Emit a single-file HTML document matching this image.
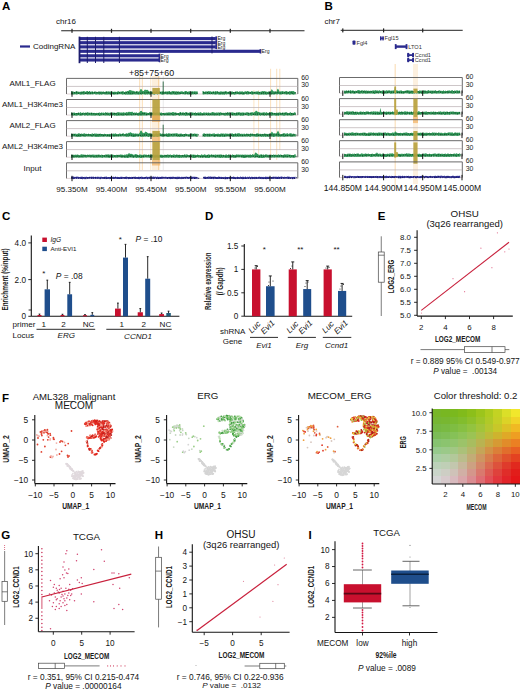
<!DOCTYPE html>
<html><head><meta charset="utf-8"><style>
html,body{margin:0;padding:0;background:#fff;overflow:hidden;width:520px;height:691px;}
svg{display:block;font-family:"Liberation Sans", sans-serif;}
</style></head><body>
<svg width="520" height="691" viewBox="0 0 520 691">
<rect width="520" height="691" fill="#fff"/>
<text x="2.00" y="10.00" font-size="11.5" font-weight="bold" fill="#000">A</text>
<text x="56.00" y="24.00" font-size="8" fill="#141414">chr16</text>
<line x1="61.20" y1="30.80" x2="304.50" y2="30.80" stroke="#222" stroke-width="1.1"/>
<rect x="71.40" y="28.80" width="1.20" height="4.00" fill="#222"/>
<rect x="110.90" y="28.80" width="1.20" height="4.00" fill="#222"/>
<rect x="150.40" y="28.80" width="1.20" height="4.00" fill="#222"/>
<rect x="190.10" y="28.80" width="1.20" height="4.00" fill="#222"/>
<rect x="229.70" y="28.80" width="1.20" height="4.00" fill="#222"/>
<rect x="269.40" y="28.80" width="1.20" height="4.00" fill="#222"/>
<line x1="20.00" y1="46.50" x2="30.00" y2="46.50" stroke="#2a2a8e" stroke-width="2.2"/>
<text x="33.00" y="49.40" font-size="8" fill="#141414">CodingRNA</text>
<rect x="79.00" y="37.05" width="136.80" height="3.10" fill="#2a2a8e"/>
<path d="M215.3,36.6 L217.1,36.2 L217.1,41.0 L215.3,40.6 Z" fill="#2a2a8e"/>
<text x="217.40" y="40.40" font-size="5.1" fill="#222">Erg</text>
<rect x="79.00" y="41.15" width="136.80" height="3.10" fill="#2a2a8e"/>
<path d="M215.3,40.7 L217.1,40.3 L217.1,45.1 L215.3,44.7 Z" fill="#2a2a8e"/>
<text x="217.40" y="44.50" font-size="5.1" fill="#222">Erg</text>
<rect x="79.00" y="45.35" width="136.80" height="3.10" fill="#2a2a8e"/>
<path d="M215.3,44.9 L217.1,44.5 L217.1,49.3 L215.3,48.9 Z" fill="#2a2a8e"/>
<text x="217.40" y="48.70" font-size="5.1" fill="#222">Erg</text>
<rect x="79.00" y="49.75" width="181.00" height="3.10" fill="#2a2a8e"/>
<path d="M259.5,49.3 L261.3,48.9 L261.3,53.7 L259.5,53.3 Z" fill="#2a2a8e"/>
<text x="261.60" y="53.10" font-size="5.1" fill="#222">Erg</text>
<rect x="79.00" y="54.25" width="80.00" height="3.10" fill="#2a2a8e"/>
<path d="M158.5,53.8 L160.3,53.4 L160.3,58.2 L158.5,57.8 Z" fill="#2a2a8e"/>
<text x="160.60" y="57.60" font-size="5.1" fill="#222">Erg</text>
<rect x="79.00" y="58.45" width="80.00" height="3.10" fill="#2a2a8e"/>
<path d="M158.5,58.0 L160.3,57.6 L160.3,62.4 L158.5,62.0 Z" fill="#2a2a8e"/>
<text x="160.60" y="61.80" font-size="5.1" fill="#222">Erg</text>
<rect x="78.60" y="36.60" width="1.80" height="26.60" fill="#1c1c6e"/>
<rect x="86.80" y="36.80" width="1.00" height="26.20" fill="#1c1c6e"/>
<rect x="95.00" y="36.80" width="1.00" height="26.20" fill="#1c1c6e"/>
<rect x="103.30" y="36.80" width="1.00" height="26.20" fill="#1c1c6e"/>
<rect x="118.90" y="36.80" width="1.00" height="26.20" fill="#1c1c6e"/>
<rect x="211.50" y="36.50" width="1.00" height="4.20" fill="#1c1c6e"/>
<rect x="211.50" y="40.60" width="1.00" height="4.20" fill="#1c1c6e"/>
<rect x="211.50" y="44.80" width="1.00" height="4.20" fill="#1c1c6e"/>
<rect x="211.50" y="49.20" width="1.00" height="4.20" fill="#1c1c6e"/>
<text x="129.00" y="76.00" font-size="8.9" fill="#141414">+85+75+60</text>
<text x="32.50" y="86.20" font-size="8" text-anchor="middle" fill="#141414">AML1_FLAG</text>
<text x="32.50" y="107.30" font-size="8" text-anchor="middle" fill="#141414">AML1_H3K4me3</text>
<text x="32.50" y="128.40" font-size="8" text-anchor="middle" fill="#141414">AML2_FLAG</text>
<text x="32.50" y="149.40" font-size="8" text-anchor="middle" fill="#141414">AML2_H3K4me3</text>
<text x="32.50" y="170.60" font-size="8" text-anchor="middle" fill="#141414">Input</text>
<rect x="139.20" y="76.00" width="1.00" height="94.00" fill="#f6b45a" opacity="0.45"/>
<rect x="141.80" y="76.00" width="1.00" height="94.00" fill="#f6b45a" opacity="0.45"/>
<rect x="150.30" y="76.00" width="0.90" height="94.00" fill="#f6b45a" opacity="0.35"/>
<rect x="152.00" y="76.00" width="8.20" height="94.00" fill="#f4b460" opacity="0.22"/>
<rect x="158.00" y="76.00" width="1.00" height="94.00" fill="#f6b45a" opacity="0.4"/>
<rect x="162.80" y="76.00" width="0.80" height="94.00" fill="#bbbbbb" opacity="0.4"/>
<rect x="253.40" y="90.00" width="1.00" height="68.00" fill="#f6b45a" opacity="0.35"/>
<rect x="258.10" y="90.00" width="1.00" height="68.00" fill="#f6b45a" opacity="0.35"/>
<rect x="270.10" y="68.80" width="1.00" height="91.20" fill="#f6b45a" opacity="0.4"/>
<rect x="276.20" y="68.80" width="1.00" height="91.20" fill="#f6b45a" opacity="0.4"/>
<rect x="279.30" y="68.80" width="1.00" height="81.20" fill="#f6b45a" opacity="0.4"/>
<line x1="66.50" y1="94.00" x2="297.80" y2="94.00" stroke="#d8c8cc" stroke-width="0.8"/>
<path d="M66.5,94.0 V78.4 H297.8 V94.0" fill="none" stroke="#5a5a5a" stroke-width="0.9"/>
<line x1="66.50" y1="86.40" x2="297.80" y2="86.40" stroke="#b8aeb0" stroke-width="0.7"/>
<polygon points="71.0,91.6 71.7,91.0 72.4,91.5 73.1,91.8 73.8,91.4 74.5,91.9 75.2,91.9 75.9,91.3 76.6,91.0 77.3,91.3 78.0,91.9 78.7,91.5 79.4,91.8 80.1,92.0 80.8,91.6 81.5,91.5 82.2,91.5 82.9,91.5 83.6,91.0 84.3,91.1 85.0,91.7 85.7,91.7 86.4,91.2 87.1,91.1 87.8,91.0 88.5,92.0 89.2,91.1 89.9,91.0 90.6,92.0 91.3,91.2 92.0,91.9 92.7,91.0 93.4,91.9 94.1,91.9 94.8,91.2 95.5,91.4 96.2,91.8 96.9,91.9 97.6,91.9 98.3,91.8 99.0,91.0 99.7,91.7 100.4,91.8 101.1,91.1 101.8,91.9 102.5,91.8 103.2,91.2 103.9,91.7 104.6,91.9 105.3,91.8 106.0,91.6 106.7,91.0 107.4,91.4 108.1,91.8 108.8,91.1 109.5,91.8 110.2,91.2 110.9,91.8 111.6,91.1 112.3,91.6 113.0,92.0 113.7,91.8 114.4,91.8 115.1,91.4 115.8,91.9 116.5,92.0 117.2,91.4 117.9,91.4 118.6,91.0 119.3,92.0 120.0,91.6 120.7,91.8 121.4,91.4 122.1,91.6 122.8,91.0 123.5,91.3 124.2,91.9 124.9,92.0 125.6,91.2 126.3,91.8 127.0,91.1 127.7,91.1 128.4,91.1 129.1,90.2 129.8,90.0 130.5,90.0 131.2,90.7 131.9,90.3 132.6,91.1 133.3,90.8 134.0,91.2 134.7,91.3 135.4,91.9 136.1,91.0 136.8,91.2 137.5,91.2 138.2,91.5 138.9,91.7 139.6,91.1 140.3,89.6 141.0,88.8 141.7,89.4 142.4,90.7 143.1,91.1 143.8,91.1 144.5,89.8 145.2,89.8 145.9,89.7 146.6,90.0 147.3,89.8 148.0,90.3 148.7,91.0 149.4,91.7 150.1,91.1 150.8,91.3 151.5,91.7 152.2,91.6 152.9,91.8 153.6,91.4 154.3,91.7 155.0,91.0 155.7,92.0 156.4,91.1 157.1,91.3 157.8,91.7 158.5,92.0 159.2,91.5 159.9,91.1 160.6,91.9 161.3,91.4 162.0,91.4 162.7,91.2 163.4,91.3 164.1,91.5 164.8,92.0 165.5,91.3 166.2,91.7 166.9,91.3 167.6,91.4 168.3,91.6 169.0,91.1 169.7,91.0 170.4,91.9 171.1,91.4 171.8,91.6 172.5,91.1 173.2,91.0 173.9,91.3 174.6,91.3 175.3,91.3 176.0,91.8 176.7,91.0 177.4,91.5 178.1,91.7 178.8,91.1 179.5,92.0 180.2,91.4 180.9,91.5 181.6,91.2 182.3,91.2 183.0,91.7 183.7,91.9 184.4,91.5 185.1,91.1 185.8,91.0 186.5,91.0 187.2,91.8 187.9,91.7 188.6,91.4 189.3,91.1 190.0,91.7 190.7,91.1 191.4,91.8 192.1,91.0 192.8,91.4 193.5,91.5 194.2,91.4 194.9,91.0 195.6,91.6 196.3,91.4 197.0,91.3 197.7,91.5 197.7,94.3 197.0,94.1 196.3,94.4 195.6,94.6 194.9,94.4 194.2,94.0 193.5,94.4 192.8,94.2 192.1,94.4 191.4,94.7 190.7,94.7 190.0,94.3 189.3,94.4 188.6,94.4 187.9,94.6 187.2,94.4 186.5,94.1 185.8,94.4 185.1,94.6 184.4,94.6 183.7,94.1 183.0,94.6 182.3,94.1 181.6,94.1 180.9,94.0 180.2,94.6 179.5,94.4 178.8,94.3 178.1,94.7 177.4,94.6 176.7,94.8 176.0,94.7 175.3,94.6 174.6,94.7 173.9,94.2 173.2,94.4 172.5,94.6 171.8,94.5 171.1,94.7 170.4,94.4 169.7,94.6 169.0,94.1 168.3,94.6 167.6,94.6 166.9,94.4 166.2,94.3 165.5,94.1 164.8,94.4 164.1,94.1 163.4,94.2 162.7,94.8 162.0,94.5 161.3,94.4 160.6,94.0 159.9,94.2 159.2,94.0 158.5,94.1 157.8,94.6 157.1,94.5 156.4,94.0 155.7,94.0 155.0,94.4 154.3,94.7 153.6,94.4 152.9,94.3 152.2,94.2 151.5,94.1 150.8,94.8 150.1,94.7 149.4,94.4 148.7,94.3 148.0,94.3 147.3,94.7 146.6,94.3 145.9,94.5 145.2,94.7 144.5,94.5 143.8,94.1 143.1,94.5 142.4,94.0 141.7,94.7 141.0,94.4 140.3,94.2 139.6,94.5 138.9,94.6 138.2,94.7 137.5,94.5 136.8,94.3 136.1,94.7 135.4,94.5 134.7,94.5 134.0,94.3 133.3,94.5 132.6,94.6 131.9,94.7 131.2,94.5 130.5,94.7 129.8,94.6 129.1,94.7 128.4,94.4 127.7,94.8 127.0,94.6 126.3,94.5 125.6,94.8 124.9,94.7 124.2,94.0 123.5,94.5 122.8,94.5 122.1,94.7 121.4,94.1 120.7,94.3 120.0,94.0 119.3,94.2 118.6,94.2 117.9,94.2 117.2,94.7 116.5,94.2 115.8,94.6 115.1,94.2 114.4,94.7 113.7,94.6 113.0,94.8 112.3,94.1 111.6,94.5 110.9,94.8 110.2,94.8 109.5,94.2 108.8,94.7 108.1,94.1 107.4,94.7 106.7,94.4 106.0,94.4 105.3,94.5 104.6,94.5 103.9,94.1 103.2,94.3 102.5,94.2 101.8,94.8 101.1,94.5 100.4,94.3 99.7,94.7 99.0,94.6 98.3,94.2 97.6,94.3 96.9,94.5 96.2,94.6 95.5,94.4 94.8,94.1 94.1,94.0 93.4,94.2 92.7,94.6 92.0,94.3 91.3,94.2 90.6,94.5 89.9,94.3 89.2,94.4 88.5,94.2 87.8,94.7 87.1,94.3 86.4,94.3 85.7,94.1 85.0,94.2 84.3,94.6 83.6,94.8 82.9,94.2 82.2,94.5 81.5,94.5 80.8,94.7 80.1,94.4 79.4,94.2 78.7,94.0 78.0,94.0 77.3,94.5 76.6,94.8 75.9,94.0 75.2,94.6 74.5,94.2 73.8,94.6 73.1,94.4 72.4,94.5 71.7,94.4 71.0,94.4" fill="#349a5c"/>
<rect x="71.5" y="92.8" width="1.1" height="1.3" fill="#0a4f24" opacity="0.85"/>
<rect x="74.0" y="92.1" width="1.1" height="1.3" fill="#0a4f24" opacity="0.85"/>
<rect x="76.1" y="91.9" width="1.1" height="1.3" fill="#0a4f24" opacity="0.85"/>
<rect x="78.1" y="92.6" width="1.1" height="1.3" fill="#0a4f24" opacity="0.85"/>
<rect x="80.6" y="92.3" width="1.1" height="1.3" fill="#0a4f24" opacity="0.85"/>
<rect x="82.5" y="92.0" width="1.1" height="1.3" fill="#0a4f24" opacity="0.85"/>
<rect x="84.8" y="92.7" width="1.1" height="1.3" fill="#0a4f24" opacity="0.85"/>
<rect x="86.5" y="92.6" width="1.1" height="1.3" fill="#0a4f24" opacity="0.85"/>
<rect x="88.1" y="92.0" width="1.1" height="1.3" fill="#0a4f24" opacity="0.85"/>
<rect x="89.9" y="92.5" width="1.1" height="1.3" fill="#0a4f24" opacity="0.85"/>
<rect x="91.9" y="92.2" width="1.1" height="1.3" fill="#0a4f24" opacity="0.85"/>
<rect x="94.1" y="91.9" width="1.1" height="1.3" fill="#0a4f24" opacity="0.85"/>
<rect x="96.4" y="91.9" width="1.1" height="1.3" fill="#0a4f24" opacity="0.85"/>
<rect x="98.5" y="92.1" width="1.1" height="1.3" fill="#0a4f24" opacity="0.85"/>
<rect x="100.3" y="92.3" width="1.1" height="1.3" fill="#0a4f24" opacity="0.85"/>
<rect x="102.4" y="92.2" width="1.1" height="1.3" fill="#0a4f24" opacity="0.85"/>
<rect x="104.4" y="92.3" width="1.1" height="1.3" fill="#0a4f24" opacity="0.85"/>
<rect x="106.1" y="92.0" width="1.1" height="1.3" fill="#0a4f24" opacity="0.85"/>
<rect x="108.4" y="92.4" width="1.1" height="1.3" fill="#0a4f24" opacity="0.85"/>
<rect x="110.5" y="92.7" width="1.1" height="1.3" fill="#0a4f24" opacity="0.85"/>
<rect x="112.7" y="92.7" width="1.1" height="1.3" fill="#0a4f24" opacity="0.85"/>
<rect x="114.5" y="92.6" width="1.1" height="1.3" fill="#0a4f24" opacity="0.85"/>
<rect x="117.0" y="92.7" width="1.1" height="1.3" fill="#0a4f24" opacity="0.85"/>
<rect x="118.9" y="92.1" width="1.1" height="1.3" fill="#0a4f24" opacity="0.85"/>
<rect x="121.4" y="92.0" width="1.1" height="1.3" fill="#0a4f24" opacity="0.85"/>
<rect x="124.0" y="92.7" width="1.1" height="1.3" fill="#0a4f24" opacity="0.85"/>
<rect x="125.7" y="92.0" width="1.1" height="1.3" fill="#0a4f24" opacity="0.85"/>
<rect x="128.0" y="92.1" width="1.1" height="1.3" fill="#0a4f24" opacity="0.85"/>
<rect x="129.7" y="92.6" width="1.1" height="1.3" fill="#0a4f24" opacity="0.85"/>
<rect x="131.8" y="92.6" width="1.1" height="1.3" fill="#0a4f24" opacity="0.85"/>
<rect x="133.5" y="92.2" width="1.1" height="1.3" fill="#0a4f24" opacity="0.85"/>
<rect x="135.8" y="91.8" width="1.1" height="1.3" fill="#0a4f24" opacity="0.85"/>
<rect x="137.6" y="92.5" width="1.1" height="1.3" fill="#0a4f24" opacity="0.85"/>
<rect x="140.1" y="92.8" width="1.1" height="1.3" fill="#0a4f24" opacity="0.85"/>
<rect x="141.8" y="92.3" width="1.1" height="1.3" fill="#0a4f24" opacity="0.85"/>
<rect x="144.2" y="92.3" width="1.1" height="1.3" fill="#0a4f24" opacity="0.85"/>
<rect x="146.5" y="92.0" width="1.1" height="1.3" fill="#0a4f24" opacity="0.85"/>
<rect x="148.1" y="91.9" width="1.1" height="1.3" fill="#0a4f24" opacity="0.85"/>
<rect x="149.8" y="92.4" width="1.1" height="1.3" fill="#0a4f24" opacity="0.85"/>
<rect x="151.9" y="92.4" width="1.1" height="1.3" fill="#0a4f24" opacity="0.85"/>
<rect x="153.6" y="92.0" width="1.1" height="1.3" fill="#0a4f24" opacity="0.85"/>
<rect x="155.4" y="92.7" width="1.1" height="1.3" fill="#0a4f24" opacity="0.85"/>
<rect x="158.0" y="92.7" width="1.1" height="1.3" fill="#0a4f24" opacity="0.85"/>
<rect x="159.7" y="91.9" width="1.1" height="1.3" fill="#0a4f24" opacity="0.85"/>
<rect x="162.3" y="92.3" width="1.1" height="1.3" fill="#0a4f24" opacity="0.85"/>
<rect x="164.6" y="92.1" width="1.1" height="1.3" fill="#0a4f24" opacity="0.85"/>
<rect x="166.7" y="92.3" width="1.1" height="1.3" fill="#0a4f24" opacity="0.85"/>
<rect x="168.7" y="92.4" width="1.1" height="1.3" fill="#0a4f24" opacity="0.85"/>
<rect x="170.3" y="92.5" width="1.1" height="1.3" fill="#0a4f24" opacity="0.85"/>
<rect x="172.8" y="92.0" width="1.1" height="1.3" fill="#0a4f24" opacity="0.85"/>
<rect x="174.8" y="92.5" width="1.1" height="1.3" fill="#0a4f24" opacity="0.85"/>
<rect x="176.8" y="92.0" width="1.1" height="1.3" fill="#0a4f24" opacity="0.85"/>
<rect x="178.6" y="92.3" width="1.1" height="1.3" fill="#0a4f24" opacity="0.85"/>
<rect x="180.2" y="92.7" width="1.1" height="1.3" fill="#0a4f24" opacity="0.85"/>
<rect x="182.6" y="92.5" width="1.1" height="1.3" fill="#0a4f24" opacity="0.85"/>
<rect x="185.1" y="92.4" width="1.1" height="1.3" fill="#0a4f24" opacity="0.85"/>
<rect x="187.1" y="92.4" width="1.1" height="1.3" fill="#0a4f24" opacity="0.85"/>
<rect x="189.2" y="92.8" width="1.1" height="1.3" fill="#0a4f24" opacity="0.85"/>
<rect x="191.6" y="92.1" width="1.1" height="1.3" fill="#0a4f24" opacity="0.85"/>
<rect x="194.1" y="92.6" width="1.1" height="1.3" fill="#0a4f24" opacity="0.85"/>
<rect x="196.5" y="92.6" width="1.1" height="1.3" fill="#0a4f24" opacity="0.85"/>
<line x1="163.20" y1="94.50" x2="163.20" y2="81.50" stroke="#0a4f24" stroke-width="0.8"/>
<polygon points="202.5,91.1 203.2,91.0 203.9,91.6 204.6,91.9 205.3,91.6 206.0,91.3 206.7,91.6 207.4,91.8 208.1,91.1 208.8,91.2 209.5,91.2 210.2,91.4 210.9,91.1 211.6,91.9 212.3,91.5 213.0,91.8 213.7,91.0 214.4,92.0 215.1,91.0 215.8,91.3 216.5,91.5 217.2,91.1 217.9,91.3 218.6,91.9 219.3,91.9 220.0,91.2 220.7,91.4 221.4,91.6 222.1,91.3 222.8,91.9 223.5,91.6 224.2,91.5 224.9,91.4 225.6,91.0 226.3,91.0 227.0,91.9 227.7,91.7 228.4,92.0 229.1,91.1 229.8,91.4 230.5,91.6 231.2,91.4 231.9,91.5 232.6,91.6 233.3,91.9 234.0,91.9 234.7,91.9 235.4,91.2 236.1,92.0 236.8,91.0 237.5,91.2 238.2,92.0 238.9,91.7 239.6,91.3 240.3,91.4 241.0,91.6 241.7,91.4 242.4,91.3 243.1,91.7 243.8,91.9 244.5,91.5 245.2,91.4 245.9,91.1 246.6,91.8 247.3,91.0 248.0,91.1 248.7,91.4 249.4,91.8 250.1,91.7 250.8,92.0 251.5,91.1 252.2,91.2 252.9,91.5 253.6,91.7 254.3,91.7 255.0,92.0 255.7,91.4 256.4,91.5 257.1,91.2 257.8,91.6 258.5,91.3 259.2,92.0 259.9,91.8 260.6,91.8 261.3,91.5 262.0,91.2 262.7,91.1 263.4,91.3 264.1,91.2 264.8,91.1 265.5,91.6 266.2,91.6 266.9,91.8 267.6,91.9 268.3,91.2 269.0,91.7 269.7,91.4 270.4,91.4 271.1,90.6 271.8,89.1 272.5,90.2 273.2,91.0 273.9,91.6 274.6,91.5 275.3,91.0 276.0,91.7 276.7,91.4 277.4,88.9 278.1,88.8 278.8,89.9 279.5,91.6 280.2,91.8 280.9,91.1 281.6,91.6 282.3,91.0 283.0,91.3 283.7,91.4 284.4,92.0 285.1,91.3 285.8,91.3 286.5,91.1 287.2,91.2 287.9,92.0 288.6,91.8 289.3,91.3 290.0,91.1 290.7,91.4 291.4,91.0 292.1,91.2 292.8,91.0 293.5,91.0 294.2,91.4 294.9,91.9 295.6,92.0 295.6,94.5 294.9,94.2 294.2,94.4 293.5,94.7 292.8,94.5 292.1,94.2 291.4,94.3 290.7,94.4 290.0,94.7 289.3,94.7 288.6,94.0 287.9,94.4 287.2,94.2 286.5,94.7 285.8,94.2 285.1,94.2 284.4,94.2 283.7,94.0 283.0,94.2 282.3,94.1 281.6,94.4 280.9,94.4 280.2,94.4 279.5,94.5 278.8,94.1 278.1,94.0 277.4,94.5 276.7,94.6 276.0,94.0 275.3,94.3 274.6,94.4 273.9,94.5 273.2,94.5 272.5,94.3 271.8,94.5 271.1,94.7 270.4,94.4 269.7,94.6 269.0,94.2 268.3,94.6 267.6,94.2 266.9,94.8 266.2,94.7 265.5,94.4 264.8,94.6 264.1,94.4 263.4,94.7 262.7,94.3 262.0,94.7 261.3,94.6 260.6,94.6 259.9,94.7 259.2,94.4 258.5,94.7 257.8,94.6 257.1,94.2 256.4,94.2 255.7,94.2 255.0,94.2 254.3,94.1 253.6,94.2 252.9,94.7 252.2,94.5 251.5,94.5 250.8,94.1 250.1,94.1 249.4,94.1 248.7,94.5 248.0,94.3 247.3,94.6 246.6,94.4 245.9,94.0 245.2,94.1 244.5,94.5 243.8,94.7 243.1,94.5 242.4,94.8 241.7,94.3 241.0,94.2 240.3,94.3 239.6,94.5 238.9,94.2 238.2,94.3 237.5,94.1 236.8,94.3 236.1,94.2 235.4,94.4 234.7,94.7 234.0,94.8 233.3,94.2 232.6,94.2 231.9,94.8 231.2,94.6 230.5,94.6 229.8,94.7 229.1,94.1 228.4,94.3 227.7,94.0 227.0,94.5 226.3,94.6 225.6,94.1 224.9,94.8 224.2,94.8 223.5,94.5 222.8,94.6 222.1,94.7 221.4,94.2 220.7,94.8 220.0,94.4 219.3,94.8 218.6,94.6 217.9,94.6 217.2,94.1 216.5,94.4 215.8,94.6 215.1,94.7 214.4,94.5 213.7,94.0 213.0,94.8 212.3,94.2 211.6,94.1 210.9,94.6 210.2,94.3 209.5,94.2 208.8,94.3 208.1,94.3 207.4,94.6 206.7,94.2 206.0,94.3 205.3,94.2 204.6,94.2 203.9,94.5 203.2,94.4 202.5,94.2" fill="#349a5c"/>
<rect x="203.0" y="92.0" width="1.1" height="1.3" fill="#0a4f24" opacity="0.85"/>
<rect x="204.6" y="92.4" width="1.1" height="1.3" fill="#0a4f24" opacity="0.85"/>
<rect x="206.9" y="91.9" width="1.1" height="1.3" fill="#0a4f24" opacity="0.85"/>
<rect x="208.7" y="92.7" width="1.1" height="1.3" fill="#0a4f24" opacity="0.85"/>
<rect x="211.0" y="92.6" width="1.1" height="1.3" fill="#0a4f24" opacity="0.85"/>
<rect x="212.9" y="91.9" width="1.1" height="1.3" fill="#0a4f24" opacity="0.85"/>
<rect x="215.1" y="92.4" width="1.1" height="1.3" fill="#0a4f24" opacity="0.85"/>
<rect x="217.3" y="91.9" width="1.1" height="1.3" fill="#0a4f24" opacity="0.85"/>
<rect x="219.5" y="92.7" width="1.1" height="1.3" fill="#0a4f24" opacity="0.85"/>
<rect x="221.6" y="92.3" width="1.1" height="1.3" fill="#0a4f24" opacity="0.85"/>
<rect x="223.4" y="92.2" width="1.1" height="1.3" fill="#0a4f24" opacity="0.85"/>
<rect x="225.2" y="91.9" width="1.1" height="1.3" fill="#0a4f24" opacity="0.85"/>
<rect x="227.8" y="92.1" width="1.1" height="1.3" fill="#0a4f24" opacity="0.85"/>
<rect x="229.5" y="92.4" width="1.1" height="1.3" fill="#0a4f24" opacity="0.85"/>
<rect x="231.3" y="92.6" width="1.1" height="1.3" fill="#0a4f24" opacity="0.85"/>
<rect x="233.1" y="92.1" width="1.1" height="1.3" fill="#0a4f24" opacity="0.85"/>
<rect x="235.0" y="91.9" width="1.1" height="1.3" fill="#0a4f24" opacity="0.85"/>
<rect x="237.4" y="92.4" width="1.1" height="1.3" fill="#0a4f24" opacity="0.85"/>
<rect x="239.6" y="92.8" width="1.1" height="1.3" fill="#0a4f24" opacity="0.85"/>
<rect x="241.3" y="92.6" width="1.1" height="1.3" fill="#0a4f24" opacity="0.85"/>
<rect x="243.2" y="92.7" width="1.1" height="1.3" fill="#0a4f24" opacity="0.85"/>
<rect x="245.8" y="92.2" width="1.1" height="1.3" fill="#0a4f24" opacity="0.85"/>
<rect x="248.2" y="92.2" width="1.1" height="1.3" fill="#0a4f24" opacity="0.85"/>
<rect x="250.0" y="92.2" width="1.1" height="1.3" fill="#0a4f24" opacity="0.85"/>
<rect x="252.2" y="92.3" width="1.1" height="1.3" fill="#0a4f24" opacity="0.85"/>
<rect x="254.2" y="91.9" width="1.1" height="1.3" fill="#0a4f24" opacity="0.85"/>
<rect x="256.5" y="92.5" width="1.1" height="1.3" fill="#0a4f24" opacity="0.85"/>
<rect x="258.7" y="92.0" width="1.1" height="1.3" fill="#0a4f24" opacity="0.85"/>
<rect x="261.0" y="92.6" width="1.1" height="1.3" fill="#0a4f24" opacity="0.85"/>
<rect x="262.9" y="92.1" width="1.1" height="1.3" fill="#0a4f24" opacity="0.85"/>
<rect x="265.0" y="92.4" width="1.1" height="1.3" fill="#0a4f24" opacity="0.85"/>
<rect x="267.5" y="92.6" width="1.1" height="1.3" fill="#0a4f24" opacity="0.85"/>
<rect x="269.1" y="92.1" width="1.1" height="1.3" fill="#0a4f24" opacity="0.85"/>
<rect x="271.3" y="92.7" width="1.1" height="1.3" fill="#0a4f24" opacity="0.85"/>
<rect x="273.6" y="92.6" width="1.1" height="1.3" fill="#0a4f24" opacity="0.85"/>
<rect x="275.3" y="92.1" width="1.1" height="1.3" fill="#0a4f24" opacity="0.85"/>
<rect x="277.3" y="91.9" width="1.1" height="1.3" fill="#0a4f24" opacity="0.85"/>
<rect x="279.6" y="92.4" width="1.1" height="1.3" fill="#0a4f24" opacity="0.85"/>
<rect x="281.9" y="92.5" width="1.1" height="1.3" fill="#0a4f24" opacity="0.85"/>
<rect x="284.2" y="91.8" width="1.1" height="1.3" fill="#0a4f24" opacity="0.85"/>
<rect x="286.3" y="92.4" width="1.1" height="1.3" fill="#0a4f24" opacity="0.85"/>
<rect x="288.1" y="92.1" width="1.1" height="1.3" fill="#0a4f24" opacity="0.85"/>
<rect x="290.6" y="91.9" width="1.1" height="1.3" fill="#0a4f24" opacity="0.85"/>
<rect x="292.2" y="92.7" width="1.1" height="1.3" fill="#0a4f24" opacity="0.85"/>
<rect x="294.7" y="92.2" width="1.1" height="1.3" fill="#0a4f24" opacity="0.85"/>
<rect x="152.40" y="88.00" width="7.40" height="6.00" fill="#b9a23e" opacity="0.92"/>
<line x1="72.00" y1="91.40" x2="72.00" y2="96.80" stroke="#111" stroke-width="1.0"/>
<line x1="111.50" y1="91.40" x2="111.50" y2="96.80" stroke="#111" stroke-width="1.0"/>
<line x1="151.00" y1="91.40" x2="151.00" y2="96.80" stroke="#111" stroke-width="1.0"/>
<line x1="190.70" y1="91.40" x2="190.70" y2="96.80" stroke="#111" stroke-width="1.0"/>
<line x1="230.30" y1="91.40" x2="230.30" y2="96.80" stroke="#111" stroke-width="1.0"/>
<line x1="270.00" y1="91.40" x2="270.00" y2="96.80" stroke="#111" stroke-width="1.0"/>
<text x="301.20" y="79.80" font-size="6.9" fill="#222">60</text>
<text x="301.20" y="87.40" font-size="6.9" fill="#222">30</text>
<line x1="66.50" y1="115.10" x2="297.80" y2="115.10" stroke="#d8c8cc" stroke-width="0.8"/>
<path d="M66.5,115.1 V99.5 H297.8 V115.1" fill="none" stroke="#5a5a5a" stroke-width="0.9"/>
<line x1="66.50" y1="107.50" x2="297.80" y2="107.50" stroke="#b8aeb0" stroke-width="0.7"/>
<polygon points="71.0,112.6 71.7,112.4 72.4,113.1 73.1,112.8 73.8,112.4 74.5,112.5 75.2,113.0 75.9,113.0 76.6,113.1 77.3,113.1 78.0,112.8 78.7,112.2 79.4,113.1 80.1,112.6 80.8,112.1 81.5,113.0 82.2,113.0 82.9,112.5 83.6,112.4 84.3,113.0 85.0,112.7 85.7,112.5 86.4,112.7 87.1,112.4 87.8,112.1 88.5,112.8 89.2,112.4 89.9,113.0 90.6,112.7 91.3,112.3 92.0,113.1 92.7,112.7 93.4,112.9 94.1,112.7 94.8,113.0 95.5,112.9 96.2,113.1 96.9,112.8 97.6,113.1 98.3,112.9 99.0,112.6 99.7,112.6 100.4,113.0 101.1,112.7 101.8,112.3 102.5,113.1 103.2,112.3 103.9,112.9 104.6,113.1 105.3,112.1 106.0,112.6 106.7,112.8 107.4,112.2 108.1,112.9 108.8,112.6 109.5,112.9 110.2,112.2 110.9,112.8 111.6,112.8 112.3,112.6 113.0,112.4 113.7,112.8 114.4,112.4 115.1,113.0 115.8,112.7 116.5,112.7 117.2,112.5 117.9,112.1 118.6,112.3 119.3,112.5 120.0,112.3 120.7,112.8 121.4,112.3 122.1,113.1 122.8,112.2 123.5,112.2 124.2,112.5 124.9,112.7 125.6,112.7 126.3,112.0 127.0,112.2 127.7,112.5 128.4,111.7 129.1,112.0 129.8,111.8 130.5,112.0 131.2,112.0 131.9,111.7 132.6,111.7 133.3,112.9 134.0,112.5 134.7,112.4 135.4,112.9 136.1,112.1 136.8,112.7 137.5,112.9 138.2,112.9 138.9,112.4 139.6,112.2 140.3,110.9 141.0,110.9 141.7,110.7 142.4,112.1 143.1,112.1 143.8,112.4 144.5,112.1 145.2,112.4 145.9,112.3 146.6,112.6 147.3,112.8 148.0,112.9 148.7,112.9 149.4,112.3 150.1,112.1 150.8,112.7 151.5,112.2 152.2,113.0 152.9,112.2 153.6,112.3 154.3,112.5 155.0,112.7 155.7,112.7 156.4,112.3 157.1,112.9 157.8,112.1 158.5,113.1 159.2,112.2 159.9,112.8 160.6,112.8 161.3,112.2 162.0,112.9 162.7,113.1 163.4,113.1 164.1,113.0 164.8,112.8 165.5,112.9 166.2,112.2 166.9,113.0 167.6,112.6 168.3,112.6 169.0,112.3 169.7,112.5 170.4,112.5 171.1,112.7 171.8,112.4 172.5,112.1 173.2,112.2 173.9,112.1 174.6,112.7 175.3,112.5 176.0,112.2 176.7,113.1 177.4,113.0 178.1,113.1 178.8,113.0 179.5,112.5 180.2,112.1 180.9,112.1 181.6,112.9 182.3,112.6 183.0,112.3 183.7,112.6 184.4,112.9 185.1,112.5 185.8,112.1 186.5,112.1 187.2,112.8 187.9,112.5 188.6,113.1 189.3,112.6 190.0,112.2 190.7,112.8 191.4,112.2 192.1,112.6 192.8,112.5 193.5,112.7 194.2,112.7 194.9,113.0 195.6,112.1 196.3,112.9 197.0,113.0 197.7,112.5 198.4,112.5 199.1,112.5 199.8,112.8 200.5,112.1 201.2,112.6 201.9,113.0 202.6,112.9 203.3,112.7 204.0,112.1 204.7,112.8 205.4,112.7 206.1,112.4 206.8,112.4 207.5,112.9 208.2,112.1 208.9,113.0 209.6,112.8 210.3,112.9 211.0,112.5 211.7,112.5 212.4,112.1 213.1,112.1 213.8,112.6 214.5,112.4 215.2,112.9 215.9,112.4 216.6,112.4 217.3,112.4 218.0,112.8 218.7,112.2 219.4,112.7 220.1,112.2 220.8,112.2 221.5,112.8 222.2,112.7 222.9,113.1 223.6,112.8 224.3,113.0 225.0,112.7 225.7,112.5 226.4,113.0 227.1,112.2 227.8,112.1 228.5,112.7 229.2,112.2 229.9,112.5 230.6,112.9 231.3,112.2 232.0,112.5 232.7,112.2 233.4,112.4 234.1,113.1 234.8,112.8 235.5,113.1 236.2,112.6 236.9,112.2 237.6,112.5 238.3,112.2 239.0,112.2 239.7,112.3 240.4,112.5 241.1,112.9 241.8,112.3 242.5,112.6 243.2,112.4 243.9,112.4 244.6,112.8 245.3,113.0 246.0,112.1 246.7,112.5 247.4,112.1 248.1,112.9 248.8,112.2 249.5,112.9 250.2,112.4 250.9,112.5 251.6,112.3 252.3,112.3 253.0,112.3 253.7,112.8 254.4,111.9 255.1,111.7 255.8,110.7 256.5,110.8 257.2,111.6 257.9,111.8 258.6,112.1 259.3,112.1 260.0,112.8 260.7,112.4 261.4,112.9 262.1,112.1 262.8,113.0 263.5,112.3 264.2,112.1 264.9,112.7 265.6,112.8 266.3,112.1 267.0,112.4 267.7,112.9 268.4,113.1 269.1,112.6 269.8,112.1 270.5,112.4 271.2,112.3 271.9,112.1 272.6,112.4 273.3,113.0 274.0,112.7 274.7,112.9 275.4,113.0 276.1,112.8 276.8,112.4 277.5,112.7 278.2,112.9 278.9,112.2 279.6,112.4 280.3,112.6 281.0,112.8 281.7,113.0 282.4,112.4 283.1,112.2 283.8,113.0 284.5,112.5 285.2,112.5 285.9,112.1 286.6,112.2 287.3,112.8 288.0,112.9 288.7,112.9 289.4,113.0 290.1,112.1 290.8,112.4 291.5,113.1 292.2,113.0 292.9,112.7 293.6,112.9 294.3,112.2 295.0,112.3 295.7,112.8 295.7,115.3 295.0,115.2 294.3,115.1 293.6,115.1 292.9,115.8 292.2,115.3 291.5,115.8 290.8,115.4 290.1,115.8 289.4,115.3 288.7,115.2 288.0,115.8 287.3,115.5 286.6,115.2 285.9,115.5 285.2,115.2 284.5,115.7 283.8,115.9 283.1,115.2 282.4,115.5 281.7,115.3 281.0,115.6 280.3,115.2 279.6,115.2 278.9,115.6 278.2,115.9 277.5,115.4 276.8,115.5 276.1,115.9 275.4,115.6 274.7,115.4 274.0,115.2 273.3,115.5 272.6,115.6 271.9,115.8 271.2,115.7 270.5,115.5 269.8,115.5 269.1,115.8 268.4,115.2 267.7,115.3 267.0,115.5 266.3,115.8 265.6,115.1 264.9,115.8 264.2,115.7 263.5,115.6 262.8,115.4 262.1,115.2 261.4,115.2 260.7,115.7 260.0,115.8 259.3,115.1 258.6,115.4 257.9,115.3 257.2,115.9 256.5,115.5 255.8,115.4 255.1,115.5 254.4,115.4 253.7,115.1 253.0,115.4 252.3,115.3 251.6,115.8 250.9,115.7 250.2,115.3 249.5,115.4 248.8,115.9 248.1,115.8 247.4,115.5 246.7,115.2 246.0,115.2 245.3,115.1 244.6,115.2 243.9,115.4 243.2,115.8 242.5,115.7 241.8,115.7 241.1,115.4 240.4,115.9 239.7,115.5 239.0,115.1 238.3,115.4 237.6,115.5 236.9,115.8 236.2,115.5 235.5,115.8 234.8,115.4 234.1,115.5 233.4,115.4 232.7,115.8 232.0,115.2 231.3,115.2 230.6,115.5 229.9,115.7 229.2,115.7 228.5,115.3 227.8,115.5 227.1,115.8 226.4,115.3 225.7,115.8 225.0,115.5 224.3,115.8 223.6,115.2 222.9,115.2 222.2,115.1 221.5,115.3 220.8,115.4 220.1,115.2 219.4,115.9 218.7,115.7 218.0,115.1 217.3,115.4 216.6,115.6 215.9,115.5 215.2,115.5 214.5,115.7 213.8,115.4 213.1,115.4 212.4,115.5 211.7,115.5 211.0,115.6 210.3,115.3 209.6,115.8 208.9,115.5 208.2,115.6 207.5,115.7 206.8,115.2 206.1,115.2 205.4,115.5 204.7,115.6 204.0,115.3 203.3,115.4 202.6,115.4 201.9,115.4 201.2,115.5 200.5,115.4 199.8,115.4 199.1,115.4 198.4,115.6 197.7,115.2 197.0,115.7 196.3,115.4 195.6,115.7 194.9,115.5 194.2,115.6 193.5,115.3 192.8,115.5 192.1,115.3 191.4,115.9 190.7,115.4 190.0,115.7 189.3,115.7 188.6,115.3 187.9,115.6 187.2,115.8 186.5,115.4 185.8,115.7 185.1,115.9 184.4,115.2 183.7,115.4 183.0,115.4 182.3,115.3 181.6,115.8 180.9,115.1 180.2,115.7 179.5,115.9 178.8,115.6 178.1,115.3 177.4,115.1 176.7,115.2 176.0,115.2 175.3,115.7 174.6,115.4 173.9,115.6 173.2,115.7 172.5,115.5 171.8,115.3 171.1,115.5 170.4,115.4 169.7,115.5 169.0,115.5 168.3,115.6 167.6,115.5 166.9,115.6 166.2,115.6 165.5,115.3 164.8,115.3 164.1,115.7 163.4,115.2 162.7,115.3 162.0,115.8 161.3,115.8 160.6,115.2 159.9,115.7 159.2,115.8 158.5,115.8 157.8,115.5 157.1,115.3 156.4,115.2 155.7,115.4 155.0,115.4 154.3,115.3 153.6,115.4 152.9,115.6 152.2,115.6 151.5,115.4 150.8,115.8 150.1,115.6 149.4,115.3 148.7,115.1 148.0,115.5 147.3,115.2 146.6,115.4 145.9,115.4 145.2,115.4 144.5,115.5 143.8,115.6 143.1,115.4 142.4,115.5 141.7,115.8 141.0,115.5 140.3,115.8 139.6,115.5 138.9,115.7 138.2,115.8 137.5,115.4 136.8,115.3 136.1,115.1 135.4,115.4 134.7,115.4 134.0,115.2 133.3,115.5 132.6,115.4 131.9,115.6 131.2,115.7 130.5,115.2 129.8,115.6 129.1,115.4 128.4,115.4 127.7,115.5 127.0,115.6 126.3,115.7 125.6,115.3 124.9,115.2 124.2,115.7 123.5,115.8 122.8,115.7 122.1,115.7 121.4,115.6 120.7,115.4 120.0,115.6 119.3,115.8 118.6,115.4 117.9,115.9 117.2,115.6 116.5,115.9 115.8,115.3 115.1,115.8 114.4,115.7 113.7,115.3 113.0,115.3 112.3,115.7 111.6,115.9 110.9,115.8 110.2,115.2 109.5,115.9 108.8,115.6 108.1,115.5 107.4,115.6 106.7,115.7 106.0,115.1 105.3,115.9 104.6,115.6 103.9,115.1 103.2,115.4 102.5,115.3 101.8,115.8 101.1,115.3 100.4,115.8 99.7,115.9 99.0,115.9 98.3,115.3 97.6,115.5 96.9,115.6 96.2,115.3 95.5,115.7 94.8,115.5 94.1,115.7 93.4,115.4 92.7,115.5 92.0,115.8 91.3,115.5 90.6,115.5 89.9,115.3 89.2,115.6 88.5,115.4 87.8,115.6 87.1,115.9 86.4,115.1 85.7,115.5 85.0,115.4 84.3,115.8 83.6,115.1 82.9,115.2 82.2,115.4 81.5,115.4 80.8,115.9 80.1,115.2 79.4,115.8 78.7,115.1 78.0,115.4 77.3,115.6 76.6,115.8 75.9,115.8 75.2,115.5 74.5,115.6 73.8,115.6 73.1,115.7 72.4,115.4 71.7,115.2 71.0,115.6" fill="#349a5c"/>
<rect x="71.5" y="113.3" width="1.1" height="1.3" fill="#0a4f24" opacity="0.85"/>
<rect x="74.0" y="113.7" width="1.1" height="1.3" fill="#0a4f24" opacity="0.85"/>
<rect x="76.2" y="113.0" width="1.1" height="1.3" fill="#0a4f24" opacity="0.85"/>
<rect x="77.9" y="113.2" width="1.1" height="1.3" fill="#0a4f24" opacity="0.85"/>
<rect x="80.3" y="113.8" width="1.1" height="1.3" fill="#0a4f24" opacity="0.85"/>
<rect x="82.0" y="113.2" width="1.1" height="1.3" fill="#0a4f24" opacity="0.85"/>
<rect x="84.5" y="113.1" width="1.1" height="1.3" fill="#0a4f24" opacity="0.85"/>
<rect x="86.2" y="113.2" width="1.1" height="1.3" fill="#0a4f24" opacity="0.85"/>
<rect x="88.7" y="113.2" width="1.1" height="1.3" fill="#0a4f24" opacity="0.85"/>
<rect x="91.0" y="113.0" width="1.1" height="1.3" fill="#0a4f24" opacity="0.85"/>
<rect x="93.3" y="113.1" width="1.1" height="1.3" fill="#0a4f24" opacity="0.85"/>
<rect x="95.5" y="113.7" width="1.1" height="1.3" fill="#0a4f24" opacity="0.85"/>
<rect x="97.9" y="113.3" width="1.1" height="1.3" fill="#0a4f24" opacity="0.85"/>
<rect x="100.5" y="113.3" width="1.1" height="1.3" fill="#0a4f24" opacity="0.85"/>
<rect x="103.1" y="113.8" width="1.1" height="1.3" fill="#0a4f24" opacity="0.85"/>
<rect x="105.7" y="113.0" width="1.1" height="1.3" fill="#0a4f24" opacity="0.85"/>
<rect x="107.5" y="113.6" width="1.1" height="1.3" fill="#0a4f24" opacity="0.85"/>
<rect x="110.0" y="113.2" width="1.1" height="1.3" fill="#0a4f24" opacity="0.85"/>
<rect x="112.4" y="113.4" width="1.1" height="1.3" fill="#0a4f24" opacity="0.85"/>
<rect x="114.0" y="113.0" width="1.1" height="1.3" fill="#0a4f24" opacity="0.85"/>
<rect x="115.6" y="113.1" width="1.1" height="1.3" fill="#0a4f24" opacity="0.85"/>
<rect x="118.1" y="113.6" width="1.1" height="1.3" fill="#0a4f24" opacity="0.85"/>
<rect x="120.6" y="113.8" width="1.1" height="1.3" fill="#0a4f24" opacity="0.85"/>
<rect x="122.6" y="113.6" width="1.1" height="1.3" fill="#0a4f24" opacity="0.85"/>
<rect x="124.8" y="113.6" width="1.1" height="1.3" fill="#0a4f24" opacity="0.85"/>
<rect x="126.5" y="113.8" width="1.1" height="1.3" fill="#0a4f24" opacity="0.85"/>
<rect x="128.3" y="113.4" width="1.1" height="1.3" fill="#0a4f24" opacity="0.85"/>
<rect x="130.6" y="113.7" width="1.1" height="1.3" fill="#0a4f24" opacity="0.85"/>
<rect x="133.0" y="113.2" width="1.1" height="1.3" fill="#0a4f24" opacity="0.85"/>
<rect x="134.9" y="113.6" width="1.1" height="1.3" fill="#0a4f24" opacity="0.85"/>
<rect x="136.6" y="113.8" width="1.1" height="1.3" fill="#0a4f24" opacity="0.85"/>
<rect x="138.5" y="113.3" width="1.1" height="1.3" fill="#0a4f24" opacity="0.85"/>
<rect x="140.4" y="113.6" width="1.1" height="1.3" fill="#0a4f24" opacity="0.85"/>
<rect x="142.2" y="113.0" width="1.1" height="1.3" fill="#0a4f24" opacity="0.85"/>
<rect x="143.8" y="113.0" width="1.1" height="1.3" fill="#0a4f24" opacity="0.85"/>
<rect x="146.0" y="113.9" width="1.1" height="1.3" fill="#0a4f24" opacity="0.85"/>
<rect x="147.7" y="113.4" width="1.1" height="1.3" fill="#0a4f24" opacity="0.85"/>
<rect x="149.6" y="113.2" width="1.1" height="1.3" fill="#0a4f24" opacity="0.85"/>
<rect x="151.6" y="113.0" width="1.1" height="1.3" fill="#0a4f24" opacity="0.85"/>
<rect x="153.6" y="113.2" width="1.1" height="1.3" fill="#0a4f24" opacity="0.85"/>
<rect x="155.2" y="113.0" width="1.1" height="1.3" fill="#0a4f24" opacity="0.85"/>
<rect x="157.8" y="113.6" width="1.1" height="1.3" fill="#0a4f24" opacity="0.85"/>
<rect x="160.3" y="113.7" width="1.1" height="1.3" fill="#0a4f24" opacity="0.85"/>
<rect x="162.7" y="113.1" width="1.1" height="1.3" fill="#0a4f24" opacity="0.85"/>
<rect x="164.4" y="113.9" width="1.1" height="1.3" fill="#0a4f24" opacity="0.85"/>
<rect x="166.7" y="113.6" width="1.1" height="1.3" fill="#0a4f24" opacity="0.85"/>
<rect x="168.4" y="113.7" width="1.1" height="1.3" fill="#0a4f24" opacity="0.85"/>
<rect x="170.6" y="113.0" width="1.1" height="1.3" fill="#0a4f24" opacity="0.85"/>
<rect x="172.4" y="113.9" width="1.1" height="1.3" fill="#0a4f24" opacity="0.85"/>
<rect x="174.6" y="113.0" width="1.1" height="1.3" fill="#0a4f24" opacity="0.85"/>
<rect x="176.3" y="113.7" width="1.1" height="1.3" fill="#0a4f24" opacity="0.85"/>
<rect x="178.2" y="113.4" width="1.1" height="1.3" fill="#0a4f24" opacity="0.85"/>
<rect x="180.0" y="113.1" width="1.1" height="1.3" fill="#0a4f24" opacity="0.85"/>
<rect x="182.1" y="113.3" width="1.1" height="1.3" fill="#0a4f24" opacity="0.85"/>
<rect x="183.8" y="113.1" width="1.1" height="1.3" fill="#0a4f24" opacity="0.85"/>
<rect x="185.9" y="113.0" width="1.1" height="1.3" fill="#0a4f24" opacity="0.85"/>
<rect x="187.6" y="113.4" width="1.1" height="1.3" fill="#0a4f24" opacity="0.85"/>
<rect x="189.2" y="113.6" width="1.1" height="1.3" fill="#0a4f24" opacity="0.85"/>
<rect x="191.6" y="113.6" width="1.1" height="1.3" fill="#0a4f24" opacity="0.85"/>
<rect x="194.1" y="113.1" width="1.1" height="1.3" fill="#0a4f24" opacity="0.85"/>
<rect x="196.1" y="113.3" width="1.1" height="1.3" fill="#0a4f24" opacity="0.85"/>
<rect x="197.8" y="113.8" width="1.1" height="1.3" fill="#0a4f24" opacity="0.85"/>
<rect x="199.5" y="113.9" width="1.1" height="1.3" fill="#0a4f24" opacity="0.85"/>
<rect x="201.7" y="113.9" width="1.1" height="1.3" fill="#0a4f24" opacity="0.85"/>
<rect x="203.4" y="113.8" width="1.1" height="1.3" fill="#0a4f24" opacity="0.85"/>
<rect x="206.0" y="113.7" width="1.1" height="1.3" fill="#0a4f24" opacity="0.85"/>
<rect x="208.1" y="113.6" width="1.1" height="1.3" fill="#0a4f24" opacity="0.85"/>
<rect x="210.2" y="113.8" width="1.1" height="1.3" fill="#0a4f24" opacity="0.85"/>
<rect x="212.4" y="113.5" width="1.1" height="1.3" fill="#0a4f24" opacity="0.85"/>
<rect x="214.4" y="113.5" width="1.1" height="1.3" fill="#0a4f24" opacity="0.85"/>
<rect x="216.6" y="113.9" width="1.1" height="1.3" fill="#0a4f24" opacity="0.85"/>
<rect x="219.0" y="113.2" width="1.1" height="1.3" fill="#0a4f24" opacity="0.85"/>
<rect x="221.3" y="113.1" width="1.1" height="1.3" fill="#0a4f24" opacity="0.85"/>
<rect x="223.4" y="113.4" width="1.1" height="1.3" fill="#0a4f24" opacity="0.85"/>
<rect x="225.7" y="113.0" width="1.1" height="1.3" fill="#0a4f24" opacity="0.85"/>
<rect x="227.4" y="113.1" width="1.1" height="1.3" fill="#0a4f24" opacity="0.85"/>
<rect x="229.7" y="113.1" width="1.1" height="1.3" fill="#0a4f24" opacity="0.85"/>
<rect x="231.8" y="113.8" width="1.1" height="1.3" fill="#0a4f24" opacity="0.85"/>
<rect x="233.8" y="113.1" width="1.1" height="1.3" fill="#0a4f24" opacity="0.85"/>
<rect x="236.0" y="113.3" width="1.1" height="1.3" fill="#0a4f24" opacity="0.85"/>
<rect x="238.1" y="113.1" width="1.1" height="1.3" fill="#0a4f24" opacity="0.85"/>
<rect x="240.4" y="113.3" width="1.1" height="1.3" fill="#0a4f24" opacity="0.85"/>
<rect x="242.9" y="113.4" width="1.1" height="1.3" fill="#0a4f24" opacity="0.85"/>
<rect x="245.2" y="113.8" width="1.1" height="1.3" fill="#0a4f24" opacity="0.85"/>
<rect x="247.8" y="112.9" width="1.1" height="1.3" fill="#0a4f24" opacity="0.85"/>
<rect x="250.3" y="113.0" width="1.1" height="1.3" fill="#0a4f24" opacity="0.85"/>
<rect x="252.9" y="113.7" width="1.1" height="1.3" fill="#0a4f24" opacity="0.85"/>
<rect x="254.7" y="113.6" width="1.1" height="1.3" fill="#0a4f24" opacity="0.85"/>
<rect x="256.9" y="113.4" width="1.1" height="1.3" fill="#0a4f24" opacity="0.85"/>
<rect x="259.1" y="113.4" width="1.1" height="1.3" fill="#0a4f24" opacity="0.85"/>
<rect x="261.4" y="113.6" width="1.1" height="1.3" fill="#0a4f24" opacity="0.85"/>
<rect x="263.0" y="113.5" width="1.1" height="1.3" fill="#0a4f24" opacity="0.85"/>
<rect x="265.3" y="113.8" width="1.1" height="1.3" fill="#0a4f24" opacity="0.85"/>
<rect x="267.4" y="113.5" width="1.1" height="1.3" fill="#0a4f24" opacity="0.85"/>
<rect x="269.2" y="113.1" width="1.1" height="1.3" fill="#0a4f24" opacity="0.85"/>
<rect x="271.7" y="113.0" width="1.1" height="1.3" fill="#0a4f24" opacity="0.85"/>
<rect x="274.2" y="113.0" width="1.1" height="1.3" fill="#0a4f24" opacity="0.85"/>
<rect x="276.2" y="113.5" width="1.1" height="1.3" fill="#0a4f24" opacity="0.85"/>
<rect x="277.8" y="113.4" width="1.1" height="1.3" fill="#0a4f24" opacity="0.85"/>
<rect x="280.2" y="113.3" width="1.1" height="1.3" fill="#0a4f24" opacity="0.85"/>
<rect x="282.0" y="113.0" width="1.1" height="1.3" fill="#0a4f24" opacity="0.85"/>
<rect x="284.5" y="113.0" width="1.1" height="1.3" fill="#0a4f24" opacity="0.85"/>
<rect x="286.8" y="113.5" width="1.1" height="1.3" fill="#0a4f24" opacity="0.85"/>
<rect x="288.7" y="113.5" width="1.1" height="1.3" fill="#0a4f24" opacity="0.85"/>
<rect x="291.0" y="113.1" width="1.1" height="1.3" fill="#0a4f24" opacity="0.85"/>
<rect x="292.8" y="113.8" width="1.1" height="1.3" fill="#0a4f24" opacity="0.85"/>
<rect x="294.6" y="113.4" width="1.1" height="1.3" fill="#0a4f24" opacity="0.85"/>
<rect x="152.40" y="99.50" width="7.40" height="21.00" fill="#b9a23e" opacity="0.92"/>
<rect x="152.00" y="115.50" width="8.20" height="6.50" fill="#f2b060" opacity="0.7"/>
<line x1="72.00" y1="112.50" x2="72.00" y2="117.90" stroke="#111" stroke-width="1.0"/>
<line x1="111.50" y1="112.50" x2="111.50" y2="117.90" stroke="#111" stroke-width="1.0"/>
<line x1="151.00" y1="112.50" x2="151.00" y2="117.90" stroke="#111" stroke-width="1.0"/>
<line x1="190.70" y1="112.50" x2="190.70" y2="117.90" stroke="#111" stroke-width="1.0"/>
<line x1="230.30" y1="112.50" x2="230.30" y2="117.90" stroke="#111" stroke-width="1.0"/>
<line x1="270.00" y1="112.50" x2="270.00" y2="117.90" stroke="#111" stroke-width="1.0"/>
<text x="301.20" y="100.90" font-size="6.9" fill="#222">60</text>
<text x="301.20" y="108.50" font-size="6.9" fill="#222">30</text>
<line x1="66.50" y1="136.20" x2="297.80" y2="136.20" stroke="#d8c8cc" stroke-width="0.8"/>
<path d="M66.5,136.2 V120.6 H297.8 V136.2" fill="none" stroke="#5a5a5a" stroke-width="0.9"/>
<line x1="66.50" y1="128.60" x2="297.80" y2="128.60" stroke="#b8aeb0" stroke-width="0.7"/>
<polygon points="71.0,134.0 71.7,133.5 72.4,134.0 73.1,134.1 73.8,133.4 74.5,133.7 75.2,133.9 75.9,133.3 76.6,134.2 77.3,134.1 78.0,133.4 78.7,133.3 79.4,133.2 80.1,134.0 80.8,133.7 81.5,133.6 82.2,133.8 82.9,133.9 83.6,133.4 84.3,133.2 85.0,133.6 85.7,134.1 86.4,133.8 87.1,134.0 87.8,134.0 88.5,133.6 89.2,134.1 89.9,134.0 90.6,134.0 91.3,134.2 92.0,133.2 92.7,133.5 93.4,134.2 94.1,133.4 94.8,133.5 95.5,133.8 96.2,133.3 96.9,134.0 97.6,133.8 98.3,134.1 99.0,133.6 99.7,134.0 100.4,133.6 101.1,133.9 101.8,133.9 102.5,134.1 103.2,134.1 103.9,134.2 104.6,133.6 105.3,134.2 106.0,133.9 106.7,134.2 107.4,134.1 108.1,133.9 108.8,134.2 109.5,133.8 110.2,134.2 110.9,133.7 111.6,133.7 112.3,133.5 113.0,134.2 113.7,133.3 114.4,134.0 115.1,133.3 115.8,133.6 116.5,134.0 117.2,134.0 117.9,134.2 118.6,134.1 119.3,133.6 120.0,133.4 120.7,133.7 121.4,133.9 122.1,133.8 122.8,133.3 123.5,133.3 124.2,133.9 124.9,134.2 125.6,133.7 126.3,133.1 127.0,133.8 127.7,133.5 128.4,133.0 129.1,132.6 129.8,133.0 130.5,132.1 131.2,132.7 131.9,133.1 132.6,133.5 133.3,133.2 134.0,133.5 134.7,133.7 135.4,133.5 136.1,133.3 136.8,134.1 137.5,133.4 138.2,133.9 138.9,133.6 139.6,133.1 140.3,131.1 141.0,130.5 141.7,130.8 142.4,132.5 143.1,132.7 143.8,133.2 144.5,132.9 145.2,131.4 145.9,132.0 146.6,131.9 147.3,132.8 148.0,133.1 148.7,133.6 149.4,133.2 150.1,133.1 150.8,133.7 151.5,133.7 152.2,133.7 152.9,133.8 153.6,134.0 154.3,134.2 155.0,134.0 155.7,133.6 156.4,133.3 157.1,133.7 157.8,134.0 158.5,133.5 159.2,133.2 159.9,133.3 160.6,133.3 161.3,134.2 162.0,133.2 162.7,133.7 163.4,134.0 164.1,134.2 164.8,133.4 165.5,134.0 166.2,133.5 166.9,133.3 167.6,134.1 168.3,133.2 169.0,133.3 169.7,133.5 170.4,133.6 171.1,134.1 171.8,133.6 172.5,133.5 173.2,133.7 173.9,133.3 174.6,133.4 175.3,133.6 176.0,133.2 176.7,133.2 177.4,133.5 178.1,133.5 178.8,134.2 179.5,133.8 180.2,133.4 180.9,133.8 181.6,133.6 182.3,134.2 183.0,134.1 183.7,133.9 184.4,134.0 185.1,133.9 185.8,133.2 186.5,134.1 187.2,134.2 187.9,134.0 188.6,134.2 189.3,134.2 190.0,133.6 190.7,133.5 191.4,133.5 192.1,133.3 192.8,134.2 193.5,133.7 194.2,133.4 194.9,133.5 195.6,133.8 196.3,133.9 197.0,133.6 197.7,133.9 197.7,136.8 197.0,136.9 196.3,136.7 195.6,136.4 194.9,136.5 194.2,136.3 193.5,136.6 192.8,136.7 192.1,136.3 191.4,136.8 190.7,136.8 190.0,136.9 189.3,136.4 188.6,136.8 187.9,136.3 187.2,136.5 186.5,136.3 185.8,136.3 185.1,136.4 184.4,136.9 183.7,137.0 183.0,136.5 182.3,136.4 181.6,136.8 180.9,136.5 180.2,137.0 179.5,136.9 178.8,136.6 178.1,136.5 177.4,136.9 176.7,136.5 176.0,136.6 175.3,136.5 174.6,136.6 173.9,136.5 173.2,136.8 172.5,136.7 171.8,136.2 171.1,136.8 170.4,136.4 169.7,136.7 169.0,136.7 168.3,136.9 167.6,136.9 166.9,136.8 166.2,136.5 165.5,136.2 164.8,136.5 164.1,136.6 163.4,136.6 162.7,136.7 162.0,136.4 161.3,136.6 160.6,136.3 159.9,136.3 159.2,136.2 158.5,136.5 157.8,136.8 157.1,136.9 156.4,136.6 155.7,136.4 155.0,136.3 154.3,136.9 153.6,136.7 152.9,136.6 152.2,136.4 151.5,136.9 150.8,136.4 150.1,136.8 149.4,136.5 148.7,136.9 148.0,136.9 147.3,136.4 146.6,136.2 145.9,136.8 145.2,136.6 144.5,136.4 143.8,136.8 143.1,136.8 142.4,136.7 141.7,136.8 141.0,136.9 140.3,136.3 139.6,136.2 138.9,136.3 138.2,137.0 137.5,136.6 136.8,136.6 136.1,136.3 135.4,136.9 134.7,136.7 134.0,136.9 133.3,136.9 132.6,136.8 131.9,136.8 131.2,136.5 130.5,136.3 129.8,136.4 129.1,136.3 128.4,136.9 127.7,136.8 127.0,136.6 126.3,137.0 125.6,136.6 124.9,136.3 124.2,136.5 123.5,136.4 122.8,136.3 122.1,136.3 121.4,136.4 120.7,136.6 120.0,136.4 119.3,136.2 118.6,136.8 117.9,136.5 117.2,136.5 116.5,136.4 115.8,136.5 115.1,136.4 114.4,136.7 113.7,136.8 113.0,136.6 112.3,136.4 111.6,136.6 110.9,137.0 110.2,136.5 109.5,136.9 108.8,136.6 108.1,136.7 107.4,136.4 106.7,137.0 106.0,136.3 105.3,136.6 104.6,136.6 103.9,136.7 103.2,136.4 102.5,136.7 101.8,136.4 101.1,136.8 100.4,136.7 99.7,136.7 99.0,136.8 98.3,137.0 97.6,136.8 96.9,136.9 96.2,136.8 95.5,136.9 94.8,136.3 94.1,136.9 93.4,136.3 92.7,136.9 92.0,136.5 91.3,136.7 90.6,136.5 89.9,136.4 89.2,136.6 88.5,136.5 87.8,136.6 87.1,136.6 86.4,136.3 85.7,136.7 85.0,136.8 84.3,136.8 83.6,136.8 82.9,136.3 82.2,136.5 81.5,136.5 80.8,136.8 80.1,136.9 79.4,136.8 78.7,136.8 78.0,136.8 77.3,136.9 76.6,136.4 75.9,136.7 75.2,136.5 74.5,136.4 73.8,136.3 73.1,136.4 72.4,136.4 71.7,136.9 71.0,136.7" fill="#349a5c"/>
<rect x="71.5" y="134.1" width="1.1" height="1.3" fill="#0a4f24" opacity="0.85"/>
<rect x="73.8" y="134.2" width="1.1" height="1.3" fill="#0a4f24" opacity="0.85"/>
<rect x="76.2" y="135.0" width="1.1" height="1.3" fill="#0a4f24" opacity="0.85"/>
<rect x="78.1" y="134.8" width="1.1" height="1.3" fill="#0a4f24" opacity="0.85"/>
<rect x="79.9" y="134.3" width="1.1" height="1.3" fill="#0a4f24" opacity="0.85"/>
<rect x="81.6" y="134.5" width="1.1" height="1.3" fill="#0a4f24" opacity="0.85"/>
<rect x="83.3" y="134.7" width="1.1" height="1.3" fill="#0a4f24" opacity="0.85"/>
<rect x="85.5" y="134.4" width="1.1" height="1.3" fill="#0a4f24" opacity="0.85"/>
<rect x="87.8" y="134.2" width="1.1" height="1.3" fill="#0a4f24" opacity="0.85"/>
<rect x="89.7" y="134.4" width="1.1" height="1.3" fill="#0a4f24" opacity="0.85"/>
<rect x="91.3" y="134.9" width="1.1" height="1.3" fill="#0a4f24" opacity="0.85"/>
<rect x="93.0" y="134.1" width="1.1" height="1.3" fill="#0a4f24" opacity="0.85"/>
<rect x="95.4" y="134.8" width="1.1" height="1.3" fill="#0a4f24" opacity="0.85"/>
<rect x="97.4" y="134.4" width="1.1" height="1.3" fill="#0a4f24" opacity="0.85"/>
<rect x="99.2" y="134.0" width="1.1" height="1.3" fill="#0a4f24" opacity="0.85"/>
<rect x="101.3" y="134.3" width="1.1" height="1.3" fill="#0a4f24" opacity="0.85"/>
<rect x="103.1" y="134.9" width="1.1" height="1.3" fill="#0a4f24" opacity="0.85"/>
<rect x="104.7" y="134.4" width="1.1" height="1.3" fill="#0a4f24" opacity="0.85"/>
<rect x="107.0" y="134.8" width="1.1" height="1.3" fill="#0a4f24" opacity="0.85"/>
<rect x="108.7" y="134.8" width="1.1" height="1.3" fill="#0a4f24" opacity="0.85"/>
<rect x="110.9" y="134.6" width="1.1" height="1.3" fill="#0a4f24" opacity="0.85"/>
<rect x="113.4" y="134.8" width="1.1" height="1.3" fill="#0a4f24" opacity="0.85"/>
<rect x="115.6" y="134.8" width="1.1" height="1.3" fill="#0a4f24" opacity="0.85"/>
<rect x="117.7" y="134.6" width="1.1" height="1.3" fill="#0a4f24" opacity="0.85"/>
<rect x="120.1" y="134.6" width="1.1" height="1.3" fill="#0a4f24" opacity="0.85"/>
<rect x="122.1" y="134.0" width="1.1" height="1.3" fill="#0a4f24" opacity="0.85"/>
<rect x="124.5" y="134.4" width="1.1" height="1.3" fill="#0a4f24" opacity="0.85"/>
<rect x="126.5" y="134.3" width="1.1" height="1.3" fill="#0a4f24" opacity="0.85"/>
<rect x="128.7" y="134.4" width="1.1" height="1.3" fill="#0a4f24" opacity="0.85"/>
<rect x="131.1" y="134.6" width="1.1" height="1.3" fill="#0a4f24" opacity="0.85"/>
<rect x="133.3" y="134.8" width="1.1" height="1.3" fill="#0a4f24" opacity="0.85"/>
<rect x="135.3" y="134.5" width="1.1" height="1.3" fill="#0a4f24" opacity="0.85"/>
<rect x="137.7" y="134.7" width="1.1" height="1.3" fill="#0a4f24" opacity="0.85"/>
<rect x="140.0" y="134.9" width="1.1" height="1.3" fill="#0a4f24" opacity="0.85"/>
<rect x="142.2" y="134.6" width="1.1" height="1.3" fill="#0a4f24" opacity="0.85"/>
<rect x="144.0" y="134.3" width="1.1" height="1.3" fill="#0a4f24" opacity="0.85"/>
<rect x="146.0" y="134.5" width="1.1" height="1.3" fill="#0a4f24" opacity="0.85"/>
<rect x="148.5" y="134.1" width="1.1" height="1.3" fill="#0a4f24" opacity="0.85"/>
<rect x="150.5" y="134.8" width="1.1" height="1.3" fill="#0a4f24" opacity="0.85"/>
<rect x="152.5" y="134.9" width="1.1" height="1.3" fill="#0a4f24" opacity="0.85"/>
<rect x="154.3" y="134.8" width="1.1" height="1.3" fill="#0a4f24" opacity="0.85"/>
<rect x="156.3" y="134.6" width="1.1" height="1.3" fill="#0a4f24" opacity="0.85"/>
<rect x="158.0" y="134.4" width="1.1" height="1.3" fill="#0a4f24" opacity="0.85"/>
<rect x="160.4" y="134.7" width="1.1" height="1.3" fill="#0a4f24" opacity="0.85"/>
<rect x="162.5" y="134.4" width="1.1" height="1.3" fill="#0a4f24" opacity="0.85"/>
<rect x="164.2" y="134.7" width="1.1" height="1.3" fill="#0a4f24" opacity="0.85"/>
<rect x="166.2" y="134.7" width="1.1" height="1.3" fill="#0a4f24" opacity="0.85"/>
<rect x="168.4" y="134.4" width="1.1" height="1.3" fill="#0a4f24" opacity="0.85"/>
<rect x="170.9" y="134.1" width="1.1" height="1.3" fill="#0a4f24" opacity="0.85"/>
<rect x="173.5" y="134.1" width="1.1" height="1.3" fill="#0a4f24" opacity="0.85"/>
<rect x="176.0" y="134.6" width="1.1" height="1.3" fill="#0a4f24" opacity="0.85"/>
<rect x="178.1" y="134.9" width="1.1" height="1.3" fill="#0a4f24" opacity="0.85"/>
<rect x="180.2" y="134.5" width="1.1" height="1.3" fill="#0a4f24" opacity="0.85"/>
<rect x="181.8" y="134.8" width="1.1" height="1.3" fill="#0a4f24" opacity="0.85"/>
<rect x="184.1" y="134.2" width="1.1" height="1.3" fill="#0a4f24" opacity="0.85"/>
<rect x="185.8" y="134.4" width="1.1" height="1.3" fill="#0a4f24" opacity="0.85"/>
<rect x="188.3" y="134.9" width="1.1" height="1.3" fill="#0a4f24" opacity="0.85"/>
<rect x="190.4" y="134.0" width="1.1" height="1.3" fill="#0a4f24" opacity="0.85"/>
<rect x="192.8" y="134.2" width="1.1" height="1.3" fill="#0a4f24" opacity="0.85"/>
<rect x="195.2" y="134.5" width="1.1" height="1.3" fill="#0a4f24" opacity="0.85"/>
<rect x="197.7" y="134.2" width="1.1" height="1.3" fill="#0a4f24" opacity="0.85"/>
<line x1="163.20" y1="136.70" x2="163.20" y2="124.70" stroke="#0a4f24" stroke-width="0.8"/>
<polygon points="202.5,134.2 203.2,133.5 203.9,133.6 204.6,133.3 205.3,133.9 206.0,133.7 206.7,133.8 207.4,133.7 208.1,133.5 208.8,133.9 209.5,133.4 210.2,133.5 210.9,134.1 211.6,133.9 212.3,133.5 213.0,134.0 213.7,133.3 214.4,133.3 215.1,134.1 215.8,134.1 216.5,134.1 217.2,133.5 217.9,134.1 218.6,133.6 219.3,134.1 220.0,134.1 220.7,133.5 221.4,133.2 222.1,134.0 222.8,133.3 223.5,133.4 224.2,133.9 224.9,133.6 225.6,133.4 226.3,133.5 227.0,133.9 227.7,133.5 228.4,134.0 229.1,133.6 229.8,133.8 230.5,133.8 231.2,133.2 231.9,133.7 232.6,133.3 233.3,134.0 234.0,134.0 234.7,133.7 235.4,133.2 236.1,133.6 236.8,133.9 237.5,133.3 238.2,133.3 238.9,133.2 239.6,133.3 240.3,134.0 241.0,133.7 241.7,133.7 242.4,134.0 243.1,133.5 243.8,134.2 244.5,133.5 245.2,133.9 245.9,134.2 246.6,133.2 247.3,134.1 248.0,133.6 248.7,134.0 249.4,134.1 250.1,133.8 250.8,133.2 251.5,133.9 252.2,133.3 252.9,134.1 253.6,133.9 254.3,134.1 255.0,134.2 255.7,134.1 256.4,133.5 257.1,133.3 257.8,133.6 258.5,133.6 259.2,134.0 259.9,133.7 260.6,133.7 261.3,134.2 262.0,133.7 262.7,134.1 263.4,134.2 264.1,133.5 264.8,133.5 265.5,133.7 266.2,134.1 266.9,133.8 267.6,134.1 268.3,134.1 269.0,133.8 269.7,133.8 270.4,133.6 271.1,132.8 271.8,131.5 272.5,132.3 273.2,133.3 273.9,133.4 274.6,133.3 275.3,133.6 276.0,133.5 276.7,133.1 277.4,131.5 278.1,130.6 278.8,131.9 279.5,133.4 280.2,134.2 280.9,134.0 281.6,134.2 282.3,133.9 283.0,133.3 283.7,133.3 284.4,133.3 285.1,133.3 285.8,134.1 286.5,133.6 287.2,133.2 287.9,133.2 288.6,134.2 289.3,133.4 290.0,133.2 290.7,133.2 291.4,133.5 292.1,133.5 292.8,134.2 293.5,133.4 294.2,133.8 294.9,134.2 295.6,133.8 295.6,136.8 294.9,136.8 294.2,136.3 293.5,136.5 292.8,136.7 292.1,136.4 291.4,136.7 290.7,137.0 290.0,136.3 289.3,136.4 288.6,136.6 287.9,136.3 287.2,136.6 286.5,136.4 285.8,136.5 285.1,136.4 284.4,137.0 283.7,136.7 283.0,136.8 282.3,136.6 281.6,136.6 280.9,136.7 280.2,136.7 279.5,136.6 278.8,136.7 278.1,136.7 277.4,136.6 276.7,136.8 276.0,136.3 275.3,136.5 274.6,136.8 273.9,136.9 273.2,137.0 272.5,136.5 271.8,136.7 271.1,136.4 270.4,136.4 269.7,136.5 269.0,136.4 268.3,136.9 267.6,136.7 266.9,136.4 266.2,136.7 265.5,137.0 264.8,136.6 264.1,136.6 263.4,136.9 262.7,136.4 262.0,136.7 261.3,137.0 260.6,136.5 259.9,136.4 259.2,136.6 258.5,136.5 257.8,136.5 257.1,137.0 256.4,136.7 255.7,136.5 255.0,136.9 254.3,136.2 253.6,136.4 252.9,136.5 252.2,136.3 251.5,136.3 250.8,136.8 250.1,136.9 249.4,136.8 248.7,136.2 248.0,136.5 247.3,136.7 246.6,136.5 245.9,136.6 245.2,136.7 244.5,136.6 243.8,136.4 243.1,136.7 242.4,136.6 241.7,136.5 241.0,136.7 240.3,136.5 239.6,136.6 238.9,136.7 238.2,136.7 237.5,136.5 236.8,136.6 236.1,137.0 235.4,136.6 234.7,136.4 234.0,136.9 233.3,136.7 232.6,136.9 231.9,136.3 231.2,136.5 230.5,136.6 229.8,137.0 229.1,136.5 228.4,136.5 227.7,136.2 227.0,136.8 226.3,136.4 225.6,136.6 224.9,136.9 224.2,136.8 223.5,136.7 222.8,136.9 222.1,136.7 221.4,136.4 220.7,136.7 220.0,136.9 219.3,136.8 218.6,136.7 217.9,136.5 217.2,136.9 216.5,136.3 215.8,136.6 215.1,136.9 214.4,136.9 213.7,136.4 213.0,136.8 212.3,136.2 211.6,136.4 210.9,136.5 210.2,136.7 209.5,136.7 208.8,137.0 208.1,136.2 207.4,137.0 206.7,136.5 206.0,136.4 205.3,136.7 204.6,136.9 203.9,136.4 203.2,136.2 202.5,136.9" fill="#349a5c"/>
<rect x="203.0" y="134.9" width="1.1" height="1.3" fill="#0a4f24" opacity="0.85"/>
<rect x="204.6" y="134.0" width="1.1" height="1.3" fill="#0a4f24" opacity="0.85"/>
<rect x="207.2" y="134.2" width="1.1" height="1.3" fill="#0a4f24" opacity="0.85"/>
<rect x="209.0" y="134.5" width="1.1" height="1.3" fill="#0a4f24" opacity="0.85"/>
<rect x="211.3" y="134.6" width="1.1" height="1.3" fill="#0a4f24" opacity="0.85"/>
<rect x="213.7" y="135.0" width="1.1" height="1.3" fill="#0a4f24" opacity="0.85"/>
<rect x="215.4" y="134.7" width="1.1" height="1.3" fill="#0a4f24" opacity="0.85"/>
<rect x="217.3" y="134.8" width="1.1" height="1.3" fill="#0a4f24" opacity="0.85"/>
<rect x="219.6" y="134.9" width="1.1" height="1.3" fill="#0a4f24" opacity="0.85"/>
<rect x="221.7" y="134.3" width="1.1" height="1.3" fill="#0a4f24" opacity="0.85"/>
<rect x="224.1" y="135.0" width="1.1" height="1.3" fill="#0a4f24" opacity="0.85"/>
<rect x="226.5" y="134.6" width="1.1" height="1.3" fill="#0a4f24" opacity="0.85"/>
<rect x="228.6" y="134.7" width="1.1" height="1.3" fill="#0a4f24" opacity="0.85"/>
<rect x="230.9" y="134.7" width="1.1" height="1.3" fill="#0a4f24" opacity="0.85"/>
<rect x="232.8" y="134.5" width="1.1" height="1.3" fill="#0a4f24" opacity="0.85"/>
<rect x="234.9" y="134.3" width="1.1" height="1.3" fill="#0a4f24" opacity="0.85"/>
<rect x="237.1" y="134.6" width="1.1" height="1.3" fill="#0a4f24" opacity="0.85"/>
<rect x="239.6" y="134.5" width="1.1" height="1.3" fill="#0a4f24" opacity="0.85"/>
<rect x="241.9" y="134.9" width="1.1" height="1.3" fill="#0a4f24" opacity="0.85"/>
<rect x="244.3" y="134.7" width="1.1" height="1.3" fill="#0a4f24" opacity="0.85"/>
<rect x="246.4" y="134.1" width="1.1" height="1.3" fill="#0a4f24" opacity="0.85"/>
<rect x="248.1" y="134.5" width="1.1" height="1.3" fill="#0a4f24" opacity="0.85"/>
<rect x="250.2" y="134.0" width="1.1" height="1.3" fill="#0a4f24" opacity="0.85"/>
<rect x="252.3" y="134.1" width="1.1" height="1.3" fill="#0a4f24" opacity="0.85"/>
<rect x="254.2" y="134.3" width="1.1" height="1.3" fill="#0a4f24" opacity="0.85"/>
<rect x="256.2" y="134.1" width="1.1" height="1.3" fill="#0a4f24" opacity="0.85"/>
<rect x="257.9" y="134.8" width="1.1" height="1.3" fill="#0a4f24" opacity="0.85"/>
<rect x="259.8" y="134.6" width="1.1" height="1.3" fill="#0a4f24" opacity="0.85"/>
<rect x="261.7" y="134.2" width="1.1" height="1.3" fill="#0a4f24" opacity="0.85"/>
<rect x="263.5" y="134.1" width="1.1" height="1.3" fill="#0a4f24" opacity="0.85"/>
<rect x="265.3" y="134.2" width="1.1" height="1.3" fill="#0a4f24" opacity="0.85"/>
<rect x="267.0" y="134.7" width="1.1" height="1.3" fill="#0a4f24" opacity="0.85"/>
<rect x="269.4" y="134.3" width="1.1" height="1.3" fill="#0a4f24" opacity="0.85"/>
<rect x="271.2" y="134.2" width="1.1" height="1.3" fill="#0a4f24" opacity="0.85"/>
<rect x="273.3" y="134.3" width="1.1" height="1.3" fill="#0a4f24" opacity="0.85"/>
<rect x="275.8" y="134.2" width="1.1" height="1.3" fill="#0a4f24" opacity="0.85"/>
<rect x="277.8" y="134.1" width="1.1" height="1.3" fill="#0a4f24" opacity="0.85"/>
<rect x="279.4" y="134.7" width="1.1" height="1.3" fill="#0a4f24" opacity="0.85"/>
<rect x="281.1" y="134.4" width="1.1" height="1.3" fill="#0a4f24" opacity="0.85"/>
<rect x="282.7" y="134.2" width="1.1" height="1.3" fill="#0a4f24" opacity="0.85"/>
<rect x="285.2" y="134.9" width="1.1" height="1.3" fill="#0a4f24" opacity="0.85"/>
<rect x="287.0" y="134.9" width="1.1" height="1.3" fill="#0a4f24" opacity="0.85"/>
<rect x="289.6" y="134.5" width="1.1" height="1.3" fill="#0a4f24" opacity="0.85"/>
<rect x="291.6" y="134.9" width="1.1" height="1.3" fill="#0a4f24" opacity="0.85"/>
<rect x="293.4" y="134.2" width="1.1" height="1.3" fill="#0a4f24" opacity="0.85"/>
<rect x="295.5" y="134.5" width="1.1" height="1.3" fill="#0a4f24" opacity="0.85"/>
<rect x="152.40" y="130.90" width="7.40" height="5.90" fill="#b9a23e" opacity="0.92"/>
<rect x="152.00" y="136.80" width="8.20" height="4.80" fill="#f2b060" opacity="0.7"/>
<line x1="72.00" y1="133.60" x2="72.00" y2="139.00" stroke="#111" stroke-width="1.0"/>
<line x1="111.50" y1="133.60" x2="111.50" y2="139.00" stroke="#111" stroke-width="1.0"/>
<line x1="151.00" y1="133.60" x2="151.00" y2="139.00" stroke="#111" stroke-width="1.0"/>
<line x1="190.70" y1="133.60" x2="190.70" y2="139.00" stroke="#111" stroke-width="1.0"/>
<line x1="230.30" y1="133.60" x2="230.30" y2="139.00" stroke="#111" stroke-width="1.0"/>
<line x1="270.00" y1="133.60" x2="270.00" y2="139.00" stroke="#111" stroke-width="1.0"/>
<text x="301.20" y="122.00" font-size="6.9" fill="#222">60</text>
<text x="301.20" y="129.60" font-size="6.9" fill="#222">30</text>
<line x1="66.50" y1="157.20" x2="297.80" y2="157.20" stroke="#d8c8cc" stroke-width="0.8"/>
<path d="M66.5,157.2 V141.6 H297.8 V157.2" fill="none" stroke="#5a5a5a" stroke-width="0.9"/>
<line x1="66.50" y1="149.60" x2="297.80" y2="149.60" stroke="#b8aeb0" stroke-width="0.7"/>
<polygon points="71.0,155.1 71.7,154.5 72.4,154.9 73.1,154.4 73.8,154.9 74.5,154.8 75.2,155.1 75.9,154.3 76.6,155.0 77.3,154.6 78.0,154.6 78.7,155.1 79.4,155.1 80.1,155.2 80.8,154.2 81.5,154.2 82.2,154.6 82.9,154.5 83.6,154.6 84.3,155.0 85.0,154.3 85.7,155.0 86.4,155.0 87.1,154.7 87.8,154.4 88.5,154.9 89.2,154.4 89.9,154.7 90.6,154.7 91.3,154.7 92.0,154.7 92.7,154.6 93.4,154.7 94.1,154.3 94.8,155.2 95.5,154.5 96.2,155.2 96.9,154.2 97.6,154.9 98.3,154.2 99.0,154.9 99.7,154.6 100.4,155.0 101.1,155.2 101.8,154.2 102.5,154.9 103.2,154.9 103.9,155.2 104.6,155.0 105.3,154.3 106.0,155.0 106.7,154.2 107.4,154.4 108.1,154.6 108.8,154.2 109.5,154.7 110.2,154.8 110.9,154.2 111.6,154.4 112.3,154.3 113.0,155.0 113.7,154.7 114.4,155.0 115.1,155.0 115.8,155.1 116.5,154.8 117.2,154.8 117.9,155.0 118.6,154.8 119.3,155.0 120.0,154.5 120.7,154.5 121.4,154.5 122.1,154.9 122.8,154.5 123.5,155.2 124.2,154.9 124.9,154.2 125.6,155.1 126.3,154.1 127.0,154.8 127.7,154.3 128.4,153.6 129.1,153.3 129.8,153.4 130.5,154.1 131.2,153.8 131.9,154.1 132.6,154.3 133.3,154.7 134.0,154.8 134.7,154.5 135.4,154.1 136.1,154.2 136.8,154.3 137.5,154.8 138.2,154.9 138.9,155.2 139.6,154.2 140.3,154.5 141.0,154.7 141.7,154.8 142.4,155.2 143.1,154.6 143.8,154.8 144.5,154.2 145.2,155.0 145.9,154.3 146.6,154.8 147.3,155.1 148.0,155.0 148.7,154.3 149.4,155.1 150.1,154.6 150.8,154.5 151.5,154.5 152.2,154.8 152.9,154.4 153.6,154.5 154.3,154.8 155.0,154.8 155.7,154.7 156.4,154.9 157.1,154.3 157.8,155.1 158.5,155.1 159.2,154.9 159.9,154.7 160.6,154.7 161.3,154.7 162.0,154.8 162.7,155.1 163.4,155.2 164.1,155.2 164.8,154.6 165.5,154.9 166.2,154.7 166.9,154.9 167.6,154.3 168.3,154.9 169.0,154.2 169.7,155.2 170.4,154.3 171.1,155.0 171.8,155.1 172.5,155.0 173.2,154.6 173.9,154.4 174.6,154.4 175.3,155.2 176.0,154.4 176.7,154.6 177.4,154.7 178.1,154.8 178.8,155.1 179.5,154.6 180.2,155.2 180.9,155.1 181.6,155.0 182.3,155.1 183.0,154.7 183.7,155.2 184.4,154.2 185.1,154.3 185.8,154.9 186.5,154.2 187.2,154.6 187.9,154.8 188.6,155.2 189.3,155.0 190.0,154.7 190.7,154.2 191.4,154.8 192.1,154.2 192.8,154.9 193.5,154.6 194.2,154.5 194.9,155.1 195.6,154.7 196.3,154.9 197.0,154.9 197.7,154.2 198.4,155.0 199.1,155.0 199.8,155.0 200.5,155.2 201.2,154.5 201.9,154.3 202.6,155.0 203.3,155.0 204.0,154.4 204.7,154.3 205.4,154.7 206.1,154.8 206.8,155.2 207.5,154.7 208.2,154.5 208.9,154.2 209.6,154.7 210.3,154.9 211.0,154.5 211.7,154.2 212.4,154.8 213.1,154.9 213.8,154.4 214.5,154.9 215.2,154.2 215.9,154.8 216.6,154.8 217.3,154.8 218.0,154.5 218.7,154.7 219.4,154.4 220.1,154.7 220.8,154.2 221.5,154.5 222.2,154.9 222.9,154.7 223.6,154.8 224.3,155.2 225.0,154.9 225.7,154.5 226.4,154.2 227.1,155.0 227.8,155.2 228.5,154.2 229.2,154.6 229.9,155.0 230.6,154.9 231.3,155.2 232.0,154.7 232.7,154.3 233.4,155.1 234.1,155.2 234.8,154.8 235.5,154.9 236.2,154.4 236.9,154.3 237.6,154.7 238.3,154.3 239.0,155.1 239.7,154.6 240.4,154.5 241.1,154.9 241.8,154.5 242.5,154.4 243.2,155.0 243.9,154.4 244.6,154.8 245.3,154.5 246.0,154.7 246.7,154.7 247.4,154.7 248.1,154.5 248.8,155.0 249.5,154.7 250.2,154.2 250.9,154.8 251.6,155.2 252.3,154.2 253.0,154.1 253.7,155.1 254.4,154.6 255.1,152.8 255.8,152.6 256.5,153.1 257.2,153.8 257.9,154.0 258.6,154.8 259.3,154.9 260.0,154.5 260.7,154.6 261.4,154.3 262.1,154.6 262.8,155.0 263.5,154.3 264.2,155.1 264.9,154.8 265.6,154.2 266.3,154.5 267.0,154.3 267.7,155.1 268.4,154.7 269.1,154.9 269.8,154.9 270.5,155.1 271.2,154.4 271.9,155.0 272.6,155.1 273.3,154.4 274.0,154.5 274.7,154.9 275.4,154.5 276.1,154.9 276.8,154.7 277.5,155.0 278.2,154.3 278.9,154.5 279.6,154.9 280.3,154.4 281.0,154.6 281.7,155.1 282.4,155.1 283.1,155.2 283.8,154.4 284.5,154.2 285.2,154.4 285.9,154.5 286.6,154.4 287.3,154.2 288.0,154.4 288.7,154.5 289.4,154.8 290.1,154.5 290.8,154.9 291.5,155.2 292.2,155.1 292.9,155.0 293.6,155.2 294.3,154.6 295.0,154.3 295.7,154.2 295.7,157.3 295.0,157.3 294.3,157.9 293.6,157.8 292.9,158.0 292.2,157.3 291.5,157.6 290.8,157.9 290.1,157.7 289.4,157.5 288.7,157.4 288.0,157.3 287.3,157.6 286.6,157.5 285.9,157.6 285.2,157.5 284.5,157.4 283.8,157.9 283.1,157.7 282.4,157.5 281.7,157.5 281.0,157.6 280.3,157.3 279.6,157.5 278.9,157.6 278.2,157.4 277.5,157.6 276.8,157.3 276.1,157.7 275.4,157.3 274.7,157.5 274.0,157.9 273.3,157.2 272.6,157.6 271.9,157.6 271.2,157.8 270.5,157.6 269.8,157.6 269.1,157.4 268.4,157.8 267.7,157.6 267.0,157.4 266.3,157.4 265.6,157.3 264.9,157.5 264.2,157.9 263.5,157.7 262.8,157.9 262.1,158.0 261.4,158.0 260.7,157.7 260.0,157.7 259.3,157.9 258.6,157.9 257.9,157.6 257.2,157.3 256.5,157.3 255.8,157.5 255.1,157.8 254.4,157.8 253.7,157.2 253.0,157.2 252.3,157.6 251.6,157.5 250.9,157.6 250.2,158.0 249.5,157.5 248.8,157.8 248.1,157.5 247.4,157.2 246.7,157.4 246.0,157.8 245.3,157.8 244.6,157.9 243.9,158.0 243.2,158.0 242.5,157.5 241.8,157.9 241.1,157.2 240.4,157.3 239.7,157.2 239.0,157.5 238.3,157.2 237.6,157.2 236.9,157.2 236.2,157.7 235.5,157.7 234.8,157.9 234.1,157.4 233.4,158.0 232.7,157.3 232.0,157.4 231.3,157.5 230.6,157.9 229.9,157.2 229.2,157.9 228.5,157.9 227.8,157.5 227.1,157.9 226.4,157.7 225.7,157.9 225.0,157.6 224.3,157.8 223.6,157.5 222.9,157.8 222.2,157.9 221.5,157.6 220.8,158.0 220.1,158.0 219.4,157.8 218.7,157.7 218.0,157.4 217.3,157.4 216.6,157.5 215.9,157.9 215.2,157.6 214.5,157.4 213.8,157.2 213.1,157.6 212.4,157.4 211.7,157.5 211.0,157.2 210.3,157.3 209.6,157.9 208.9,157.9 208.2,158.0 207.5,157.8 206.8,157.9 206.1,157.4 205.4,158.0 204.7,157.5 204.0,157.2 203.3,157.8 202.6,158.0 201.9,157.6 201.2,157.4 200.5,157.8 199.8,157.4 199.1,157.4 198.4,157.7 197.7,157.3 197.0,157.3 196.3,157.4 195.6,157.8 194.9,158.0 194.2,158.0 193.5,158.0 192.8,157.9 192.1,157.5 191.4,157.3 190.7,157.9 190.0,157.8 189.3,157.3 188.6,157.5 187.9,157.2 187.2,157.2 186.5,157.8 185.8,157.6 185.1,157.5 184.4,157.5 183.7,157.7 183.0,157.5 182.3,157.6 181.6,157.9 180.9,157.6 180.2,157.8 179.5,157.9 178.8,157.9 178.1,157.6 177.4,157.8 176.7,157.4 176.0,157.4 175.3,157.9 174.6,157.8 173.9,157.6 173.2,157.3 172.5,157.5 171.8,157.9 171.1,157.8 170.4,157.3 169.7,157.4 169.0,157.5 168.3,157.9 167.6,157.6 166.9,157.5 166.2,157.7 165.5,157.5 164.8,157.9 164.1,157.3 163.4,157.6 162.7,157.8 162.0,158.0 161.3,157.7 160.6,157.7 159.9,157.3 159.2,157.9 158.5,157.9 157.8,157.7 157.1,157.4 156.4,157.6 155.7,157.8 155.0,157.7 154.3,157.8 153.6,157.3 152.9,157.7 152.2,157.4 151.5,157.8 150.8,157.7 150.1,157.2 149.4,157.9 148.7,157.4 148.0,157.4 147.3,157.4 146.6,157.6 145.9,157.6 145.2,157.2 144.5,157.5 143.8,157.7 143.1,157.8 142.4,157.6 141.7,157.9 141.0,157.9 140.3,158.0 139.6,157.8 138.9,157.3 138.2,157.9 137.5,157.6 136.8,157.9 136.1,157.9 135.4,157.4 134.7,157.2 134.0,157.7 133.3,158.0 132.6,157.6 131.9,157.8 131.2,157.2 130.5,157.5 129.8,157.4 129.1,157.3 128.4,157.9 127.7,158.0 127.0,157.9 126.3,157.6 125.6,157.7 124.9,157.9 124.2,157.6 123.5,157.5 122.8,157.6 122.1,157.9 121.4,157.7 120.7,157.4 120.0,157.3 119.3,157.3 118.6,157.3 117.9,157.5 117.2,157.8 116.5,157.6 115.8,157.4 115.1,157.8 114.4,157.3 113.7,157.5 113.0,157.9 112.3,157.7 111.6,157.5 110.9,157.6 110.2,157.5 109.5,157.9 108.8,157.8 108.1,157.7 107.4,157.5 106.7,157.4 106.0,157.7 105.3,157.4 104.6,157.4 103.9,157.3 103.2,157.4 102.5,157.9 101.8,157.7 101.1,157.4 100.4,157.5 99.7,157.6 99.0,157.4 98.3,157.4 97.6,157.7 96.9,157.5 96.2,157.8 95.5,157.7 94.8,157.3 94.1,158.0 93.4,157.4 92.7,157.3 92.0,157.5 91.3,157.6 90.6,157.7 89.9,157.3 89.2,157.3 88.5,157.2 87.8,157.3 87.1,157.3 86.4,157.8 85.7,157.6 85.0,157.6 84.3,157.3 83.6,157.7 82.9,157.3 82.2,157.9 81.5,157.6 80.8,157.5 80.1,157.4 79.4,157.5 78.7,157.7 78.0,157.7 77.3,157.3 76.6,157.8 75.9,157.5 75.2,157.4 74.5,157.8 73.8,157.7 73.1,157.7 72.4,157.4 71.7,158.0 71.0,157.8" fill="#349a5c"/>
<rect x="71.5" y="155.1" width="1.1" height="1.3" fill="#0a4f24" opacity="0.85"/>
<rect x="73.3" y="155.7" width="1.1" height="1.3" fill="#0a4f24" opacity="0.85"/>
<rect x="75.5" y="155.7" width="1.1" height="1.3" fill="#0a4f24" opacity="0.85"/>
<rect x="77.3" y="155.5" width="1.1" height="1.3" fill="#0a4f24" opacity="0.85"/>
<rect x="79.3" y="156.0" width="1.1" height="1.3" fill="#0a4f24" opacity="0.85"/>
<rect x="81.4" y="155.7" width="1.1" height="1.3" fill="#0a4f24" opacity="0.85"/>
<rect x="83.5" y="155.1" width="1.1" height="1.3" fill="#0a4f24" opacity="0.85"/>
<rect x="85.2" y="155.2" width="1.1" height="1.3" fill="#0a4f24" opacity="0.85"/>
<rect x="87.5" y="155.2" width="1.1" height="1.3" fill="#0a4f24" opacity="0.85"/>
<rect x="89.6" y="155.4" width="1.1" height="1.3" fill="#0a4f24" opacity="0.85"/>
<rect x="91.3" y="155.4" width="1.1" height="1.3" fill="#0a4f24" opacity="0.85"/>
<rect x="93.4" y="155.9" width="1.1" height="1.3" fill="#0a4f24" opacity="0.85"/>
<rect x="95.8" y="155.4" width="1.1" height="1.3" fill="#0a4f24" opacity="0.85"/>
<rect x="97.7" y="155.2" width="1.1" height="1.3" fill="#0a4f24" opacity="0.85"/>
<rect x="99.6" y="155.5" width="1.1" height="1.3" fill="#0a4f24" opacity="0.85"/>
<rect x="102.2" y="155.1" width="1.1" height="1.3" fill="#0a4f24" opacity="0.85"/>
<rect x="104.0" y="155.4" width="1.1" height="1.3" fill="#0a4f24" opacity="0.85"/>
<rect x="106.2" y="155.1" width="1.1" height="1.3" fill="#0a4f24" opacity="0.85"/>
<rect x="107.8" y="155.6" width="1.1" height="1.3" fill="#0a4f24" opacity="0.85"/>
<rect x="109.4" y="155.8" width="1.1" height="1.3" fill="#0a4f24" opacity="0.85"/>
<rect x="111.7" y="155.5" width="1.1" height="1.3" fill="#0a4f24" opacity="0.85"/>
<rect x="114.3" y="155.5" width="1.1" height="1.3" fill="#0a4f24" opacity="0.85"/>
<rect x="116.8" y="155.2" width="1.1" height="1.3" fill="#0a4f24" opacity="0.85"/>
<rect x="118.5" y="155.4" width="1.1" height="1.3" fill="#0a4f24" opacity="0.85"/>
<rect x="120.6" y="155.7" width="1.1" height="1.3" fill="#0a4f24" opacity="0.85"/>
<rect x="122.3" y="155.7" width="1.1" height="1.3" fill="#0a4f24" opacity="0.85"/>
<rect x="124.2" y="156.0" width="1.1" height="1.3" fill="#0a4f24" opacity="0.85"/>
<rect x="126.6" y="155.8" width="1.1" height="1.3" fill="#0a4f24" opacity="0.85"/>
<rect x="128.3" y="155.1" width="1.1" height="1.3" fill="#0a4f24" opacity="0.85"/>
<rect x="129.9" y="155.5" width="1.1" height="1.3" fill="#0a4f24" opacity="0.85"/>
<rect x="131.5" y="155.2" width="1.1" height="1.3" fill="#0a4f24" opacity="0.85"/>
<rect x="133.2" y="156.0" width="1.1" height="1.3" fill="#0a4f24" opacity="0.85"/>
<rect x="135.3" y="155.3" width="1.1" height="1.3" fill="#0a4f24" opacity="0.85"/>
<rect x="137.0" y="155.3" width="1.1" height="1.3" fill="#0a4f24" opacity="0.85"/>
<rect x="138.7" y="155.8" width="1.1" height="1.3" fill="#0a4f24" opacity="0.85"/>
<rect x="141.3" y="155.8" width="1.1" height="1.3" fill="#0a4f24" opacity="0.85"/>
<rect x="142.9" y="155.6" width="1.1" height="1.3" fill="#0a4f24" opacity="0.85"/>
<rect x="145.4" y="155.4" width="1.1" height="1.3" fill="#0a4f24" opacity="0.85"/>
<rect x="147.8" y="155.0" width="1.1" height="1.3" fill="#0a4f24" opacity="0.85"/>
<rect x="149.9" y="155.8" width="1.1" height="1.3" fill="#0a4f24" opacity="0.85"/>
<rect x="151.9" y="155.1" width="1.1" height="1.3" fill="#0a4f24" opacity="0.85"/>
<rect x="154.5" y="155.8" width="1.1" height="1.3" fill="#0a4f24" opacity="0.85"/>
<rect x="156.4" y="155.7" width="1.1" height="1.3" fill="#0a4f24" opacity="0.85"/>
<rect x="158.1" y="155.6" width="1.1" height="1.3" fill="#0a4f24" opacity="0.85"/>
<rect x="160.4" y="155.6" width="1.1" height="1.3" fill="#0a4f24" opacity="0.85"/>
<rect x="162.5" y="155.8" width="1.1" height="1.3" fill="#0a4f24" opacity="0.85"/>
<rect x="164.5" y="155.1" width="1.1" height="1.3" fill="#0a4f24" opacity="0.85"/>
<rect x="166.2" y="155.2" width="1.1" height="1.3" fill="#0a4f24" opacity="0.85"/>
<rect x="168.6" y="155.1" width="1.1" height="1.3" fill="#0a4f24" opacity="0.85"/>
<rect x="171.2" y="155.6" width="1.1" height="1.3" fill="#0a4f24" opacity="0.85"/>
<rect x="172.9" y="156.0" width="1.1" height="1.3" fill="#0a4f24" opacity="0.85"/>
<rect x="175.5" y="155.2" width="1.1" height="1.3" fill="#0a4f24" opacity="0.85"/>
<rect x="177.6" y="155.2" width="1.1" height="1.3" fill="#0a4f24" opacity="0.85"/>
<rect x="179.3" y="155.1" width="1.1" height="1.3" fill="#0a4f24" opacity="0.85"/>
<rect x="181.8" y="155.2" width="1.1" height="1.3" fill="#0a4f24" opacity="0.85"/>
<rect x="183.6" y="155.2" width="1.1" height="1.3" fill="#0a4f24" opacity="0.85"/>
<rect x="185.5" y="156.0" width="1.1" height="1.3" fill="#0a4f24" opacity="0.85"/>
<rect x="187.3" y="155.2" width="1.1" height="1.3" fill="#0a4f24" opacity="0.85"/>
<rect x="189.0" y="155.7" width="1.1" height="1.3" fill="#0a4f24" opacity="0.85"/>
<rect x="190.7" y="155.8" width="1.1" height="1.3" fill="#0a4f24" opacity="0.85"/>
<rect x="193.2" y="155.3" width="1.1" height="1.3" fill="#0a4f24" opacity="0.85"/>
<rect x="195.3" y="155.8" width="1.1" height="1.3" fill="#0a4f24" opacity="0.85"/>
<rect x="197.4" y="155.3" width="1.1" height="1.3" fill="#0a4f24" opacity="0.85"/>
<rect x="199.9" y="156.0" width="1.1" height="1.3" fill="#0a4f24" opacity="0.85"/>
<rect x="201.7" y="155.9" width="1.1" height="1.3" fill="#0a4f24" opacity="0.85"/>
<rect x="203.4" y="155.8" width="1.1" height="1.3" fill="#0a4f24" opacity="0.85"/>
<rect x="205.3" y="156.0" width="1.1" height="1.3" fill="#0a4f24" opacity="0.85"/>
<rect x="206.9" y="155.2" width="1.1" height="1.3" fill="#0a4f24" opacity="0.85"/>
<rect x="209.0" y="155.5" width="1.1" height="1.3" fill="#0a4f24" opacity="0.85"/>
<rect x="211.3" y="155.1" width="1.1" height="1.3" fill="#0a4f24" opacity="0.85"/>
<rect x="213.0" y="155.3" width="1.1" height="1.3" fill="#0a4f24" opacity="0.85"/>
<rect x="214.7" y="156.0" width="1.1" height="1.3" fill="#0a4f24" opacity="0.85"/>
<rect x="216.8" y="155.2" width="1.1" height="1.3" fill="#0a4f24" opacity="0.85"/>
<rect x="218.7" y="155.3" width="1.1" height="1.3" fill="#0a4f24" opacity="0.85"/>
<rect x="220.8" y="155.3" width="1.1" height="1.3" fill="#0a4f24" opacity="0.85"/>
<rect x="223.0" y="155.2" width="1.1" height="1.3" fill="#0a4f24" opacity="0.85"/>
<rect x="225.3" y="155.9" width="1.1" height="1.3" fill="#0a4f24" opacity="0.85"/>
<rect x="227.6" y="155.1" width="1.1" height="1.3" fill="#0a4f24" opacity="0.85"/>
<rect x="229.7" y="155.8" width="1.1" height="1.3" fill="#0a4f24" opacity="0.85"/>
<rect x="231.4" y="155.9" width="1.1" height="1.3" fill="#0a4f24" opacity="0.85"/>
<rect x="233.1" y="155.1" width="1.1" height="1.3" fill="#0a4f24" opacity="0.85"/>
<rect x="234.7" y="155.9" width="1.1" height="1.3" fill="#0a4f24" opacity="0.85"/>
<rect x="236.3" y="155.5" width="1.1" height="1.3" fill="#0a4f24" opacity="0.85"/>
<rect x="238.5" y="155.5" width="1.1" height="1.3" fill="#0a4f24" opacity="0.85"/>
<rect x="241.1" y="155.6" width="1.1" height="1.3" fill="#0a4f24" opacity="0.85"/>
<rect x="242.7" y="155.4" width="1.1" height="1.3" fill="#0a4f24" opacity="0.85"/>
<rect x="244.5" y="155.9" width="1.1" height="1.3" fill="#0a4f24" opacity="0.85"/>
<rect x="246.3" y="155.7" width="1.1" height="1.3" fill="#0a4f24" opacity="0.85"/>
<rect x="248.4" y="155.4" width="1.1" height="1.3" fill="#0a4f24" opacity="0.85"/>
<rect x="250.5" y="155.3" width="1.1" height="1.3" fill="#0a4f24" opacity="0.85"/>
<rect x="252.7" y="155.6" width="1.1" height="1.3" fill="#0a4f24" opacity="0.85"/>
<rect x="255.2" y="155.8" width="1.1" height="1.3" fill="#0a4f24" opacity="0.85"/>
<rect x="256.8" y="155.8" width="1.1" height="1.3" fill="#0a4f24" opacity="0.85"/>
<rect x="258.8" y="156.0" width="1.1" height="1.3" fill="#0a4f24" opacity="0.85"/>
<rect x="260.9" y="155.2" width="1.1" height="1.3" fill="#0a4f24" opacity="0.85"/>
<rect x="263.1" y="155.6" width="1.1" height="1.3" fill="#0a4f24" opacity="0.85"/>
<rect x="265.2" y="155.4" width="1.1" height="1.3" fill="#0a4f24" opacity="0.85"/>
<rect x="267.4" y="155.6" width="1.1" height="1.3" fill="#0a4f24" opacity="0.85"/>
<rect x="269.8" y="155.4" width="1.1" height="1.3" fill="#0a4f24" opacity="0.85"/>
<rect x="271.8" y="155.0" width="1.1" height="1.3" fill="#0a4f24" opacity="0.85"/>
<rect x="274.2" y="155.1" width="1.1" height="1.3" fill="#0a4f24" opacity="0.85"/>
<rect x="276.6" y="155.5" width="1.1" height="1.3" fill="#0a4f24" opacity="0.85"/>
<rect x="278.8" y="155.4" width="1.1" height="1.3" fill="#0a4f24" opacity="0.85"/>
<rect x="281.0" y="155.1" width="1.1" height="1.3" fill="#0a4f24" opacity="0.85"/>
<rect x="282.7" y="155.5" width="1.1" height="1.3" fill="#0a4f24" opacity="0.85"/>
<rect x="284.6" y="155.5" width="1.1" height="1.3" fill="#0a4f24" opacity="0.85"/>
<rect x="286.7" y="156.0" width="1.1" height="1.3" fill="#0a4f24" opacity="0.85"/>
<rect x="289.0" y="155.0" width="1.1" height="1.3" fill="#0a4f24" opacity="0.85"/>
<rect x="291.2" y="155.3" width="1.1" height="1.3" fill="#0a4f24" opacity="0.85"/>
<rect x="293.0" y="155.4" width="1.1" height="1.3" fill="#0a4f24" opacity="0.85"/>
<rect x="295.5" y="155.8" width="1.1" height="1.3" fill="#0a4f24" opacity="0.85"/>
<rect x="152.40" y="141.70" width="7.40" height="18.50" fill="#b9a23e" opacity="0.92"/>
<rect x="152.00" y="160.20" width="8.20" height="5.30" fill="#f2b060" opacity="0.7"/>
<line x1="72.00" y1="154.60" x2="72.00" y2="160.00" stroke="#111" stroke-width="1.0"/>
<line x1="111.50" y1="154.60" x2="111.50" y2="160.00" stroke="#111" stroke-width="1.0"/>
<line x1="151.00" y1="154.60" x2="151.00" y2="160.00" stroke="#111" stroke-width="1.0"/>
<line x1="190.70" y1="154.60" x2="190.70" y2="160.00" stroke="#111" stroke-width="1.0"/>
<line x1="230.30" y1="154.60" x2="230.30" y2="160.00" stroke="#111" stroke-width="1.0"/>
<line x1="270.00" y1="154.60" x2="270.00" y2="160.00" stroke="#111" stroke-width="1.0"/>
<text x="301.20" y="143.00" font-size="6.9" fill="#222">60</text>
<text x="301.20" y="150.60" font-size="6.9" fill="#222">30</text>
<line x1="66.50" y1="178.40" x2="297.80" y2="178.40" stroke="#d8c8cc" stroke-width="0.8"/>
<path d="M66.5,178.4 V162.8 H297.8 V178.4" fill="none" stroke="#5a5a5a" stroke-width="0.9"/>
<line x1="66.50" y1="170.80" x2="297.80" y2="170.80" stroke="#b8aeb0" stroke-width="0.7"/>
<polygon points="71.0,176.6 71.7,176.7 72.4,176.5 73.1,176.6 73.8,176.6 74.5,177.1 75.2,176.8 75.9,177.1 76.6,176.6 77.3,176.7 78.0,176.6 78.7,177.1 79.4,177.0 80.1,176.9 80.8,176.8 81.5,176.8 82.2,176.6 82.9,176.9 83.6,177.2 84.3,177.1 85.0,176.8 85.7,177.1 86.4,176.6 87.1,177.2 87.8,176.9 88.5,176.9 89.2,176.9 89.9,176.6 90.6,177.1 91.3,176.7 92.0,176.6 92.7,176.9 93.4,176.6 94.1,176.9 94.8,176.9 95.5,176.7 96.2,176.7 96.9,177.2 97.6,176.6 98.3,176.9 99.0,176.6 99.7,177.2 100.4,176.8 101.1,176.7 101.8,176.8 102.5,177.2 103.2,177.0 103.9,177.0 104.6,176.8 105.3,176.8 106.0,176.7 106.7,176.6 107.4,177.2 108.1,177.0 108.8,176.9 109.5,177.1 110.2,177.0 110.9,176.8 111.6,177.0 112.3,176.8 113.0,177.2 113.7,176.6 114.4,177.2 115.1,176.8 115.8,176.6 116.5,177.2 117.2,176.7 117.9,176.9 118.6,177.0 119.3,177.3 120.0,177.1 120.7,176.7 121.4,176.8 122.1,176.7 122.8,177.1 123.5,176.9 124.2,176.9 124.9,177.1 125.6,176.7 126.3,176.6 127.0,176.8 127.7,177.1 128.4,177.1 129.1,177.2 129.8,176.8 130.5,177.2 131.2,177.1 131.9,176.7 132.6,176.9 133.3,177.1 134.0,176.6 134.7,177.0 135.4,176.6 136.1,176.9 136.8,176.9 137.5,176.9 138.2,176.9 138.9,176.6 139.6,177.1 140.3,177.2 141.0,176.6 141.7,176.8 142.4,176.8 143.1,177.2 143.8,176.9 144.5,177.0 145.2,177.0 145.9,176.7 146.6,176.6 147.3,176.9 148.0,176.8 148.7,177.1 149.4,176.7 150.1,176.8 150.8,176.8 151.5,176.6 152.2,177.1 152.9,176.6 153.6,176.6 154.3,177.1 155.0,176.6 155.7,176.8 156.4,177.2 157.1,176.5 157.8,176.7 158.5,177.0 159.2,176.7 159.9,176.9 160.6,177.0 161.3,176.6 162.0,177.0 162.7,176.6 163.4,176.8 164.1,177.2 164.8,176.8 165.5,176.8 166.2,176.8 166.9,177.1 167.6,177.1 168.3,177.1 169.0,176.7 169.7,177.1 170.4,176.8 171.1,176.9 171.8,176.7 172.5,176.7 173.2,176.7 173.9,176.7 174.6,177.0 175.3,176.9 176.0,176.8 176.7,177.0 177.4,176.6 178.1,177.3 178.8,176.6 179.5,176.8 180.2,177.2 180.9,176.9 181.6,176.8 182.3,177.0 183.0,176.7 183.7,177.1 184.4,176.7 185.1,177.2 185.8,176.6 186.5,176.6 187.2,176.9 187.9,176.8 188.6,176.9 189.3,176.8 190.0,177.0 190.7,176.7 191.4,176.6 192.1,176.6 192.8,176.9 193.5,176.7 194.2,176.6 194.9,177.1 195.6,176.7 196.3,177.2 197.0,177.1 197.7,177.1 197.7,178.8 197.0,179.2 196.3,178.6 195.6,179.0 194.9,179.1 194.2,179.1 193.5,178.5 192.8,178.5 192.1,178.9 191.4,179.1 190.7,179.2 190.0,178.6 189.3,178.8 188.6,179.0 187.9,179.0 187.2,178.5 186.5,178.4 185.8,179.1 185.1,178.7 184.4,178.5 183.7,178.7 183.0,178.7 182.3,178.9 181.6,178.4 180.9,178.5 180.2,179.1 179.5,178.7 178.8,179.1 178.1,179.1 177.4,178.7 176.7,178.9 176.0,178.7 175.3,178.9 174.6,178.7 173.9,178.6 173.2,178.4 172.5,178.9 171.8,179.0 171.1,178.8 170.4,179.2 169.7,178.8 169.0,179.1 168.3,178.6 167.6,178.8 166.9,178.6 166.2,179.0 165.5,178.5 164.8,178.6 164.1,178.6 163.4,178.5 162.7,178.7 162.0,178.7 161.3,179.0 160.6,179.0 159.9,178.9 159.2,179.0 158.5,178.9 157.8,178.7 157.1,178.9 156.4,179.2 155.7,178.6 155.0,178.5 154.3,178.9 153.6,179.0 152.9,178.5 152.2,179.1 151.5,178.8 150.8,178.7 150.1,179.0 149.4,178.8 148.7,178.6 148.0,178.8 147.3,179.2 146.6,178.8 145.9,178.5 145.2,178.9 144.5,179.0 143.8,179.0 143.1,178.8 142.4,178.8 141.7,179.2 141.0,178.5 140.3,178.7 139.6,179.2 138.9,179.2 138.2,178.7 137.5,178.9 136.8,178.8 136.1,178.8 135.4,178.7 134.7,178.7 134.0,178.4 133.3,178.5 132.6,179.1 131.9,179.0 131.2,178.9 130.5,178.9 129.8,179.0 129.1,179.1 128.4,179.2 127.7,178.5 127.0,178.7 126.3,179.2 125.6,178.7 124.9,179.0 124.2,178.8 123.5,178.5 122.8,178.8 122.1,178.7 121.4,178.8 120.7,178.9 120.0,178.9 119.3,179.0 118.6,179.0 117.9,179.1 117.2,178.8 116.5,178.7 115.8,178.5 115.1,178.7 114.4,179.1 113.7,179.0 113.0,178.5 112.3,178.7 111.6,178.9 110.9,178.7 110.2,179.1 109.5,179.2 108.8,178.5 108.1,178.7 107.4,178.9 106.7,179.1 106.0,179.0 105.3,178.6 104.6,179.0 103.9,178.7 103.2,178.9 102.5,178.4 101.8,178.6 101.1,178.9 100.4,178.8 99.7,179.1 99.0,178.4 98.3,178.8 97.6,178.5 96.9,179.1 96.2,178.6 95.5,179.1 94.8,178.7 94.1,178.5 93.4,179.0 92.7,178.5 92.0,178.7 91.3,178.7 90.6,178.6 89.9,178.7 89.2,178.5 88.5,178.7 87.8,179.1 87.1,178.4 86.4,178.5 85.7,178.8 85.0,179.0 84.3,179.2 83.6,178.5 82.9,179.2 82.2,179.2 81.5,178.7 80.8,179.1 80.1,178.7 79.4,178.5 78.7,178.8 78.0,178.8 77.3,178.6 76.6,179.1 75.9,178.6 75.2,178.6 74.5,178.7 73.8,179.2 73.1,178.9 72.4,178.4 71.7,178.5 71.0,178.4" fill="#34349a"/>
<rect x="71.5" y="177.7" width="1.1" height="1.3" fill="#10105a" opacity="0.85"/>
<rect x="73.5" y="177.6" width="1.1" height="1.3" fill="#10105a" opacity="0.85"/>
<rect x="75.7" y="177.3" width="1.1" height="1.3" fill="#10105a" opacity="0.85"/>
<rect x="78.2" y="177.6" width="1.1" height="1.3" fill="#10105a" opacity="0.85"/>
<rect x="80.6" y="177.7" width="1.1" height="1.3" fill="#10105a" opacity="0.85"/>
<rect x="82.8" y="177.1" width="1.1" height="1.3" fill="#10105a" opacity="0.85"/>
<rect x="85.3" y="177.9" width="1.1" height="1.3" fill="#10105a" opacity="0.85"/>
<rect x="87.0" y="177.3" width="1.1" height="1.3" fill="#10105a" opacity="0.85"/>
<rect x="88.8" y="177.1" width="1.1" height="1.3" fill="#10105a" opacity="0.85"/>
<rect x="91.0" y="177.4" width="1.1" height="1.3" fill="#10105a" opacity="0.85"/>
<rect x="92.7" y="177.4" width="1.1" height="1.3" fill="#10105a" opacity="0.85"/>
<rect x="95.0" y="177.1" width="1.1" height="1.3" fill="#10105a" opacity="0.85"/>
<rect x="97.3" y="177.6" width="1.1" height="1.3" fill="#10105a" opacity="0.85"/>
<rect x="99.7" y="177.9" width="1.1" height="1.3" fill="#10105a" opacity="0.85"/>
<rect x="102.2" y="177.3" width="1.1" height="1.3" fill="#10105a" opacity="0.85"/>
<rect x="103.9" y="177.3" width="1.1" height="1.3" fill="#10105a" opacity="0.85"/>
<rect x="105.6" y="177.8" width="1.1" height="1.3" fill="#10105a" opacity="0.85"/>
<rect x="107.6" y="177.5" width="1.1" height="1.3" fill="#10105a" opacity="0.85"/>
<rect x="109.9" y="177.4" width="1.1" height="1.3" fill="#10105a" opacity="0.85"/>
<rect x="112.5" y="177.6" width="1.1" height="1.3" fill="#10105a" opacity="0.85"/>
<rect x="114.7" y="177.1" width="1.1" height="1.3" fill="#10105a" opacity="0.85"/>
<rect x="116.6" y="177.6" width="1.1" height="1.3" fill="#10105a" opacity="0.85"/>
<rect x="118.6" y="177.5" width="1.1" height="1.3" fill="#10105a" opacity="0.85"/>
<rect x="121.1" y="177.6" width="1.1" height="1.3" fill="#10105a" opacity="0.85"/>
<rect x="123.5" y="177.3" width="1.1" height="1.3" fill="#10105a" opacity="0.85"/>
<rect x="125.2" y="177.2" width="1.1" height="1.3" fill="#10105a" opacity="0.85"/>
<rect x="127.7" y="177.2" width="1.1" height="1.3" fill="#10105a" opacity="0.85"/>
<rect x="129.4" y="177.0" width="1.1" height="1.3" fill="#10105a" opacity="0.85"/>
<rect x="132.0" y="177.1" width="1.1" height="1.3" fill="#10105a" opacity="0.85"/>
<rect x="133.7" y="177.3" width="1.1" height="1.3" fill="#10105a" opacity="0.85"/>
<rect x="135.3" y="177.7" width="1.1" height="1.3" fill="#10105a" opacity="0.85"/>
<rect x="137.6" y="177.4" width="1.1" height="1.3" fill="#10105a" opacity="0.85"/>
<rect x="139.9" y="177.0" width="1.1" height="1.3" fill="#10105a" opacity="0.85"/>
<rect x="142.3" y="177.6" width="1.1" height="1.3" fill="#10105a" opacity="0.85"/>
<rect x="144.7" y="177.1" width="1.1" height="1.3" fill="#10105a" opacity="0.85"/>
<rect x="147.2" y="177.9" width="1.1" height="1.3" fill="#10105a" opacity="0.85"/>
<rect x="149.3" y="177.3" width="1.1" height="1.3" fill="#10105a" opacity="0.85"/>
<rect x="151.4" y="177.6" width="1.1" height="1.3" fill="#10105a" opacity="0.85"/>
<rect x="153.5" y="177.5" width="1.1" height="1.3" fill="#10105a" opacity="0.85"/>
<rect x="156.1" y="177.6" width="1.1" height="1.3" fill="#10105a" opacity="0.85"/>
<rect x="158.0" y="177.8" width="1.1" height="1.3" fill="#10105a" opacity="0.85"/>
<rect x="160.4" y="177.0" width="1.1" height="1.3" fill="#10105a" opacity="0.85"/>
<rect x="162.5" y="177.2" width="1.1" height="1.3" fill="#10105a" opacity="0.85"/>
<rect x="164.4" y="177.3" width="1.1" height="1.3" fill="#10105a" opacity="0.85"/>
<rect x="166.9" y="177.6" width="1.1" height="1.3" fill="#10105a" opacity="0.85"/>
<rect x="168.7" y="177.0" width="1.1" height="1.3" fill="#10105a" opacity="0.85"/>
<rect x="170.5" y="177.3" width="1.1" height="1.3" fill="#10105a" opacity="0.85"/>
<rect x="172.6" y="177.4" width="1.1" height="1.3" fill="#10105a" opacity="0.85"/>
<rect x="174.6" y="177.5" width="1.1" height="1.3" fill="#10105a" opacity="0.85"/>
<rect x="176.5" y="177.9" width="1.1" height="1.3" fill="#10105a" opacity="0.85"/>
<rect x="178.4" y="177.3" width="1.1" height="1.3" fill="#10105a" opacity="0.85"/>
<rect x="180.6" y="177.8" width="1.1" height="1.3" fill="#10105a" opacity="0.85"/>
<rect x="182.6" y="177.6" width="1.1" height="1.3" fill="#10105a" opacity="0.85"/>
<rect x="184.5" y="177.0" width="1.1" height="1.3" fill="#10105a" opacity="0.85"/>
<rect x="187.0" y="177.0" width="1.1" height="1.3" fill="#10105a" opacity="0.85"/>
<rect x="189.4" y="177.0" width="1.1" height="1.3" fill="#10105a" opacity="0.85"/>
<rect x="191.3" y="177.5" width="1.1" height="1.3" fill="#10105a" opacity="0.85"/>
<rect x="193.8" y="177.7" width="1.1" height="1.3" fill="#10105a" opacity="0.85"/>
<rect x="195.7" y="176.9" width="1.1" height="1.3" fill="#10105a" opacity="0.85"/>
<rect x="198.1" y="177.7" width="1.1" height="1.3" fill="#10105a" opacity="0.85"/>
<polygon points="203.0,176.6 203.7,177.2 204.4,176.7 205.1,176.5 205.8,176.8 206.5,176.9 207.2,177.2 207.9,176.6 208.6,176.6 209.3,176.8 210.0,176.6 210.7,176.6 211.4,176.7 212.1,176.7 212.8,176.7 213.5,176.8 214.2,176.6 214.9,176.8 215.6,176.7 216.3,177.0 217.0,176.9 217.7,177.1 218.4,176.6 219.1,176.7 219.8,176.7 220.5,177.0 221.2,176.8 221.9,177.0 222.6,176.9 223.3,177.2 224.0,176.8 224.7,177.2 225.4,176.6 226.1,177.1 226.8,177.0 227.5,177.0 228.2,177.1 228.9,177.1 229.6,177.2 230.3,176.7 231.0,176.7 231.7,176.9 232.4,177.1 233.1,176.8 233.8,176.6 234.5,177.0 235.2,177.0 235.9,177.2 236.6,177.2 237.3,176.6 238.0,176.9 238.7,176.9 239.4,177.2 240.1,176.7 240.8,176.6 241.5,177.2 242.2,176.8 242.9,176.8 243.6,176.8 244.3,177.2 245.0,176.7 245.7,176.6 246.4,177.2 247.1,177.3 247.8,176.6 248.5,177.2 249.2,176.6 249.9,176.7 250.6,177.2 251.3,176.6 252.0,177.3 252.7,176.8 253.4,177.1 254.1,176.9 254.8,176.8 255.5,177.0 256.2,176.7 256.9,177.1 257.6,177.2 258.3,176.9 259.0,176.6 259.7,176.7 260.4,177.1 261.1,176.8 261.8,177.0 262.5,176.9 263.2,176.7 263.9,177.3 264.6,176.9 265.3,176.7 266.0,176.5 266.7,177.1 267.4,176.8 268.1,177.0 268.8,176.8 269.5,176.9 270.2,176.9 270.9,177.3 271.6,177.0 272.3,176.7 273.0,177.0 273.7,176.6 274.4,176.8 275.1,176.9 275.8,176.5 276.5,176.7 277.2,176.9 277.9,176.8 278.6,176.6 279.3,176.9 280.0,176.7 280.7,176.7 281.4,176.5 282.1,176.6 282.8,176.9 283.5,176.9 284.2,176.7 284.9,176.7 285.6,176.9 286.3,177.1 287.0,176.8 287.7,176.6 288.4,176.8 289.1,176.6 289.8,177.1 290.5,177.2 291.2,177.2 291.9,176.8 292.6,177.0 293.3,177.1 294.0,176.7 294.7,177.1 295.4,176.6 295.4,178.9 294.7,178.5 294.0,179.0 293.3,178.5 292.6,179.0 291.9,178.7 291.2,178.6 290.5,178.8 289.8,178.7 289.1,178.9 288.4,178.7 287.7,178.9 287.0,178.4 286.3,178.6 285.6,178.5 284.9,178.7 284.2,178.8 283.5,178.5 282.8,178.5 282.1,178.5 281.4,178.8 280.7,178.6 280.0,179.2 279.3,178.6 278.6,178.9 277.9,179.0 277.2,178.9 276.5,179.1 275.8,178.8 275.1,178.6 274.4,178.5 273.7,178.7 273.0,178.9 272.3,178.8 271.6,179.0 270.9,178.4 270.2,178.9 269.5,179.2 268.8,178.9 268.1,179.1 267.4,178.8 266.7,179.2 266.0,179.1 265.3,179.0 264.6,179.1 263.9,178.9 263.2,178.9 262.5,178.9 261.8,178.8 261.1,179.2 260.4,178.6 259.7,178.7 259.0,178.9 258.3,178.5 257.6,179.1 256.9,178.7 256.2,178.9 255.5,178.8 254.8,178.7 254.1,178.8 253.4,178.9 252.7,179.2 252.0,178.4 251.3,178.7 250.6,178.9 249.9,179.0 249.2,178.6 248.5,179.1 247.8,178.6 247.1,179.0 246.4,178.9 245.7,179.0 245.0,179.1 244.3,179.1 243.6,178.9 242.9,179.0 242.2,179.2 241.5,178.5 240.8,179.1 240.1,178.8 239.4,178.9 238.7,178.4 238.0,179.0 237.3,179.1 236.6,178.5 235.9,178.9 235.2,178.8 234.5,179.1 233.8,179.0 233.1,178.8 232.4,178.8 231.7,178.8 231.0,178.9 230.3,179.0 229.6,178.9 228.9,178.9 228.2,178.4 227.5,179.2 226.8,179.0 226.1,179.2 225.4,179.1 224.7,179.2 224.0,178.4 223.3,178.5 222.6,178.9 221.9,178.6 221.2,179.1 220.5,179.1 219.8,178.8 219.1,178.9 218.4,178.9 217.7,179.0 217.0,179.0 216.3,179.1 215.6,178.7 214.9,178.6 214.2,179.0 213.5,179.2 212.8,178.8 212.1,178.7 211.4,178.9 210.7,179.0 210.0,178.8 209.3,178.5 208.6,179.0 207.9,179.0 207.2,178.4 206.5,178.8 205.8,178.9 205.1,178.9 204.4,179.1 203.7,178.5 203.0,178.6" fill="#34349a"/>
<rect x="203.5" y="176.9" width="1.1" height="1.3" fill="#10105a" opacity="0.85"/>
<rect x="205.3" y="177.7" width="1.1" height="1.3" fill="#10105a" opacity="0.85"/>
<rect x="206.9" y="177.1" width="1.1" height="1.3" fill="#10105a" opacity="0.85"/>
<rect x="209.3" y="177.4" width="1.1" height="1.3" fill="#10105a" opacity="0.85"/>
<rect x="211.0" y="177.1" width="1.1" height="1.3" fill="#10105a" opacity="0.85"/>
<rect x="212.7" y="177.0" width="1.1" height="1.3" fill="#10105a" opacity="0.85"/>
<rect x="214.8" y="177.3" width="1.1" height="1.3" fill="#10105a" opacity="0.85"/>
<rect x="216.4" y="177.5" width="1.1" height="1.3" fill="#10105a" opacity="0.85"/>
<rect x="218.8" y="177.1" width="1.1" height="1.3" fill="#10105a" opacity="0.85"/>
<rect x="221.2" y="177.7" width="1.1" height="1.3" fill="#10105a" opacity="0.85"/>
<rect x="222.9" y="177.7" width="1.1" height="1.3" fill="#10105a" opacity="0.85"/>
<rect x="224.8" y="177.9" width="1.1" height="1.3" fill="#10105a" opacity="0.85"/>
<rect x="226.9" y="177.6" width="1.1" height="1.3" fill="#10105a" opacity="0.85"/>
<rect x="229.3" y="177.0" width="1.1" height="1.3" fill="#10105a" opacity="0.85"/>
<rect x="231.5" y="177.0" width="1.1" height="1.3" fill="#10105a" opacity="0.85"/>
<rect x="233.4" y="177.5" width="1.1" height="1.3" fill="#10105a" opacity="0.85"/>
<rect x="235.1" y="177.8" width="1.1" height="1.3" fill="#10105a" opacity="0.85"/>
<rect x="236.7" y="177.4" width="1.1" height="1.3" fill="#10105a" opacity="0.85"/>
<rect x="238.4" y="177.7" width="1.1" height="1.3" fill="#10105a" opacity="0.85"/>
<rect x="240.9" y="177.4" width="1.1" height="1.3" fill="#10105a" opacity="0.85"/>
<rect x="242.6" y="177.8" width="1.1" height="1.3" fill="#10105a" opacity="0.85"/>
<rect x="245.2" y="177.6" width="1.1" height="1.3" fill="#10105a" opacity="0.85"/>
<rect x="247.7" y="177.6" width="1.1" height="1.3" fill="#10105a" opacity="0.85"/>
<rect x="250.2" y="177.9" width="1.1" height="1.3" fill="#10105a" opacity="0.85"/>
<rect x="252.1" y="177.4" width="1.1" height="1.3" fill="#10105a" opacity="0.85"/>
<rect x="254.3" y="177.8" width="1.1" height="1.3" fill="#10105a" opacity="0.85"/>
<rect x="256.0" y="177.4" width="1.1" height="1.3" fill="#10105a" opacity="0.85"/>
<rect x="258.2" y="177.3" width="1.1" height="1.3" fill="#10105a" opacity="0.85"/>
<rect x="260.1" y="177.6" width="1.1" height="1.3" fill="#10105a" opacity="0.85"/>
<rect x="262.6" y="177.8" width="1.1" height="1.3" fill="#10105a" opacity="0.85"/>
<rect x="265.2" y="177.8" width="1.1" height="1.3" fill="#10105a" opacity="0.85"/>
<rect x="267.3" y="177.7" width="1.1" height="1.3" fill="#10105a" opacity="0.85"/>
<rect x="269.1" y="177.1" width="1.1" height="1.3" fill="#10105a" opacity="0.85"/>
<rect x="271.0" y="177.2" width="1.1" height="1.3" fill="#10105a" opacity="0.85"/>
<rect x="272.6" y="177.2" width="1.1" height="1.3" fill="#10105a" opacity="0.85"/>
<rect x="274.6" y="177.5" width="1.1" height="1.3" fill="#10105a" opacity="0.85"/>
<rect x="276.7" y="177.4" width="1.1" height="1.3" fill="#10105a" opacity="0.85"/>
<rect x="278.9" y="177.3" width="1.1" height="1.3" fill="#10105a" opacity="0.85"/>
<rect x="281.0" y="177.6" width="1.1" height="1.3" fill="#10105a" opacity="0.85"/>
<rect x="283.2" y="177.5" width="1.1" height="1.3" fill="#10105a" opacity="0.85"/>
<rect x="285.5" y="177.3" width="1.1" height="1.3" fill="#10105a" opacity="0.85"/>
<rect x="288.0" y="177.4" width="1.1" height="1.3" fill="#10105a" opacity="0.85"/>
<rect x="290.0" y="177.5" width="1.1" height="1.3" fill="#10105a" opacity="0.85"/>
<rect x="292.1" y="177.9" width="1.1" height="1.3" fill="#10105a" opacity="0.85"/>
<rect x="293.9" y="177.7" width="1.1" height="1.3" fill="#10105a" opacity="0.85"/>
<rect x="295.7" y="177.0" width="1.1" height="1.3" fill="#10105a" opacity="0.85"/>
<line x1="72.00" y1="175.80" x2="72.00" y2="181.20" stroke="#111" stroke-width="1.0"/>
<line x1="111.50" y1="175.80" x2="111.50" y2="181.20" stroke="#111" stroke-width="1.0"/>
<line x1="151.00" y1="175.80" x2="151.00" y2="181.20" stroke="#111" stroke-width="1.0"/>
<line x1="190.70" y1="175.80" x2="190.70" y2="181.20" stroke="#111" stroke-width="1.0"/>
<line x1="230.30" y1="175.80" x2="230.30" y2="181.20" stroke="#111" stroke-width="1.0"/>
<line x1="270.00" y1="175.80" x2="270.00" y2="181.20" stroke="#111" stroke-width="1.0"/>
<text x="301.20" y="164.20" font-size="6.9" fill="#222">60</text>
<text x="301.20" y="171.80" font-size="6.9" fill="#222">30</text>
<text x="72.00" y="191.60" font-size="8.1" text-anchor="middle" fill="#141414">95.350M</text>
<text x="111.50" y="191.60" font-size="8.1" text-anchor="middle" fill="#141414">95.400M</text>
<text x="151.00" y="191.60" font-size="8.1" text-anchor="middle" fill="#141414">95.450M</text>
<text x="190.70" y="191.60" font-size="8.1" text-anchor="middle" fill="#141414">95.500M</text>
<text x="230.30" y="191.60" font-size="8.1" text-anchor="middle" fill="#141414">95.550M</text>
<text x="270.00" y="191.60" font-size="8.1" text-anchor="middle" fill="#141414">95.600M</text>
<text x="324.50" y="10.20" font-size="11.5" font-weight="bold" fill="#000">B</text>
<text x="324.40" y="23.50" font-size="8" fill="#141414">chr7</text>
<line x1="340.70" y1="30.30" x2="462.70" y2="30.30" stroke="#222" stroke-width="1"/>
<rect x="342.20" y="28.40" width="1.20" height="4.00" fill="#222"/>
<rect x="383.00" y="28.40" width="1.20" height="4.00" fill="#222"/>
<rect x="422.10" y="28.40" width="1.20" height="4.00" fill="#222"/>
<rect x="352.5" y="40.4" width="3.0" height="4.4" rx="0.8" fill="#2a2a8e"/>
<text x="356.60" y="44.60" font-size="5.6" fill="#333">Fgl4</text>
<rect x="380.00" y="36.30" width="1.50" height="4.10" fill="#2a2a8e"/>
<rect x="382.30" y="36.30" width="1.50" height="4.10" fill="#2a2a8e"/>
<rect x="380.00" y="37.53" width="3.80" height="1.64" fill="#2a2a8e"/>
<text x="384.50" y="40.40" font-size="5.6" fill="#333">Fgl15</text>
<rect x="395.00" y="45.40" width="12.20" height="2.40" fill="#2a2a8e"/>
<rect x="394.80" y="44.10" width="1.80" height="5.00" fill="#2a2a8e"/>
<rect x="405.60" y="44.10" width="1.80" height="5.00" fill="#2a2a8e"/>
<text x="408.30" y="48.70" font-size="5.6" fill="#333">LTO1</text>
<rect x="407.40" y="52.90" width="1.50" height="4.40" fill="#2a2a8e"/>
<rect x="412.50" y="52.90" width="1.50" height="4.40" fill="#2a2a8e"/>
<rect x="407.40" y="54.22" width="6.60" height="1.76" fill="#2a2a8e"/>
<rect x="407.40" y="53.10" width="1.90" height="4.00" fill="#2a2a8e"/>
<rect x="412.10" y="53.10" width="1.90" height="4.00" fill="#2a2a8e"/>
<text x="414.80" y="56.90" font-size="5.6" fill="#333">Ccnd1</text>
<rect x="407.40" y="58.00" width="1.50" height="4.20" fill="#2a2a8e"/>
<rect x="412.50" y="58.00" width="1.50" height="4.20" fill="#2a2a8e"/>
<rect x="407.40" y="59.26" width="6.60" height="1.68" fill="#2a2a8e"/>
<rect x="407.40" y="58.20" width="1.90" height="3.80" fill="#2a2a8e"/>
<rect x="412.10" y="58.20" width="1.90" height="3.80" fill="#2a2a8e"/>
<text x="414.80" y="61.80" font-size="5.6" fill="#333">Ccnd1</text>
<rect x="394.60" y="64.00" width="1.20" height="122.00" fill="#f6b45a" opacity="0.4"/>
<rect x="413.00" y="64.00" width="5.00" height="120.00" fill="#f4b460" opacity="0.2"/>
<line x1="339.50" y1="93.10" x2="462.30" y2="93.10" stroke="#d8c8cc" stroke-width="0.8"/>
<path d="M339.5,93.1 V77.5 H462.3 V93.1" fill="none" stroke="#5a5a5a" stroke-width="0.9"/>
<line x1="339.50" y1="85.50" x2="462.30" y2="85.50" stroke="#b8aeb0" stroke-width="0.7"/>
<polygon points="344.0,91.0 344.7,90.5 345.4,90.9 346.1,90.3 346.8,90.6 347.5,91.1 348.2,90.5 348.9,90.3 349.6,90.9 350.3,90.1 351.0,90.2 351.7,91.1 352.4,90.6 353.1,90.1 353.8,91.0 354.5,91.0 355.2,90.7 355.9,90.8 356.6,90.9 357.3,90.2 358.0,90.3 358.7,90.1 359.4,90.3 360.1,90.5 360.8,91.0 361.5,90.2 362.2,90.1 362.9,90.7 363.6,90.7 364.3,90.1 365.0,91.1 365.7,90.4 366.4,90.6 367.1,90.5 367.8,90.9 368.5,90.5 369.2,90.9 369.9,90.8 370.6,90.8 371.3,90.8 372.0,91.1 372.7,90.3 373.4,90.4 374.1,90.2 374.8,90.7 375.5,90.1 376.2,90.2 376.9,90.7 377.6,90.2 378.3,91.1 379.0,90.3 379.7,90.2 380.4,90.9 381.1,90.7 381.8,91.1 382.5,90.2 383.2,90.3 383.9,90.9 384.6,90.6 385.3,91.1 386.0,90.2 386.7,90.2 387.4,90.7 388.1,90.2 388.8,90.6 389.5,90.3 390.2,90.4 390.9,91.1 391.6,90.4 392.3,90.5 393.0,90.7 393.7,90.2 394.4,90.4 395.1,86.3 395.8,89.4 396.5,90.4 397.2,90.6 397.9,90.6 398.6,91.0 399.3,90.7 400.0,90.5 400.7,90.4 401.4,90.3 402.1,91.1 402.8,91.1 403.5,91.0 404.2,90.9 404.9,90.8 405.6,90.7 406.3,90.2 407.0,90.6 407.7,90.1 408.4,90.5 409.1,90.3 409.8,90.8 410.5,90.6 411.2,91.1 411.9,90.1 412.6,90.8 413.3,91.0 414.0,91.1 414.7,90.3 415.4,90.5 416.1,90.4 416.8,90.6 417.5,90.7 418.2,91.1 418.9,90.9 419.6,90.3 420.3,90.6 421.0,90.7 421.7,90.5 422.4,91.0 423.1,90.6 423.8,90.2 424.5,90.5 425.2,90.4 425.9,90.4 426.6,90.9 427.3,90.7 428.0,90.2 428.7,90.1 429.4,90.8 430.1,90.7 430.8,90.5 431.5,90.8 432.2,90.3 432.9,91.0 433.6,90.4 434.3,90.8 435.0,90.4 435.7,90.1 436.4,90.9 437.1,91.0 437.8,90.9 438.5,90.8 439.2,90.1 439.9,90.7 440.6,90.8 441.3,90.7 442.0,90.9 442.7,91.1 443.4,90.1 444.1,91.1 444.8,91.1 445.5,90.4 446.2,91.1 446.9,91.0 447.6,90.6 448.3,90.7 449.0,90.3 449.7,90.6 450.4,90.9 451.1,90.5 451.8,90.3 452.5,90.1 453.2,91.1 453.9,91.1 454.6,90.3 455.3,90.9 456.0,90.3 456.7,90.5 457.4,90.3 458.1,90.8 458.8,90.8 459.5,90.2 460.2,91.1 460.2,93.5 459.5,93.2 458.8,93.6 458.1,93.4 457.4,93.4 456.7,93.5 456.0,93.6 455.3,93.1 454.6,93.7 453.9,93.8 453.2,93.6 452.5,93.8 451.8,93.8 451.1,93.3 450.4,93.4 449.7,93.1 449.0,93.8 448.3,93.2 447.6,93.8 446.9,93.3 446.2,93.5 445.5,93.3 444.8,93.6 444.1,93.5 443.4,93.7 442.7,93.7 442.0,93.9 441.3,93.3 440.6,93.2 439.9,93.6 439.2,93.5 438.5,93.4 437.8,93.6 437.1,93.6 436.4,93.8 435.7,93.4 435.0,93.3 434.3,93.6 433.6,93.3 432.9,93.9 432.2,93.5 431.5,93.9 430.8,93.2 430.1,93.2 429.4,93.3 428.7,93.1 428.0,93.9 427.3,93.6 426.6,93.8 425.9,93.6 425.2,93.8 424.5,93.7 423.8,93.7 423.1,93.7 422.4,93.5 421.7,93.9 421.0,93.5 420.3,93.3 419.6,93.7 418.9,93.7 418.2,93.4 417.5,93.3 416.8,93.4 416.1,93.5 415.4,93.1 414.7,93.5 414.0,93.8 413.3,93.2 412.6,93.9 411.9,93.4 411.2,93.8 410.5,93.5 409.8,93.7 409.1,93.9 408.4,93.5 407.7,93.2 407.0,93.5 406.3,93.3 405.6,93.3 404.9,93.1 404.2,93.7 403.5,93.7 402.8,93.7 402.1,93.5 401.4,93.7 400.7,93.8 400.0,93.1 399.3,93.7 398.6,93.2 397.9,93.3 397.2,93.4 396.5,93.2 395.8,93.8 395.1,93.5 394.4,93.2 393.7,93.2 393.0,93.9 392.3,93.3 391.6,93.8 390.9,93.6 390.2,93.9 389.5,93.1 388.8,93.3 388.1,93.3 387.4,93.6 386.7,93.6 386.0,93.7 385.3,93.3 384.6,93.7 383.9,93.9 383.2,93.5 382.5,93.9 381.8,93.4 381.1,93.2 380.4,93.3 379.7,93.1 379.0,93.5 378.3,93.7 377.6,93.2 376.9,93.3 376.2,93.5 375.5,93.6 374.8,93.9 374.1,93.9 373.4,93.6 372.7,93.4 372.0,93.8 371.3,93.2 370.6,93.6 369.9,93.8 369.2,93.2 368.5,93.6 367.8,93.6 367.1,93.7 366.4,93.5 365.7,93.9 365.0,93.2 364.3,93.4 363.6,93.4 362.9,93.4 362.2,93.8 361.5,93.3 360.8,93.5 360.1,93.7 359.4,93.7 358.7,93.8 358.0,93.3 357.3,93.3 356.6,93.1 355.9,93.5 355.2,93.5 354.5,93.8 353.8,93.8 353.1,93.4 352.4,93.2 351.7,93.4 351.0,93.6 350.3,93.7 349.6,93.1 348.9,93.3 348.2,93.2 347.5,93.4 346.8,93.3 346.1,93.5 345.4,93.7 344.7,93.5 344.0,93.7" fill="#349a5c"/>
<rect x="344.5" y="91.6" width="1.1" height="1.3" fill="#0a4f24" opacity="0.85"/>
<rect x="346.3" y="91.2" width="1.1" height="1.3" fill="#0a4f24" opacity="0.85"/>
<rect x="347.9" y="90.9" width="1.1" height="1.3" fill="#0a4f24" opacity="0.85"/>
<rect x="350.0" y="91.6" width="1.1" height="1.3" fill="#0a4f24" opacity="0.85"/>
<rect x="352.3" y="91.1" width="1.1" height="1.3" fill="#0a4f24" opacity="0.85"/>
<rect x="354.0" y="91.8" width="1.1" height="1.3" fill="#0a4f24" opacity="0.85"/>
<rect x="356.1" y="91.3" width="1.1" height="1.3" fill="#0a4f24" opacity="0.85"/>
<rect x="358.4" y="91.6" width="1.1" height="1.3" fill="#0a4f24" opacity="0.85"/>
<rect x="360.6" y="91.0" width="1.1" height="1.3" fill="#0a4f24" opacity="0.85"/>
<rect x="363.0" y="91.1" width="1.1" height="1.3" fill="#0a4f24" opacity="0.85"/>
<rect x="364.6" y="91.3" width="1.1" height="1.3" fill="#0a4f24" opacity="0.85"/>
<rect x="366.8" y="91.5" width="1.1" height="1.3" fill="#0a4f24" opacity="0.85"/>
<rect x="368.5" y="91.6" width="1.1" height="1.3" fill="#0a4f24" opacity="0.85"/>
<rect x="370.6" y="91.1" width="1.1" height="1.3" fill="#0a4f24" opacity="0.85"/>
<rect x="373.1" y="91.7" width="1.1" height="1.3" fill="#0a4f24" opacity="0.85"/>
<rect x="375.6" y="91.6" width="1.1" height="1.3" fill="#0a4f24" opacity="0.85"/>
<rect x="377.4" y="91.7" width="1.1" height="1.3" fill="#0a4f24" opacity="0.85"/>
<rect x="379.9" y="91.4" width="1.1" height="1.3" fill="#0a4f24" opacity="0.85"/>
<rect x="382.4" y="91.9" width="1.1" height="1.3" fill="#0a4f24" opacity="0.85"/>
<rect x="384.4" y="91.9" width="1.1" height="1.3" fill="#0a4f24" opacity="0.85"/>
<rect x="386.9" y="91.7" width="1.1" height="1.3" fill="#0a4f24" opacity="0.85"/>
<rect x="388.5" y="91.3" width="1.1" height="1.3" fill="#0a4f24" opacity="0.85"/>
<rect x="390.8" y="91.5" width="1.1" height="1.3" fill="#0a4f24" opacity="0.85"/>
<rect x="393.1" y="91.6" width="1.1" height="1.3" fill="#0a4f24" opacity="0.85"/>
<rect x="394.9" y="91.8" width="1.1" height="1.3" fill="#0a4f24" opacity="0.85"/>
<rect x="397.0" y="91.8" width="1.1" height="1.3" fill="#0a4f24" opacity="0.85"/>
<rect x="398.8" y="91.9" width="1.1" height="1.3" fill="#0a4f24" opacity="0.85"/>
<rect x="401.0" y="91.7" width="1.1" height="1.3" fill="#0a4f24" opacity="0.85"/>
<rect x="403.3" y="91.8" width="1.1" height="1.3" fill="#0a4f24" opacity="0.85"/>
<rect x="405.3" y="91.0" width="1.1" height="1.3" fill="#0a4f24" opacity="0.85"/>
<rect x="407.3" y="91.1" width="1.1" height="1.3" fill="#0a4f24" opacity="0.85"/>
<rect x="409.4" y="91.7" width="1.1" height="1.3" fill="#0a4f24" opacity="0.85"/>
<rect x="411.4" y="91.0" width="1.1" height="1.3" fill="#0a4f24" opacity="0.85"/>
<rect x="413.0" y="91.3" width="1.1" height="1.3" fill="#0a4f24" opacity="0.85"/>
<rect x="415.2" y="90.9" width="1.1" height="1.3" fill="#0a4f24" opacity="0.85"/>
<rect x="417.5" y="91.1" width="1.1" height="1.3" fill="#0a4f24" opacity="0.85"/>
<rect x="419.2" y="91.8" width="1.1" height="1.3" fill="#0a4f24" opacity="0.85"/>
<rect x="421.3" y="91.8" width="1.1" height="1.3" fill="#0a4f24" opacity="0.85"/>
<rect x="423.4" y="91.0" width="1.1" height="1.3" fill="#0a4f24" opacity="0.85"/>
<rect x="425.2" y="91.3" width="1.1" height="1.3" fill="#0a4f24" opacity="0.85"/>
<rect x="427.5" y="91.7" width="1.1" height="1.3" fill="#0a4f24" opacity="0.85"/>
<rect x="429.8" y="91.6" width="1.1" height="1.3" fill="#0a4f24" opacity="0.85"/>
<rect x="431.7" y="91.3" width="1.1" height="1.3" fill="#0a4f24" opacity="0.85"/>
<rect x="433.7" y="91.4" width="1.1" height="1.3" fill="#0a4f24" opacity="0.85"/>
<rect x="435.5" y="91.4" width="1.1" height="1.3" fill="#0a4f24" opacity="0.85"/>
<rect x="437.6" y="90.9" width="1.1" height="1.3" fill="#0a4f24" opacity="0.85"/>
<rect x="440.0" y="91.5" width="1.1" height="1.3" fill="#0a4f24" opacity="0.85"/>
<rect x="442.4" y="91.6" width="1.1" height="1.3" fill="#0a4f24" opacity="0.85"/>
<rect x="444.7" y="91.9" width="1.1" height="1.3" fill="#0a4f24" opacity="0.85"/>
<rect x="446.7" y="91.3" width="1.1" height="1.3" fill="#0a4f24" opacity="0.85"/>
<rect x="448.3" y="91.6" width="1.1" height="1.3" fill="#0a4f24" opacity="0.85"/>
<rect x="450.5" y="91.5" width="1.1" height="1.3" fill="#0a4f24" opacity="0.85"/>
<rect x="453.1" y="91.1" width="1.1" height="1.3" fill="#0a4f24" opacity="0.85"/>
<rect x="454.9" y="91.6" width="1.1" height="1.3" fill="#0a4f24" opacity="0.85"/>
<rect x="457.3" y="91.4" width="1.1" height="1.3" fill="#0a4f24" opacity="0.85"/>
<rect x="459.0" y="91.3" width="1.1" height="1.3" fill="#0a4f24" opacity="0.85"/>
<rect x="394.30" y="86.50" width="1.80" height="6.60" fill="#b9a23e" opacity="0.92"/>
<rect x="413.40" y="88.60" width="4.10" height="4.50" fill="#b9a23e" opacity="0.92"/>
<line x1="342.80" y1="90.50" x2="342.80" y2="95.90" stroke="#111" stroke-width="1.0"/>
<line x1="383.60" y1="90.50" x2="383.60" y2="95.90" stroke="#111" stroke-width="1.0"/>
<line x1="422.70" y1="90.50" x2="422.70" y2="95.90" stroke="#111" stroke-width="1.0"/>
<line x1="462.00" y1="90.50" x2="462.00" y2="95.90" stroke="#111" stroke-width="1.0"/>
<text x="465.70" y="78.90" font-size="6.9" fill="#222">60</text>
<text x="465.70" y="86.50" font-size="6.9" fill="#222">30</text>
<line x1="339.50" y1="114.20" x2="462.30" y2="114.20" stroke="#d8c8cc" stroke-width="0.8"/>
<path d="M339.5,114.19999999999999 V98.6 H462.3 V114.19999999999999" fill="none" stroke="#5a5a5a" stroke-width="0.9"/>
<line x1="339.50" y1="106.60" x2="462.30" y2="106.60" stroke="#b8aeb0" stroke-width="0.7"/>
<polygon points="344.0,111.2 344.7,112.2 345.4,112.0 346.1,111.5 346.8,111.3 347.5,111.2 348.2,111.6 348.9,111.5 349.6,111.5 350.3,111.3 351.0,111.9 351.7,111.3 352.4,111.2 353.1,111.2 353.8,111.5 354.5,112.0 355.2,111.9 355.9,111.2 356.6,112.1 357.3,111.5 358.0,112.2 358.7,112.2 359.4,111.7 360.1,111.8 360.8,111.3 361.5,111.8 362.2,111.9 362.9,111.7 363.6,111.5 364.3,112.1 365.0,111.9 365.7,111.8 366.4,111.2 367.1,111.8 367.8,111.3 368.5,111.6 369.2,111.9 369.9,112.0 370.6,111.7 371.3,111.5 372.0,111.5 372.7,111.8 373.4,111.2 374.1,111.3 374.8,111.7 375.5,111.2 376.2,111.7 376.9,111.5 377.6,111.4 378.3,111.6 379.0,112.2 379.7,111.4 380.4,107.8 381.1,111.2 381.8,112.2 382.5,111.9 383.2,112.0 383.9,111.3 384.6,111.9 385.3,111.7 386.0,111.9 386.7,111.2 387.4,112.2 388.1,111.3 388.8,112.0 389.5,111.8 390.2,111.5 390.9,112.0 391.6,112.0 392.3,111.5 393.0,111.3 393.7,112.2 394.4,111.6 395.1,111.7 395.8,111.4 396.5,111.6 397.2,111.3 397.9,111.7 398.6,111.9 399.3,111.4 400.0,111.8 400.7,112.1 401.4,111.3 402.1,111.8 402.8,111.7 403.5,111.9 404.2,111.3 404.9,111.5 405.6,111.2 406.3,111.8 407.0,111.4 407.7,111.5 408.4,112.1 409.1,111.8 409.8,111.7 410.5,112.1 411.2,111.3 411.9,111.7 412.6,112.2 413.3,111.5 414.0,111.3 414.7,112.2 415.4,111.7 416.1,111.3 416.8,111.6 417.5,111.9 418.2,111.2 418.9,111.3 419.6,111.5 420.3,111.9 421.0,112.2 421.7,111.9 422.4,111.9 423.1,111.8 423.8,112.1 424.5,111.8 425.2,111.4 425.9,111.7 426.6,111.2 427.3,112.2 428.0,111.7 428.7,112.1 429.4,111.9 430.1,112.2 430.8,111.4 431.5,111.7 432.2,111.7 432.9,111.9 433.6,111.3 434.3,111.7 435.0,112.2 435.7,111.4 436.4,111.9 437.1,112.2 437.8,112.1 438.5,111.4 439.2,111.7 439.9,111.6 440.6,111.2 441.3,111.9 442.0,111.5 442.7,111.9 443.4,111.6 444.1,111.8 444.8,111.6 445.5,112.0 446.2,111.4 446.9,111.7 447.6,111.6 448.3,112.0 449.0,111.9 449.7,111.8 450.4,111.6 451.1,111.8 451.8,111.4 452.5,111.6 453.2,111.4 453.9,111.5 454.6,112.0 455.3,111.8 456.0,112.0 456.7,111.8 457.4,112.1 458.1,111.7 458.8,112.1 459.5,111.7 460.2,112.1 460.2,114.6 459.5,114.3 458.8,114.5 458.1,114.3 457.4,115.0 456.7,114.8 456.0,114.2 455.3,114.7 454.6,114.3 453.9,114.8 453.2,114.3 452.5,114.4 451.8,114.2 451.1,114.3 450.4,114.4 449.7,115.0 449.0,114.8 448.3,114.6 447.6,114.7 446.9,114.7 446.2,114.4 445.5,114.9 444.8,114.9 444.1,114.9 443.4,114.3 442.7,114.5 442.0,114.9 441.3,114.4 440.6,114.7 439.9,114.2 439.2,114.7 438.5,114.4 437.8,114.6 437.1,114.3 436.4,114.4 435.7,114.7 435.0,114.7 434.3,114.7 433.6,114.7 432.9,114.5 432.2,114.3 431.5,114.8 430.8,114.3 430.1,115.0 429.4,114.3 428.7,114.4 428.0,114.4 427.3,115.0 426.6,114.5 425.9,114.9 425.2,114.4 424.5,114.5 423.8,114.6 423.1,114.5 422.4,114.3 421.7,114.2 421.0,114.9 420.3,114.4 419.6,114.5 418.9,114.8 418.2,114.8 417.5,115.0 416.8,114.8 416.1,114.5 415.4,115.0 414.7,114.3 414.0,114.3 413.3,114.8 412.6,115.0 411.9,114.8 411.2,114.7 410.5,114.6 409.8,115.0 409.1,114.4 408.4,114.2 407.7,114.4 407.0,114.5 406.3,114.9 405.6,114.4 404.9,114.9 404.2,114.6 403.5,114.3 402.8,114.4 402.1,114.9 401.4,114.6 400.7,114.8 400.0,114.7 399.3,114.2 398.6,114.9 397.9,114.3 397.2,114.4 396.5,115.0 395.8,114.2 395.1,114.2 394.4,114.2 393.7,114.6 393.0,114.7 392.3,114.3 391.6,114.3 390.9,114.4 390.2,114.6 389.5,114.8 388.8,114.6 388.1,114.2 387.4,114.5 386.7,114.9 386.0,114.8 385.3,114.4 384.6,114.3 383.9,114.3 383.2,114.4 382.5,114.3 381.8,115.0 381.1,114.4 380.4,114.8 379.7,114.5 379.0,114.6 378.3,115.0 377.6,114.9 376.9,114.5 376.2,114.8 375.5,114.8 374.8,114.7 374.1,114.6 373.4,114.6 372.7,114.9 372.0,114.2 371.3,114.4 370.6,114.8 369.9,114.2 369.2,114.5 368.5,114.5 367.8,114.3 367.1,114.3 366.4,114.6 365.7,114.9 365.0,114.5 364.3,115.0 363.6,114.6 362.9,114.5 362.2,114.7 361.5,114.7 360.8,114.4 360.1,114.7 359.4,114.6 358.7,114.9 358.0,114.6 357.3,114.3 356.6,114.9 355.9,114.7 355.2,114.8 354.5,115.0 353.8,114.7 353.1,114.7 352.4,114.8 351.7,114.7 351.0,114.4 350.3,114.7 349.6,114.2 348.9,114.9 348.2,114.9 347.5,114.5 346.8,114.4 346.1,114.5 345.4,114.3 344.7,115.0 344.0,114.3" fill="#349a5c"/>
<rect x="344.5" y="112.3" width="1.1" height="1.3" fill="#0a4f24" opacity="0.85"/>
<rect x="346.5" y="112.5" width="1.1" height="1.3" fill="#0a4f24" opacity="0.85"/>
<rect x="348.8" y="112.6" width="1.1" height="1.3" fill="#0a4f24" opacity="0.85"/>
<rect x="350.7" y="112.2" width="1.1" height="1.3" fill="#0a4f24" opacity="0.85"/>
<rect x="353.1" y="112.1" width="1.1" height="1.3" fill="#0a4f24" opacity="0.85"/>
<rect x="354.9" y="112.1" width="1.1" height="1.3" fill="#0a4f24" opacity="0.85"/>
<rect x="357.3" y="112.6" width="1.1" height="1.3" fill="#0a4f24" opacity="0.85"/>
<rect x="359.8" y="112.6" width="1.1" height="1.3" fill="#0a4f24" opacity="0.85"/>
<rect x="361.7" y="112.4" width="1.1" height="1.3" fill="#0a4f24" opacity="0.85"/>
<rect x="364.1" y="112.2" width="1.1" height="1.3" fill="#0a4f24" opacity="0.85"/>
<rect x="366.5" y="112.4" width="1.1" height="1.3" fill="#0a4f24" opacity="0.85"/>
<rect x="368.1" y="112.4" width="1.1" height="1.3" fill="#0a4f24" opacity="0.85"/>
<rect x="370.3" y="112.2" width="1.1" height="1.3" fill="#0a4f24" opacity="0.85"/>
<rect x="372.8" y="112.9" width="1.1" height="1.3" fill="#0a4f24" opacity="0.85"/>
<rect x="374.9" y="112.9" width="1.1" height="1.3" fill="#0a4f24" opacity="0.85"/>
<rect x="377.2" y="112.5" width="1.1" height="1.3" fill="#0a4f24" opacity="0.85"/>
<rect x="378.9" y="113.0" width="1.1" height="1.3" fill="#0a4f24" opacity="0.85"/>
<rect x="381.5" y="112.5" width="1.1" height="1.3" fill="#0a4f24" opacity="0.85"/>
<rect x="383.4" y="112.1" width="1.1" height="1.3" fill="#0a4f24" opacity="0.85"/>
<rect x="385.7" y="112.9" width="1.1" height="1.3" fill="#0a4f24" opacity="0.85"/>
<rect x="387.7" y="112.3" width="1.1" height="1.3" fill="#0a4f24" opacity="0.85"/>
<rect x="389.9" y="112.8" width="1.1" height="1.3" fill="#0a4f24" opacity="0.85"/>
<rect x="391.6" y="112.3" width="1.1" height="1.3" fill="#0a4f24" opacity="0.85"/>
<rect x="393.9" y="112.1" width="1.1" height="1.3" fill="#0a4f24" opacity="0.85"/>
<rect x="396.3" y="112.3" width="1.1" height="1.3" fill="#0a4f24" opacity="0.85"/>
<rect x="398.7" y="112.5" width="1.1" height="1.3" fill="#0a4f24" opacity="0.85"/>
<rect x="400.5" y="112.0" width="1.1" height="1.3" fill="#0a4f24" opacity="0.85"/>
<rect x="402.2" y="112.3" width="1.1" height="1.3" fill="#0a4f24" opacity="0.85"/>
<rect x="404.6" y="112.8" width="1.1" height="1.3" fill="#0a4f24" opacity="0.85"/>
<rect x="406.8" y="112.3" width="1.1" height="1.3" fill="#0a4f24" opacity="0.85"/>
<rect x="409.1" y="112.7" width="1.1" height="1.3" fill="#0a4f24" opacity="0.85"/>
<rect x="411.0" y="112.1" width="1.1" height="1.3" fill="#0a4f24" opacity="0.85"/>
<rect x="413.1" y="112.2" width="1.1" height="1.3" fill="#0a4f24" opacity="0.85"/>
<rect x="414.9" y="112.4" width="1.1" height="1.3" fill="#0a4f24" opacity="0.85"/>
<rect x="416.6" y="112.9" width="1.1" height="1.3" fill="#0a4f24" opacity="0.85"/>
<rect x="418.4" y="112.9" width="1.1" height="1.3" fill="#0a4f24" opacity="0.85"/>
<rect x="420.8" y="112.0" width="1.1" height="1.3" fill="#0a4f24" opacity="0.85"/>
<rect x="423.3" y="112.8" width="1.1" height="1.3" fill="#0a4f24" opacity="0.85"/>
<rect x="425.4" y="112.9" width="1.1" height="1.3" fill="#0a4f24" opacity="0.85"/>
<rect x="427.5" y="112.0" width="1.1" height="1.3" fill="#0a4f24" opacity="0.85"/>
<rect x="429.2" y="112.3" width="1.1" height="1.3" fill="#0a4f24" opacity="0.85"/>
<rect x="431.7" y="112.8" width="1.1" height="1.3" fill="#0a4f24" opacity="0.85"/>
<rect x="433.4" y="112.4" width="1.1" height="1.3" fill="#0a4f24" opacity="0.85"/>
<rect x="435.1" y="112.2" width="1.1" height="1.3" fill="#0a4f24" opacity="0.85"/>
<rect x="437.1" y="112.4" width="1.1" height="1.3" fill="#0a4f24" opacity="0.85"/>
<rect x="438.8" y="112.7" width="1.1" height="1.3" fill="#0a4f24" opacity="0.85"/>
<rect x="440.7" y="112.9" width="1.1" height="1.3" fill="#0a4f24" opacity="0.85"/>
<rect x="442.7" y="112.4" width="1.1" height="1.3" fill="#0a4f24" opacity="0.85"/>
<rect x="445.1" y="112.4" width="1.1" height="1.3" fill="#0a4f24" opacity="0.85"/>
<rect x="447.0" y="112.1" width="1.1" height="1.3" fill="#0a4f24" opacity="0.85"/>
<rect x="448.9" y="112.2" width="1.1" height="1.3" fill="#0a4f24" opacity="0.85"/>
<rect x="451.2" y="112.4" width="1.1" height="1.3" fill="#0a4f24" opacity="0.85"/>
<rect x="453.5" y="112.3" width="1.1" height="1.3" fill="#0a4f24" opacity="0.85"/>
<rect x="455.2" y="112.3" width="1.1" height="1.3" fill="#0a4f24" opacity="0.85"/>
<rect x="457.2" y="112.9" width="1.1" height="1.3" fill="#0a4f24" opacity="0.85"/>
<rect x="459.0" y="112.2" width="1.1" height="1.3" fill="#0a4f24" opacity="0.85"/>
<rect x="394.20" y="98.70" width="2.00" height="16.40" fill="#b9a23e" opacity="0.92"/>
<rect x="396.00" y="109.60" width="1.80" height="5.00" fill="#b9a23e" opacity="0.92"/>
<rect x="413.40" y="98.70" width="4.10" height="18.40" fill="#b9a23e" opacity="0.92"/>
<rect x="413.00" y="117.10" width="5.00" height="6.00" fill="#f2b060" opacity="0.7"/>
<line x1="342.80" y1="111.60" x2="342.80" y2="117.00" stroke="#111" stroke-width="1.0"/>
<line x1="383.60" y1="111.60" x2="383.60" y2="117.00" stroke="#111" stroke-width="1.0"/>
<line x1="422.70" y1="111.60" x2="422.70" y2="117.00" stroke="#111" stroke-width="1.0"/>
<line x1="462.00" y1="111.60" x2="462.00" y2="117.00" stroke="#111" stroke-width="1.0"/>
<text x="465.70" y="100.00" font-size="6.9" fill="#222">60</text>
<text x="465.70" y="107.60" font-size="6.9" fill="#222">30</text>
<line x1="339.50" y1="135.30" x2="462.30" y2="135.30" stroke="#d8c8cc" stroke-width="0.8"/>
<path d="M339.5,135.29999999999998 V119.69999999999999 H462.3 V135.29999999999998" fill="none" stroke="#5a5a5a" stroke-width="0.9"/>
<line x1="339.50" y1="127.70" x2="462.30" y2="127.70" stroke="#b8aeb0" stroke-width="0.7"/>
<polygon points="344.0,132.3 344.7,132.4 345.4,132.7 346.1,132.8 346.8,133.1 347.5,133.1 348.2,133.3 348.9,132.6 349.6,132.8 350.3,133.0 351.0,132.5 351.7,132.6 352.4,132.3 353.1,132.5 353.8,132.7 354.5,133.0 355.2,132.8 355.9,132.7 356.6,132.6 357.3,133.1 358.0,132.5 358.7,133.2 359.4,133.3 360.1,132.7 360.8,133.0 361.5,133.0 362.2,132.5 362.9,133.1 363.6,132.5 364.3,132.4 365.0,132.8 365.7,132.7 366.4,133.2 367.1,133.3 367.8,133.3 368.5,132.6 369.2,132.5 369.9,132.8 370.6,132.5 371.3,132.3 372.0,133.1 372.7,132.8 373.4,132.3 374.1,133.1 374.8,132.8 375.5,132.8 376.2,133.1 376.9,132.4 377.6,133.0 378.3,132.5 379.0,132.6 379.7,132.6 380.4,132.6 381.1,133.0 381.8,132.5 382.5,132.7 383.2,133.2 383.9,133.0 384.6,132.4 385.3,132.3 386.0,132.7 386.7,133.1 387.4,132.8 388.1,132.6 388.8,132.9 389.5,133.2 390.2,133.1 390.9,133.2 391.6,132.9 392.3,132.6 393.0,132.6 393.7,132.7 394.4,132.7 395.1,131.3 395.8,131.8 396.5,132.5 397.2,132.7 397.9,133.0 398.6,133.0 399.3,133.0 400.0,132.9 400.7,132.8 401.4,133.1 402.1,133.2 402.8,133.1 403.5,132.8 404.2,132.8 404.9,132.7 405.6,132.4 406.3,132.4 407.0,132.3 407.7,133.3 408.4,133.0 409.1,133.2 409.8,133.2 410.5,132.9 411.2,133.0 411.9,132.4 412.6,133.2 413.3,132.4 414.0,133.3 414.7,133.2 415.4,132.8 416.1,132.7 416.8,132.5 417.5,132.7 418.2,133.2 418.9,132.4 419.6,132.9 420.3,132.7 421.0,132.4 421.7,132.9 422.4,132.5 423.1,133.0 423.8,132.3 424.5,133.2 425.2,132.5 425.9,133.3 426.6,132.6 427.3,132.8 428.0,132.9 428.7,133.0 429.4,132.5 430.1,132.9 430.8,133.0 431.5,132.9 432.2,132.5 432.9,132.3 433.6,132.7 434.3,132.7 435.0,132.3 435.7,132.9 436.4,132.4 437.1,132.9 437.8,133.3 438.5,132.3 439.2,132.6 439.9,133.0 440.6,132.7 441.3,132.7 442.0,132.8 442.7,133.3 443.4,133.2 444.1,133.0 444.8,132.5 445.5,132.8 446.2,133.0 446.9,133.0 447.6,132.8 448.3,132.5 449.0,132.3 449.7,132.5 450.4,132.4 451.1,132.6 451.8,132.6 452.5,132.3 453.2,133.2 453.9,133.3 454.6,132.5 455.3,132.3 456.0,132.8 456.7,132.7 457.4,132.6 458.1,133.1 458.8,132.5 459.5,132.5 460.2,133.1 460.2,135.3 459.5,135.4 458.8,135.4 458.1,135.9 457.4,136.0 456.7,136.1 456.0,135.5 455.3,135.8 454.6,135.9 453.9,135.4 453.2,136.0 452.5,136.1 451.8,135.4 451.1,136.1 450.4,135.4 449.7,135.8 449.0,135.3 448.3,135.5 447.6,135.7 446.9,135.5 446.2,136.1 445.5,135.5 444.8,135.8 444.1,135.8 443.4,135.8 442.7,135.7 442.0,135.4 441.3,135.7 440.6,135.4 439.9,135.4 439.2,135.8 438.5,135.9 437.8,135.6 437.1,135.3 436.4,135.6 435.7,135.4 435.0,135.8 434.3,136.0 433.6,135.6 432.9,135.7 432.2,135.8 431.5,135.4 430.8,135.8 430.1,135.5 429.4,135.8 428.7,135.6 428.0,135.3 427.3,135.5 426.6,135.9 425.9,135.6 425.2,136.0 424.5,135.6 423.8,136.1 423.1,136.0 422.4,136.0 421.7,135.8 421.0,135.6 420.3,135.7 419.6,135.6 418.9,135.5 418.2,135.4 417.5,135.6 416.8,135.8 416.1,135.9 415.4,135.9 414.7,135.9 414.0,135.8 413.3,135.4 412.6,136.1 411.9,135.8 411.2,135.4 410.5,135.8 409.8,135.9 409.1,136.0 408.4,135.6 407.7,135.9 407.0,135.8 406.3,135.5 405.6,135.5 404.9,135.7 404.2,135.4 403.5,135.4 402.8,136.0 402.1,135.5 401.4,135.5 400.7,135.7 400.0,136.0 399.3,135.6 398.6,136.1 397.9,135.6 397.2,135.5 396.5,135.8 395.8,135.7 395.1,136.0 394.4,136.0 393.7,135.7 393.0,135.7 392.3,135.7 391.6,135.4 390.9,135.7 390.2,135.8 389.5,136.0 388.8,135.9 388.1,135.3 387.4,135.7 386.7,135.7 386.0,135.7 385.3,135.4 384.6,135.5 383.9,135.7 383.2,135.8 382.5,136.0 381.8,135.7 381.1,135.6 380.4,135.5 379.7,136.0 379.0,135.6 378.3,136.0 377.6,136.0 376.9,135.7 376.2,135.6 375.5,136.0 374.8,135.4 374.1,135.4 373.4,136.1 372.7,135.5 372.0,135.4 371.3,135.6 370.6,135.6 369.9,136.1 369.2,136.1 368.5,136.1 367.8,135.9 367.1,135.6 366.4,136.1 365.7,136.1 365.0,136.0 364.3,135.5 363.6,135.9 362.9,135.4 362.2,135.7 361.5,135.5 360.8,135.6 360.1,136.0 359.4,135.5 358.7,135.4 358.0,135.5 357.3,135.6 356.6,135.4 355.9,135.7 355.2,135.9 354.5,135.4 353.8,135.8 353.1,135.6 352.4,135.6 351.7,135.8 351.0,135.8 350.3,135.3 349.6,135.9 348.9,135.6 348.2,135.4 347.5,135.7 346.8,135.7 346.1,135.4 345.4,135.6 344.7,135.4 344.0,136.1" fill="#349a5c"/>
<rect x="344.5" y="133.8" width="1.1" height="1.3" fill="#0a4f24" opacity="0.85"/>
<rect x="346.2" y="134.1" width="1.1" height="1.3" fill="#0a4f24" opacity="0.85"/>
<rect x="347.8" y="133.9" width="1.1" height="1.3" fill="#0a4f24" opacity="0.85"/>
<rect x="350.2" y="133.7" width="1.1" height="1.3" fill="#0a4f24" opacity="0.85"/>
<rect x="352.4" y="133.9" width="1.1" height="1.3" fill="#0a4f24" opacity="0.85"/>
<rect x="354.6" y="133.2" width="1.1" height="1.3" fill="#0a4f24" opacity="0.85"/>
<rect x="357.0" y="133.5" width="1.1" height="1.3" fill="#0a4f24" opacity="0.85"/>
<rect x="359.2" y="133.6" width="1.1" height="1.3" fill="#0a4f24" opacity="0.85"/>
<rect x="361.7" y="133.5" width="1.1" height="1.3" fill="#0a4f24" opacity="0.85"/>
<rect x="364.1" y="133.2" width="1.1" height="1.3" fill="#0a4f24" opacity="0.85"/>
<rect x="366.1" y="133.8" width="1.1" height="1.3" fill="#0a4f24" opacity="0.85"/>
<rect x="368.3" y="133.9" width="1.1" height="1.3" fill="#0a4f24" opacity="0.85"/>
<rect x="370.1" y="133.9" width="1.1" height="1.3" fill="#0a4f24" opacity="0.85"/>
<rect x="372.5" y="133.3" width="1.1" height="1.3" fill="#0a4f24" opacity="0.85"/>
<rect x="374.2" y="133.7" width="1.1" height="1.3" fill="#0a4f24" opacity="0.85"/>
<rect x="376.8" y="133.7" width="1.1" height="1.3" fill="#0a4f24" opacity="0.85"/>
<rect x="378.8" y="133.6" width="1.1" height="1.3" fill="#0a4f24" opacity="0.85"/>
<rect x="381.2" y="133.6" width="1.1" height="1.3" fill="#0a4f24" opacity="0.85"/>
<rect x="383.4" y="133.7" width="1.1" height="1.3" fill="#0a4f24" opacity="0.85"/>
<rect x="385.9" y="133.9" width="1.1" height="1.3" fill="#0a4f24" opacity="0.85"/>
<rect x="388.4" y="133.4" width="1.1" height="1.3" fill="#0a4f24" opacity="0.85"/>
<rect x="390.6" y="133.9" width="1.1" height="1.3" fill="#0a4f24" opacity="0.85"/>
<rect x="392.9" y="134.1" width="1.1" height="1.3" fill="#0a4f24" opacity="0.85"/>
<rect x="395.4" y="133.2" width="1.1" height="1.3" fill="#0a4f24" opacity="0.85"/>
<rect x="397.5" y="133.5" width="1.1" height="1.3" fill="#0a4f24" opacity="0.85"/>
<rect x="399.3" y="133.6" width="1.1" height="1.3" fill="#0a4f24" opacity="0.85"/>
<rect x="401.9" y="133.9" width="1.1" height="1.3" fill="#0a4f24" opacity="0.85"/>
<rect x="403.6" y="133.4" width="1.1" height="1.3" fill="#0a4f24" opacity="0.85"/>
<rect x="405.5" y="134.0" width="1.1" height="1.3" fill="#0a4f24" opacity="0.85"/>
<rect x="407.6" y="133.3" width="1.1" height="1.3" fill="#0a4f24" opacity="0.85"/>
<rect x="409.8" y="133.4" width="1.1" height="1.3" fill="#0a4f24" opacity="0.85"/>
<rect x="411.4" y="133.7" width="1.1" height="1.3" fill="#0a4f24" opacity="0.85"/>
<rect x="414.0" y="133.9" width="1.1" height="1.3" fill="#0a4f24" opacity="0.85"/>
<rect x="416.3" y="133.3" width="1.1" height="1.3" fill="#0a4f24" opacity="0.85"/>
<rect x="418.5" y="133.7" width="1.1" height="1.3" fill="#0a4f24" opacity="0.85"/>
<rect x="420.8" y="133.6" width="1.1" height="1.3" fill="#0a4f24" opacity="0.85"/>
<rect x="422.5" y="134.0" width="1.1" height="1.3" fill="#0a4f24" opacity="0.85"/>
<rect x="424.4" y="133.8" width="1.1" height="1.3" fill="#0a4f24" opacity="0.85"/>
<rect x="426.4" y="133.9" width="1.1" height="1.3" fill="#0a4f24" opacity="0.85"/>
<rect x="428.4" y="133.2" width="1.1" height="1.3" fill="#0a4f24" opacity="0.85"/>
<rect x="430.4" y="133.6" width="1.1" height="1.3" fill="#0a4f24" opacity="0.85"/>
<rect x="432.8" y="133.5" width="1.1" height="1.3" fill="#0a4f24" opacity="0.85"/>
<rect x="435.1" y="133.5" width="1.1" height="1.3" fill="#0a4f24" opacity="0.85"/>
<rect x="437.4" y="133.3" width="1.1" height="1.3" fill="#0a4f24" opacity="0.85"/>
<rect x="439.9" y="134.1" width="1.1" height="1.3" fill="#0a4f24" opacity="0.85"/>
<rect x="441.5" y="134.0" width="1.1" height="1.3" fill="#0a4f24" opacity="0.85"/>
<rect x="443.9" y="133.8" width="1.1" height="1.3" fill="#0a4f24" opacity="0.85"/>
<rect x="445.6" y="133.8" width="1.1" height="1.3" fill="#0a4f24" opacity="0.85"/>
<rect x="447.9" y="133.7" width="1.1" height="1.3" fill="#0a4f24" opacity="0.85"/>
<rect x="450.5" y="134.1" width="1.1" height="1.3" fill="#0a4f24" opacity="0.85"/>
<rect x="452.7" y="134.0" width="1.1" height="1.3" fill="#0a4f24" opacity="0.85"/>
<rect x="454.5" y="133.4" width="1.1" height="1.3" fill="#0a4f24" opacity="0.85"/>
<rect x="456.6" y="133.6" width="1.1" height="1.3" fill="#0a4f24" opacity="0.85"/>
<rect x="459.2" y="133.7" width="1.1" height="1.3" fill="#0a4f24" opacity="0.85"/>
<rect x="413.40" y="131.00" width="4.10" height="9.10" fill="#b9a23e" opacity="0.92"/>
<line x1="342.80" y1="132.70" x2="342.80" y2="138.10" stroke="#111" stroke-width="1.0"/>
<line x1="383.60" y1="132.70" x2="383.60" y2="138.10" stroke="#111" stroke-width="1.0"/>
<line x1="422.70" y1="132.70" x2="422.70" y2="138.10" stroke="#111" stroke-width="1.0"/>
<line x1="462.00" y1="132.70" x2="462.00" y2="138.10" stroke="#111" stroke-width="1.0"/>
<text x="465.70" y="121.10" font-size="6.9" fill="#222">60</text>
<text x="465.70" y="128.70" font-size="6.9" fill="#222">30</text>
<line x1="339.50" y1="156.30" x2="462.30" y2="156.30" stroke="#d8c8cc" stroke-width="0.8"/>
<path d="M339.5,156.29999999999998 V140.7 H462.3 V156.29999999999998" fill="none" stroke="#5a5a5a" stroke-width="0.9"/>
<line x1="339.50" y1="148.70" x2="462.30" y2="148.70" stroke="#b8aeb0" stroke-width="0.7"/>
<polygon points="344.0,153.6 344.7,154.1 345.4,154.1 346.1,154.2 346.8,154.2 347.5,153.6 348.2,153.9 348.9,153.3 349.6,153.8 350.3,153.5 351.0,154.0 351.7,154.2 352.4,153.4 353.1,154.0 353.8,153.8 354.5,153.4 355.2,154.0 355.9,154.3 356.6,153.6 357.3,153.5 358.0,153.4 358.7,153.5 359.4,154.2 360.1,154.2 360.8,153.8 361.5,153.3 362.2,153.8 362.9,153.5 363.6,154.1 364.3,154.1 365.0,153.6 365.7,153.5 366.4,153.8 367.1,154.1 367.8,153.7 368.5,153.4 369.2,153.9 369.9,153.9 370.6,153.9 371.3,154.3 372.0,153.6 372.7,153.8 373.4,153.9 374.1,154.1 374.8,154.0 375.5,153.4 376.2,153.6 376.9,152.2 377.6,153.3 378.3,153.7 379.0,154.1 379.7,153.5 380.4,153.6 381.1,154.3 381.8,154.3 382.5,153.4 383.2,153.4 383.9,153.9 384.6,154.3 385.3,154.3 386.0,153.7 386.7,154.3 387.4,153.5 388.1,154.1 388.8,153.8 389.5,153.5 390.2,153.6 390.9,153.6 391.6,153.6 392.3,153.3 393.0,153.4 393.7,154.1 394.4,154.2 395.1,154.0 395.8,154.1 396.5,154.1 397.2,153.5 397.9,153.3 398.6,154.0 399.3,154.1 400.0,153.7 400.7,154.0 401.4,153.6 402.1,154.3 402.8,153.5 403.5,154.1 404.2,154.0 404.9,153.5 405.6,154.0 406.3,153.3 407.0,153.3 407.7,153.7 408.4,153.3 409.1,154.1 409.8,153.3 410.5,154.0 411.2,153.9 411.9,154.0 412.6,153.7 413.3,154.2 414.0,153.3 414.7,154.0 415.4,153.4 416.1,154.0 416.8,153.6 417.5,154.1 418.2,154.2 418.9,153.4 419.6,153.7 420.3,154.2 421.0,153.9 421.7,154.2 422.4,154.2 423.1,153.4 423.8,153.8 424.5,153.8 425.2,153.3 425.9,153.4 426.6,153.4 427.3,154.2 428.0,154.2 428.7,154.1 429.4,153.5 430.1,154.1 430.8,153.9 431.5,154.1 432.2,153.9 432.9,153.8 433.6,153.8 434.3,153.6 435.0,153.6 435.7,153.5 436.4,154.0 437.1,153.7 437.8,153.8 438.5,153.5 439.2,153.5 439.9,153.7 440.6,153.9 441.3,153.5 442.0,154.2 442.7,153.6 443.4,154.1 444.1,154.1 444.8,153.7 445.5,153.5 446.2,154.1 446.9,153.9 447.6,153.5 448.3,153.6 449.0,154.0 449.7,154.2 450.4,153.5 451.1,154.3 451.8,154.1 452.5,154.0 453.2,154.1 453.9,153.4 454.6,153.5 455.3,154.0 456.0,153.4 456.7,153.3 457.4,153.7 458.1,154.2 458.8,153.7 459.5,153.3 460.2,153.8 460.2,157.0 459.5,156.6 458.8,157.1 458.1,156.3 457.4,156.7 456.7,157.0 456.0,157.1 455.3,156.4 454.6,156.4 453.9,156.9 453.2,156.4 452.5,156.4 451.8,156.7 451.1,157.0 450.4,156.4 449.7,156.9 449.0,156.9 448.3,156.7 447.6,156.8 446.9,156.7 446.2,157.0 445.5,156.5 444.8,157.1 444.1,157.0 443.4,157.1 442.7,156.6 442.0,156.4 441.3,156.8 440.6,157.0 439.9,156.4 439.2,157.0 438.5,157.0 437.8,156.8 437.1,156.7 436.4,156.8 435.7,156.3 435.0,156.7 434.3,156.5 433.6,156.9 432.9,156.5 432.2,156.3 431.5,156.7 430.8,157.1 430.1,156.4 429.4,157.1 428.7,156.8 428.0,156.8 427.3,156.8 426.6,156.6 425.9,156.9 425.2,156.7 424.5,156.7 423.8,156.3 423.1,156.4 422.4,156.8 421.7,157.0 421.0,157.0 420.3,156.7 419.6,156.9 418.9,156.7 418.2,157.0 417.5,156.4 416.8,156.8 416.1,156.5 415.4,156.8 414.7,156.9 414.0,157.0 413.3,156.7 412.6,156.5 411.9,156.7 411.2,157.0 410.5,156.4 409.8,156.7 409.1,157.0 408.4,156.6 407.7,156.8 407.0,156.5 406.3,156.7 405.6,156.5 404.9,156.5 404.2,156.8 403.5,156.5 402.8,156.9 402.1,156.4 401.4,156.4 400.7,156.9 400.0,156.7 399.3,157.1 398.6,156.4 397.9,156.5 397.2,156.8 396.5,156.5 395.8,156.8 395.1,157.0 394.4,157.1 393.7,156.4 393.0,156.6 392.3,157.0 391.6,156.6 390.9,156.7 390.2,156.5 389.5,156.7 388.8,156.4 388.1,156.4 387.4,156.4 386.7,157.0 386.0,156.9 385.3,157.0 384.6,157.0 383.9,156.4 383.2,156.5 382.5,156.7 381.8,156.9 381.1,156.7 380.4,156.6 379.7,156.6 379.0,156.6 378.3,157.0 377.6,156.6 376.9,156.7 376.2,156.3 375.5,156.9 374.8,156.6 374.1,156.5 373.4,156.6 372.7,156.8 372.0,156.9 371.3,157.1 370.6,156.9 369.9,156.6 369.2,156.3 368.5,156.5 367.8,156.6 367.1,156.4 366.4,157.0 365.7,156.6 365.0,156.6 364.3,156.8 363.6,156.8 362.9,156.7 362.2,157.1 361.5,156.4 360.8,156.8 360.1,156.4 359.4,156.7 358.7,157.0 358.0,156.5 357.3,157.1 356.6,156.9 355.9,156.4 355.2,157.0 354.5,157.0 353.8,156.6 353.1,156.5 352.4,156.4 351.7,156.9 351.0,157.1 350.3,156.7 349.6,157.1 348.9,156.4 348.2,157.0 347.5,156.9 346.8,156.9 346.1,156.9 345.4,156.8 344.7,157.1 344.0,157.0" fill="#349a5c"/>
<rect x="344.5" y="154.4" width="1.1" height="1.3" fill="#0a4f24" opacity="0.85"/>
<rect x="346.8" y="154.7" width="1.1" height="1.3" fill="#0a4f24" opacity="0.85"/>
<rect x="348.9" y="154.5" width="1.1" height="1.3" fill="#0a4f24" opacity="0.85"/>
<rect x="350.6" y="154.3" width="1.1" height="1.3" fill="#0a4f24" opacity="0.85"/>
<rect x="352.5" y="155.1" width="1.1" height="1.3" fill="#0a4f24" opacity="0.85"/>
<rect x="354.9" y="154.1" width="1.1" height="1.3" fill="#0a4f24" opacity="0.85"/>
<rect x="357.3" y="154.3" width="1.1" height="1.3" fill="#0a4f24" opacity="0.85"/>
<rect x="359.5" y="155.0" width="1.1" height="1.3" fill="#0a4f24" opacity="0.85"/>
<rect x="362.0" y="155.0" width="1.1" height="1.3" fill="#0a4f24" opacity="0.85"/>
<rect x="364.6" y="154.7" width="1.1" height="1.3" fill="#0a4f24" opacity="0.85"/>
<rect x="366.2" y="154.4" width="1.1" height="1.3" fill="#0a4f24" opacity="0.85"/>
<rect x="368.5" y="154.7" width="1.1" height="1.3" fill="#0a4f24" opacity="0.85"/>
<rect x="371.0" y="154.3" width="1.1" height="1.3" fill="#0a4f24" opacity="0.85"/>
<rect x="373.5" y="154.7" width="1.1" height="1.3" fill="#0a4f24" opacity="0.85"/>
<rect x="375.7" y="154.2" width="1.1" height="1.3" fill="#0a4f24" opacity="0.85"/>
<rect x="377.6" y="154.6" width="1.1" height="1.3" fill="#0a4f24" opacity="0.85"/>
<rect x="380.0" y="154.8" width="1.1" height="1.3" fill="#0a4f24" opacity="0.85"/>
<rect x="382.2" y="154.8" width="1.1" height="1.3" fill="#0a4f24" opacity="0.85"/>
<rect x="384.2" y="154.4" width="1.1" height="1.3" fill="#0a4f24" opacity="0.85"/>
<rect x="386.7" y="154.8" width="1.1" height="1.3" fill="#0a4f24" opacity="0.85"/>
<rect x="388.9" y="155.1" width="1.1" height="1.3" fill="#0a4f24" opacity="0.85"/>
<rect x="391.4" y="154.8" width="1.1" height="1.3" fill="#0a4f24" opacity="0.85"/>
<rect x="394.0" y="154.5" width="1.1" height="1.3" fill="#0a4f24" opacity="0.85"/>
<rect x="396.5" y="154.7" width="1.1" height="1.3" fill="#0a4f24" opacity="0.85"/>
<rect x="398.5" y="154.5" width="1.1" height="1.3" fill="#0a4f24" opacity="0.85"/>
<rect x="400.2" y="155.0" width="1.1" height="1.3" fill="#0a4f24" opacity="0.85"/>
<rect x="402.7" y="154.5" width="1.1" height="1.3" fill="#0a4f24" opacity="0.85"/>
<rect x="405.3" y="154.2" width="1.1" height="1.3" fill="#0a4f24" opacity="0.85"/>
<rect x="407.3" y="155.1" width="1.1" height="1.3" fill="#0a4f24" opacity="0.85"/>
<rect x="409.6" y="154.3" width="1.1" height="1.3" fill="#0a4f24" opacity="0.85"/>
<rect x="411.8" y="154.1" width="1.1" height="1.3" fill="#0a4f24" opacity="0.85"/>
<rect x="414.1" y="154.7" width="1.1" height="1.3" fill="#0a4f24" opacity="0.85"/>
<rect x="416.4" y="154.8" width="1.1" height="1.3" fill="#0a4f24" opacity="0.85"/>
<rect x="418.1" y="155.0" width="1.1" height="1.3" fill="#0a4f24" opacity="0.85"/>
<rect x="420.4" y="155.0" width="1.1" height="1.3" fill="#0a4f24" opacity="0.85"/>
<rect x="422.3" y="154.3" width="1.1" height="1.3" fill="#0a4f24" opacity="0.85"/>
<rect x="424.6" y="155.0" width="1.1" height="1.3" fill="#0a4f24" opacity="0.85"/>
<rect x="426.8" y="154.4" width="1.1" height="1.3" fill="#0a4f24" opacity="0.85"/>
<rect x="428.8" y="154.4" width="1.1" height="1.3" fill="#0a4f24" opacity="0.85"/>
<rect x="430.9" y="155.1" width="1.1" height="1.3" fill="#0a4f24" opacity="0.85"/>
<rect x="433.2" y="154.3" width="1.1" height="1.3" fill="#0a4f24" opacity="0.85"/>
<rect x="435.7" y="155.0" width="1.1" height="1.3" fill="#0a4f24" opacity="0.85"/>
<rect x="437.7" y="154.1" width="1.1" height="1.3" fill="#0a4f24" opacity="0.85"/>
<rect x="439.9" y="154.4" width="1.1" height="1.3" fill="#0a4f24" opacity="0.85"/>
<rect x="441.7" y="155.0" width="1.1" height="1.3" fill="#0a4f24" opacity="0.85"/>
<rect x="443.7" y="154.3" width="1.1" height="1.3" fill="#0a4f24" opacity="0.85"/>
<rect x="445.6" y="155.1" width="1.1" height="1.3" fill="#0a4f24" opacity="0.85"/>
<rect x="447.5" y="154.6" width="1.1" height="1.3" fill="#0a4f24" opacity="0.85"/>
<rect x="449.4" y="154.2" width="1.1" height="1.3" fill="#0a4f24" opacity="0.85"/>
<rect x="451.1" y="154.2" width="1.1" height="1.3" fill="#0a4f24" opacity="0.85"/>
<rect x="453.1" y="154.5" width="1.1" height="1.3" fill="#0a4f24" opacity="0.85"/>
<rect x="455.4" y="154.9" width="1.1" height="1.3" fill="#0a4f24" opacity="0.85"/>
<rect x="457.9" y="154.2" width="1.1" height="1.3" fill="#0a4f24" opacity="0.85"/>
<rect x="460.1" y="154.3" width="1.1" height="1.3" fill="#0a4f24" opacity="0.85"/>
<rect x="394.20" y="142.40" width="2.00" height="15.20" fill="#b9a23e" opacity="0.92"/>
<rect x="396.00" y="152.10" width="1.80" height="5.00" fill="#b9a23e" opacity="0.92"/>
<rect x="413.40" y="142.40" width="4.10" height="21.30" fill="#b9a23e" opacity="0.92"/>
<line x1="342.80" y1="153.70" x2="342.80" y2="159.10" stroke="#111" stroke-width="1.0"/>
<line x1="383.60" y1="153.70" x2="383.60" y2="159.10" stroke="#111" stroke-width="1.0"/>
<line x1="422.70" y1="153.70" x2="422.70" y2="159.10" stroke="#111" stroke-width="1.0"/>
<line x1="462.00" y1="153.70" x2="462.00" y2="159.10" stroke="#111" stroke-width="1.0"/>
<text x="465.70" y="142.10" font-size="6.9" fill="#222">60</text>
<text x="465.70" y="149.70" font-size="6.9" fill="#222">30</text>
<line x1="339.50" y1="177.50" x2="462.30" y2="177.50" stroke="#d8c8cc" stroke-width="0.8"/>
<path d="M339.5,177.5 V161.9 H462.3 V177.5" fill="none" stroke="#5a5a5a" stroke-width="0.9"/>
<line x1="339.50" y1="169.90" x2="462.30" y2="169.90" stroke="#b8aeb0" stroke-width="0.7"/>
<polygon points="344.0,176.1 344.7,175.8 345.4,175.7 346.1,176.3 346.8,176.2 347.5,176.1 348.2,176.3 348.9,175.8 349.6,175.8 350.3,175.8 351.0,176.1 351.7,176.3 352.4,175.9 353.1,175.9 353.8,176.2 354.5,176.0 355.2,176.0 355.9,176.3 356.6,176.3 357.3,175.8 358.0,176.1 358.7,176.0 359.4,176.0 360.1,176.3 360.8,176.2 361.5,176.1 362.2,175.9 362.9,176.0 363.6,175.9 364.3,176.3 365.0,176.3 365.7,175.7 366.4,176.2 367.1,175.7 367.8,176.2 368.5,175.9 369.2,176.0 369.9,176.0 370.6,175.9 371.3,176.1 372.0,176.3 372.7,176.1 373.4,175.9 374.1,175.9 374.8,176.3 375.5,176.2 376.2,175.8 376.9,176.3 377.6,176.2 378.3,176.2 379.0,175.9 379.7,176.1 380.4,175.9 381.1,176.1 381.8,176.3 382.5,175.9 383.2,176.0 383.9,175.7 384.6,176.3 385.3,176.1 386.0,175.8 386.7,175.8 387.4,176.1 388.1,176.2 388.8,176.2 389.5,175.7 390.2,176.0 390.9,176.4 391.6,175.8 392.3,176.1 393.0,176.3 393.7,176.1 394.4,176.1 395.1,175.7 395.8,176.1 396.5,176.3 397.2,176.3 397.9,176.0 398.6,175.7 399.3,175.8 400.0,176.1 400.7,175.7 401.4,176.3 402.1,175.7 402.8,175.7 403.5,176.3 404.2,175.8 404.9,176.3 405.6,176.3 406.3,175.7 407.0,176.2 407.7,175.9 408.4,175.7 409.1,176.1 409.8,176.3 410.5,176.1 411.2,176.0 411.9,176.2 412.6,176.3 413.3,175.9 414.0,176.2 414.7,175.8 415.4,176.2 416.1,176.1 416.8,176.3 417.5,176.0 418.2,176.2 418.9,176.2 419.6,176.3 420.3,175.9 421.0,176.1 421.7,175.8 422.4,176.0 423.1,175.7 423.8,176.0 424.5,176.3 425.2,176.0 425.9,175.8 426.6,175.9 427.3,176.1 428.0,176.2 428.7,176.3 429.4,176.0 430.1,176.0 430.8,175.7 431.5,176.3 432.2,176.3 432.9,176.3 433.6,175.9 434.3,175.9 435.0,175.7 435.7,175.7 436.4,176.0 437.1,176.3 437.8,175.6 438.5,175.7 439.2,176.1 439.9,175.7 440.6,175.8 441.3,175.8 442.0,175.6 442.7,176.2 443.4,176.0 444.1,175.7 444.8,175.7 445.5,176.3 446.2,175.7 446.9,176.2 447.6,175.8 448.3,175.8 449.0,176.3 449.7,176.1 450.4,176.2 451.1,175.9 451.8,176.0 452.5,175.8 453.2,175.6 453.9,176.3 454.6,175.9 455.3,176.2 456.0,175.8 456.7,176.1 457.4,175.7 458.1,175.9 458.8,175.8 459.5,175.8 460.2,175.7 460.2,178.3 459.5,177.5 458.8,178.0 458.1,178.0 457.4,178.0 456.7,178.0 456.0,177.8 455.3,178.1 454.6,178.3 453.9,178.2 453.2,178.1 452.5,177.8 451.8,177.9 451.1,177.6 450.4,178.1 449.7,178.2 449.0,177.7 448.3,177.9 447.6,177.9 446.9,178.3 446.2,178.2 445.5,177.6 444.8,177.9 444.1,177.8 443.4,177.7 442.7,178.2 442.0,177.5 441.3,177.9 440.6,177.6 439.9,177.8 439.2,177.8 438.5,177.7 437.8,177.9 437.1,178.0 436.4,177.8 435.7,177.9 435.0,178.2 434.3,178.0 433.6,177.6 432.9,177.9 432.2,178.1 431.5,177.7 430.8,177.8 430.1,177.7 429.4,177.7 428.7,178.2 428.0,177.8 427.3,178.3 426.6,177.5 425.9,177.6 425.2,177.7 424.5,177.6 423.8,177.5 423.1,177.8 422.4,177.5 421.7,178.2 421.0,177.8 420.3,178.1 419.6,177.9 418.9,177.8 418.2,178.2 417.5,177.6 416.8,178.2 416.1,178.3 415.4,177.9 414.7,177.6 414.0,177.6 413.3,178.2 412.6,177.9 411.9,177.9 411.2,177.9 410.5,178.2 409.8,178.3 409.1,177.8 408.4,178.0 407.7,177.7 407.0,177.8 406.3,177.9 405.6,177.6 404.9,178.3 404.2,178.1 403.5,178.1 402.8,178.2 402.1,177.6 401.4,178.2 400.7,178.2 400.0,178.2 399.3,178.2 398.6,178.0 397.9,177.6 397.2,178.0 396.5,177.6 395.8,177.6 395.1,178.1 394.4,177.8 393.7,177.9 393.0,177.9 392.3,177.9 391.6,178.3 390.9,177.7 390.2,177.9 389.5,177.7 388.8,177.7 388.1,178.1 387.4,177.9 386.7,178.1 386.0,177.7 385.3,177.6 384.6,178.2 383.9,177.6 383.2,178.2 382.5,177.7 381.8,178.0 381.1,177.7 380.4,177.6 379.7,178.3 379.0,177.6 378.3,178.3 377.6,178.2 376.9,177.9 376.2,178.0 375.5,177.6 374.8,178.1 374.1,177.7 373.4,178.0 372.7,178.1 372.0,178.1 371.3,178.3 370.6,177.9 369.9,177.9 369.2,177.7 368.5,177.9 367.8,178.0 367.1,177.8 366.4,177.6 365.7,178.1 365.0,178.0 364.3,177.6 363.6,177.8 362.9,177.7 362.2,177.9 361.5,178.2 360.8,177.5 360.1,178.2 359.4,177.9 358.7,177.9 358.0,177.9 357.3,177.7 356.6,177.6 355.9,178.2 355.2,177.9 354.5,177.6 353.8,177.6 353.1,177.8 352.4,177.6 351.7,178.3 351.0,177.9 350.3,177.6 349.6,178.0 348.9,177.9 348.2,178.0 347.5,178.0 346.8,177.7 346.1,178.3 345.4,178.0 344.7,177.7 344.0,178.2" fill="#34349a"/>
<rect x="344.5" y="176.6" width="1.1" height="1.3" fill="#10105a" opacity="0.85"/>
<rect x="346.7" y="177.0" width="1.1" height="1.3" fill="#10105a" opacity="0.85"/>
<rect x="348.8" y="176.9" width="1.1" height="1.3" fill="#10105a" opacity="0.85"/>
<rect x="351.0" y="176.6" width="1.1" height="1.3" fill="#10105a" opacity="0.85"/>
<rect x="353.5" y="177.0" width="1.1" height="1.3" fill="#10105a" opacity="0.85"/>
<rect x="355.7" y="176.6" width="1.1" height="1.3" fill="#10105a" opacity="0.85"/>
<rect x="357.9" y="176.5" width="1.1" height="1.3" fill="#10105a" opacity="0.85"/>
<rect x="359.8" y="176.3" width="1.1" height="1.3" fill="#10105a" opacity="0.85"/>
<rect x="361.7" y="176.3" width="1.1" height="1.3" fill="#10105a" opacity="0.85"/>
<rect x="364.3" y="176.4" width="1.1" height="1.3" fill="#10105a" opacity="0.85"/>
<rect x="366.7" y="176.5" width="1.1" height="1.3" fill="#10105a" opacity="0.85"/>
<rect x="369.3" y="176.6" width="1.1" height="1.3" fill="#10105a" opacity="0.85"/>
<rect x="371.3" y="176.5" width="1.1" height="1.3" fill="#10105a" opacity="0.85"/>
<rect x="373.1" y="176.4" width="1.1" height="1.3" fill="#10105a" opacity="0.85"/>
<rect x="375.0" y="176.3" width="1.1" height="1.3" fill="#10105a" opacity="0.85"/>
<rect x="377.0" y="176.1" width="1.1" height="1.3" fill="#10105a" opacity="0.85"/>
<rect x="379.6" y="176.8" width="1.1" height="1.3" fill="#10105a" opacity="0.85"/>
<rect x="381.5" y="176.9" width="1.1" height="1.3" fill="#10105a" opacity="0.85"/>
<rect x="383.1" y="176.7" width="1.1" height="1.3" fill="#10105a" opacity="0.85"/>
<rect x="385.3" y="176.9" width="1.1" height="1.3" fill="#10105a" opacity="0.85"/>
<rect x="387.9" y="176.6" width="1.1" height="1.3" fill="#10105a" opacity="0.85"/>
<rect x="390.3" y="176.7" width="1.1" height="1.3" fill="#10105a" opacity="0.85"/>
<rect x="392.0" y="176.1" width="1.1" height="1.3" fill="#10105a" opacity="0.85"/>
<rect x="393.7" y="176.8" width="1.1" height="1.3" fill="#10105a" opacity="0.85"/>
<rect x="395.8" y="176.4" width="1.1" height="1.3" fill="#10105a" opacity="0.85"/>
<rect x="397.9" y="177.0" width="1.1" height="1.3" fill="#10105a" opacity="0.85"/>
<rect x="400.0" y="176.9" width="1.1" height="1.3" fill="#10105a" opacity="0.85"/>
<rect x="402.0" y="176.7" width="1.1" height="1.3" fill="#10105a" opacity="0.85"/>
<rect x="404.3" y="176.2" width="1.1" height="1.3" fill="#10105a" opacity="0.85"/>
<rect x="406.9" y="176.2" width="1.1" height="1.3" fill="#10105a" opacity="0.85"/>
<rect x="408.6" y="177.0" width="1.1" height="1.3" fill="#10105a" opacity="0.85"/>
<rect x="410.4" y="176.5" width="1.1" height="1.3" fill="#10105a" opacity="0.85"/>
<rect x="413.0" y="176.2" width="1.1" height="1.3" fill="#10105a" opacity="0.85"/>
<rect x="415.2" y="176.8" width="1.1" height="1.3" fill="#10105a" opacity="0.85"/>
<rect x="416.9" y="176.2" width="1.1" height="1.3" fill="#10105a" opacity="0.85"/>
<rect x="419.5" y="176.9" width="1.1" height="1.3" fill="#10105a" opacity="0.85"/>
<rect x="421.8" y="176.7" width="1.1" height="1.3" fill="#10105a" opacity="0.85"/>
<rect x="423.9" y="176.9" width="1.1" height="1.3" fill="#10105a" opacity="0.85"/>
<rect x="425.5" y="176.3" width="1.1" height="1.3" fill="#10105a" opacity="0.85"/>
<rect x="427.4" y="176.7" width="1.1" height="1.3" fill="#10105a" opacity="0.85"/>
<rect x="429.9" y="176.3" width="1.1" height="1.3" fill="#10105a" opacity="0.85"/>
<rect x="431.6" y="176.3" width="1.1" height="1.3" fill="#10105a" opacity="0.85"/>
<rect x="434.1" y="176.7" width="1.1" height="1.3" fill="#10105a" opacity="0.85"/>
<rect x="435.8" y="176.7" width="1.1" height="1.3" fill="#10105a" opacity="0.85"/>
<rect x="437.8" y="176.1" width="1.1" height="1.3" fill="#10105a" opacity="0.85"/>
<rect x="439.8" y="176.9" width="1.1" height="1.3" fill="#10105a" opacity="0.85"/>
<rect x="442.3" y="176.4" width="1.1" height="1.3" fill="#10105a" opacity="0.85"/>
<rect x="444.7" y="177.0" width="1.1" height="1.3" fill="#10105a" opacity="0.85"/>
<rect x="446.4" y="176.2" width="1.1" height="1.3" fill="#10105a" opacity="0.85"/>
<rect x="448.3" y="176.4" width="1.1" height="1.3" fill="#10105a" opacity="0.85"/>
<rect x="450.6" y="177.0" width="1.1" height="1.3" fill="#10105a" opacity="0.85"/>
<rect x="452.4" y="176.3" width="1.1" height="1.3" fill="#10105a" opacity="0.85"/>
<rect x="454.5" y="176.8" width="1.1" height="1.3" fill="#10105a" opacity="0.85"/>
<rect x="456.2" y="176.6" width="1.1" height="1.3" fill="#10105a" opacity="0.85"/>
<rect x="458.4" y="176.8" width="1.1" height="1.3" fill="#10105a" opacity="0.85"/>
<line x1="342.80" y1="174.90" x2="342.80" y2="180.30" stroke="#111" stroke-width="1.0"/>
<line x1="383.60" y1="174.90" x2="383.60" y2="180.30" stroke="#111" stroke-width="1.0"/>
<line x1="422.70" y1="174.90" x2="422.70" y2="180.30" stroke="#111" stroke-width="1.0"/>
<line x1="462.00" y1="174.90" x2="462.00" y2="180.30" stroke="#111" stroke-width="1.0"/>
<text x="465.70" y="163.30" font-size="6.9" fill="#222">60</text>
<text x="465.70" y="170.90" font-size="6.9" fill="#222">30</text>
<text x="342.80" y="191.10" font-size="8.6" text-anchor="middle" fill="#141414">144.850M</text>
<text x="383.60" y="191.10" font-size="8.6" text-anchor="middle" fill="#141414">144.900M</text>
<text x="422.70" y="191.10" font-size="8.6" text-anchor="middle" fill="#141414">144.950M</text>
<text x="462.00" y="191.10" font-size="8.6" text-anchor="middle" fill="#141414">145.000M</text>
<text x="2.00" y="219.50" font-size="11.5" font-weight="bold" fill="#000">C</text>
<line x1="31.30" y1="235.50" x2="31.30" y2="316.30" stroke="#141414" stroke-width="1.1"/>
<line x1="31.30" y1="316.30" x2="179.40" y2="316.30" stroke="#141414" stroke-width="1.1"/>
<line x1="28.30" y1="242.90" x2="31.30" y2="242.90" stroke="#141414" stroke-width="0.9"/>
<text x="26.00" y="245.80" font-size="8.2" text-anchor="end" fill="#141414">4.0</text>
<line x1="28.30" y1="279.60" x2="31.30" y2="279.60" stroke="#141414" stroke-width="0.9"/>
<text x="26.00" y="282.50" font-size="8.2" text-anchor="end" fill="#141414">2.0</text>
<line x1="28.30" y1="316.30" x2="31.30" y2="316.30" stroke="#141414" stroke-width="0.9"/>
<text x="26.00" y="319.20" font-size="8.2" text-anchor="end" fill="#141414">0</text>
<line x1="28.60" y1="310.00" x2="31.30" y2="310.00" stroke="#141414" stroke-width="0.9"/>
<text x="8.10" y="279.50" font-size="8.3" text-anchor="middle" font-weight="bold" fill="#1a1a1a" textLength="62" lengthAdjust="spacingAndGlyphs" transform="rotate(-90 8.10 279.50)">Enrichment (%input)</text>
<rect x="42.30" y="237.60" width="4.60" height="4.40" fill="#c8102e"/>
<text x="50.40" y="241.90" font-size="6.6" font-style="italic" fill="#141414">IgG</text>
<rect x="42.30" y="246.70" width="4.60" height="4.40" fill="#1f4e8c"/>
<text x="50.40" y="251.00" font-size="6.2" fill="#141414" textLength="26" lengthAdjust="spacingAndGlyphs">Anti-EVI1</text>
<rect x="37.50" y="315.02" width="4.00" height="1.28" fill="#c8102e"/>
<line x1="39.50" y1="315.02" x2="39.50" y2="314.10" stroke="#111" stroke-width="0.9"/>
<line x1="38.60" y1="314.10" x2="40.40" y2="314.10" stroke="#111" stroke-width="0.9"/>
<rect x="44.60" y="289.33" width="5.40" height="26.97" fill="#1f4e8c"/>
<line x1="47.30" y1="289.33" x2="47.30" y2="280.15" stroke="#111" stroke-width="0.9"/>
<line x1="46.40" y1="280.15" x2="48.20" y2="280.15" stroke="#111" stroke-width="0.9"/>
<rect x="60.60" y="315.02" width="3.80" height="1.28" fill="#c8102e"/>
<line x1="62.50" y1="315.02" x2="62.50" y2="314.28" stroke="#111" stroke-width="0.9"/>
<line x1="61.60" y1="314.28" x2="63.40" y2="314.28" stroke="#111" stroke-width="0.9"/>
<rect x="67.30" y="294.28" width="4.80" height="22.02" fill="#1f4e8c"/>
<line x1="69.70" y1="294.28" x2="69.70" y2="282.35" stroke="#111" stroke-width="0.9"/>
<line x1="68.80" y1="282.35" x2="70.60" y2="282.35" stroke="#111" stroke-width="0.9"/>
<rect x="83.00" y="315.20" width="4.00" height="1.10" fill="#c8102e"/>
<line x1="85.00" y1="315.20" x2="85.00" y2="314.65" stroke="#111" stroke-width="0.9"/>
<line x1="84.10" y1="314.65" x2="85.90" y2="314.65" stroke="#111" stroke-width="0.9"/>
<rect x="90.40" y="314.83" width="3.80" height="1.47" fill="#1f4e8c"/>
<line x1="92.30" y1="314.83" x2="92.30" y2="312.63" stroke="#111" stroke-width="0.9"/>
<line x1="91.40" y1="312.63" x2="93.20" y2="312.63" stroke="#111" stroke-width="0.9"/>
<rect x="115.00" y="308.59" width="5.80" height="7.71" fill="#c8102e"/>
<line x1="117.90" y1="308.59" x2="117.90" y2="303.09" stroke="#111" stroke-width="0.9"/>
<line x1="117.00" y1="303.09" x2="118.80" y2="303.09" stroke="#111" stroke-width="0.9"/>
<rect x="123.00" y="257.58" width="5.00" height="58.72" fill="#1f4e8c"/>
<line x1="125.50" y1="257.58" x2="125.50" y2="244.37" stroke="#111" stroke-width="0.9"/>
<line x1="124.60" y1="244.37" x2="126.40" y2="244.37" stroke="#111" stroke-width="0.9"/>
<rect x="137.70" y="312.26" width="5.20" height="4.04" fill="#c8102e"/>
<line x1="140.30" y1="312.26" x2="140.30" y2="308.59" stroke="#111" stroke-width="0.9"/>
<line x1="139.40" y1="308.59" x2="141.20" y2="308.59" stroke="#111" stroke-width="0.9"/>
<rect x="145.20" y="278.68" width="5.00" height="37.62" fill="#1f4e8c"/>
<line x1="147.70" y1="278.68" x2="147.70" y2="256.66" stroke="#111" stroke-width="0.9"/>
<line x1="146.80" y1="256.66" x2="148.60" y2="256.66" stroke="#111" stroke-width="0.9"/>
<rect x="159.20" y="314.10" width="4.80" height="2.20" fill="#c8102e"/>
<line x1="161.60" y1="314.10" x2="161.60" y2="313.00" stroke="#111" stroke-width="0.9"/>
<line x1="160.70" y1="313.00" x2="162.50" y2="313.00" stroke="#111" stroke-width="0.9"/>
<rect x="166.30" y="313.00" width="4.50" height="3.30" fill="#1f5a78"/>
<line x1="168.55" y1="313.00" x2="168.55" y2="311.16" stroke="#111" stroke-width="0.9"/>
<line x1="167.65" y1="311.16" x2="169.45" y2="311.16" stroke="#111" stroke-width="0.9"/>
<text x="43.80" y="276.00" font-size="8" text-anchor="middle" fill="#141414">*</text>
<text x="120.40" y="241.50" font-size="8" text-anchor="middle" fill="#141414">*</text>
<text x="55.80" y="278.60" font-size="8.4" fill="#141414"><tspan font-style="italic">P</tspan> = .08</text>
<text x="135.60" y="242.00" font-size="8.4" fill="#141414"><tspan font-style="italic">P</tspan> = .10</text>
<text x="12.50" y="327.20" font-size="8.1" fill="#141414">primer</text>
<text x="43.80" y="327.20" font-size="8.1" text-anchor="middle" fill="#141414">1</text>
<text x="63.50" y="327.20" font-size="8.1" text-anchor="middle" fill="#141414">2</text>
<text x="88.50" y="327.20" font-size="8.1" text-anchor="middle" fill="#141414">NC</text>
<text x="121.70" y="327.20" font-size="8.1" text-anchor="middle" fill="#141414">1</text>
<text x="143.80" y="327.20" font-size="8.1" text-anchor="middle" fill="#141414">2</text>
<text x="165.40" y="327.20" font-size="8.1" text-anchor="middle" fill="#141414">NC</text>
<line x1="36.50" y1="329.30" x2="95.20" y2="329.30" stroke="#141414" stroke-width="0.9"/>
<line x1="106.30" y1="329.30" x2="171.70" y2="329.30" stroke="#141414" stroke-width="0.9"/>
<text x="12.50" y="337.60" font-size="8.1" fill="#141414">Locus</text>
<text x="66.30" y="338.40" font-size="8.1" text-anchor="middle" font-style="italic" fill="#141414">ERG</text>
<text x="138.00" y="338.80" font-size="8.1" text-anchor="middle" font-style="italic" fill="#141414">CCND1</text>
<text x="205.00" y="219.50" font-size="11.5" font-weight="bold" fill="#000">D</text>
<line x1="244.30" y1="244.00" x2="244.30" y2="316.20" stroke="#141414" stroke-width="1.1"/>
<line x1="244.30" y1="316.20" x2="352.20" y2="316.20" stroke="#141414" stroke-width="1.1"/>
<line x1="241.30" y1="246.00" x2="244.30" y2="246.00" stroke="#141414" stroke-width="0.9"/>
<text x="238.30" y="248.90" font-size="8.2" text-anchor="end" fill="#141414">1.5</text>
<line x1="241.30" y1="269.40" x2="244.30" y2="269.40" stroke="#141414" stroke-width="0.9"/>
<text x="238.30" y="272.30" font-size="8.2" text-anchor="end" fill="#141414">1</text>
<line x1="241.30" y1="292.80" x2="244.30" y2="292.80" stroke="#141414" stroke-width="0.9"/>
<text x="238.30" y="295.70" font-size="8.2" text-anchor="end" fill="#141414">0.5</text>
<line x1="241.30" y1="316.20" x2="244.30" y2="316.20" stroke="#141414" stroke-width="0.9"/>
<text x="238.30" y="319.10" font-size="8.2" text-anchor="end" fill="#141414">0</text>
<text x="210.80" y="281.30" font-size="8.4" text-anchor="middle" font-weight="bold" fill="#1a1a1a" textLength="57.5" lengthAdjust="spacingAndGlyphs" transform="rotate(-90 210.80 281.30)">Relative expression</text>
<text x="223.10" y="281.30" font-size="8.4" text-anchor="middle" font-weight="bold" fill="#1a1a1a" textLength="28" lengthAdjust="spacingAndGlyphs" transform="rotate(-90 223.10 281.30)">(/ Gapdh)</text>
<rect x="252.00" y="269.40" width="8.40" height="46.80" fill="#c8102e"/>
<line x1="256.20" y1="269.40" x2="256.20" y2="265.66" stroke="#111" stroke-width="0.9"/>
<line x1="254.70" y1="265.66" x2="257.70" y2="265.66" stroke="#111" stroke-width="0.9"/>
<rect x="266.00" y="286.25" width="8.60" height="29.95" fill="#1f4e8c"/>
<line x1="270.30" y1="286.25" x2="270.30" y2="275.95" stroke="#111" stroke-width="0.9"/>
<line x1="268.80" y1="275.95" x2="271.80" y2="275.95" stroke="#111" stroke-width="0.9"/>
<rect x="288.70" y="269.40" width="8.10" height="46.80" fill="#c8102e"/>
<line x1="292.75" y1="269.40" x2="292.75" y2="261.91" stroke="#111" stroke-width="0.9"/>
<line x1="291.25" y1="261.91" x2="294.25" y2="261.91" stroke="#111" stroke-width="0.9"/>
<rect x="303.20" y="289.06" width="8.00" height="27.14" fill="#1f4e8c"/>
<line x1="307.20" y1="289.06" x2="307.20" y2="280.63" stroke="#111" stroke-width="0.9"/>
<line x1="305.70" y1="280.63" x2="308.70" y2="280.63" stroke="#111" stroke-width="0.9"/>
<rect x="323.60" y="269.40" width="8.20" height="46.80" fill="#c8102e"/>
<line x1="327.70" y1="269.40" x2="327.70" y2="266.12" stroke="#111" stroke-width="0.9"/>
<line x1="326.20" y1="266.12" x2="329.20" y2="266.12" stroke="#111" stroke-width="0.9"/>
<rect x="338.00" y="290.93" width="8.20" height="25.27" fill="#1f4e8c"/>
<line x1="342.10" y1="290.93" x2="342.10" y2="283.44" stroke="#111" stroke-width="0.9"/>
<line x1="340.60" y1="283.44" x2="343.60" y2="283.44" stroke="#111" stroke-width="0.9"/>
<circle cx="255.0" cy="268.0" r="0.55" fill="#222"/>
<circle cx="257.5" cy="266.5" r="0.55" fill="#222"/>
<circle cx="269.0" cy="282.0" r="0.55" fill="#222"/>
<circle cx="273.0" cy="281.0" r="0.55" fill="#222"/>
<circle cx="268.5" cy="285.5" r="0.55" fill="#222"/>
<circle cx="290.5" cy="268.5" r="0.55" fill="#222"/>
<circle cx="292.0" cy="266.0" r="0.55" fill="#222"/>
<circle cx="306.0" cy="283.0" r="0.55" fill="#222"/>
<circle cx="305.0" cy="286.5" r="0.55" fill="#222"/>
<circle cx="308.0" cy="282.0" r="0.55" fill="#222"/>
<circle cx="326.0" cy="268.0" r="0.55" fill="#222"/>
<circle cx="329.0" cy="267.5" r="0.55" fill="#222"/>
<circle cx="341.0" cy="286.0" r="0.55" fill="#222"/>
<circle cx="343.5" cy="284.5" r="0.55" fill="#222"/>
<circle cx="340.0" cy="289.0" r="0.55" fill="#222"/>
<text x="264.20" y="251.50" font-size="8" text-anchor="middle" fill="#141414">*</text>
<text x="300.30" y="251.50" font-size="8" text-anchor="middle" fill="#141414">**</text>
<text x="336.60" y="251.50" font-size="8" text-anchor="middle" fill="#141414">**</text>
<text x="254.7" y="329.8" font-size="8.2" font-style="italic" text-anchor="middle" fill="#141414" transform="rotate(-45 254.7 327.2)">Luc</text>
<text x="267.7" y="329.8" font-size="8.2" font-style="italic" text-anchor="middle" fill="#141414" transform="rotate(-45 267.7 327.2)">Evi1</text>
<text x="292.5" y="329.8" font-size="8.2" font-style="italic" text-anchor="middle" fill="#141414" transform="rotate(-45 292.5 327.2)">Luc</text>
<text x="305.5" y="329.8" font-size="8.2" font-style="italic" text-anchor="middle" fill="#141414" transform="rotate(-45 305.5 327.2)">Evi1</text>
<text x="328.0" y="329.8" font-size="8.2" font-style="italic" text-anchor="middle" fill="#141414" transform="rotate(-45 328.0 327.2)">Luc</text>
<text x="341.0" y="329.8" font-size="8.2" font-style="italic" text-anchor="middle" fill="#141414" transform="rotate(-45 341.0 327.2)">Evi1</text>
<text x="220.00" y="334.00" font-size="8.0" fill="#141414">shRNA</text>
<text x="222.70" y="343.60" font-size="8.0" fill="#141414">Gene</text>
<line x1="250.00" y1="337.40" x2="278.00" y2="337.40" stroke="#141414" stroke-width="0.9"/>
<line x1="287.80" y1="337.40" x2="315.90" y2="337.40" stroke="#141414" stroke-width="0.9"/>
<line x1="322.80" y1="337.40" x2="351.30" y2="337.40" stroke="#141414" stroke-width="0.9"/>
<text x="264.00" y="347.50" font-size="8.0" text-anchor="middle" font-style="italic" fill="#141414">Evi1</text>
<text x="302.00" y="347.50" font-size="8.0" text-anchor="middle" font-style="italic" fill="#141414">Erg</text>
<text x="336.60" y="347.50" font-size="8.0" text-anchor="middle" font-style="italic" fill="#141414">Ccnd1</text>
<text x="377.80" y="219.50" font-size="11.5" font-weight="bold" fill="#000">E</text>
<text x="464.70" y="217.40" font-size="9.8" text-anchor="middle" fill="#141414">OHSU</text>
<text x="464.70" y="227.40" font-size="9.5" text-anchor="middle" fill="#141414">(3q26 rearranged)</text>
<line x1="417.10" y1="230.30" x2="417.10" y2="316.10" stroke="#141414" stroke-width="1.1"/>
<line x1="417.10" y1="316.10" x2="512.80" y2="316.10" stroke="#141414" stroke-width="1.1"/>
<line x1="414.10" y1="315.30" x2="417.10" y2="315.30" stroke="#141414" stroke-width="0.9"/>
<text x="411.00" y="318.10" font-size="7.9" text-anchor="end" fill="#141414">5.0</text>
<line x1="414.10" y1="302.30" x2="417.10" y2="302.30" stroke="#141414" stroke-width="0.9"/>
<text x="411.00" y="305.10" font-size="7.9" text-anchor="end" fill="#141414">5.5</text>
<line x1="414.10" y1="289.30" x2="417.10" y2="289.30" stroke="#141414" stroke-width="0.9"/>
<text x="411.00" y="292.10" font-size="7.9" text-anchor="end" fill="#141414">6.0</text>
<line x1="414.10" y1="276.30" x2="417.10" y2="276.30" stroke="#141414" stroke-width="0.9"/>
<text x="411.00" y="279.10" font-size="7.9" text-anchor="end" fill="#141414">6.5</text>
<line x1="414.10" y1="263.30" x2="417.10" y2="263.30" stroke="#141414" stroke-width="0.9"/>
<text x="411.00" y="266.10" font-size="7.9" text-anchor="end" fill="#141414">7.0</text>
<line x1="414.10" y1="250.30" x2="417.10" y2="250.30" stroke="#141414" stroke-width="0.9"/>
<text x="411.00" y="253.10" font-size="7.9" text-anchor="end" fill="#141414">7.5</text>
<line x1="414.10" y1="237.30" x2="417.10" y2="237.30" stroke="#141414" stroke-width="0.9"/>
<text x="411.00" y="240.10" font-size="7.9" text-anchor="end" fill="#141414">8.0</text>
<line x1="421.30" y1="316.10" x2="421.30" y2="319.10" stroke="#141414" stroke-width="0.9"/>
<text x="421.30" y="329.60" font-size="7.9" text-anchor="middle" fill="#141414">2</text>
<line x1="445.40" y1="316.10" x2="445.40" y2="319.10" stroke="#141414" stroke-width="0.9"/>
<text x="445.40" y="329.60" font-size="7.9" text-anchor="middle" fill="#141414">4</text>
<line x1="469.50" y1="316.10" x2="469.50" y2="319.10" stroke="#141414" stroke-width="0.9"/>
<text x="469.50" y="329.60" font-size="7.9" text-anchor="middle" fill="#141414">6</text>
<line x1="493.60" y1="316.10" x2="493.60" y2="319.10" stroke="#141414" stroke-width="0.9"/>
<text x="493.60" y="329.60" font-size="7.9" text-anchor="middle" fill="#141414">8</text>
<text x="457.60" y="341.50" font-size="9.0" text-anchor="middle" font-weight="bold" fill="#1a1a1a" textLength="45.4" lengthAdjust="spacingAndGlyphs">LOG2_MECOM</text>
<text x="394.30" y="276.50" font-size="9.3" text-anchor="middle" font-weight="bold" fill="#1a1a1a" textLength="33.4" lengthAdjust="spacingAndGlyphs" transform="rotate(-90 394.30 276.50)">LOG2_ERG</text>
<line x1="381.25" y1="236.30" x2="381.25" y2="252.00" stroke="#444" stroke-width="0.7"/>
<line x1="381.25" y1="282.20" x2="381.25" y2="316.00" stroke="#444" stroke-width="0.7"/>
<rect x="378.30" y="252.00" width="5.90" height="30.20" fill="#fff" stroke="#444" stroke-width="0.7"/>
<line x1="378.30" y1="255.20" x2="384.20" y2="255.20" stroke="#444" stroke-width="0.7"/>
<line x1="420.50" y1="349.60" x2="464.60" y2="349.60" stroke="#444" stroke-width="0.7"/>
<line x1="505.00" y1="349.60" x2="509.30" y2="349.60" stroke="#444" stroke-width="0.7"/>
<rect x="464.60" y="346.70" width="40.40" height="5.80" fill="#fff" stroke="#444" stroke-width="0.7"/>
<line x1="492.00" y1="346.70" x2="492.00" y2="352.50" stroke="#444" stroke-width="0.7"/>
<line x1="421.30" y1="310.40" x2="509.00" y2="242.30" stroke="#c8203c" stroke-width="1.1"/>
<circle cx="497.4" cy="232.8" r="0.6" fill="#e07090"/>
<circle cx="480.9" cy="248.2" r="0.6" fill="#e07090"/>
<circle cx="509.0" cy="249.0" r="0.6" fill="#e07090"/>
<circle cx="504.8" cy="251.8" r="0.6" fill="#e07090"/>
<circle cx="491.9" cy="267.7" r="0.6" fill="#e07090"/>
<circle cx="453.0" cy="278.7" r="0.6" fill="#e07090"/>
<circle cx="464.6" cy="291.7" r="0.6" fill="#e07090"/>
<circle cx="421.5" cy="313.0" r="0.6" fill="#e07090"/>
<text x="465.20" y="363.50" font-size="8.3" text-anchor="middle" fill="#141414">r = 0.889 95% CI 0.549-0.977</text>
<text x="433.20" y="373.80" font-size="8.2" fill="#141414"><tspan font-style="italic">P</tspan> value =  .00134</text>
<text x="2.00" y="401.80" font-size="11.5" font-weight="bold" fill="#000">F</text>
<line x1="34.80" y1="415.00" x2="34.80" y2="483.60" stroke="#141414" stroke-width="1.1"/>
<line x1="34.80" y1="483.60" x2="115.50" y2="483.60" stroke="#141414" stroke-width="1.1"/>
<line x1="32.00" y1="419.80" x2="34.80" y2="419.80" stroke="#141414" stroke-width="0.9"/>
<text x="28.20" y="422.80" font-size="8.4" text-anchor="end" fill="#141414">5</text>
<line x1="32.00" y1="440.00" x2="34.80" y2="440.00" stroke="#141414" stroke-width="0.9"/>
<text x="28.20" y="443.00" font-size="8.4" text-anchor="end" fill="#141414">0</text>
<line x1="32.00" y1="460.30" x2="34.80" y2="460.30" stroke="#141414" stroke-width="0.9"/>
<text x="28.20" y="463.30" font-size="8.4" text-anchor="end" fill="#141414">−5</text>
<line x1="32.00" y1="480.00" x2="34.80" y2="480.00" stroke="#141414" stroke-width="0.9"/>
<text x="28.20" y="483.00" font-size="8.4" text-anchor="end" fill="#141414">−10</text>
<line x1="35.30" y1="483.60" x2="35.30" y2="486.40" stroke="#141414" stroke-width="0.9"/>
<text x="35.30" y="497.90" font-size="8.4" text-anchor="middle" fill="#141414">−10</text>
<line x1="54.00" y1="483.60" x2="54.00" y2="486.40" stroke="#141414" stroke-width="0.9"/>
<text x="54.00" y="497.90" font-size="8.4" text-anchor="middle" fill="#141414">−5</text>
<line x1="72.80" y1="483.60" x2="72.80" y2="486.40" stroke="#141414" stroke-width="0.9"/>
<text x="72.80" y="497.90" font-size="8.4" text-anchor="middle" fill="#141414">0</text>
<line x1="91.60" y1="483.60" x2="91.60" y2="486.40" stroke="#141414" stroke-width="0.9"/>
<text x="91.60" y="497.90" font-size="8.4" text-anchor="middle" fill="#141414">5</text>
<line x1="110.40" y1="483.60" x2="110.40" y2="486.40" stroke="#141414" stroke-width="0.9"/>
<text x="110.40" y="497.90" font-size="8.4" text-anchor="middle" fill="#141414">10</text>
<text x="9.20" y="449.00" font-size="9.8" text-anchor="middle" font-weight="bold" fill="#1a1a1a" textLength="27.3" lengthAdjust="spacingAndGlyphs" transform="rotate(-90 9.20 449.00)">UMAP_2</text>
<text x="74.00" y="399.60" font-size="9.6" text-anchor="middle" fill="#141414">AML328_malignant</text>
<text x="74.00" y="408.60" font-size="10.0" text-anchor="middle" fill="#141414">MECOM</text>
<line x1="166.60" y1="415.00" x2="166.60" y2="483.60" stroke="#141414" stroke-width="1.1"/>
<line x1="166.60" y1="483.60" x2="247.30" y2="483.60" stroke="#141414" stroke-width="1.1"/>
<line x1="163.80" y1="419.80" x2="166.60" y2="419.80" stroke="#141414" stroke-width="0.9"/>
<text x="160.00" y="422.80" font-size="8.4" text-anchor="end" fill="#141414">5</text>
<line x1="163.80" y1="440.00" x2="166.60" y2="440.00" stroke="#141414" stroke-width="0.9"/>
<text x="160.00" y="443.00" font-size="8.4" text-anchor="end" fill="#141414">0</text>
<line x1="163.80" y1="460.30" x2="166.60" y2="460.30" stroke="#141414" stroke-width="0.9"/>
<text x="160.00" y="463.30" font-size="8.4" text-anchor="end" fill="#141414">−5</text>
<line x1="163.80" y1="480.00" x2="166.60" y2="480.00" stroke="#141414" stroke-width="0.9"/>
<text x="160.00" y="483.00" font-size="8.4" text-anchor="end" fill="#141414">−10</text>
<line x1="167.10" y1="483.60" x2="167.10" y2="486.40" stroke="#141414" stroke-width="0.9"/>
<text x="167.10" y="497.90" font-size="8.4" text-anchor="middle" fill="#141414">−10</text>
<line x1="185.80" y1="483.60" x2="185.80" y2="486.40" stroke="#141414" stroke-width="0.9"/>
<text x="185.80" y="497.90" font-size="8.4" text-anchor="middle" fill="#141414">−5</text>
<line x1="204.60" y1="483.60" x2="204.60" y2="486.40" stroke="#141414" stroke-width="0.9"/>
<text x="204.60" y="497.90" font-size="8.4" text-anchor="middle" fill="#141414">0</text>
<line x1="223.40" y1="483.60" x2="223.40" y2="486.40" stroke="#141414" stroke-width="0.9"/>
<text x="223.40" y="497.90" font-size="8.4" text-anchor="middle" fill="#141414">5</text>
<line x1="242.20" y1="483.60" x2="242.20" y2="486.40" stroke="#141414" stroke-width="0.9"/>
<text x="242.20" y="497.90" font-size="8.4" text-anchor="middle" fill="#141414">10</text>
<text x="141.00" y="449.00" font-size="9.8" text-anchor="middle" font-weight="bold" fill="#1a1a1a" textLength="27.3" lengthAdjust="spacingAndGlyphs" transform="rotate(-90 141.00 449.00)">UMAP_2</text>
<text x="207.90" y="398.80" font-size="9.75" text-anchor="middle" fill="#141414">ERG</text>
<line x1="298.60" y1="415.00" x2="298.60" y2="483.60" stroke="#141414" stroke-width="1.1"/>
<line x1="298.60" y1="483.60" x2="379.30" y2="483.60" stroke="#141414" stroke-width="1.1"/>
<line x1="295.80" y1="419.80" x2="298.60" y2="419.80" stroke="#141414" stroke-width="0.9"/>
<text x="292.00" y="422.80" font-size="8.4" text-anchor="end" fill="#141414">5</text>
<line x1="295.80" y1="440.00" x2="298.60" y2="440.00" stroke="#141414" stroke-width="0.9"/>
<text x="292.00" y="443.00" font-size="8.4" text-anchor="end" fill="#141414">0</text>
<line x1="295.80" y1="460.30" x2="298.60" y2="460.30" stroke="#141414" stroke-width="0.9"/>
<text x="292.00" y="463.30" font-size="8.4" text-anchor="end" fill="#141414">−5</text>
<line x1="295.80" y1="480.00" x2="298.60" y2="480.00" stroke="#141414" stroke-width="0.9"/>
<text x="292.00" y="483.00" font-size="8.4" text-anchor="end" fill="#141414">−10</text>
<line x1="299.10" y1="483.60" x2="299.10" y2="486.40" stroke="#141414" stroke-width="0.9"/>
<text x="299.10" y="497.90" font-size="8.4" text-anchor="middle" fill="#141414">−10</text>
<line x1="317.80" y1="483.60" x2="317.80" y2="486.40" stroke="#141414" stroke-width="0.9"/>
<text x="317.80" y="497.90" font-size="8.4" text-anchor="middle" fill="#141414">−5</text>
<line x1="336.60" y1="483.60" x2="336.60" y2="486.40" stroke="#141414" stroke-width="0.9"/>
<text x="336.60" y="497.90" font-size="8.4" text-anchor="middle" fill="#141414">0</text>
<line x1="355.40" y1="483.60" x2="355.40" y2="486.40" stroke="#141414" stroke-width="0.9"/>
<text x="355.40" y="497.90" font-size="8.4" text-anchor="middle" fill="#141414">5</text>
<line x1="374.20" y1="483.60" x2="374.20" y2="486.40" stroke="#141414" stroke-width="0.9"/>
<text x="374.20" y="497.90" font-size="8.4" text-anchor="middle" fill="#141414">10</text>
<text x="273.00" y="449.00" font-size="9.8" text-anchor="middle" font-weight="bold" fill="#1a1a1a" textLength="27.3" lengthAdjust="spacingAndGlyphs" transform="rotate(-90 273.00 449.00)">UMAP_2</text>
<text x="339.60" y="398.60" font-size="9.75" text-anchor="middle" fill="#141414">MECOM_ERG</text>
<text x="75.70" y="509.30" font-size="9.8" text-anchor="middle" font-weight="bold" fill="#1a1a1a" textLength="27.1" lengthAdjust="spacingAndGlyphs">UMAP_1</text>
<text x="207.50" y="509.30" font-size="9.8" text-anchor="middle" font-weight="bold" fill="#1a1a1a" textLength="27.1" lengthAdjust="spacingAndGlyphs">UMAP_1</text>
<text x="339.50" y="509.30" font-size="9.8" text-anchor="middle" font-weight="bold" fill="#1a1a1a" textLength="27.1" lengthAdjust="spacingAndGlyphs">UMAP_1</text>
<circle cx="106.9" cy="421.0" r="0.9" fill="#b81c1c"/>
<circle cx="99.8" cy="436.3" r="0.9" fill="#e0281e"/>
<circle cx="103.2" cy="421.1" r="0.9" fill="#b81c1c"/>
<circle cx="104.6" cy="421.1" r="0.9" fill="#b81c1c"/>
<circle cx="107.0" cy="432.2" r="0.9" fill="#b81c1c"/>
<circle cx="106.0" cy="437.9" r="0.9" fill="#f4a090"/>
<circle cx="109.7" cy="435.5" r="0.9" fill="#f07060"/>
<circle cx="101.7" cy="422.5" r="0.9" fill="#f4a090"/>
<circle cx="110.4" cy="433.5" r="0.9" fill="#e0281e"/>
<circle cx="108.4" cy="432.0" r="0.9" fill="#e0281e"/>
<circle cx="102.4" cy="432.4" r="0.9" fill="#e0281e"/>
<circle cx="106.5" cy="439.0" r="0.9" fill="#e0281e"/>
<circle cx="108.0" cy="421.5" r="0.9" fill="#b81c1c"/>
<circle cx="100.9" cy="422.2" r="0.9" fill="#b81c1c"/>
<circle cx="97.7" cy="426.5" r="0.9" fill="#e0281e"/>
<circle cx="102.2" cy="428.5" r="0.9" fill="#b81c1c"/>
<circle cx="107.0" cy="433.6" r="0.9" fill="#b81c1c"/>
<circle cx="108.4" cy="424.0" r="0.9" fill="#f07060"/>
<circle cx="105.5" cy="435.2" r="0.9" fill="#e0281e"/>
<circle cx="109.2" cy="425.4" r="0.9" fill="#f4a090"/>
<circle cx="101.4" cy="426.3" r="0.9" fill="#b81c1c"/>
<circle cx="101.3" cy="434.6" r="0.9" fill="#f07060"/>
<circle cx="111.5" cy="430.4" r="0.9" fill="#b81c1c"/>
<circle cx="100.2" cy="432.6" r="0.9" fill="#b81c1c"/>
<circle cx="105.9" cy="439.8" r="0.9" fill="#f07060"/>
<circle cx="104.7" cy="422.5" r="0.9" fill="#f4a090"/>
<circle cx="97.9" cy="434.0" r="0.9" fill="#e0281e"/>
<circle cx="103.2" cy="421.9" r="0.9" fill="#f07060"/>
<circle cx="107.6" cy="432.0" r="0.9" fill="#b81c1c"/>
<circle cx="106.9" cy="422.9" r="0.9" fill="#f07060"/>
<circle cx="103.7" cy="441.0" r="0.9" fill="#e0281e"/>
<circle cx="100.5" cy="431.3" r="0.9" fill="#b81c1c"/>
<circle cx="101.1" cy="434.2" r="0.9" fill="#e0281e"/>
<circle cx="98.6" cy="436.9" r="0.9" fill="#e0281e"/>
<circle cx="109.2" cy="431.9" r="0.9" fill="#f4a090"/>
<circle cx="110.1" cy="427.1" r="0.9" fill="#f4a090"/>
<circle cx="97.5" cy="430.9" r="0.9" fill="#f4a090"/>
<circle cx="108.9" cy="437.0" r="0.9" fill="#f4a090"/>
<circle cx="104.1" cy="432.3" r="0.9" fill="#b81c1c"/>
<circle cx="110.8" cy="429.6" r="0.9" fill="#b81c1c"/>
<circle cx="105.2" cy="436.2" r="0.9" fill="#b81c1c"/>
<circle cx="107.0" cy="429.9" r="0.9" fill="#e0281e"/>
<circle cx="101.7" cy="433.1" r="0.9" fill="#b81c1c"/>
<circle cx="106.7" cy="425.4" r="0.9" fill="#e0281e"/>
<circle cx="100.0" cy="434.9" r="0.9" fill="#b81c1c"/>
<circle cx="105.7" cy="430.7" r="0.9" fill="#e0281e"/>
<circle cx="109.7" cy="424.6" r="0.9" fill="#f4a090"/>
<circle cx="103.3" cy="429.6" r="0.9" fill="#f07060"/>
<circle cx="108.4" cy="435.0" r="0.9" fill="#e0281e"/>
<circle cx="97.7" cy="429.2" r="0.9" fill="#f07060"/>
<circle cx="110.6" cy="425.8" r="0.9" fill="#b81c1c"/>
<circle cx="103.6" cy="429.6" r="0.9" fill="#b81c1c"/>
<circle cx="103.5" cy="439.0" r="0.9" fill="#e0281e"/>
<circle cx="98.8" cy="430.9" r="0.9" fill="#b81c1c"/>
<circle cx="102.8" cy="421.8" r="0.9" fill="#f07060"/>
<circle cx="109.3" cy="430.3" r="0.9" fill="#f07060"/>
<circle cx="105.4" cy="435.9" r="0.9" fill="#b81c1c"/>
<circle cx="105.8" cy="432.2" r="0.9" fill="#e0281e"/>
<circle cx="104.5" cy="438.8" r="0.9" fill="#b81c1c"/>
<circle cx="99.2" cy="433.3" r="0.9" fill="#e0281e"/>
<circle cx="100.0" cy="423.1" r="0.9" fill="#e0281e"/>
<circle cx="100.2" cy="433.3" r="0.9" fill="#e0281e"/>
<circle cx="103.1" cy="433.0" r="0.9" fill="#e0281e"/>
<circle cx="108.2" cy="425.6" r="0.9" fill="#f07060"/>
<circle cx="107.4" cy="426.9" r="0.9" fill="#f07060"/>
<circle cx="108.8" cy="422.1" r="0.9" fill="#f07060"/>
<circle cx="102.3" cy="423.9" r="0.9" fill="#e0281e"/>
<circle cx="108.0" cy="433.7" r="0.9" fill="#e0281e"/>
<circle cx="109.9" cy="426.9" r="0.9" fill="#e0281e"/>
<circle cx="105.4" cy="426.4" r="0.9" fill="#e0281e"/>
<circle cx="108.2" cy="424.9" r="0.9" fill="#e0281e"/>
<circle cx="100.5" cy="431.0" r="0.9" fill="#e0281e"/>
<circle cx="103.2" cy="426.4" r="0.9" fill="#f4a090"/>
<circle cx="109.1" cy="434.2" r="0.9" fill="#b81c1c"/>
<circle cx="108.6" cy="432.4" r="0.9" fill="#f07060"/>
<circle cx="105.3" cy="438.4" r="0.9" fill="#e0281e"/>
<circle cx="101.2" cy="439.8" r="0.9" fill="#e0281e"/>
<circle cx="99.6" cy="425.9" r="0.9" fill="#f4a090"/>
<circle cx="109.3" cy="439.5" r="0.9" fill="#f07060"/>
<circle cx="106.6" cy="423.8" r="0.9" fill="#e0281e"/>
<circle cx="101.6" cy="440.5" r="0.9" fill="#e0281e"/>
<circle cx="110.7" cy="437.9" r="0.9" fill="#b81c1c"/>
<circle cx="109.4" cy="422.8" r="0.9" fill="#e0281e"/>
<circle cx="110.6" cy="425.3" r="0.9" fill="#e0281e"/>
<circle cx="103.8" cy="427.1" r="0.9" fill="#e0281e"/>
<circle cx="99.3" cy="427.6" r="0.9" fill="#e0281e"/>
<circle cx="106.9" cy="429.1" r="0.9" fill="#e0281e"/>
<circle cx="105.1" cy="440.7" r="0.9" fill="#f4a090"/>
<circle cx="97.8" cy="429.8" r="0.9" fill="#e0281e"/>
<circle cx="101.3" cy="433.5" r="0.9" fill="#e0281e"/>
<circle cx="102.5" cy="432.9" r="0.9" fill="#b81c1c"/>
<circle cx="111.7" cy="432.1" r="0.9" fill="#e0281e"/>
<circle cx="108.6" cy="434.9" r="0.9" fill="#f07060"/>
<circle cx="101.6" cy="427.2" r="0.9" fill="#e0281e"/>
<circle cx="108.2" cy="427.0" r="0.9" fill="#f07060"/>
<circle cx="102.9" cy="429.2" r="0.9" fill="#b81c1c"/>
<circle cx="98.2" cy="429.5" r="0.9" fill="#e0281e"/>
<circle cx="107.5" cy="439.9" r="0.9" fill="#e0281e"/>
<circle cx="101.1" cy="432.3" r="0.9" fill="#f4a090"/>
<circle cx="100.9" cy="429.7" r="0.9" fill="#e0281e"/>
<circle cx="107.1" cy="430.5" r="0.9" fill="#f07060"/>
<circle cx="99.6" cy="430.7" r="0.9" fill="#e0281e"/>
<circle cx="109.5" cy="424.1" r="0.9" fill="#f4a090"/>
<circle cx="104.8" cy="434.1" r="0.9" fill="#f07060"/>
<circle cx="109.9" cy="436.6" r="0.9" fill="#e0281e"/>
<circle cx="99.8" cy="424.8" r="0.9" fill="#f4a090"/>
<circle cx="100.2" cy="430.7" r="0.9" fill="#e0281e"/>
<circle cx="97.2" cy="429.4" r="0.9" fill="#e0281e"/>
<circle cx="99.3" cy="435.5" r="0.9" fill="#f07060"/>
<circle cx="100.1" cy="434.6" r="0.9" fill="#f4a090"/>
<circle cx="108.8" cy="437.1" r="0.9" fill="#f4a090"/>
<circle cx="103.2" cy="424.3" r="0.9" fill="#e0281e"/>
<circle cx="104.8" cy="421.6" r="0.9" fill="#b81c1c"/>
<circle cx="110.4" cy="430.3" r="0.9" fill="#e0281e"/>
<circle cx="106.1" cy="440.9" r="0.9" fill="#e0281e"/>
<circle cx="106.4" cy="436.0" r="0.9" fill="#e0281e"/>
<circle cx="110.1" cy="432.3" r="0.9" fill="#e0281e"/>
<circle cx="108.6" cy="430.7" r="0.9" fill="#b81c1c"/>
<circle cx="100.2" cy="434.2" r="0.9" fill="#e0281e"/>
<circle cx="104.9" cy="434.0" r="0.9" fill="#b81c1c"/>
<circle cx="100.6" cy="427.4" r="0.9" fill="#e0281e"/>
<circle cx="98.4" cy="425.5" r="0.9" fill="#e0281e"/>
<circle cx="108.0" cy="421.9" r="0.9" fill="#f07060"/>
<circle cx="105.2" cy="429.4" r="0.9" fill="#b81c1c"/>
<circle cx="103.1" cy="440.0" r="0.9" fill="#e0281e"/>
<circle cx="107.8" cy="438.9" r="0.9" fill="#e0281e"/>
<circle cx="102.0" cy="436.7" r="0.9" fill="#e0281e"/>
<circle cx="112.2" cy="429.5" r="0.9" fill="#e0281e"/>
<circle cx="105.3" cy="433.5" r="0.9" fill="#b81c1c"/>
<circle cx="99.7" cy="429.9" r="0.9" fill="#f4a090"/>
<circle cx="101.7" cy="435.1" r="0.9" fill="#f07060"/>
<circle cx="98.8" cy="430.5" r="0.9" fill="#f4a090"/>
<circle cx="106.6" cy="421.1" r="0.9" fill="#f07060"/>
<circle cx="105.6" cy="421.1" r="0.9" fill="#e0281e"/>
<circle cx="98.3" cy="430.4" r="0.9" fill="#f4a090"/>
<circle cx="102.4" cy="425.1" r="0.9" fill="#f07060"/>
<circle cx="108.9" cy="428.7" r="0.9" fill="#e0281e"/>
<circle cx="110.1" cy="425.9" r="0.9" fill="#f4a090"/>
<circle cx="107.1" cy="437.3" r="0.9" fill="#e0281e"/>
<circle cx="107.4" cy="432.6" r="0.9" fill="#b81c1c"/>
<circle cx="107.9" cy="437.0" r="0.9" fill="#b81c1c"/>
<circle cx="106.3" cy="436.6" r="0.9" fill="#f4a090"/>
<circle cx="101.3" cy="435.1" r="0.9" fill="#e0281e"/>
<circle cx="102.7" cy="435.9" r="0.9" fill="#f4a090"/>
<circle cx="107.7" cy="434.0" r="0.9" fill="#f4a090"/>
<circle cx="109.1" cy="438.8" r="0.9" fill="#e0281e"/>
<circle cx="109.3" cy="428.0" r="0.9" fill="#f07060"/>
<circle cx="102.3" cy="431.4" r="0.9" fill="#f07060"/>
<circle cx="110.4" cy="438.2" r="0.9" fill="#f4a090"/>
<circle cx="110.1" cy="435.7" r="0.9" fill="#f07060"/>
<circle cx="100.6" cy="437.9" r="0.9" fill="#e0281e"/>
<circle cx="104.2" cy="429.9" r="0.9" fill="#e0281e"/>
<circle cx="100.6" cy="438.8" r="0.9" fill="#e0281e"/>
<circle cx="100.1" cy="430.5" r="0.9" fill="#e0281e"/>
<circle cx="102.4" cy="421.1" r="0.9" fill="#e0281e"/>
<circle cx="99.1" cy="425.1" r="0.9" fill="#e0281e"/>
<circle cx="101.8" cy="439.4" r="0.9" fill="#e0281e"/>
<circle cx="108.2" cy="431.0" r="0.9" fill="#e0281e"/>
<circle cx="107.7" cy="434.4" r="0.9" fill="#f07060"/>
<circle cx="99.8" cy="435.4" r="0.9" fill="#f07060"/>
<circle cx="105.9" cy="430.7" r="0.9" fill="#e0281e"/>
<circle cx="103.2" cy="436.5" r="0.9" fill="#f07060"/>
<circle cx="107.9" cy="426.3" r="0.9" fill="#b81c1c"/>
<circle cx="98.0" cy="432.0" r="0.9" fill="#e0281e"/>
<circle cx="99.1" cy="425.2" r="0.9" fill="#f07060"/>
<circle cx="104.9" cy="426.6" r="0.9" fill="#f4a090"/>
<circle cx="99.3" cy="425.4" r="0.9" fill="#b81c1c"/>
<circle cx="105.4" cy="435.5" r="0.9" fill="#f4a090"/>
<circle cx="110.8" cy="431.1" r="0.9" fill="#e0281e"/>
<circle cx="105.8" cy="430.6" r="0.9" fill="#f07060"/>
<circle cx="112.0" cy="430.8" r="0.9" fill="#e0281e"/>
<circle cx="102.8" cy="422.1" r="0.9" fill="#e0281e"/>
<circle cx="105.6" cy="427.0" r="0.9" fill="#e0281e"/>
<circle cx="106.3" cy="437.5" r="0.9" fill="#b81c1c"/>
<circle cx="104.9" cy="430.2" r="0.9" fill="#f07060"/>
<circle cx="101.2" cy="433.9" r="0.9" fill="#e0281e"/>
<circle cx="99.5" cy="425.0" r="0.9" fill="#e0281e"/>
<circle cx="103.7" cy="433.3" r="0.9" fill="#b81c1c"/>
<circle cx="99.9" cy="435.7" r="0.9" fill="#e0281e"/>
<circle cx="103.7" cy="435.3" r="0.9" fill="#e0281e"/>
<circle cx="109.4" cy="433.9" r="0.9" fill="#e0281e"/>
<circle cx="111.9" cy="429.6" r="0.9" fill="#e0281e"/>
<circle cx="107.0" cy="440.0" r="0.9" fill="#e0281e"/>
<circle cx="101.2" cy="436.6" r="0.9" fill="#e0281e"/>
<circle cx="100.9" cy="423.2" r="0.9" fill="#e0281e"/>
<circle cx="104.5" cy="431.1" r="0.9" fill="#f4a090"/>
<circle cx="101.5" cy="425.9" r="0.9" fill="#f4a090"/>
<circle cx="105.8" cy="440.9" r="0.9" fill="#e0281e"/>
<circle cx="107.4" cy="426.3" r="0.9" fill="#f4a090"/>
<circle cx="108.9" cy="430.6" r="0.9" fill="#e0281e"/>
<circle cx="106.0" cy="434.1" r="0.9" fill="#f07060"/>
<circle cx="97.6" cy="428.0" r="0.9" fill="#f07060"/>
<circle cx="107.4" cy="438.9" r="0.9" fill="#f07060"/>
<circle cx="107.8" cy="426.7" r="0.9" fill="#e0281e"/>
<circle cx="109.8" cy="432.3" r="0.9" fill="#f07060"/>
<circle cx="101.3" cy="427.5" r="0.9" fill="#e0281e"/>
<circle cx="102.9" cy="431.6" r="0.9" fill="#e0281e"/>
<circle cx="107.2" cy="432.2" r="0.9" fill="#f07060"/>
<circle cx="99.2" cy="428.3" r="0.9" fill="#e0281e"/>
<circle cx="106.6" cy="436.8" r="0.9" fill="#b81c1c"/>
<circle cx="105.3" cy="440.4" r="0.9" fill="#f07060"/>
<circle cx="107.9" cy="423.1" r="0.9" fill="#e0281e"/>
<circle cx="106.4" cy="425.6" r="0.9" fill="#b81c1c"/>
<circle cx="105.4" cy="432.4" r="0.9" fill="#f4a090"/>
<circle cx="103.8" cy="423.0" r="0.9" fill="#e0281e"/>
<circle cx="104.5" cy="435.9" r="0.9" fill="#e0281e"/>
<circle cx="100.6" cy="438.4" r="0.9" fill="#e0281e"/>
<circle cx="100.1" cy="432.4" r="0.9" fill="#f07060"/>
<circle cx="111.7" cy="431.4" r="0.9" fill="#e0281e"/>
<circle cx="110.7" cy="426.4" r="0.9" fill="#e0281e"/>
<circle cx="103.1" cy="440.6" r="0.9" fill="#e0281e"/>
<circle cx="109.9" cy="426.6" r="0.9" fill="#b81c1c"/>
<circle cx="104.3" cy="423.7" r="0.9" fill="#e0281e"/>
<circle cx="101.9" cy="432.4" r="0.9" fill="#e0281e"/>
<circle cx="103.7" cy="427.4" r="0.9" fill="#b81c1c"/>
<circle cx="107.9" cy="432.8" r="0.9" fill="#b81c1c"/>
<circle cx="108.7" cy="435.7" r="0.9" fill="#e0281e"/>
<circle cx="102.6" cy="434.8" r="0.9" fill="#e0281e"/>
<circle cx="112.7" cy="431.1" r="0.9" fill="#f4a090"/>
<circle cx="104.5" cy="433.2" r="0.9" fill="#e0281e"/>
<circle cx="110.9" cy="430.0" r="0.9" fill="#e0281e"/>
<circle cx="103.8" cy="436.0" r="0.9" fill="#f07060"/>
<circle cx="107.1" cy="423.8" r="0.9" fill="#f07060"/>
<circle cx="107.8" cy="434.5" r="0.9" fill="#e0281e"/>
<circle cx="102.5" cy="427.3" r="0.9" fill="#e0281e"/>
<circle cx="108.9" cy="439.3" r="0.9" fill="#f4a090"/>
<circle cx="108.7" cy="429.8" r="0.9" fill="#f4a090"/>
<circle cx="106.8" cy="439.3" r="0.9" fill="#f07060"/>
<circle cx="107.8" cy="439.9" r="0.9" fill="#f4a090"/>
<circle cx="109.5" cy="426.8" r="0.9" fill="#f07060"/>
<circle cx="98.5" cy="431.9" r="0.9" fill="#e0281e"/>
<circle cx="109.5" cy="424.2" r="0.9" fill="#f4a090"/>
<circle cx="110.8" cy="433.8" r="0.9" fill="#b81c1c"/>
<circle cx="103.8" cy="426.0" r="0.9" fill="#b81c1c"/>
<circle cx="111.3" cy="435.1" r="0.9" fill="#b81c1c"/>
<circle cx="91.1" cy="423.6" r="0.9" fill="#e0281e"/>
<circle cx="90.6" cy="424.9" r="0.9" fill="#b81c1c"/>
<circle cx="90.4" cy="422.1" r="0.9" fill="#e0281e"/>
<circle cx="94.4" cy="421.9" r="0.9" fill="#e0281e"/>
<circle cx="94.3" cy="423.0" r="0.9" fill="#e0281e"/>
<circle cx="95.2" cy="422.9" r="0.9" fill="#f07060"/>
<circle cx="98.1" cy="423.5" r="0.9" fill="#e0281e"/>
<circle cx="90.2" cy="424.0" r="0.9" fill="#e0281e"/>
<circle cx="96.0" cy="424.1" r="0.9" fill="#e0281e"/>
<circle cx="98.8" cy="421.1" r="0.9" fill="#f07060"/>
<circle cx="93.9" cy="420.9" r="0.9" fill="#b81c1c"/>
<circle cx="95.5" cy="420.7" r="0.9" fill="#e0281e"/>
<circle cx="99.6" cy="423.9" r="0.9" fill="#e0281e"/>
<circle cx="89.1" cy="423.6" r="0.9" fill="#e0281e"/>
<circle cx="95.8" cy="420.6" r="0.9" fill="#e0281e"/>
<circle cx="87.6" cy="425.7" r="0.9" fill="#e0281e"/>
<circle cx="100.6" cy="423.3" r="0.9" fill="#f07060"/>
<circle cx="95.8" cy="422.5" r="0.9" fill="#f07060"/>
<circle cx="95.3" cy="423.0" r="0.9" fill="#e0281e"/>
<circle cx="98.3" cy="420.7" r="0.9" fill="#f4a090"/>
<circle cx="98.3" cy="424.1" r="0.9" fill="#b81c1c"/>
<circle cx="86.1" cy="426.1" r="0.9" fill="#f07060"/>
<circle cx="90.1" cy="425.4" r="0.9" fill="#f07060"/>
<circle cx="91.4" cy="424.9" r="0.9" fill="#f4a090"/>
<circle cx="91.9" cy="424.3" r="0.9" fill="#e0281e"/>
<circle cx="91.5" cy="421.6" r="0.9" fill="#f07060"/>
<circle cx="86.0" cy="423.6" r="0.9" fill="#e0281e"/>
<circle cx="84.8" cy="423.9" r="0.9" fill="#e0281e"/>
<circle cx="97.0" cy="423.1" r="0.9" fill="#e0281e"/>
<circle cx="99.4" cy="421.4" r="0.9" fill="#b81c1c"/>
<circle cx="87.1" cy="423.8" r="0.9" fill="#e0281e"/>
<circle cx="94.6" cy="420.4" r="0.9" fill="#e0281e"/>
<circle cx="87.6" cy="424.0" r="0.9" fill="#f4a090"/>
<circle cx="95.8" cy="421.0" r="0.9" fill="#e0281e"/>
<circle cx="88.9" cy="425.4" r="0.9" fill="#f4a090"/>
<circle cx="97.1" cy="420.4" r="0.9" fill="#b81c1c"/>
<circle cx="87.5" cy="421.6" r="0.9" fill="#f4a090"/>
<circle cx="96.2" cy="421.5" r="0.9" fill="#b81c1c"/>
<circle cx="85.8" cy="424.3" r="0.9" fill="#e0281e"/>
<circle cx="92.4" cy="423.2" r="0.9" fill="#f4a090"/>
<circle cx="93.2" cy="420.8" r="0.9" fill="#e0281e"/>
<circle cx="98.0" cy="421.9" r="0.9" fill="#e0281e"/>
<circle cx="85.4" cy="423.7" r="0.9" fill="#e0281e"/>
<circle cx="92.9" cy="421.0" r="0.9" fill="#f4a090"/>
<circle cx="93.1" cy="421.7" r="0.9" fill="#e0281e"/>
<circle cx="92.7" cy="425.3" r="0.9" fill="#e0281e"/>
<circle cx="91.7" cy="421.2" r="0.9" fill="#e0281e"/>
<circle cx="98.0" cy="423.5" r="0.9" fill="#e0281e"/>
<circle cx="87.7" cy="422.5" r="0.9" fill="#f07060"/>
<circle cx="91.4" cy="421.2" r="0.9" fill="#f07060"/>
<circle cx="94.6" cy="421.0" r="0.9" fill="#e0281e"/>
<circle cx="86.2" cy="422.2" r="0.9" fill="#f4a090"/>
<circle cx="96.5" cy="422.7" r="0.9" fill="#e0281e"/>
<circle cx="92.9" cy="421.1" r="0.9" fill="#f07060"/>
<circle cx="95.3" cy="424.4" r="0.9" fill="#e0281e"/>
<circle cx="99.7" cy="421.2" r="0.9" fill="#e0281e"/>
<circle cx="88.1" cy="422.4" r="0.9" fill="#f4a090"/>
<circle cx="97.3" cy="423.4" r="0.9" fill="#e0281e"/>
<circle cx="97.7" cy="424.6" r="0.9" fill="#e0281e"/>
<circle cx="94.3" cy="420.5" r="0.9" fill="#e0281e"/>
<circle cx="96.9" cy="420.7" r="0.9" fill="#e0281e"/>
<circle cx="89.0" cy="421.2" r="0.9" fill="#e0281e"/>
<circle cx="93.1" cy="421.2" r="0.9" fill="#e0281e"/>
<circle cx="85.4" cy="422.9" r="0.9" fill="#f07060"/>
<circle cx="89.5" cy="424.5" r="0.9" fill="#e0281e"/>
<circle cx="92.5" cy="420.7" r="0.9" fill="#b81c1c"/>
<circle cx="94.4" cy="421.7" r="0.9" fill="#e0281e"/>
<circle cx="91.9" cy="422.0" r="0.9" fill="#e0281e"/>
<circle cx="86.1" cy="423.0" r="0.9" fill="#e0281e"/>
<circle cx="92.4" cy="420.9" r="0.9" fill="#f07060"/>
<circle cx="92.0" cy="436.0" r="0.9" fill="#b81c1c"/>
<circle cx="86.8" cy="437.3" r="0.9" fill="#f4a090"/>
<circle cx="94.0" cy="435.9" r="0.9" fill="#e0281e"/>
<circle cx="92.0" cy="437.9" r="0.9" fill="#f4a090"/>
<circle cx="95.2" cy="434.3" r="0.9" fill="#e0281e"/>
<circle cx="95.9" cy="436.2" r="0.9" fill="#e0281e"/>
<circle cx="90.0" cy="435.5" r="0.9" fill="#f07060"/>
<circle cx="95.3" cy="437.2" r="0.9" fill="#e0281e"/>
<circle cx="87.0" cy="437.1" r="0.9" fill="#e0281e"/>
<circle cx="91.6" cy="436.2" r="0.9" fill="#f07060"/>
<circle cx="89.0" cy="437.4" r="0.9" fill="#f4a090"/>
<circle cx="92.2" cy="436.4" r="0.9" fill="#e0281e"/>
<circle cx="95.8" cy="435.2" r="0.9" fill="#f4a090"/>
<circle cx="88.0" cy="438.6" r="0.9" fill="#e0281e"/>
<circle cx="88.0" cy="437.7" r="0.9" fill="#e0281e"/>
<circle cx="94.5" cy="437.7" r="0.9" fill="#e0281e"/>
<circle cx="93.3" cy="437.8" r="0.9" fill="#e0281e"/>
<circle cx="86.7" cy="437.6" r="0.9" fill="#f07060"/>
<circle cx="88.2" cy="437.5" r="0.9" fill="#f07060"/>
<circle cx="90.3" cy="438.2" r="0.9" fill="#f4a090"/>
<circle cx="96.4" cy="436.3" r="0.9" fill="#e0281e"/>
<circle cx="91.1" cy="438.0" r="0.9" fill="#e0281e"/>
<circle cx="91.3" cy="437.5" r="0.9" fill="#f07060"/>
<circle cx="90.7" cy="435.5" r="0.9" fill="#f4a090"/>
<circle cx="96.1" cy="436.6" r="0.9" fill="#e0281e"/>
<circle cx="87.2" cy="437.5" r="0.9" fill="#f07060"/>
<circle cx="91.3" cy="436.4" r="0.9" fill="#b81c1c"/>
<circle cx="90.2" cy="437.5" r="0.9" fill="#e0281e"/>
<circle cx="92.7" cy="435.1" r="0.9" fill="#e0281e"/>
<circle cx="89.2" cy="438.0" r="0.9" fill="#e0281e"/>
<circle cx="87.5" cy="446.7" r="0.9" fill="#f4a090"/>
<circle cx="87.4" cy="442.8" r="0.9" fill="#f07060"/>
<circle cx="87.7" cy="443.8" r="0.9" fill="#f07060"/>
<circle cx="87.8" cy="446.2" r="0.9" fill="#e0281e"/>
<circle cx="87.6" cy="445.5" r="0.9" fill="#e0281e"/>
<circle cx="86.9" cy="442.6" r="0.9" fill="#b81c1c"/>
<circle cx="87.2" cy="441.2" r="0.9" fill="#b81c1c"/>
<circle cx="86.3" cy="441.4" r="0.9" fill="#f4a090"/>
<circle cx="94.0" cy="454.5" r="0.9" fill="#f4a090"/>
<circle cx="91.0" cy="449.2" r="0.9" fill="#f07060"/>
<circle cx="89.9" cy="449.5" r="0.9" fill="#e0281e"/>
<circle cx="89.5" cy="448.6" r="0.9" fill="#e0281e"/>
<circle cx="90.0" cy="448.8" r="0.9" fill="#e0281e"/>
<circle cx="91.5" cy="450.5" r="0.9" fill="#e0281e"/>
<circle cx="92.0" cy="450.8" r="0.9" fill="#e0281e"/>
<circle cx="95.1" cy="454.6" r="0.9" fill="#f07060"/>
<circle cx="92.5" cy="452.4" r="0.9" fill="#e0281e"/>
<circle cx="89.2" cy="448.9" r="0.9" fill="#e0281e"/>
<circle cx="91.8" cy="452.7" r="0.9" fill="#e0281e"/>
<circle cx="90.7" cy="449.1" r="0.9" fill="#e0281e"/>
<circle cx="89.4" cy="449.8" r="0.9" fill="#b81c1c"/>
<circle cx="91.4" cy="449.8" r="0.9" fill="#f4a090"/>
<circle cx="91.6" cy="452.7" r="0.9" fill="#f07060"/>
<circle cx="89.1" cy="448.6" r="0.9" fill="#e0281e"/>
<circle cx="102.0" cy="444.6" r="0.9" fill="#e0281e"/>
<circle cx="101.1" cy="447.0" r="0.9" fill="#f07060"/>
<circle cx="94.8" cy="454.5" r="0.9" fill="#e0281e"/>
<circle cx="100.4" cy="448.4" r="0.9" fill="#f4a090"/>
<circle cx="97.6" cy="450.3" r="0.9" fill="#f07060"/>
<circle cx="102.4" cy="444.0" r="0.9" fill="#e0281e"/>
<circle cx="100.1" cy="447.7" r="0.9" fill="#b81c1c"/>
<circle cx="96.4" cy="453.8" r="0.9" fill="#b81c1c"/>
<circle cx="99.2" cy="448.8" r="0.9" fill="#e0281e"/>
<circle cx="95.8" cy="454.5" r="0.9" fill="#e0281e"/>
<circle cx="100.1" cy="448.1" r="0.9" fill="#e0281e"/>
<circle cx="103.9" cy="441.4" r="0.9" fill="#e0281e"/>
<circle cx="98.6" cy="451.2" r="0.9" fill="#e0281e"/>
<circle cx="101.7" cy="444.6" r="0.9" fill="#e0281e"/>
<circle cx="102.2" cy="445.7" r="0.9" fill="#f07060"/>
<circle cx="101.7" cy="447.3" r="0.9" fill="#f4a090"/>
<circle cx="102.2" cy="444.8" r="0.9" fill="#f4a090"/>
<circle cx="96.5" cy="454.0" r="0.9" fill="#e0281e"/>
<circle cx="104.2" cy="441.9" r="0.9" fill="#e0281e"/>
<circle cx="96.8" cy="453.6" r="0.9" fill="#e0281e"/>
<circle cx="97.8" cy="450.7" r="0.9" fill="#e0281e"/>
<circle cx="102.4" cy="445.5" r="0.9" fill="#e0281e"/>
<circle cx="42.0" cy="432.6" r="0.9" fill="#e0402e"/>
<circle cx="40.4" cy="432.0" r="0.9" fill="#e0402e"/>
<circle cx="48.1" cy="433.9" r="0.9" fill="#e0402e"/>
<circle cx="42.8" cy="432.0" r="0.9" fill="#f2b0a8"/>
<circle cx="43.8" cy="430.9" r="0.9" fill="#e0402e"/>
<circle cx="41.4" cy="434.0" r="0.9" fill="#e0402e"/>
<circle cx="50.1" cy="433.7" r="0.9" fill="#e0402e"/>
<circle cx="47.1" cy="432.5" r="0.9" fill="#e0402e"/>
<circle cx="46.0" cy="432.2" r="0.9" fill="#e0402e"/>
<circle cx="41.9" cy="435.5" r="0.9" fill="#e0402e"/>
<circle cx="46.4" cy="432.1" r="0.9" fill="#e0402e"/>
<circle cx="45.1" cy="431.9" r="0.9" fill="#f2b0a8"/>
<circle cx="45.4" cy="430.4" r="0.9" fill="#e0402e"/>
<circle cx="41.8" cy="431.3" r="0.9" fill="#e0402e"/>
<circle cx="47.4" cy="431.8" r="0.9" fill="#e0402e"/>
<circle cx="42.1" cy="431.3" r="0.9" fill="#e0402e"/>
<circle cx="43.8" cy="431.2" r="0.9" fill="#f2b0a8"/>
<circle cx="44.7" cy="429.9" r="0.9" fill="#e0402e"/>
<circle cx="43.1" cy="431.9" r="0.9" fill="#f2b0a8"/>
<circle cx="36.8" cy="434.9" r="0.9" fill="#f2b0a8"/>
<circle cx="47.6" cy="431.2" r="0.9" fill="#f2b0a8"/>
<circle cx="46.7" cy="430.6" r="0.9" fill="#e0402e"/>
<circle cx="44.0" cy="432.8" r="0.9" fill="#e0402e"/>
<circle cx="46.3" cy="430.9" r="0.9" fill="#f2b0a8"/>
<circle cx="48.0" cy="433.6" r="0.9" fill="#e0402e"/>
<circle cx="47.4" cy="429.7" r="0.9" fill="#e0402e"/>
<circle cx="47.8" cy="439.8" r="0.9" fill="#e0402e"/>
<circle cx="39.1" cy="436.2" r="0.9" fill="#f2b0a8"/>
<circle cx="50.4" cy="435.2" r="0.9" fill="#e0402e"/>
<circle cx="43.3" cy="439.8" r="0.9" fill="#e0402e"/>
<circle cx="47.4" cy="435.5" r="0.9" fill="#f2b0a8"/>
<circle cx="54.0" cy="439.3" r="0.9" fill="#e0402e"/>
<circle cx="50.1" cy="439.9" r="0.9" fill="#f2b0a8"/>
<circle cx="53.5" cy="438.9" r="0.9" fill="#e0402e"/>
<circle cx="48.6" cy="437.1" r="0.9" fill="#e0402e"/>
<circle cx="50.3" cy="438.8" r="0.9" fill="#f2b0a8"/>
<circle cx="53.4" cy="437.6" r="0.9" fill="#e0402e"/>
<circle cx="37.9" cy="435.7" r="0.9" fill="#f2b0a8"/>
<circle cx="44.9" cy="446.5" r="0.9" fill="#e0402e"/>
<circle cx="50.4" cy="457.0" r="0.9" fill="#e0402e"/>
<circle cx="65.4" cy="445.3" r="0.9" fill="#e0402e"/>
<circle cx="56.5" cy="443.1" r="0.9" fill="#f2b0a8"/>
<circle cx="56.0" cy="449.5" r="0.9" fill="#f2b0a8"/>
<circle cx="68.2" cy="443.6" r="0.9" fill="#e0402e"/>
<circle cx="61.6" cy="451.3" r="0.9" fill="#e0402e"/>
<circle cx="56.9" cy="455.0" r="0.9" fill="#f2b0a8"/>
<circle cx="41.4" cy="451.9" r="0.9" fill="#e0402e"/>
<circle cx="59.5" cy="454.0" r="0.9" fill="#e0402e"/>
<circle cx="61.0" cy="441.0" r="0.9" fill="#e0402e"/>
<circle cx="62.5" cy="441.5" r="0.9" fill="#e0402e"/>
<circle cx="60.0" cy="442.0" r="0.9" fill="#e0402e"/>
<circle cx="64.5" cy="442.5" r="0.9" fill="#f2b0a8"/>
<circle cx="71.5" cy="431.0" r="0.9" fill="#e0402e"/>
<circle cx="67.5" cy="455.5" r="0.9" fill="#e0402e"/>
<circle cx="69.0" cy="456.0" r="0.9" fill="#e0402e"/>
<circle cx="68.0" cy="457.0" r="0.9" fill="#e0402e"/>
<circle cx="51.0" cy="456.0" r="0.9" fill="#f2b0a8"/>
<circle cx="53.0" cy="456.5" r="0.9" fill="#f2b0a8"/>
<circle cx="52.0" cy="457.5" r="0.9" fill="#f2b0a8"/>
<circle cx="37.5" cy="444.5" r="0.9" fill="#e0402e"/>
<circle cx="38.0" cy="438.0" r="0.9" fill="#e0402e"/>
<circle cx="67.3" cy="464.2" r="0.9" fill="#e0d9dd"/>
<circle cx="71.9" cy="469.6" r="0.9" fill="#e0d9dd"/>
<circle cx="68.6" cy="465.6" r="0.9" fill="#e0d9dd"/>
<circle cx="67.3" cy="464.4" r="0.9" fill="#e0d9dd"/>
<circle cx="68.7" cy="465.6" r="0.9" fill="#e0d9dd"/>
<circle cx="66.5" cy="464.2" r="0.9" fill="#e0d9dd"/>
<circle cx="71.6" cy="469.2" r="0.9" fill="#e0d9dd"/>
<circle cx="67.3" cy="465.9" r="0.9" fill="#e0d9dd"/>
<circle cx="72.8" cy="470.7" r="0.9" fill="#e0d9dd"/>
<circle cx="70.0" cy="467.1" r="0.9" fill="#e0d9dd"/>
<circle cx="70.3" cy="467.2" r="0.9" fill="#e0d9dd"/>
<circle cx="71.7" cy="468.7" r="0.9" fill="#e0d9dd"/>
<circle cx="69.6" cy="467.6" r="0.9" fill="#e0d9dd"/>
<circle cx="69.9" cy="466.7" r="0.9" fill="#e0d9dd"/>
<circle cx="70.4" cy="469.1" r="0.9" fill="#e0d9dd"/>
<circle cx="71.6" cy="470.1" r="0.9" fill="#e0d9dd"/>
<circle cx="67.1" cy="464.4" r="0.9" fill="#e0d9dd"/>
<circle cx="66.4" cy="463.8" r="0.9" fill="#e0d9dd"/>
<circle cx="70.4" cy="467.6" r="0.9" fill="#e0d9dd"/>
<circle cx="67.5" cy="464.4" r="0.9" fill="#e0d9dd"/>
<circle cx="68.7" cy="465.6" r="0.9" fill="#e0d9dd"/>
<circle cx="68.3" cy="465.1" r="0.9" fill="#e0d9dd"/>
<circle cx="73.5" cy="471.4" r="0.9" fill="#e0d9dd"/>
<circle cx="70.3" cy="468.5" r="0.9" fill="#e0d9dd"/>
<circle cx="72.1" cy="469.5" r="0.9" fill="#e0d9dd"/>
<circle cx="69.7" cy="467.8" r="0.9" fill="#e0d9dd"/>
<circle cx="71.7" cy="470.1" r="0.9" fill="#e0d9dd"/>
<circle cx="72.5" cy="470.1" r="0.9" fill="#e0d9dd"/>
<circle cx="67.0" cy="463.9" r="0.9" fill="#e0d9dd"/>
<circle cx="73.4" cy="470.9" r="0.9" fill="#e0d9dd"/>
<circle cx="66.2" cy="463.6" r="0.9" fill="#e0d9dd"/>
<circle cx="69.4" cy="466.7" r="0.9" fill="#e0d9dd"/>
<circle cx="68.0" cy="466.0" r="0.9" fill="#e0d9dd"/>
<circle cx="70.9" cy="468.3" r="0.9" fill="#e0d9dd"/>
<circle cx="74.2" cy="476.1" r="0.9" fill="#e0d9dd"/>
<circle cx="74.8" cy="472.3" r="0.9" fill="#e0d9dd"/>
<circle cx="75.1" cy="473.8" r="0.9" fill="#e0d9dd"/>
<circle cx="81.3" cy="473.0" r="0.9" fill="#e0d9dd"/>
<circle cx="79.8" cy="474.2" r="0.9" fill="#e0d9dd"/>
<circle cx="81.5" cy="473.2" r="0.9" fill="#e0d9dd"/>
<circle cx="80.3" cy="473.8" r="0.9" fill="#e0d9dd"/>
<circle cx="74.3" cy="475.3" r="0.9" fill="#e0d9dd"/>
<circle cx="79.0" cy="476.5" r="0.9" fill="#e0d9dd"/>
<circle cx="79.7" cy="475.8" r="0.9" fill="#e0d9dd"/>
<circle cx="82.4" cy="475.3" r="0.9" fill="#e0d9dd"/>
<circle cx="72.2" cy="476.3" r="0.9" fill="#e0d9dd"/>
<circle cx="76.2" cy="475.4" r="0.9" fill="#e0d9dd"/>
<circle cx="82.1" cy="475.1" r="0.9" fill="#e0d9dd"/>
<circle cx="77.0" cy="472.8" r="0.9" fill="#e0d9dd"/>
<circle cx="80.6" cy="478.7" r="0.9" fill="#e0d9dd"/>
<circle cx="81.8" cy="475.7" r="0.9" fill="#e0d9dd"/>
<circle cx="79.7" cy="472.0" r="0.9" fill="#e0d9dd"/>
<circle cx="75.2" cy="472.7" r="0.9" fill="#e0d9dd"/>
<circle cx="74.1" cy="478.3" r="0.9" fill="#e0d9dd"/>
<circle cx="74.9" cy="478.0" r="0.9" fill="#e0d9dd"/>
<circle cx="79.5" cy="477.6" r="0.9" fill="#e0d9dd"/>
<circle cx="76.3" cy="475.5" r="0.9" fill="#e0d9dd"/>
<circle cx="80.1" cy="473.4" r="0.9" fill="#e0d9dd"/>
<circle cx="79.0" cy="472.4" r="0.9" fill="#e0d9dd"/>
<circle cx="73.0" cy="478.2" r="0.9" fill="#e0d9dd"/>
<circle cx="76.4" cy="476.0" r="0.9" fill="#e0d9dd"/>
<circle cx="78.0" cy="477.3" r="0.9" fill="#e0d9dd"/>
<circle cx="74.2" cy="478.3" r="0.9" fill="#e0d9dd"/>
<circle cx="72.1" cy="474.9" r="0.9" fill="#e0d9dd"/>
<circle cx="72.0" cy="476.2" r="0.9" fill="#e0d9dd"/>
<circle cx="78.1" cy="475.6" r="0.9" fill="#e0d9dd"/>
<circle cx="72.9" cy="473.6" r="0.9" fill="#e0d9dd"/>
<circle cx="77.6" cy="478.9" r="0.9" fill="#e0d9dd"/>
<circle cx="77.7" cy="475.0" r="0.9" fill="#e0d9dd"/>
<circle cx="77.0" cy="478.9" r="0.9" fill="#e0d9dd"/>
<circle cx="76.1" cy="479.0" r="0.9" fill="#e0d9dd"/>
<circle cx="81.0" cy="478.4" r="0.9" fill="#e0d9dd"/>
<circle cx="79.4" cy="474.6" r="0.9" fill="#e0d9dd"/>
<circle cx="76.0" cy="479.6" r="0.9" fill="#e0d9dd"/>
<circle cx="75.9" cy="477.5" r="0.9" fill="#e0d9dd"/>
<circle cx="78.0" cy="477.2" r="0.9" fill="#e0d9dd"/>
<circle cx="73.3" cy="475.9" r="0.9" fill="#e0d9dd"/>
<circle cx="80.5" cy="472.4" r="0.9" fill="#e0d9dd"/>
<circle cx="79.8" cy="476.0" r="0.9" fill="#e0d9dd"/>
<circle cx="75.5" cy="473.0" r="0.9" fill="#e0d9dd"/>
<circle cx="81.5" cy="474.6" r="0.9" fill="#e0d9dd"/>
<circle cx="80.6" cy="474.4" r="0.9" fill="#e0d9dd"/>
<circle cx="74.8" cy="479.0" r="0.9" fill="#e0d9dd"/>
<circle cx="75.1" cy="476.6" r="0.9" fill="#e0d9dd"/>
<circle cx="75.2" cy="473.3" r="0.9" fill="#e0d9dd"/>
<circle cx="79.6" cy="472.4" r="0.9" fill="#e0d9dd"/>
<circle cx="79.1" cy="474.7" r="0.9" fill="#e0d9dd"/>
<circle cx="79.7" cy="478.6" r="0.9" fill="#e0d9dd"/>
<circle cx="76.4" cy="471.6" r="0.9" fill="#e0d9dd"/>
<circle cx="80.8" cy="475.2" r="0.9" fill="#e0d9dd"/>
<circle cx="74.9" cy="477.8" r="0.9" fill="#e0d9dd"/>
<circle cx="82.9" cy="476.2" r="0.9" fill="#e0d9dd"/>
<circle cx="78.2" cy="471.5" r="0.9" fill="#e0d9dd"/>
<circle cx="73.6" cy="477.1" r="0.9" fill="#e0d9dd"/>
<circle cx="80.4" cy="472.1" r="0.9" fill="#e0d9dd"/>
<circle cx="79.8" cy="476.6" r="0.9" fill="#e0d9dd"/>
<circle cx="73.4" cy="478.4" r="0.9" fill="#e0d9dd"/>
<circle cx="78.3" cy="475.3" r="0.9" fill="#e0d9dd"/>
<circle cx="74.2" cy="476.6" r="0.9" fill="#e0d9dd"/>
<circle cx="82.9" cy="476.1" r="0.9" fill="#e0d9dd"/>
<circle cx="75.9" cy="475.9" r="0.9" fill="#e0d9dd"/>
<circle cx="74.4" cy="475.6" r="0.9" fill="#e0d9dd"/>
<circle cx="77.1" cy="479.2" r="0.9" fill="#e0d9dd"/>
<circle cx="75.8" cy="474.6" r="0.9" fill="#e0d9dd"/>
<circle cx="78.5" cy="474.6" r="0.9" fill="#e0d9dd"/>
<circle cx="75.3" cy="474.2" r="0.9" fill="#e0d9dd"/>
<circle cx="77.5" cy="477.2" r="0.9" fill="#e0d9dd"/>
<circle cx="74.3" cy="479.0" r="0.9" fill="#e0d9dd"/>
<circle cx="79.3" cy="475.4" r="0.9" fill="#e0d9dd"/>
<circle cx="80.4" cy="475.4" r="0.9" fill="#e0d9dd"/>
<circle cx="78.0" cy="477.1" r="0.9" fill="#e0d9dd"/>
<circle cx="80.9" cy="474.5" r="0.9" fill="#e0d9dd"/>
<circle cx="74.0" cy="477.8" r="0.9" fill="#e0d9dd"/>
<circle cx="77.6" cy="474.1" r="0.9" fill="#e0d9dd"/>
<circle cx="79.7" cy="476.8" r="0.9" fill="#e0d9dd"/>
<circle cx="77.9" cy="473.0" r="0.9" fill="#e0d9dd"/>
<circle cx="79.8" cy="478.9" r="0.9" fill="#e0d9dd"/>
<circle cx="77.8" cy="479.0" r="0.9" fill="#e0d9dd"/>
<circle cx="76.2" cy="474.1" r="0.9" fill="#e0d9dd"/>
<circle cx="82.8" cy="473.5" r="0.9" fill="#e0d9dd"/>
<circle cx="82.0" cy="472.6" r="0.9" fill="#e0d9dd"/>
<circle cx="83.5" cy="472.6" r="0.9" fill="#e0d9dd"/>
<circle cx="83.5" cy="472.9" r="0.9" fill="#e0d9dd"/>
<circle cx="81.7" cy="471.8" r="0.9" fill="#e0d9dd"/>
<circle cx="82.8" cy="471.0" r="0.9" fill="#e0d9dd"/>
<circle cx="81.5" cy="471.3" r="0.9" fill="#e0d9dd"/>
<circle cx="82.6" cy="472.0" r="0.9" fill="#e0d9dd"/>
<circle cx="239.2" cy="416.2" r="0.9" fill="#bfe3b6"/>
<circle cx="232.1" cy="431.5" r="0.9" fill="#86c878"/>
<circle cx="235.5" cy="416.3" r="0.9" fill="#bfe3b6"/>
<circle cx="236.9" cy="416.3" r="0.9" fill="#bfe3b6"/>
<circle cx="239.3" cy="427.4" r="0.9" fill="#bfe3b6"/>
<circle cx="238.3" cy="433.1" r="0.9" fill="#d4d8d4"/>
<circle cx="242.0" cy="430.7" r="0.9" fill="#bfe3b6"/>
<circle cx="234.0" cy="417.7" r="0.9" fill="#d4d8d4"/>
<circle cx="242.7" cy="428.7" r="0.9" fill="#45a045"/>
<circle cx="240.7" cy="427.2" r="0.9" fill="#45a045"/>
<circle cx="234.7" cy="427.6" r="0.9" fill="#45a045"/>
<circle cx="238.8" cy="434.2" r="0.9" fill="#86c878"/>
<circle cx="240.3" cy="416.7" r="0.9" fill="#bfe3b6"/>
<circle cx="233.2" cy="417.4" r="0.9" fill="#bfe3b6"/>
<circle cx="230.0" cy="421.7" r="0.9" fill="#86c878"/>
<circle cx="234.5" cy="423.7" r="0.9" fill="#bfe3b6"/>
<circle cx="239.3" cy="428.8" r="0.9" fill="#d4d8d4"/>
<circle cx="240.7" cy="419.2" r="0.9" fill="#bfe3b6"/>
<circle cx="237.8" cy="430.4" r="0.9" fill="#45a045"/>
<circle cx="241.5" cy="420.6" r="0.9" fill="#d4d8d4"/>
<circle cx="233.7" cy="421.5" r="0.9" fill="#bfe3b6"/>
<circle cx="233.6" cy="429.8" r="0.9" fill="#bfe3b6"/>
<circle cx="243.8" cy="425.6" r="0.9" fill="#bfe3b6"/>
<circle cx="232.5" cy="427.8" r="0.9" fill="#bfe3b6"/>
<circle cx="238.2" cy="435.0" r="0.9" fill="#bfe3b6"/>
<circle cx="237.0" cy="417.7" r="0.9" fill="#d4d8d4"/>
<circle cx="230.2" cy="429.2" r="0.9" fill="#45a045"/>
<circle cx="235.5" cy="417.1" r="0.9" fill="#bfe3b6"/>
<circle cx="239.9" cy="427.2" r="0.9" fill="#bfe3b6"/>
<circle cx="239.2" cy="418.1" r="0.9" fill="#86c878"/>
<circle cx="236.0" cy="436.2" r="0.9" fill="#45a045"/>
<circle cx="232.8" cy="426.5" r="0.9" fill="#d4d8d4"/>
<circle cx="233.4" cy="429.4" r="0.9" fill="#86c878"/>
<circle cx="230.9" cy="432.1" r="0.9" fill="#86c878"/>
<circle cx="241.5" cy="427.1" r="0.9" fill="#d4d8d4"/>
<circle cx="242.4" cy="422.3" r="0.9" fill="#d4d8d4"/>
<circle cx="229.8" cy="426.1" r="0.9" fill="#d4d8d4"/>
<circle cx="241.2" cy="432.2" r="0.9" fill="#d4d8d4"/>
<circle cx="236.4" cy="427.5" r="0.9" fill="#bfe3b6"/>
<circle cx="243.1" cy="424.8" r="0.9" fill="#bfe3b6"/>
<circle cx="237.5" cy="431.4" r="0.9" fill="#bfe3b6"/>
<circle cx="239.3" cy="425.1" r="0.9" fill="#86c878"/>
<circle cx="234.0" cy="428.3" r="0.9" fill="#bfe3b6"/>
<circle cx="239.0" cy="420.6" r="0.9" fill="#45a045"/>
<circle cx="232.3" cy="430.1" r="0.9" fill="#bfe3b6"/>
<circle cx="238.0" cy="425.9" r="0.9" fill="#45a045"/>
<circle cx="242.0" cy="419.8" r="0.9" fill="#d4d8d4"/>
<circle cx="235.6" cy="424.8" r="0.9" fill="#86c878"/>
<circle cx="240.7" cy="430.2" r="0.9" fill="#45a045"/>
<circle cx="230.0" cy="424.4" r="0.9" fill="#bfe3b6"/>
<circle cx="242.9" cy="421.0" r="0.9" fill="#bfe3b6"/>
<circle cx="235.9" cy="424.8" r="0.9" fill="#bfe3b6"/>
<circle cx="235.8" cy="434.2" r="0.9" fill="#86c878"/>
<circle cx="231.1" cy="426.1" r="0.9" fill="#bfe3b6"/>
<circle cx="235.1" cy="417.0" r="0.9" fill="#bfe3b6"/>
<circle cx="241.6" cy="425.5" r="0.9" fill="#86c878"/>
<circle cx="237.7" cy="431.1" r="0.9" fill="#d4d8d4"/>
<circle cx="238.1" cy="427.4" r="0.9" fill="#45a045"/>
<circle cx="236.8" cy="434.0" r="0.9" fill="#d4d8d4"/>
<circle cx="231.5" cy="428.5" r="0.9" fill="#86c878"/>
<circle cx="232.3" cy="418.3" r="0.9" fill="#45a045"/>
<circle cx="232.5" cy="428.5" r="0.9" fill="#86c878"/>
<circle cx="235.4" cy="428.2" r="0.9" fill="#86c878"/>
<circle cx="240.5" cy="420.8" r="0.9" fill="#bfe3b6"/>
<circle cx="239.7" cy="422.1" r="0.9" fill="#bfe3b6"/>
<circle cx="241.1" cy="417.3" r="0.9" fill="#86c878"/>
<circle cx="234.6" cy="419.1" r="0.9" fill="#45a045"/>
<circle cx="240.3" cy="428.9" r="0.9" fill="#45a045"/>
<circle cx="242.2" cy="422.1" r="0.9" fill="#86c878"/>
<circle cx="237.7" cy="421.6" r="0.9" fill="#86c878"/>
<circle cx="240.5" cy="420.1" r="0.9" fill="#86c878"/>
<circle cx="232.8" cy="426.2" r="0.9" fill="#45a045"/>
<circle cx="235.5" cy="421.6" r="0.9" fill="#d4d8d4"/>
<circle cx="241.4" cy="429.4" r="0.9" fill="#bfe3b6"/>
<circle cx="240.9" cy="427.6" r="0.9" fill="#86c878"/>
<circle cx="237.6" cy="433.6" r="0.9" fill="#86c878"/>
<circle cx="233.5" cy="435.0" r="0.9" fill="#45a045"/>
<circle cx="231.9" cy="421.1" r="0.9" fill="#d4d8d4"/>
<circle cx="241.6" cy="434.7" r="0.9" fill="#bfe3b6"/>
<circle cx="238.9" cy="419.0" r="0.9" fill="#45a045"/>
<circle cx="233.9" cy="435.7" r="0.9" fill="#45a045"/>
<circle cx="243.0" cy="433.1" r="0.9" fill="#bfe3b6"/>
<circle cx="241.7" cy="418.0" r="0.9" fill="#45a045"/>
<circle cx="242.9" cy="420.5" r="0.9" fill="#45a045"/>
<circle cx="236.1" cy="422.3" r="0.9" fill="#45a045"/>
<circle cx="231.6" cy="422.8" r="0.9" fill="#45a045"/>
<circle cx="239.2" cy="424.3" r="0.9" fill="#45a045"/>
<circle cx="237.4" cy="435.9" r="0.9" fill="#d4d8d4"/>
<circle cx="230.1" cy="425.0" r="0.9" fill="#45a045"/>
<circle cx="233.6" cy="428.7" r="0.9" fill="#86c878"/>
<circle cx="234.8" cy="428.1" r="0.9" fill="#bfe3b6"/>
<circle cx="244.0" cy="427.3" r="0.9" fill="#86c878"/>
<circle cx="240.9" cy="430.1" r="0.9" fill="#bfe3b6"/>
<circle cx="233.9" cy="422.4" r="0.9" fill="#45a045"/>
<circle cx="240.5" cy="422.2" r="0.9" fill="#bfe3b6"/>
<circle cx="235.2" cy="424.4" r="0.9" fill="#bfe3b6"/>
<circle cx="230.5" cy="424.7" r="0.9" fill="#45a045"/>
<circle cx="239.8" cy="435.1" r="0.9" fill="#86c878"/>
<circle cx="233.4" cy="427.5" r="0.9" fill="#d4d8d4"/>
<circle cx="233.2" cy="424.9" r="0.9" fill="#86c878"/>
<circle cx="239.4" cy="425.7" r="0.9" fill="#86c878"/>
<circle cx="231.9" cy="425.9" r="0.9" fill="#45a045"/>
<circle cx="241.8" cy="419.3" r="0.9" fill="#d4d8d4"/>
<circle cx="237.1" cy="429.3" r="0.9" fill="#bfe3b6"/>
<circle cx="242.2" cy="431.8" r="0.9" fill="#86c878"/>
<circle cx="232.1" cy="420.0" r="0.9" fill="#d4d8d4"/>
<circle cx="232.5" cy="425.9" r="0.9" fill="#45a045"/>
<circle cx="229.5" cy="424.6" r="0.9" fill="#86c878"/>
<circle cx="231.6" cy="430.7" r="0.9" fill="#86c878"/>
<circle cx="232.4" cy="429.8" r="0.9" fill="#d4d8d4"/>
<circle cx="241.1" cy="432.3" r="0.9" fill="#d4d8d4"/>
<circle cx="235.5" cy="419.5" r="0.9" fill="#45a045"/>
<circle cx="237.1" cy="416.8" r="0.9" fill="#bfe3b6"/>
<circle cx="242.7" cy="425.5" r="0.9" fill="#45a045"/>
<circle cx="238.4" cy="436.1" r="0.9" fill="#45a045"/>
<circle cx="238.7" cy="431.2" r="0.9" fill="#86c878"/>
<circle cx="242.4" cy="427.5" r="0.9" fill="#45a045"/>
<circle cx="240.9" cy="425.9" r="0.9" fill="#bfe3b6"/>
<circle cx="232.5" cy="429.4" r="0.9" fill="#45a045"/>
<circle cx="237.2" cy="429.2" r="0.9" fill="#bfe3b6"/>
<circle cx="232.9" cy="422.6" r="0.9" fill="#86c878"/>
<circle cx="230.7" cy="420.7" r="0.9" fill="#86c878"/>
<circle cx="240.3" cy="417.1" r="0.9" fill="#bfe3b6"/>
<circle cx="237.5" cy="424.6" r="0.9" fill="#bfe3b6"/>
<circle cx="235.4" cy="435.2" r="0.9" fill="#86c878"/>
<circle cx="240.1" cy="434.1" r="0.9" fill="#45a045"/>
<circle cx="234.3" cy="431.9" r="0.9" fill="#45a045"/>
<circle cx="244.5" cy="424.7" r="0.9" fill="#45a045"/>
<circle cx="237.6" cy="428.7" r="0.9" fill="#bfe3b6"/>
<circle cx="232.0" cy="425.1" r="0.9" fill="#d4d8d4"/>
<circle cx="234.0" cy="430.3" r="0.9" fill="#bfe3b6"/>
<circle cx="231.1" cy="425.7" r="0.9" fill="#d4d8d4"/>
<circle cx="238.9" cy="416.3" r="0.9" fill="#bfe3b6"/>
<circle cx="237.9" cy="416.3" r="0.9" fill="#86c878"/>
<circle cx="230.6" cy="425.6" r="0.9" fill="#d4d8d4"/>
<circle cx="234.7" cy="420.3" r="0.9" fill="#bfe3b6"/>
<circle cx="241.2" cy="423.9" r="0.9" fill="#45a045"/>
<circle cx="242.4" cy="421.1" r="0.9" fill="#d4d8d4"/>
<circle cx="239.4" cy="432.5" r="0.9" fill="#86c878"/>
<circle cx="239.7" cy="427.8" r="0.9" fill="#bfe3b6"/>
<circle cx="240.2" cy="432.2" r="0.9" fill="#d4d8d4"/>
<circle cx="238.6" cy="431.8" r="0.9" fill="#d4d8d4"/>
<circle cx="233.6" cy="430.3" r="0.9" fill="#45a045"/>
<circle cx="235.0" cy="431.1" r="0.9" fill="#d4d8d4"/>
<circle cx="240.0" cy="429.2" r="0.9" fill="#d4d8d4"/>
<circle cx="241.4" cy="434.0" r="0.9" fill="#86c878"/>
<circle cx="241.6" cy="423.2" r="0.9" fill="#86c878"/>
<circle cx="234.6" cy="426.6" r="0.9" fill="#bfe3b6"/>
<circle cx="242.7" cy="433.4" r="0.9" fill="#d4d8d4"/>
<circle cx="242.4" cy="430.9" r="0.9" fill="#86c878"/>
<circle cx="232.9" cy="433.1" r="0.9" fill="#86c878"/>
<circle cx="236.5" cy="425.1" r="0.9" fill="#45a045"/>
<circle cx="232.9" cy="434.0" r="0.9" fill="#45a045"/>
<circle cx="232.4" cy="425.7" r="0.9" fill="#86c878"/>
<circle cx="234.7" cy="416.3" r="0.9" fill="#45a045"/>
<circle cx="231.4" cy="420.3" r="0.9" fill="#45a045"/>
<circle cx="234.1" cy="434.6" r="0.9" fill="#86c878"/>
<circle cx="240.5" cy="426.2" r="0.9" fill="#45a045"/>
<circle cx="240.0" cy="429.6" r="0.9" fill="#86c878"/>
<circle cx="232.1" cy="430.6" r="0.9" fill="#bfe3b6"/>
<circle cx="238.2" cy="425.9" r="0.9" fill="#86c878"/>
<circle cx="235.5" cy="431.7" r="0.9" fill="#bfe3b6"/>
<circle cx="240.2" cy="421.5" r="0.9" fill="#bfe3b6"/>
<circle cx="230.3" cy="427.2" r="0.9" fill="#45a045"/>
<circle cx="231.4" cy="420.4" r="0.9" fill="#86c878"/>
<circle cx="237.2" cy="421.8" r="0.9" fill="#d4d8d4"/>
<circle cx="231.6" cy="420.6" r="0.9" fill="#d4d8d4"/>
<circle cx="237.7" cy="430.7" r="0.9" fill="#d4d8d4"/>
<circle cx="243.1" cy="426.3" r="0.9" fill="#45a045"/>
<circle cx="238.1" cy="425.8" r="0.9" fill="#86c878"/>
<circle cx="244.3" cy="426.0" r="0.9" fill="#45a045"/>
<circle cx="235.1" cy="417.3" r="0.9" fill="#86c878"/>
<circle cx="237.9" cy="422.2" r="0.9" fill="#45a045"/>
<circle cx="238.6" cy="432.7" r="0.9" fill="#bfe3b6"/>
<circle cx="237.2" cy="425.4" r="0.9" fill="#86c878"/>
<circle cx="233.5" cy="429.1" r="0.9" fill="#86c878"/>
<circle cx="231.8" cy="420.2" r="0.9" fill="#86c878"/>
<circle cx="236.0" cy="428.5" r="0.9" fill="#bfe3b6"/>
<circle cx="232.2" cy="430.9" r="0.9" fill="#86c878"/>
<circle cx="236.0" cy="430.5" r="0.9" fill="#45a045"/>
<circle cx="241.7" cy="429.1" r="0.9" fill="#86c878"/>
<circle cx="244.2" cy="424.8" r="0.9" fill="#86c878"/>
<circle cx="239.3" cy="435.2" r="0.9" fill="#45a045"/>
<circle cx="233.5" cy="431.8" r="0.9" fill="#86c878"/>
<circle cx="233.2" cy="418.4" r="0.9" fill="#86c878"/>
<circle cx="236.8" cy="426.3" r="0.9" fill="#d4d8d4"/>
<circle cx="233.8" cy="421.1" r="0.9" fill="#d4d8d4"/>
<circle cx="238.1" cy="436.1" r="0.9" fill="#45a045"/>
<circle cx="239.7" cy="421.5" r="0.9" fill="#d4d8d4"/>
<circle cx="241.2" cy="425.8" r="0.9" fill="#86c878"/>
<circle cx="238.3" cy="429.3" r="0.9" fill="#86c878"/>
<circle cx="229.9" cy="423.2" r="0.9" fill="#bfe3b6"/>
<circle cx="239.7" cy="434.1" r="0.9" fill="#bfe3b6"/>
<circle cx="240.1" cy="421.9" r="0.9" fill="#45a045"/>
<circle cx="242.1" cy="427.5" r="0.9" fill="#86c878"/>
<circle cx="233.6" cy="422.7" r="0.9" fill="#45a045"/>
<circle cx="235.2" cy="426.8" r="0.9" fill="#45a045"/>
<circle cx="239.5" cy="427.4" r="0.9" fill="#bfe3b6"/>
<circle cx="231.5" cy="423.5" r="0.9" fill="#45a045"/>
<circle cx="238.9" cy="432.0" r="0.9" fill="#bfe3b6"/>
<circle cx="237.6" cy="435.6" r="0.9" fill="#86c878"/>
<circle cx="240.2" cy="418.3" r="0.9" fill="#45a045"/>
<circle cx="238.7" cy="420.8" r="0.9" fill="#d4d8d4"/>
<circle cx="237.7" cy="427.6" r="0.9" fill="#d4d8d4"/>
<circle cx="236.1" cy="418.2" r="0.9" fill="#45a045"/>
<circle cx="236.8" cy="431.1" r="0.9" fill="#86c878"/>
<circle cx="232.9" cy="433.6" r="0.9" fill="#45a045"/>
<circle cx="232.4" cy="427.6" r="0.9" fill="#bfe3b6"/>
<circle cx="244.0" cy="426.6" r="0.9" fill="#45a045"/>
<circle cx="243.0" cy="421.6" r="0.9" fill="#45a045"/>
<circle cx="235.4" cy="435.8" r="0.9" fill="#86c878"/>
<circle cx="242.2" cy="421.8" r="0.9" fill="#bfe3b6"/>
<circle cx="236.6" cy="418.9" r="0.9" fill="#86c878"/>
<circle cx="234.2" cy="427.6" r="0.9" fill="#86c878"/>
<circle cx="236.0" cy="422.6" r="0.9" fill="#bfe3b6"/>
<circle cx="240.2" cy="428.0" r="0.9" fill="#bfe3b6"/>
<circle cx="241.0" cy="430.9" r="0.9" fill="#45a045"/>
<circle cx="234.9" cy="430.0" r="0.9" fill="#45a045"/>
<circle cx="245.0" cy="426.3" r="0.9" fill="#d4d8d4"/>
<circle cx="236.8" cy="428.4" r="0.9" fill="#45a045"/>
<circle cx="243.2" cy="425.2" r="0.9" fill="#86c878"/>
<circle cx="236.1" cy="431.2" r="0.9" fill="#bfe3b6"/>
<circle cx="239.4" cy="419.0" r="0.9" fill="#86c878"/>
<circle cx="240.1" cy="429.7" r="0.9" fill="#45a045"/>
<circle cx="234.8" cy="422.5" r="0.9" fill="#86c878"/>
<circle cx="241.2" cy="434.5" r="0.9" fill="#d4d8d4"/>
<circle cx="241.0" cy="425.0" r="0.9" fill="#d4d8d4"/>
<circle cx="239.1" cy="434.5" r="0.9" fill="#86c878"/>
<circle cx="240.1" cy="435.1" r="0.9" fill="#d4d8d4"/>
<circle cx="241.8" cy="422.0" r="0.9" fill="#bfe3b6"/>
<circle cx="230.8" cy="427.1" r="0.9" fill="#86c878"/>
<circle cx="241.8" cy="419.4" r="0.9" fill="#d4d8d4"/>
<circle cx="243.1" cy="429.0" r="0.9" fill="#bfe3b6"/>
<circle cx="236.1" cy="421.2" r="0.9" fill="#bfe3b6"/>
<circle cx="243.6" cy="430.3" r="0.9" fill="#d4d8d4"/>
<circle cx="223.4" cy="418.8" r="0.9" fill="#86c878"/>
<circle cx="222.9" cy="420.1" r="0.9" fill="#bfe3b6"/>
<circle cx="222.7" cy="417.3" r="0.9" fill="#86c878"/>
<circle cx="226.7" cy="417.1" r="0.9" fill="#45a045"/>
<circle cx="226.6" cy="418.2" r="0.9" fill="#86c878"/>
<circle cx="227.5" cy="418.1" r="0.9" fill="#86c878"/>
<circle cx="230.4" cy="418.7" r="0.9" fill="#86c878"/>
<circle cx="222.5" cy="419.2" r="0.9" fill="#86c878"/>
<circle cx="228.3" cy="419.3" r="0.9" fill="#86c878"/>
<circle cx="231.1" cy="416.3" r="0.9" fill="#86c878"/>
<circle cx="226.2" cy="416.1" r="0.9" fill="#bfe3b6"/>
<circle cx="227.8" cy="415.9" r="0.9" fill="#86c878"/>
<circle cx="231.9" cy="419.1" r="0.9" fill="#45a045"/>
<circle cx="221.4" cy="418.8" r="0.9" fill="#45a045"/>
<circle cx="228.1" cy="415.8" r="0.9" fill="#45a045"/>
<circle cx="219.9" cy="420.9" r="0.9" fill="#45a045"/>
<circle cx="232.9" cy="418.5" r="0.9" fill="#bfe3b6"/>
<circle cx="228.1" cy="417.7" r="0.9" fill="#86c878"/>
<circle cx="227.6" cy="418.2" r="0.9" fill="#45a045"/>
<circle cx="230.6" cy="415.9" r="0.9" fill="#d4d8d4"/>
<circle cx="230.6" cy="419.3" r="0.9" fill="#bfe3b6"/>
<circle cx="218.4" cy="421.3" r="0.9" fill="#bfe3b6"/>
<circle cx="222.4" cy="420.6" r="0.9" fill="#bfe3b6"/>
<circle cx="223.7" cy="420.1" r="0.9" fill="#d4d8d4"/>
<circle cx="224.2" cy="419.5" r="0.9" fill="#45a045"/>
<circle cx="223.8" cy="416.8" r="0.9" fill="#bfe3b6"/>
<circle cx="218.3" cy="418.8" r="0.9" fill="#45a045"/>
<circle cx="217.1" cy="419.1" r="0.9" fill="#45a045"/>
<circle cx="229.3" cy="418.3" r="0.9" fill="#86c878"/>
<circle cx="231.7" cy="416.6" r="0.9" fill="#bfe3b6"/>
<circle cx="219.4" cy="419.0" r="0.9" fill="#86c878"/>
<circle cx="226.9" cy="415.6" r="0.9" fill="#45a045"/>
<circle cx="219.9" cy="419.2" r="0.9" fill="#d4d8d4"/>
<circle cx="228.1" cy="416.2" r="0.9" fill="#45a045"/>
<circle cx="221.2" cy="420.6" r="0.9" fill="#d4d8d4"/>
<circle cx="229.4" cy="415.6" r="0.9" fill="#bfe3b6"/>
<circle cx="219.8" cy="416.8" r="0.9" fill="#d4d8d4"/>
<circle cx="228.5" cy="416.7" r="0.9" fill="#d4d8d4"/>
<circle cx="218.1" cy="419.5" r="0.9" fill="#45a045"/>
<circle cx="224.7" cy="418.4" r="0.9" fill="#d4d8d4"/>
<circle cx="225.5" cy="416.0" r="0.9" fill="#45a045"/>
<circle cx="230.3" cy="417.1" r="0.9" fill="#45a045"/>
<circle cx="217.7" cy="418.9" r="0.9" fill="#86c878"/>
<circle cx="225.2" cy="416.2" r="0.9" fill="#d4d8d4"/>
<circle cx="225.4" cy="416.9" r="0.9" fill="#86c878"/>
<circle cx="225.0" cy="420.5" r="0.9" fill="#86c878"/>
<circle cx="224.0" cy="416.4" r="0.9" fill="#86c878"/>
<circle cx="230.3" cy="418.7" r="0.9" fill="#45a045"/>
<circle cx="220.0" cy="417.7" r="0.9" fill="#bfe3b6"/>
<circle cx="223.7" cy="416.4" r="0.9" fill="#86c878"/>
<circle cx="226.9" cy="416.2" r="0.9" fill="#45a045"/>
<circle cx="218.5" cy="417.4" r="0.9" fill="#d4d8d4"/>
<circle cx="228.8" cy="417.9" r="0.9" fill="#86c878"/>
<circle cx="225.2" cy="416.3" r="0.9" fill="#bfe3b6"/>
<circle cx="227.6" cy="419.6" r="0.9" fill="#45a045"/>
<circle cx="232.0" cy="416.4" r="0.9" fill="#86c878"/>
<circle cx="220.4" cy="417.6" r="0.9" fill="#d4d8d4"/>
<circle cx="229.6" cy="418.6" r="0.9" fill="#86c878"/>
<circle cx="230.0" cy="419.8" r="0.9" fill="#45a045"/>
<circle cx="226.6" cy="415.7" r="0.9" fill="#45a045"/>
<circle cx="229.2" cy="415.9" r="0.9" fill="#86c878"/>
<circle cx="221.3" cy="416.4" r="0.9" fill="#45a045"/>
<circle cx="225.4" cy="416.4" r="0.9" fill="#86c878"/>
<circle cx="217.7" cy="418.1" r="0.9" fill="#bfe3b6"/>
<circle cx="221.8" cy="419.7" r="0.9" fill="#45a045"/>
<circle cx="224.8" cy="415.9" r="0.9" fill="#d4d8d4"/>
<circle cx="226.7" cy="416.9" r="0.9" fill="#86c878"/>
<circle cx="224.2" cy="417.2" r="0.9" fill="#45a045"/>
<circle cx="218.4" cy="418.2" r="0.9" fill="#86c878"/>
<circle cx="224.7" cy="416.1" r="0.9" fill="#bfe3b6"/>
<circle cx="224.3" cy="431.2" r="0.9" fill="#bfe3b6"/>
<circle cx="219.1" cy="432.5" r="0.9" fill="#d4d8d4"/>
<circle cx="226.3" cy="431.1" r="0.9" fill="#86c878"/>
<circle cx="224.3" cy="433.1" r="0.9" fill="#d4d8d4"/>
<circle cx="227.5" cy="429.5" r="0.9" fill="#45a045"/>
<circle cx="228.2" cy="431.4" r="0.9" fill="#86c878"/>
<circle cx="222.3" cy="430.7" r="0.9" fill="#bfe3b6"/>
<circle cx="227.6" cy="432.4" r="0.9" fill="#45a045"/>
<circle cx="219.3" cy="432.3" r="0.9" fill="#86c878"/>
<circle cx="223.9" cy="431.4" r="0.9" fill="#bfe3b6"/>
<circle cx="221.3" cy="432.6" r="0.9" fill="#d4d8d4"/>
<circle cx="224.5" cy="431.6" r="0.9" fill="#45a045"/>
<circle cx="228.1" cy="430.4" r="0.9" fill="#d4d8d4"/>
<circle cx="220.3" cy="433.8" r="0.9" fill="#86c878"/>
<circle cx="220.3" cy="432.9" r="0.9" fill="#45a045"/>
<circle cx="226.8" cy="432.9" r="0.9" fill="#86c878"/>
<circle cx="225.6" cy="433.0" r="0.9" fill="#86c878"/>
<circle cx="219.0" cy="432.8" r="0.9" fill="#bfe3b6"/>
<circle cx="220.5" cy="432.7" r="0.9" fill="#bfe3b6"/>
<circle cx="222.6" cy="433.4" r="0.9" fill="#d4d8d4"/>
<circle cx="228.7" cy="431.5" r="0.9" fill="#86c878"/>
<circle cx="223.4" cy="433.2" r="0.9" fill="#45a045"/>
<circle cx="223.6" cy="432.7" r="0.9" fill="#bfe3b6"/>
<circle cx="223.0" cy="430.7" r="0.9" fill="#d4d8d4"/>
<circle cx="228.4" cy="431.8" r="0.9" fill="#86c878"/>
<circle cx="219.5" cy="432.7" r="0.9" fill="#86c878"/>
<circle cx="223.6" cy="431.6" r="0.9" fill="#bfe3b6"/>
<circle cx="222.5" cy="432.7" r="0.9" fill="#45a045"/>
<circle cx="225.0" cy="430.3" r="0.9" fill="#86c878"/>
<circle cx="221.5" cy="433.2" r="0.9" fill="#45a045"/>
<circle cx="219.8" cy="441.9" r="0.9" fill="#d4d8d4"/>
<circle cx="219.7" cy="438.0" r="0.9" fill="#bfe3b6"/>
<circle cx="220.0" cy="439.0" r="0.9" fill="#bfe3b6"/>
<circle cx="220.1" cy="441.4" r="0.9" fill="#45a045"/>
<circle cx="219.9" cy="440.7" r="0.9" fill="#86c878"/>
<circle cx="219.2" cy="437.8" r="0.9" fill="#bfe3b6"/>
<circle cx="219.5" cy="436.4" r="0.9" fill="#bfe3b6"/>
<circle cx="218.6" cy="436.6" r="0.9" fill="#d4d8d4"/>
<circle cx="226.3" cy="449.7" r="0.9" fill="#d4d8d4"/>
<circle cx="223.3" cy="444.4" r="0.9" fill="#bfe3b6"/>
<circle cx="222.2" cy="444.7" r="0.9" fill="#45a045"/>
<circle cx="221.8" cy="443.8" r="0.9" fill="#86c878"/>
<circle cx="222.3" cy="444.0" r="0.9" fill="#45a045"/>
<circle cx="223.8" cy="445.7" r="0.9" fill="#45a045"/>
<circle cx="224.3" cy="446.0" r="0.9" fill="#45a045"/>
<circle cx="227.4" cy="449.8" r="0.9" fill="#bfe3b6"/>
<circle cx="224.8" cy="447.6" r="0.9" fill="#45a045"/>
<circle cx="221.5" cy="444.1" r="0.9" fill="#45a045"/>
<circle cx="224.1" cy="447.9" r="0.9" fill="#45a045"/>
<circle cx="223.0" cy="444.3" r="0.9" fill="#45a045"/>
<circle cx="221.7" cy="445.0" r="0.9" fill="#bfe3b6"/>
<circle cx="223.7" cy="445.0" r="0.9" fill="#d4d8d4"/>
<circle cx="223.9" cy="447.9" r="0.9" fill="#bfe3b6"/>
<circle cx="221.4" cy="443.8" r="0.9" fill="#86c878"/>
<circle cx="234.3" cy="439.8" r="0.9" fill="#45a045"/>
<circle cx="233.4" cy="442.2" r="0.9" fill="#86c878"/>
<circle cx="227.1" cy="449.7" r="0.9" fill="#45a045"/>
<circle cx="232.7" cy="443.6" r="0.9" fill="#d4d8d4"/>
<circle cx="229.9" cy="445.5" r="0.9" fill="#bfe3b6"/>
<circle cx="234.7" cy="439.2" r="0.9" fill="#45a045"/>
<circle cx="232.4" cy="442.9" r="0.9" fill="#bfe3b6"/>
<circle cx="228.7" cy="449.0" r="0.9" fill="#bfe3b6"/>
<circle cx="231.5" cy="444.0" r="0.9" fill="#45a045"/>
<circle cx="228.1" cy="449.7" r="0.9" fill="#45a045"/>
<circle cx="232.4" cy="443.3" r="0.9" fill="#86c878"/>
<circle cx="236.2" cy="436.6" r="0.9" fill="#45a045"/>
<circle cx="230.9" cy="446.4" r="0.9" fill="#45a045"/>
<circle cx="234.0" cy="439.8" r="0.9" fill="#86c878"/>
<circle cx="234.5" cy="440.9" r="0.9" fill="#86c878"/>
<circle cx="234.0" cy="442.5" r="0.9" fill="#d4d8d4"/>
<circle cx="234.5" cy="440.0" r="0.9" fill="#d4d8d4"/>
<circle cx="228.8" cy="449.2" r="0.9" fill="#86c878"/>
<circle cx="236.5" cy="437.1" r="0.9" fill="#45a045"/>
<circle cx="229.1" cy="448.8" r="0.9" fill="#45a045"/>
<circle cx="230.1" cy="445.9" r="0.9" fill="#45a045"/>
<circle cx="234.7" cy="440.7" r="0.9" fill="#45a045"/>
<circle cx="174.3" cy="427.8" r="0.9" fill="#9ccf8a"/>
<circle cx="172.7" cy="427.2" r="0.9" fill="#9ccf8a"/>
<circle cx="180.4" cy="429.1" r="0.9" fill="#9ccf8a"/>
<circle cx="175.1" cy="427.2" r="0.9" fill="#d6d6d6"/>
<circle cx="176.1" cy="426.1" r="0.9" fill="#9ccf8a"/>
<circle cx="173.7" cy="429.2" r="0.9" fill="#c8d8c4"/>
<circle cx="182.4" cy="428.9" r="0.9" fill="#c8d8c4"/>
<circle cx="179.4" cy="427.7" r="0.9" fill="#9ccf8a"/>
<circle cx="178.3" cy="427.4" r="0.9" fill="#9ccf8a"/>
<circle cx="174.2" cy="430.7" r="0.9" fill="#9ccf8a"/>
<circle cx="178.7" cy="427.3" r="0.9" fill="#9ccf8a"/>
<circle cx="177.4" cy="427.1" r="0.9" fill="#d6d6d6"/>
<circle cx="177.7" cy="425.6" r="0.9" fill="#c8d8c4"/>
<circle cx="174.1" cy="426.5" r="0.9" fill="#9ccf8a"/>
<circle cx="179.7" cy="427.0" r="0.9" fill="#9ccf8a"/>
<circle cx="174.4" cy="426.5" r="0.9" fill="#c8d8c4"/>
<circle cx="176.1" cy="426.4" r="0.9" fill="#d6d6d6"/>
<circle cx="177.0" cy="425.1" r="0.9" fill="#c8d8c4"/>
<circle cx="175.4" cy="427.1" r="0.9" fill="#d6d6d6"/>
<circle cx="169.1" cy="430.1" r="0.9" fill="#d6d6d6"/>
<circle cx="179.9" cy="426.4" r="0.9" fill="#d6d6d6"/>
<circle cx="179.0" cy="425.8" r="0.9" fill="#9ccf8a"/>
<circle cx="176.3" cy="428.0" r="0.9" fill="#9ccf8a"/>
<circle cx="178.6" cy="426.1" r="0.9" fill="#c8d8c4"/>
<circle cx="180.3" cy="428.8" r="0.9" fill="#9ccf8a"/>
<circle cx="179.7" cy="424.9" r="0.9" fill="#9ccf8a"/>
<circle cx="180.1" cy="435.0" r="0.9" fill="#c8d8c4"/>
<circle cx="171.4" cy="431.4" r="0.9" fill="#d6d6d6"/>
<circle cx="182.7" cy="430.4" r="0.9" fill="#c8d8c4"/>
<circle cx="175.6" cy="435.0" r="0.9" fill="#c8d8c4"/>
<circle cx="179.7" cy="430.7" r="0.9" fill="#c8d8c4"/>
<circle cx="186.3" cy="434.5" r="0.9" fill="#c8d8c4"/>
<circle cx="182.4" cy="435.1" r="0.9" fill="#d6d6d6"/>
<circle cx="185.8" cy="434.1" r="0.9" fill="#c8d8c4"/>
<circle cx="180.9" cy="432.3" r="0.9" fill="#9ccf8a"/>
<circle cx="182.6" cy="434.0" r="0.9" fill="#d6d6d6"/>
<circle cx="185.7" cy="432.8" r="0.9" fill="#9ccf8a"/>
<circle cx="170.2" cy="430.9" r="0.9" fill="#d6d6d6"/>
<circle cx="177.2" cy="441.7" r="0.9" fill="#9ccf8a"/>
<circle cx="182.7" cy="452.2" r="0.9" fill="#9ccf8a"/>
<circle cx="197.7" cy="440.5" r="0.9" fill="#9ccf8a"/>
<circle cx="188.8" cy="438.3" r="0.9" fill="#c8d8c4"/>
<circle cx="188.3" cy="444.7" r="0.9" fill="#d6d6d6"/>
<circle cx="200.5" cy="438.8" r="0.9" fill="#9ccf8a"/>
<circle cx="193.9" cy="446.5" r="0.9" fill="#9ccf8a"/>
<circle cx="189.2" cy="450.2" r="0.9" fill="#d6d6d6"/>
<circle cx="173.7" cy="447.1" r="0.9" fill="#c8d8c4"/>
<circle cx="191.8" cy="449.2" r="0.9" fill="#c8d8c4"/>
<circle cx="193.3" cy="436.2" r="0.9" fill="#9ccf8a"/>
<circle cx="194.8" cy="436.7" r="0.9" fill="#c8d8c4"/>
<circle cx="192.3" cy="437.2" r="0.9" fill="#9ccf8a"/>
<circle cx="196.8" cy="437.7" r="0.9" fill="#d6d6d6"/>
<circle cx="203.8" cy="426.2" r="0.9" fill="#9ccf8a"/>
<circle cx="199.8" cy="450.7" r="0.9" fill="#c8d8c4"/>
<circle cx="201.3" cy="451.2" r="0.9" fill="#9ccf8a"/>
<circle cx="200.3" cy="452.2" r="0.9" fill="#9ccf8a"/>
<circle cx="183.3" cy="451.2" r="0.9" fill="#d6d6d6"/>
<circle cx="185.3" cy="451.7" r="0.9" fill="#d6d6d6"/>
<circle cx="184.3" cy="452.7" r="0.9" fill="#d6d6d6"/>
<circle cx="169.8" cy="439.7" r="0.9" fill="#c8d8c4"/>
<circle cx="170.3" cy="433.2" r="0.9" fill="#c8d8c4"/>
<circle cx="199.6" cy="459.4" r="0.9" fill="#d4d4d4"/>
<circle cx="204.2" cy="464.8" r="0.9" fill="#d4d4d4"/>
<circle cx="200.9" cy="460.8" r="0.9" fill="#d4d4d4"/>
<circle cx="199.6" cy="459.6" r="0.9" fill="#d4d4d4"/>
<circle cx="201.0" cy="460.8" r="0.9" fill="#d4d4d4"/>
<circle cx="198.8" cy="459.4" r="0.9" fill="#d4d4d4"/>
<circle cx="203.9" cy="464.4" r="0.9" fill="#d4d4d4"/>
<circle cx="199.6" cy="461.1" r="0.9" fill="#d4d4d4"/>
<circle cx="205.1" cy="465.9" r="0.9" fill="#d4d4d4"/>
<circle cx="202.3" cy="462.3" r="0.9" fill="#d4d4d4"/>
<circle cx="202.6" cy="462.4" r="0.9" fill="#d4d4d4"/>
<circle cx="204.0" cy="463.9" r="0.9" fill="#d4d4d4"/>
<circle cx="201.9" cy="462.8" r="0.9" fill="#d4d4d4"/>
<circle cx="202.2" cy="461.9" r="0.9" fill="#d4d4d4"/>
<circle cx="202.7" cy="464.3" r="0.9" fill="#d4d4d4"/>
<circle cx="203.9" cy="465.3" r="0.9" fill="#d4d4d4"/>
<circle cx="199.4" cy="459.6" r="0.9" fill="#d4d4d4"/>
<circle cx="198.7" cy="459.0" r="0.9" fill="#d4d4d4"/>
<circle cx="202.7" cy="462.8" r="0.9" fill="#d4d4d4"/>
<circle cx="199.8" cy="459.6" r="0.9" fill="#d4d4d4"/>
<circle cx="201.0" cy="460.8" r="0.9" fill="#d4d4d4"/>
<circle cx="200.6" cy="460.3" r="0.9" fill="#d4d4d4"/>
<circle cx="205.8" cy="466.6" r="0.9" fill="#d4d4d4"/>
<circle cx="202.6" cy="463.7" r="0.9" fill="#d4d4d4"/>
<circle cx="204.4" cy="464.7" r="0.9" fill="#d4d4d4"/>
<circle cx="202.0" cy="463.0" r="0.9" fill="#d4d4d4"/>
<circle cx="204.0" cy="465.3" r="0.9" fill="#d4d4d4"/>
<circle cx="204.8" cy="465.3" r="0.9" fill="#d4d4d4"/>
<circle cx="199.3" cy="459.1" r="0.9" fill="#d4d4d4"/>
<circle cx="205.7" cy="466.1" r="0.9" fill="#d4d4d4"/>
<circle cx="198.5" cy="458.8" r="0.9" fill="#d4d4d4"/>
<circle cx="201.7" cy="461.9" r="0.9" fill="#d4d4d4"/>
<circle cx="200.3" cy="461.2" r="0.9" fill="#d4d4d4"/>
<circle cx="203.2" cy="463.5" r="0.9" fill="#d4d4d4"/>
<circle cx="206.5" cy="471.3" r="0.9" fill="#d4d4d4"/>
<circle cx="207.1" cy="467.5" r="0.9" fill="#d4d4d4"/>
<circle cx="207.4" cy="469.0" r="0.9" fill="#d4d4d4"/>
<circle cx="213.6" cy="468.2" r="0.9" fill="#d4d4d4"/>
<circle cx="212.1" cy="469.4" r="0.9" fill="#d4d4d4"/>
<circle cx="213.8" cy="468.4" r="0.9" fill="#d4d4d4"/>
<circle cx="212.6" cy="469.0" r="0.9" fill="#d4d4d4"/>
<circle cx="206.6" cy="470.5" r="0.9" fill="#d4d4d4"/>
<circle cx="211.3" cy="471.7" r="0.9" fill="#d4d4d4"/>
<circle cx="212.0" cy="471.0" r="0.9" fill="#d4d4d4"/>
<circle cx="214.7" cy="470.5" r="0.9" fill="#d4d4d4"/>
<circle cx="204.5" cy="471.5" r="0.9" fill="#d4d4d4"/>
<circle cx="208.5" cy="470.6" r="0.9" fill="#d4d4d4"/>
<circle cx="214.4" cy="470.3" r="0.9" fill="#d4d4d4"/>
<circle cx="209.3" cy="468.0" r="0.9" fill="#d4d4d4"/>
<circle cx="212.9" cy="473.9" r="0.9" fill="#d4d4d4"/>
<circle cx="214.1" cy="470.9" r="0.9" fill="#d4d4d4"/>
<circle cx="212.0" cy="467.2" r="0.9" fill="#d4d4d4"/>
<circle cx="207.5" cy="467.9" r="0.9" fill="#d4d4d4"/>
<circle cx="206.4" cy="473.5" r="0.9" fill="#d4d4d4"/>
<circle cx="207.2" cy="473.2" r="0.9" fill="#d4d4d4"/>
<circle cx="211.8" cy="472.8" r="0.9" fill="#d4d4d4"/>
<circle cx="208.6" cy="470.7" r="0.9" fill="#d4d4d4"/>
<circle cx="212.4" cy="468.6" r="0.9" fill="#d4d4d4"/>
<circle cx="211.3" cy="467.6" r="0.9" fill="#d4d4d4"/>
<circle cx="205.3" cy="473.4" r="0.9" fill="#d4d4d4"/>
<circle cx="208.7" cy="471.2" r="0.9" fill="#d4d4d4"/>
<circle cx="210.3" cy="472.5" r="0.9" fill="#d4d4d4"/>
<circle cx="206.5" cy="473.5" r="0.9" fill="#d4d4d4"/>
<circle cx="204.4" cy="470.1" r="0.9" fill="#d4d4d4"/>
<circle cx="204.3" cy="471.4" r="0.9" fill="#d4d4d4"/>
<circle cx="210.4" cy="470.8" r="0.9" fill="#d4d4d4"/>
<circle cx="205.2" cy="468.8" r="0.9" fill="#d4d4d4"/>
<circle cx="209.9" cy="474.1" r="0.9" fill="#d4d4d4"/>
<circle cx="210.0" cy="470.2" r="0.9" fill="#d4d4d4"/>
<circle cx="209.3" cy="474.1" r="0.9" fill="#d4d4d4"/>
<circle cx="208.4" cy="474.2" r="0.9" fill="#d4d4d4"/>
<circle cx="213.3" cy="473.6" r="0.9" fill="#d4d4d4"/>
<circle cx="211.7" cy="469.8" r="0.9" fill="#d4d4d4"/>
<circle cx="208.3" cy="474.8" r="0.9" fill="#d4d4d4"/>
<circle cx="208.2" cy="472.7" r="0.9" fill="#d4d4d4"/>
<circle cx="210.3" cy="472.4" r="0.9" fill="#d4d4d4"/>
<circle cx="205.6" cy="471.1" r="0.9" fill="#d4d4d4"/>
<circle cx="212.8" cy="467.6" r="0.9" fill="#d4d4d4"/>
<circle cx="212.1" cy="471.2" r="0.9" fill="#d4d4d4"/>
<circle cx="207.8" cy="468.2" r="0.9" fill="#d4d4d4"/>
<circle cx="213.8" cy="469.8" r="0.9" fill="#d4d4d4"/>
<circle cx="212.9" cy="469.6" r="0.9" fill="#d4d4d4"/>
<circle cx="207.1" cy="474.2" r="0.9" fill="#d4d4d4"/>
<circle cx="207.4" cy="471.8" r="0.9" fill="#d4d4d4"/>
<circle cx="207.5" cy="468.5" r="0.9" fill="#d4d4d4"/>
<circle cx="211.9" cy="467.6" r="0.9" fill="#d4d4d4"/>
<circle cx="211.4" cy="469.9" r="0.9" fill="#d4d4d4"/>
<circle cx="212.0" cy="473.8" r="0.9" fill="#d4d4d4"/>
<circle cx="208.7" cy="466.8" r="0.9" fill="#d4d4d4"/>
<circle cx="213.1" cy="470.4" r="0.9" fill="#d4d4d4"/>
<circle cx="207.2" cy="473.0" r="0.9" fill="#d4d4d4"/>
<circle cx="215.2" cy="471.4" r="0.9" fill="#d4d4d4"/>
<circle cx="210.5" cy="466.7" r="0.9" fill="#d4d4d4"/>
<circle cx="205.9" cy="472.3" r="0.9" fill="#d4d4d4"/>
<circle cx="212.7" cy="467.3" r="0.9" fill="#d4d4d4"/>
<circle cx="212.1" cy="471.8" r="0.9" fill="#d4d4d4"/>
<circle cx="205.7" cy="473.6" r="0.9" fill="#d4d4d4"/>
<circle cx="210.6" cy="470.5" r="0.9" fill="#d4d4d4"/>
<circle cx="206.5" cy="471.8" r="0.9" fill="#d4d4d4"/>
<circle cx="215.2" cy="471.3" r="0.9" fill="#d4d4d4"/>
<circle cx="208.2" cy="471.1" r="0.9" fill="#d4d4d4"/>
<circle cx="206.7" cy="470.8" r="0.9" fill="#d4d4d4"/>
<circle cx="209.4" cy="474.4" r="0.9" fill="#d4d4d4"/>
<circle cx="208.1" cy="469.8" r="0.9" fill="#d4d4d4"/>
<circle cx="210.8" cy="469.8" r="0.9" fill="#d4d4d4"/>
<circle cx="207.6" cy="469.4" r="0.9" fill="#d4d4d4"/>
<circle cx="209.8" cy="472.4" r="0.9" fill="#d4d4d4"/>
<circle cx="206.6" cy="474.2" r="0.9" fill="#d4d4d4"/>
<circle cx="211.6" cy="470.6" r="0.9" fill="#d4d4d4"/>
<circle cx="212.7" cy="470.6" r="0.9" fill="#d4d4d4"/>
<circle cx="210.3" cy="472.3" r="0.9" fill="#d4d4d4"/>
<circle cx="213.2" cy="469.7" r="0.9" fill="#d4d4d4"/>
<circle cx="206.3" cy="473.0" r="0.9" fill="#d4d4d4"/>
<circle cx="209.9" cy="469.3" r="0.9" fill="#d4d4d4"/>
<circle cx="212.0" cy="472.0" r="0.9" fill="#d4d4d4"/>
<circle cx="210.2" cy="468.2" r="0.9" fill="#d4d4d4"/>
<circle cx="212.1" cy="474.1" r="0.9" fill="#d4d4d4"/>
<circle cx="210.1" cy="474.2" r="0.9" fill="#d4d4d4"/>
<circle cx="208.5" cy="469.3" r="0.9" fill="#d4d4d4"/>
<circle cx="215.1" cy="468.7" r="0.9" fill="#d4d4d4"/>
<circle cx="214.3" cy="467.8" r="0.9" fill="#d4d4d4"/>
<circle cx="215.8" cy="467.8" r="0.9" fill="#d4d4d4"/>
<circle cx="215.8" cy="468.1" r="0.9" fill="#d4d4d4"/>
<circle cx="214.0" cy="467.0" r="0.9" fill="#d4d4d4"/>
<circle cx="215.1" cy="466.2" r="0.9" fill="#d4d4d4"/>
<circle cx="213.8" cy="466.5" r="0.9" fill="#d4d4d4"/>
<circle cx="214.9" cy="467.2" r="0.9" fill="#d4d4d4"/>
<circle cx="373.0" cy="416.7" r="0.9" fill="#a82018"/>
<circle cx="365.9" cy="432.0" r="0.9" fill="#e8cc40"/>
<circle cx="369.3" cy="416.8" r="0.9" fill="#a82018"/>
<circle cx="370.7" cy="416.8" r="0.9" fill="#d42a1e"/>
<circle cx="373.1" cy="427.9" r="0.9" fill="#a82018"/>
<circle cx="372.1" cy="433.6" r="0.9" fill="#d42a1e"/>
<circle cx="375.8" cy="431.2" r="0.9" fill="#e88030"/>
<circle cx="367.8" cy="418.2" r="0.9" fill="#d42a1e"/>
<circle cx="376.5" cy="429.2" r="0.9" fill="#e88030"/>
<circle cx="374.5" cy="427.7" r="0.9" fill="#a82018"/>
<circle cx="368.5" cy="428.1" r="0.9" fill="#e88030"/>
<circle cx="372.6" cy="434.7" r="0.9" fill="#d42a1e"/>
<circle cx="374.1" cy="417.2" r="0.9" fill="#a82018"/>
<circle cx="367.0" cy="417.9" r="0.9" fill="#a82018"/>
<circle cx="363.8" cy="422.2" r="0.9" fill="#e8cc40"/>
<circle cx="368.3" cy="424.2" r="0.9" fill="#a82018"/>
<circle cx="373.1" cy="429.3" r="0.9" fill="#d42a1e"/>
<circle cx="374.5" cy="419.7" r="0.9" fill="#e88030"/>
<circle cx="371.6" cy="430.9" r="0.9" fill="#e88030"/>
<circle cx="375.3" cy="421.1" r="0.9" fill="#d42a1e"/>
<circle cx="367.5" cy="422.0" r="0.9" fill="#a82018"/>
<circle cx="367.4" cy="430.3" r="0.9" fill="#e88030"/>
<circle cx="377.6" cy="426.1" r="0.9" fill="#a82018"/>
<circle cx="366.3" cy="428.3" r="0.9" fill="#a82018"/>
<circle cx="372.0" cy="435.5" r="0.9" fill="#e88030"/>
<circle cx="370.8" cy="418.2" r="0.9" fill="#d42a1e"/>
<circle cx="364.0" cy="429.7" r="0.9" fill="#9cc040"/>
<circle cx="369.3" cy="417.6" r="0.9" fill="#e88030"/>
<circle cx="373.7" cy="427.7" r="0.9" fill="#a82018"/>
<circle cx="373.0" cy="418.6" r="0.9" fill="#e8cc40"/>
<circle cx="369.8" cy="436.7" r="0.9" fill="#e88030"/>
<circle cx="366.6" cy="427.0" r="0.9" fill="#d42a1e"/>
<circle cx="367.2" cy="429.9" r="0.9" fill="#e8cc40"/>
<circle cx="364.7" cy="432.6" r="0.9" fill="#d42a1e"/>
<circle cx="375.3" cy="427.6" r="0.9" fill="#d42a1e"/>
<circle cx="376.2" cy="422.8" r="0.9" fill="#d42a1e"/>
<circle cx="363.6" cy="426.6" r="0.9" fill="#d42a1e"/>
<circle cx="375.0" cy="432.7" r="0.9" fill="#d42a1e"/>
<circle cx="370.2" cy="428.0" r="0.9" fill="#a82018"/>
<circle cx="376.9" cy="425.3" r="0.9" fill="#a82018"/>
<circle cx="371.3" cy="431.9" r="0.9" fill="#a82018"/>
<circle cx="373.1" cy="425.6" r="0.9" fill="#d42a1e"/>
<circle cx="367.8" cy="428.8" r="0.9" fill="#a82018"/>
<circle cx="372.8" cy="421.1" r="0.9" fill="#a82018"/>
<circle cx="366.1" cy="430.6" r="0.9" fill="#a82018"/>
<circle cx="371.8" cy="426.4" r="0.9" fill="#9cc040"/>
<circle cx="375.8" cy="420.3" r="0.9" fill="#d42a1e"/>
<circle cx="369.4" cy="425.3" r="0.9" fill="#e8cc40"/>
<circle cx="374.5" cy="430.7" r="0.9" fill="#a82018"/>
<circle cx="363.8" cy="424.9" r="0.9" fill="#e88030"/>
<circle cx="376.7" cy="421.5" r="0.9" fill="#d42a1e"/>
<circle cx="369.7" cy="425.3" r="0.9" fill="#a82018"/>
<circle cx="369.6" cy="434.7" r="0.9" fill="#d42a1e"/>
<circle cx="364.9" cy="426.6" r="0.9" fill="#a82018"/>
<circle cx="368.9" cy="417.5" r="0.9" fill="#e88030"/>
<circle cx="375.4" cy="426.0" r="0.9" fill="#e8cc40"/>
<circle cx="371.5" cy="431.6" r="0.9" fill="#d42a1e"/>
<circle cx="371.9" cy="427.9" r="0.9" fill="#9cc040"/>
<circle cx="370.6" cy="434.5" r="0.9" fill="#d42a1e"/>
<circle cx="365.3" cy="429.0" r="0.9" fill="#e8cc40"/>
<circle cx="366.1" cy="418.8" r="0.9" fill="#e88030"/>
<circle cx="366.3" cy="429.0" r="0.9" fill="#e8cc40"/>
<circle cx="369.2" cy="428.7" r="0.9" fill="#d42a1e"/>
<circle cx="374.3" cy="421.3" r="0.9" fill="#e88030"/>
<circle cx="373.5" cy="422.6" r="0.9" fill="#e88030"/>
<circle cx="374.9" cy="417.8" r="0.9" fill="#e8cc40"/>
<circle cx="368.4" cy="419.6" r="0.9" fill="#e88030"/>
<circle cx="374.1" cy="429.4" r="0.9" fill="#a82018"/>
<circle cx="376.0" cy="422.6" r="0.9" fill="#e8cc40"/>
<circle cx="371.5" cy="422.1" r="0.9" fill="#e8cc40"/>
<circle cx="374.3" cy="420.6" r="0.9" fill="#e8cc40"/>
<circle cx="366.6" cy="426.7" r="0.9" fill="#a82018"/>
<circle cx="369.3" cy="422.1" r="0.9" fill="#d42a1e"/>
<circle cx="375.2" cy="429.9" r="0.9" fill="#a82018"/>
<circle cx="374.7" cy="428.1" r="0.9" fill="#e8cc40"/>
<circle cx="371.4" cy="434.1" r="0.9" fill="#d42a1e"/>
<circle cx="367.3" cy="435.5" r="0.9" fill="#9cc040"/>
<circle cx="365.7" cy="421.6" r="0.9" fill="#d42a1e"/>
<circle cx="375.4" cy="435.2" r="0.9" fill="#e8cc40"/>
<circle cx="372.7" cy="419.5" r="0.9" fill="#a82018"/>
<circle cx="367.7" cy="436.2" r="0.9" fill="#e88030"/>
<circle cx="376.8" cy="433.6" r="0.9" fill="#a82018"/>
<circle cx="375.5" cy="418.5" r="0.9" fill="#e88030"/>
<circle cx="376.7" cy="421.0" r="0.9" fill="#e88030"/>
<circle cx="369.9" cy="422.8" r="0.9" fill="#9cc040"/>
<circle cx="365.4" cy="423.3" r="0.9" fill="#e88030"/>
<circle cx="373.0" cy="424.8" r="0.9" fill="#a82018"/>
<circle cx="371.2" cy="436.4" r="0.9" fill="#d42a1e"/>
<circle cx="363.9" cy="425.5" r="0.9" fill="#9cc040"/>
<circle cx="367.4" cy="429.2" r="0.9" fill="#d42a1e"/>
<circle cx="368.6" cy="428.6" r="0.9" fill="#a82018"/>
<circle cx="377.8" cy="427.8" r="0.9" fill="#9cc040"/>
<circle cx="374.7" cy="430.6" r="0.9" fill="#e88030"/>
<circle cx="367.7" cy="422.9" r="0.9" fill="#e88030"/>
<circle cx="374.3" cy="422.7" r="0.9" fill="#e88030"/>
<circle cx="369.0" cy="424.9" r="0.9" fill="#a82018"/>
<circle cx="364.3" cy="425.2" r="0.9" fill="#a82018"/>
<circle cx="373.6" cy="435.6" r="0.9" fill="#e8cc40"/>
<circle cx="367.2" cy="428.0" r="0.9" fill="#d42a1e"/>
<circle cx="367.0" cy="425.4" r="0.9" fill="#d42a1e"/>
<circle cx="373.2" cy="426.2" r="0.9" fill="#e8cc40"/>
<circle cx="365.7" cy="426.4" r="0.9" fill="#a82018"/>
<circle cx="375.6" cy="419.8" r="0.9" fill="#d42a1e"/>
<circle cx="370.9" cy="429.8" r="0.9" fill="#e88030"/>
<circle cx="376.0" cy="432.3" r="0.9" fill="#e8cc40"/>
<circle cx="365.9" cy="420.5" r="0.9" fill="#d42a1e"/>
<circle cx="366.3" cy="426.4" r="0.9" fill="#e88030"/>
<circle cx="363.3" cy="425.1" r="0.9" fill="#e8cc40"/>
<circle cx="365.4" cy="431.2" r="0.9" fill="#e8cc40"/>
<circle cx="366.2" cy="430.3" r="0.9" fill="#d42a1e"/>
<circle cx="374.9" cy="432.8" r="0.9" fill="#d42a1e"/>
<circle cx="369.3" cy="420.0" r="0.9" fill="#a82018"/>
<circle cx="370.9" cy="417.3" r="0.9" fill="#a82018"/>
<circle cx="376.5" cy="426.0" r="0.9" fill="#e88030"/>
<circle cx="372.2" cy="436.6" r="0.9" fill="#e88030"/>
<circle cx="372.5" cy="431.7" r="0.9" fill="#d42a1e"/>
<circle cx="376.2" cy="428.0" r="0.9" fill="#e88030"/>
<circle cx="374.7" cy="426.4" r="0.9" fill="#a82018"/>
<circle cx="366.3" cy="429.9" r="0.9" fill="#9cc040"/>
<circle cx="371.0" cy="429.7" r="0.9" fill="#a82018"/>
<circle cx="366.7" cy="423.1" r="0.9" fill="#d42a1e"/>
<circle cx="364.5" cy="421.2" r="0.9" fill="#e8cc40"/>
<circle cx="374.1" cy="417.6" r="0.9" fill="#e8cc40"/>
<circle cx="371.3" cy="425.1" r="0.9" fill="#a82018"/>
<circle cx="369.2" cy="435.7" r="0.9" fill="#d42a1e"/>
<circle cx="373.9" cy="434.6" r="0.9" fill="#9cc040"/>
<circle cx="368.1" cy="432.4" r="0.9" fill="#e88030"/>
<circle cx="378.3" cy="425.2" r="0.9" fill="#9cc040"/>
<circle cx="371.4" cy="429.2" r="0.9" fill="#a82018"/>
<circle cx="365.8" cy="425.6" r="0.9" fill="#d42a1e"/>
<circle cx="367.8" cy="430.8" r="0.9" fill="#e8cc40"/>
<circle cx="364.9" cy="426.2" r="0.9" fill="#d42a1e"/>
<circle cx="372.7" cy="416.8" r="0.9" fill="#e88030"/>
<circle cx="371.7" cy="416.8" r="0.9" fill="#e8cc40"/>
<circle cx="364.4" cy="426.1" r="0.9" fill="#d42a1e"/>
<circle cx="368.5" cy="420.8" r="0.9" fill="#e88030"/>
<circle cx="375.0" cy="424.4" r="0.9" fill="#9cc040"/>
<circle cx="376.2" cy="421.6" r="0.9" fill="#d42a1e"/>
<circle cx="373.2" cy="433.0" r="0.9" fill="#e8cc40"/>
<circle cx="373.5" cy="428.3" r="0.9" fill="#a82018"/>
<circle cx="374.0" cy="432.7" r="0.9" fill="#d42a1e"/>
<circle cx="372.4" cy="432.3" r="0.9" fill="#d42a1e"/>
<circle cx="367.4" cy="430.8" r="0.9" fill="#a82018"/>
<circle cx="368.8" cy="431.6" r="0.9" fill="#d42a1e"/>
<circle cx="373.8" cy="429.7" r="0.9" fill="#d42a1e"/>
<circle cx="375.2" cy="434.5" r="0.9" fill="#e8cc40"/>
<circle cx="375.4" cy="423.7" r="0.9" fill="#e8cc40"/>
<circle cx="368.4" cy="427.1" r="0.9" fill="#e88030"/>
<circle cx="376.5" cy="433.9" r="0.9" fill="#d42a1e"/>
<circle cx="376.2" cy="431.4" r="0.9" fill="#e8cc40"/>
<circle cx="366.7" cy="433.6" r="0.9" fill="#d42a1e"/>
<circle cx="370.3" cy="425.6" r="0.9" fill="#9cc040"/>
<circle cx="366.7" cy="434.5" r="0.9" fill="#e88030"/>
<circle cx="366.2" cy="426.2" r="0.9" fill="#e8cc40"/>
<circle cx="368.5" cy="416.8" r="0.9" fill="#e88030"/>
<circle cx="365.2" cy="420.8" r="0.9" fill="#9cc040"/>
<circle cx="367.9" cy="435.1" r="0.9" fill="#9cc040"/>
<circle cx="374.3" cy="426.7" r="0.9" fill="#9cc040"/>
<circle cx="373.8" cy="430.1" r="0.9" fill="#e8cc40"/>
<circle cx="365.9" cy="431.1" r="0.9" fill="#e88030"/>
<circle cx="372.0" cy="426.4" r="0.9" fill="#d42a1e"/>
<circle cx="369.3" cy="432.2" r="0.9" fill="#e88030"/>
<circle cx="374.0" cy="422.0" r="0.9" fill="#a82018"/>
<circle cx="364.1" cy="427.7" r="0.9" fill="#9cc040"/>
<circle cx="365.2" cy="420.9" r="0.9" fill="#e8cc40"/>
<circle cx="371.0" cy="422.3" r="0.9" fill="#d42a1e"/>
<circle cx="365.4" cy="421.1" r="0.9" fill="#d42a1e"/>
<circle cx="371.5" cy="431.2" r="0.9" fill="#d42a1e"/>
<circle cx="376.9" cy="426.8" r="0.9" fill="#e88030"/>
<circle cx="371.9" cy="426.3" r="0.9" fill="#e8cc40"/>
<circle cx="378.1" cy="426.5" r="0.9" fill="#e88030"/>
<circle cx="368.9" cy="417.8" r="0.9" fill="#e8cc40"/>
<circle cx="371.7" cy="422.7" r="0.9" fill="#a82018"/>
<circle cx="372.4" cy="433.2" r="0.9" fill="#a82018"/>
<circle cx="371.0" cy="425.9" r="0.9" fill="#e8cc40"/>
<circle cx="367.3" cy="429.6" r="0.9" fill="#e8cc40"/>
<circle cx="365.6" cy="420.7" r="0.9" fill="#e8cc40"/>
<circle cx="369.8" cy="429.0" r="0.9" fill="#a82018"/>
<circle cx="366.0" cy="431.4" r="0.9" fill="#9cc040"/>
<circle cx="369.8" cy="431.0" r="0.9" fill="#a82018"/>
<circle cx="375.5" cy="429.6" r="0.9" fill="#e8cc40"/>
<circle cx="378.0" cy="425.3" r="0.9" fill="#d42a1e"/>
<circle cx="373.1" cy="435.7" r="0.9" fill="#e88030"/>
<circle cx="367.3" cy="432.3" r="0.9" fill="#d42a1e"/>
<circle cx="367.0" cy="418.9" r="0.9" fill="#e8cc40"/>
<circle cx="370.6" cy="426.8" r="0.9" fill="#d42a1e"/>
<circle cx="367.6" cy="421.6" r="0.9" fill="#d42a1e"/>
<circle cx="371.9" cy="436.6" r="0.9" fill="#a82018"/>
<circle cx="373.5" cy="422.0" r="0.9" fill="#d42a1e"/>
<circle cx="375.0" cy="426.3" r="0.9" fill="#e8cc40"/>
<circle cx="372.1" cy="429.8" r="0.9" fill="#e8cc40"/>
<circle cx="363.7" cy="423.7" r="0.9" fill="#e88030"/>
<circle cx="373.5" cy="434.6" r="0.9" fill="#e88030"/>
<circle cx="373.9" cy="422.4" r="0.9" fill="#a82018"/>
<circle cx="375.9" cy="428.0" r="0.9" fill="#e8cc40"/>
<circle cx="367.4" cy="423.2" r="0.9" fill="#a82018"/>
<circle cx="369.0" cy="427.3" r="0.9" fill="#a82018"/>
<circle cx="373.3" cy="427.9" r="0.9" fill="#e8cc40"/>
<circle cx="365.3" cy="424.0" r="0.9" fill="#9cc040"/>
<circle cx="372.7" cy="432.5" r="0.9" fill="#a82018"/>
<circle cx="371.4" cy="436.1" r="0.9" fill="#e8cc40"/>
<circle cx="374.0" cy="418.8" r="0.9" fill="#a82018"/>
<circle cx="372.5" cy="421.3" r="0.9" fill="#d42a1e"/>
<circle cx="371.5" cy="428.1" r="0.9" fill="#d42a1e"/>
<circle cx="369.9" cy="418.7" r="0.9" fill="#e88030"/>
<circle cx="370.6" cy="431.6" r="0.9" fill="#d42a1e"/>
<circle cx="366.7" cy="434.1" r="0.9" fill="#a82018"/>
<circle cx="366.2" cy="428.1" r="0.9" fill="#e88030"/>
<circle cx="377.8" cy="427.1" r="0.9" fill="#e88030"/>
<circle cx="376.8" cy="422.1" r="0.9" fill="#9cc040"/>
<circle cx="369.2" cy="436.3" r="0.9" fill="#d42a1e"/>
<circle cx="376.0" cy="422.3" r="0.9" fill="#a82018"/>
<circle cx="370.4" cy="419.4" r="0.9" fill="#d42a1e"/>
<circle cx="368.0" cy="428.1" r="0.9" fill="#d42a1e"/>
<circle cx="369.8" cy="423.1" r="0.9" fill="#d42a1e"/>
<circle cx="374.0" cy="428.5" r="0.9" fill="#a82018"/>
<circle cx="374.8" cy="431.4" r="0.9" fill="#e88030"/>
<circle cx="368.7" cy="430.5" r="0.9" fill="#e88030"/>
<circle cx="378.8" cy="426.8" r="0.9" fill="#d42a1e"/>
<circle cx="370.6" cy="428.9" r="0.9" fill="#e88030"/>
<circle cx="377.0" cy="425.7" r="0.9" fill="#d42a1e"/>
<circle cx="369.9" cy="431.7" r="0.9" fill="#e8cc40"/>
<circle cx="373.2" cy="419.5" r="0.9" fill="#e8cc40"/>
<circle cx="373.9" cy="430.2" r="0.9" fill="#e88030"/>
<circle cx="368.6" cy="423.0" r="0.9" fill="#9cc040"/>
<circle cx="375.0" cy="435.0" r="0.9" fill="#d42a1e"/>
<circle cx="374.8" cy="425.5" r="0.9" fill="#d42a1e"/>
<circle cx="372.9" cy="435.0" r="0.9" fill="#e8cc40"/>
<circle cx="373.9" cy="435.6" r="0.9" fill="#d42a1e"/>
<circle cx="375.6" cy="422.5" r="0.9" fill="#e88030"/>
<circle cx="364.6" cy="427.6" r="0.9" fill="#d42a1e"/>
<circle cx="375.6" cy="419.9" r="0.9" fill="#d42a1e"/>
<circle cx="376.9" cy="429.5" r="0.9" fill="#a82018"/>
<circle cx="369.9" cy="421.7" r="0.9" fill="#a82018"/>
<circle cx="377.4" cy="430.8" r="0.9" fill="#d42a1e"/>
<circle cx="357.2" cy="419.3" r="0.9" fill="#e8cc40"/>
<circle cx="356.7" cy="420.6" r="0.9" fill="#d42a1e"/>
<circle cx="356.5" cy="417.8" r="0.9" fill="#d42a1e"/>
<circle cx="360.5" cy="417.6" r="0.9" fill="#a82018"/>
<circle cx="360.4" cy="418.7" r="0.9" fill="#e8cc40"/>
<circle cx="361.3" cy="418.6" r="0.9" fill="#e8cc40"/>
<circle cx="364.2" cy="419.2" r="0.9" fill="#e8cc40"/>
<circle cx="356.3" cy="419.7" r="0.9" fill="#e8cc40"/>
<circle cx="362.1" cy="419.8" r="0.9" fill="#e8cc40"/>
<circle cx="364.9" cy="416.8" r="0.9" fill="#e8cc40"/>
<circle cx="360.0" cy="416.6" r="0.9" fill="#a82018"/>
<circle cx="361.6" cy="416.4" r="0.9" fill="#d42a1e"/>
<circle cx="365.7" cy="419.6" r="0.9" fill="#e88030"/>
<circle cx="355.2" cy="419.3" r="0.9" fill="#e88030"/>
<circle cx="361.9" cy="416.3" r="0.9" fill="#a82018"/>
<circle cx="353.7" cy="421.4" r="0.9" fill="#9cc040"/>
<circle cx="366.7" cy="419.0" r="0.9" fill="#e88030"/>
<circle cx="361.9" cy="418.2" r="0.9" fill="#e8cc40"/>
<circle cx="361.4" cy="418.7" r="0.9" fill="#e88030"/>
<circle cx="364.4" cy="416.4" r="0.9" fill="#d42a1e"/>
<circle cx="364.4" cy="419.8" r="0.9" fill="#a82018"/>
<circle cx="352.2" cy="421.8" r="0.9" fill="#e88030"/>
<circle cx="356.2" cy="421.1" r="0.9" fill="#e88030"/>
<circle cx="357.5" cy="420.6" r="0.9" fill="#d42a1e"/>
<circle cx="358.0" cy="420.0" r="0.9" fill="#a82018"/>
<circle cx="357.6" cy="417.3" r="0.9" fill="#e8cc40"/>
<circle cx="352.1" cy="419.3" r="0.9" fill="#a82018"/>
<circle cx="350.9" cy="419.6" r="0.9" fill="#a82018"/>
<circle cx="363.1" cy="418.8" r="0.9" fill="#d42a1e"/>
<circle cx="365.5" cy="417.1" r="0.9" fill="#d42a1e"/>
<circle cx="353.2" cy="419.5" r="0.9" fill="#e8cc40"/>
<circle cx="360.7" cy="416.1" r="0.9" fill="#9cc040"/>
<circle cx="353.7" cy="419.7" r="0.9" fill="#d42a1e"/>
<circle cx="361.9" cy="416.7" r="0.9" fill="#e88030"/>
<circle cx="355.0" cy="421.1" r="0.9" fill="#d42a1e"/>
<circle cx="363.2" cy="416.1" r="0.9" fill="#a82018"/>
<circle cx="353.6" cy="417.3" r="0.9" fill="#d42a1e"/>
<circle cx="362.3" cy="417.2" r="0.9" fill="#d42a1e"/>
<circle cx="351.9" cy="420.0" r="0.9" fill="#9cc040"/>
<circle cx="358.5" cy="418.9" r="0.9" fill="#d42a1e"/>
<circle cx="359.3" cy="416.5" r="0.9" fill="#9cc040"/>
<circle cx="364.1" cy="417.6" r="0.9" fill="#a82018"/>
<circle cx="351.5" cy="419.4" r="0.9" fill="#e8cc40"/>
<circle cx="359.0" cy="416.7" r="0.9" fill="#d42a1e"/>
<circle cx="359.2" cy="417.4" r="0.9" fill="#e8cc40"/>
<circle cx="358.8" cy="421.0" r="0.9" fill="#d42a1e"/>
<circle cx="357.8" cy="416.9" r="0.9" fill="#9cc040"/>
<circle cx="364.1" cy="419.2" r="0.9" fill="#9cc040"/>
<circle cx="353.8" cy="418.2" r="0.9" fill="#e88030"/>
<circle cx="357.5" cy="416.9" r="0.9" fill="#e8cc40"/>
<circle cx="360.7" cy="416.7" r="0.9" fill="#a82018"/>
<circle cx="352.3" cy="417.9" r="0.9" fill="#d42a1e"/>
<circle cx="362.6" cy="418.4" r="0.9" fill="#d42a1e"/>
<circle cx="359.0" cy="416.8" r="0.9" fill="#e88030"/>
<circle cx="361.4" cy="420.1" r="0.9" fill="#9cc040"/>
<circle cx="365.8" cy="416.9" r="0.9" fill="#d42a1e"/>
<circle cx="354.2" cy="418.1" r="0.9" fill="#d42a1e"/>
<circle cx="363.4" cy="419.1" r="0.9" fill="#d42a1e"/>
<circle cx="363.8" cy="420.3" r="0.9" fill="#e88030"/>
<circle cx="360.4" cy="416.2" r="0.9" fill="#a82018"/>
<circle cx="363.0" cy="416.4" r="0.9" fill="#9cc040"/>
<circle cx="355.1" cy="416.9" r="0.9" fill="#e88030"/>
<circle cx="359.2" cy="416.9" r="0.9" fill="#e8cc40"/>
<circle cx="351.5" cy="418.6" r="0.9" fill="#e8cc40"/>
<circle cx="355.6" cy="420.2" r="0.9" fill="#9cc040"/>
<circle cx="358.6" cy="416.4" r="0.9" fill="#d42a1e"/>
<circle cx="360.5" cy="417.4" r="0.9" fill="#e8cc40"/>
<circle cx="358.0" cy="417.7" r="0.9" fill="#9cc040"/>
<circle cx="352.2" cy="418.7" r="0.9" fill="#e8cc40"/>
<circle cx="358.5" cy="416.6" r="0.9" fill="#e88030"/>
<circle cx="358.1" cy="431.7" r="0.9" fill="#a82018"/>
<circle cx="352.9" cy="433.0" r="0.9" fill="#d42a1e"/>
<circle cx="360.1" cy="431.6" r="0.9" fill="#9cc040"/>
<circle cx="358.1" cy="433.6" r="0.9" fill="#d42a1e"/>
<circle cx="361.3" cy="430.0" r="0.9" fill="#a82018"/>
<circle cx="362.0" cy="431.9" r="0.9" fill="#9cc040"/>
<circle cx="356.1" cy="431.2" r="0.9" fill="#e88030"/>
<circle cx="361.4" cy="432.9" r="0.9" fill="#a82018"/>
<circle cx="353.1" cy="432.8" r="0.9" fill="#d42a1e"/>
<circle cx="357.7" cy="431.9" r="0.9" fill="#e88030"/>
<circle cx="355.1" cy="433.1" r="0.9" fill="#d42a1e"/>
<circle cx="358.3" cy="432.1" r="0.9" fill="#9cc040"/>
<circle cx="361.9" cy="430.9" r="0.9" fill="#d42a1e"/>
<circle cx="354.1" cy="434.3" r="0.9" fill="#e8cc40"/>
<circle cx="354.1" cy="433.4" r="0.9" fill="#9cc040"/>
<circle cx="360.6" cy="433.4" r="0.9" fill="#d42a1e"/>
<circle cx="359.4" cy="433.5" r="0.9" fill="#e8cc40"/>
<circle cx="352.8" cy="433.3" r="0.9" fill="#e88030"/>
<circle cx="354.3" cy="433.2" r="0.9" fill="#e88030"/>
<circle cx="356.4" cy="433.9" r="0.9" fill="#d42a1e"/>
<circle cx="362.5" cy="432.0" r="0.9" fill="#d42a1e"/>
<circle cx="357.2" cy="433.7" r="0.9" fill="#e88030"/>
<circle cx="357.4" cy="433.2" r="0.9" fill="#e88030"/>
<circle cx="356.8" cy="431.2" r="0.9" fill="#d42a1e"/>
<circle cx="362.2" cy="432.3" r="0.9" fill="#d42a1e"/>
<circle cx="353.3" cy="433.2" r="0.9" fill="#e8cc40"/>
<circle cx="357.4" cy="432.1" r="0.9" fill="#a82018"/>
<circle cx="356.3" cy="433.2" r="0.9" fill="#9cc040"/>
<circle cx="358.8" cy="430.8" r="0.9" fill="#e8cc40"/>
<circle cx="355.3" cy="433.7" r="0.9" fill="#a82018"/>
<circle cx="353.6" cy="442.4" r="0.9" fill="#d42a1e"/>
<circle cx="353.5" cy="438.5" r="0.9" fill="#e88030"/>
<circle cx="353.8" cy="439.5" r="0.9" fill="#e88030"/>
<circle cx="353.9" cy="441.9" r="0.9" fill="#e88030"/>
<circle cx="353.7" cy="441.2" r="0.9" fill="#e8cc40"/>
<circle cx="353.0" cy="438.3" r="0.9" fill="#d42a1e"/>
<circle cx="353.3" cy="436.9" r="0.9" fill="#a82018"/>
<circle cx="352.4" cy="437.1" r="0.9" fill="#d42a1e"/>
<circle cx="360.1" cy="450.2" r="0.9" fill="#d42a1e"/>
<circle cx="357.1" cy="444.9" r="0.9" fill="#e88030"/>
<circle cx="356.0" cy="445.2" r="0.9" fill="#e88030"/>
<circle cx="355.6" cy="444.3" r="0.9" fill="#e8cc40"/>
<circle cx="356.1" cy="444.5" r="0.9" fill="#9cc040"/>
<circle cx="357.6" cy="446.2" r="0.9" fill="#e88030"/>
<circle cx="358.1" cy="446.5" r="0.9" fill="#a82018"/>
<circle cx="361.2" cy="450.3" r="0.9" fill="#e88030"/>
<circle cx="358.6" cy="448.1" r="0.9" fill="#e88030"/>
<circle cx="355.3" cy="444.6" r="0.9" fill="#e88030"/>
<circle cx="357.9" cy="448.4" r="0.9" fill="#e88030"/>
<circle cx="356.8" cy="444.8" r="0.9" fill="#a82018"/>
<circle cx="355.5" cy="445.5" r="0.9" fill="#a82018"/>
<circle cx="357.5" cy="445.5" r="0.9" fill="#d42a1e"/>
<circle cx="357.7" cy="448.4" r="0.9" fill="#e88030"/>
<circle cx="355.2" cy="444.3" r="0.9" fill="#e8cc40"/>
<circle cx="368.1" cy="440.3" r="0.9" fill="#e88030"/>
<circle cx="367.2" cy="442.7" r="0.9" fill="#e8cc40"/>
<circle cx="360.9" cy="450.2" r="0.9" fill="#e88030"/>
<circle cx="366.5" cy="444.1" r="0.9" fill="#d42a1e"/>
<circle cx="363.7" cy="446.0" r="0.9" fill="#e8cc40"/>
<circle cx="368.5" cy="439.7" r="0.9" fill="#a82018"/>
<circle cx="366.2" cy="443.4" r="0.9" fill="#a82018"/>
<circle cx="362.5" cy="449.5" r="0.9" fill="#a82018"/>
<circle cx="365.3" cy="444.5" r="0.9" fill="#a82018"/>
<circle cx="361.9" cy="450.2" r="0.9" fill="#a82018"/>
<circle cx="366.2" cy="443.8" r="0.9" fill="#e8cc40"/>
<circle cx="370.0" cy="437.1" r="0.9" fill="#9cc040"/>
<circle cx="364.7" cy="446.9" r="0.9" fill="#9cc040"/>
<circle cx="367.8" cy="440.3" r="0.9" fill="#d42a1e"/>
<circle cx="368.3" cy="441.4" r="0.9" fill="#e8cc40"/>
<circle cx="367.8" cy="443.0" r="0.9" fill="#d42a1e"/>
<circle cx="368.3" cy="440.5" r="0.9" fill="#d42a1e"/>
<circle cx="362.6" cy="449.7" r="0.9" fill="#d42a1e"/>
<circle cx="370.3" cy="437.6" r="0.9" fill="#9cc040"/>
<circle cx="362.9" cy="449.3" r="0.9" fill="#e88030"/>
<circle cx="363.9" cy="446.4" r="0.9" fill="#e88030"/>
<circle cx="368.5" cy="441.2" r="0.9" fill="#a82018"/>
<circle cx="308.1" cy="428.3" r="0.9" fill="#e06040"/>
<circle cx="306.5" cy="427.7" r="0.9" fill="#d8c8c0"/>
<circle cx="314.2" cy="429.6" r="0.9" fill="#e06040"/>
<circle cx="308.9" cy="427.7" r="0.9" fill="#e03a2a"/>
<circle cx="309.9" cy="426.6" r="0.9" fill="#d8c8c0"/>
<circle cx="307.5" cy="429.7" r="0.9" fill="#f0a040"/>
<circle cx="316.2" cy="429.4" r="0.9" fill="#f0a040"/>
<circle cx="313.2" cy="428.2" r="0.9" fill="#e06040"/>
<circle cx="312.1" cy="427.9" r="0.9" fill="#d8c8c0"/>
<circle cx="308.0" cy="431.2" r="0.9" fill="#d8c8c0"/>
<circle cx="312.5" cy="427.8" r="0.9" fill="#d8c8c0"/>
<circle cx="311.2" cy="427.6" r="0.9" fill="#e03a2a"/>
<circle cx="311.5" cy="426.1" r="0.9" fill="#f0a040"/>
<circle cx="307.9" cy="427.0" r="0.9" fill="#d8c8c0"/>
<circle cx="313.5" cy="427.5" r="0.9" fill="#e06040"/>
<circle cx="308.2" cy="427.0" r="0.9" fill="#f0a040"/>
<circle cx="309.9" cy="426.9" r="0.9" fill="#e03a2a"/>
<circle cx="310.8" cy="425.6" r="0.9" fill="#f0a040"/>
<circle cx="309.2" cy="427.6" r="0.9" fill="#f0a040"/>
<circle cx="302.9" cy="430.6" r="0.9" fill="#f0a040"/>
<circle cx="313.7" cy="426.9" r="0.9" fill="#e03a2a"/>
<circle cx="312.8" cy="426.3" r="0.9" fill="#e06040"/>
<circle cx="310.1" cy="428.5" r="0.9" fill="#d8c8c0"/>
<circle cx="312.4" cy="426.6" r="0.9" fill="#f0a040"/>
<circle cx="314.1" cy="429.3" r="0.9" fill="#e06040"/>
<circle cx="313.5" cy="425.4" r="0.9" fill="#e06040"/>
<circle cx="313.9" cy="435.5" r="0.9" fill="#d8c8c0"/>
<circle cx="305.2" cy="431.9" r="0.9" fill="#e03a2a"/>
<circle cx="316.5" cy="430.9" r="0.9" fill="#d8c8c0"/>
<circle cx="309.4" cy="435.5" r="0.9" fill="#d8c8c0"/>
<circle cx="313.5" cy="431.2" r="0.9" fill="#f0a040"/>
<circle cx="320.1" cy="435.0" r="0.9" fill="#d8c8c0"/>
<circle cx="316.2" cy="435.6" r="0.9" fill="#e03a2a"/>
<circle cx="319.6" cy="434.6" r="0.9" fill="#f0a040"/>
<circle cx="314.7" cy="432.8" r="0.9" fill="#e06040"/>
<circle cx="316.4" cy="434.5" r="0.9" fill="#e03a2a"/>
<circle cx="319.5" cy="433.3" r="0.9" fill="#e06040"/>
<circle cx="304.0" cy="431.4" r="0.9" fill="#e03a2a"/>
<circle cx="311.0" cy="442.2" r="0.9" fill="#d8c8c0"/>
<circle cx="316.5" cy="452.7" r="0.9" fill="#e06040"/>
<circle cx="331.5" cy="441.0" r="0.9" fill="#d8c8c0"/>
<circle cx="322.6" cy="438.8" r="0.9" fill="#f0a040"/>
<circle cx="322.1" cy="445.2" r="0.9" fill="#e03a2a"/>
<circle cx="334.3" cy="439.3" r="0.9" fill="#d8c8c0"/>
<circle cx="327.7" cy="447.0" r="0.9" fill="#e06040"/>
<circle cx="323.0" cy="450.7" r="0.9" fill="#e03a2a"/>
<circle cx="307.5" cy="447.6" r="0.9" fill="#d8c8c0"/>
<circle cx="325.6" cy="449.7" r="0.9" fill="#f0a040"/>
<circle cx="327.1" cy="436.7" r="0.9" fill="#d8c8c0"/>
<circle cx="328.6" cy="437.2" r="0.9" fill="#f0a040"/>
<circle cx="326.1" cy="437.7" r="0.9" fill="#d8c8c0"/>
<circle cx="330.6" cy="438.2" r="0.9" fill="#f0a040"/>
<circle cx="337.6" cy="426.7" r="0.9" fill="#e06040"/>
<circle cx="333.6" cy="451.2" r="0.9" fill="#f0a040"/>
<circle cx="335.1" cy="451.7" r="0.9" fill="#e06040"/>
<circle cx="334.1" cy="452.7" r="0.9" fill="#d8c8c0"/>
<circle cx="317.1" cy="451.7" r="0.9" fill="#f0a040"/>
<circle cx="319.1" cy="452.2" r="0.9" fill="#e03a2a"/>
<circle cx="318.1" cy="453.2" r="0.9" fill="#e03a2a"/>
<circle cx="303.6" cy="440.2" r="0.9" fill="#f0a040"/>
<circle cx="304.1" cy="433.7" r="0.9" fill="#f0a040"/>
<circle cx="333.4" cy="459.9" r="0.9" fill="#d6d6d6"/>
<circle cx="338.0" cy="465.3" r="0.9" fill="#d6d6d6"/>
<circle cx="334.7" cy="461.3" r="0.9" fill="#d6d6d6"/>
<circle cx="333.4" cy="460.1" r="0.9" fill="#d6d6d6"/>
<circle cx="334.8" cy="461.3" r="0.9" fill="#d6d6d6"/>
<circle cx="332.6" cy="459.9" r="0.9" fill="#d6d6d6"/>
<circle cx="337.7" cy="464.9" r="0.9" fill="#d6d6d6"/>
<circle cx="333.4" cy="461.6" r="0.9" fill="#d6d6d6"/>
<circle cx="338.9" cy="466.4" r="0.9" fill="#d6d6d6"/>
<circle cx="336.1" cy="462.8" r="0.9" fill="#d6d6d6"/>
<circle cx="336.4" cy="462.9" r="0.9" fill="#d6d6d6"/>
<circle cx="337.8" cy="464.4" r="0.9" fill="#d6d6d6"/>
<circle cx="335.7" cy="463.3" r="0.9" fill="#d6d6d6"/>
<circle cx="336.0" cy="462.4" r="0.9" fill="#d6d6d6"/>
<circle cx="336.5" cy="464.8" r="0.9" fill="#d6d6d6"/>
<circle cx="337.7" cy="465.8" r="0.9" fill="#d6d6d6"/>
<circle cx="333.2" cy="460.1" r="0.9" fill="#d6d6d6"/>
<circle cx="332.5" cy="459.5" r="0.9" fill="#d6d6d6"/>
<circle cx="336.5" cy="463.3" r="0.9" fill="#d6d6d6"/>
<circle cx="333.6" cy="460.1" r="0.9" fill="#d6d6d6"/>
<circle cx="334.8" cy="461.3" r="0.9" fill="#d6d6d6"/>
<circle cx="334.4" cy="460.8" r="0.9" fill="#d6d6d6"/>
<circle cx="339.6" cy="467.1" r="0.9" fill="#d6d6d6"/>
<circle cx="336.4" cy="464.2" r="0.9" fill="#d6d6d6"/>
<circle cx="338.2" cy="465.2" r="0.9" fill="#d6d6d6"/>
<circle cx="335.8" cy="463.5" r="0.9" fill="#d6d6d6"/>
<circle cx="337.8" cy="465.8" r="0.9" fill="#d6d6d6"/>
<circle cx="338.6" cy="465.8" r="0.9" fill="#d6d6d6"/>
<circle cx="333.1" cy="459.6" r="0.9" fill="#d6d6d6"/>
<circle cx="339.5" cy="466.6" r="0.9" fill="#d6d6d6"/>
<circle cx="332.3" cy="459.3" r="0.9" fill="#d6d6d6"/>
<circle cx="335.5" cy="462.4" r="0.9" fill="#d6d6d6"/>
<circle cx="334.1" cy="461.7" r="0.9" fill="#d6d6d6"/>
<circle cx="337.0" cy="464.0" r="0.9" fill="#d6d6d6"/>
<circle cx="340.3" cy="471.8" r="0.9" fill="#d6d6d6"/>
<circle cx="340.9" cy="468.0" r="0.9" fill="#d6d6d6"/>
<circle cx="341.2" cy="469.5" r="0.9" fill="#d6d6d6"/>
<circle cx="347.4" cy="468.7" r="0.9" fill="#d6d6d6"/>
<circle cx="345.9" cy="469.9" r="0.9" fill="#d6d6d6"/>
<circle cx="347.6" cy="468.9" r="0.9" fill="#d6d6d6"/>
<circle cx="346.4" cy="469.5" r="0.9" fill="#d6d6d6"/>
<circle cx="340.4" cy="471.0" r="0.9" fill="#d6d6d6"/>
<circle cx="345.1" cy="472.2" r="0.9" fill="#d6d6d6"/>
<circle cx="345.8" cy="471.5" r="0.9" fill="#d6d6d6"/>
<circle cx="348.5" cy="471.0" r="0.9" fill="#d6d6d6"/>
<circle cx="338.3" cy="472.0" r="0.9" fill="#d6d6d6"/>
<circle cx="342.3" cy="471.1" r="0.9" fill="#d6d6d6"/>
<circle cx="348.2" cy="470.8" r="0.9" fill="#d6d6d6"/>
<circle cx="343.1" cy="468.5" r="0.9" fill="#d6d6d6"/>
<circle cx="346.7" cy="474.4" r="0.9" fill="#d6d6d6"/>
<circle cx="347.9" cy="471.4" r="0.9" fill="#d6d6d6"/>
<circle cx="345.8" cy="467.7" r="0.9" fill="#d6d6d6"/>
<circle cx="341.3" cy="468.4" r="0.9" fill="#d6d6d6"/>
<circle cx="340.2" cy="474.0" r="0.9" fill="#d6d6d6"/>
<circle cx="341.0" cy="473.7" r="0.9" fill="#d6d6d6"/>
<circle cx="345.6" cy="473.3" r="0.9" fill="#d6d6d6"/>
<circle cx="342.4" cy="471.2" r="0.9" fill="#d6d6d6"/>
<circle cx="346.2" cy="469.1" r="0.9" fill="#d6d6d6"/>
<circle cx="345.1" cy="468.1" r="0.9" fill="#d6d6d6"/>
<circle cx="339.1" cy="473.9" r="0.9" fill="#d6d6d6"/>
<circle cx="342.5" cy="471.7" r="0.9" fill="#d6d6d6"/>
<circle cx="344.1" cy="473.0" r="0.9" fill="#d6d6d6"/>
<circle cx="340.3" cy="474.0" r="0.9" fill="#d6d6d6"/>
<circle cx="338.2" cy="470.6" r="0.9" fill="#d6d6d6"/>
<circle cx="338.1" cy="471.9" r="0.9" fill="#d6d6d6"/>
<circle cx="344.2" cy="471.3" r="0.9" fill="#d6d6d6"/>
<circle cx="339.0" cy="469.3" r="0.9" fill="#d6d6d6"/>
<circle cx="343.7" cy="474.6" r="0.9" fill="#d6d6d6"/>
<circle cx="343.8" cy="470.7" r="0.9" fill="#d6d6d6"/>
<circle cx="343.1" cy="474.6" r="0.9" fill="#d6d6d6"/>
<circle cx="342.2" cy="474.7" r="0.9" fill="#d6d6d6"/>
<circle cx="347.1" cy="474.1" r="0.9" fill="#d6d6d6"/>
<circle cx="345.5" cy="470.3" r="0.9" fill="#d6d6d6"/>
<circle cx="342.1" cy="475.3" r="0.9" fill="#d6d6d6"/>
<circle cx="342.0" cy="473.2" r="0.9" fill="#d6d6d6"/>
<circle cx="344.1" cy="472.9" r="0.9" fill="#d6d6d6"/>
<circle cx="339.4" cy="471.6" r="0.9" fill="#d6d6d6"/>
<circle cx="346.6" cy="468.1" r="0.9" fill="#d6d6d6"/>
<circle cx="345.9" cy="471.7" r="0.9" fill="#d6d6d6"/>
<circle cx="341.6" cy="468.7" r="0.9" fill="#d6d6d6"/>
<circle cx="347.6" cy="470.3" r="0.9" fill="#d6d6d6"/>
<circle cx="346.7" cy="470.1" r="0.9" fill="#d6d6d6"/>
<circle cx="340.9" cy="474.7" r="0.9" fill="#d6d6d6"/>
<circle cx="341.2" cy="472.3" r="0.9" fill="#d6d6d6"/>
<circle cx="341.3" cy="469.0" r="0.9" fill="#d6d6d6"/>
<circle cx="345.7" cy="468.1" r="0.9" fill="#d6d6d6"/>
<circle cx="345.2" cy="470.4" r="0.9" fill="#d6d6d6"/>
<circle cx="345.8" cy="474.3" r="0.9" fill="#d6d6d6"/>
<circle cx="342.5" cy="467.3" r="0.9" fill="#d6d6d6"/>
<circle cx="346.9" cy="470.9" r="0.9" fill="#d6d6d6"/>
<circle cx="341.0" cy="473.5" r="0.9" fill="#d6d6d6"/>
<circle cx="349.0" cy="471.9" r="0.9" fill="#d6d6d6"/>
<circle cx="344.3" cy="467.2" r="0.9" fill="#d6d6d6"/>
<circle cx="339.7" cy="472.8" r="0.9" fill="#d6d6d6"/>
<circle cx="346.5" cy="467.8" r="0.9" fill="#d6d6d6"/>
<circle cx="345.9" cy="472.3" r="0.9" fill="#d6d6d6"/>
<circle cx="339.5" cy="474.1" r="0.9" fill="#d6d6d6"/>
<circle cx="344.4" cy="471.0" r="0.9" fill="#d6d6d6"/>
<circle cx="340.3" cy="472.3" r="0.9" fill="#d6d6d6"/>
<circle cx="349.0" cy="471.8" r="0.9" fill="#d6d6d6"/>
<circle cx="342.0" cy="471.6" r="0.9" fill="#d6d6d6"/>
<circle cx="340.5" cy="471.3" r="0.9" fill="#d6d6d6"/>
<circle cx="343.2" cy="474.9" r="0.9" fill="#d6d6d6"/>
<circle cx="341.9" cy="470.3" r="0.9" fill="#d6d6d6"/>
<circle cx="344.6" cy="470.3" r="0.9" fill="#d6d6d6"/>
<circle cx="341.4" cy="469.9" r="0.9" fill="#d6d6d6"/>
<circle cx="343.6" cy="472.9" r="0.9" fill="#d6d6d6"/>
<circle cx="340.4" cy="474.7" r="0.9" fill="#d6d6d6"/>
<circle cx="345.4" cy="471.1" r="0.9" fill="#d6d6d6"/>
<circle cx="346.5" cy="471.1" r="0.9" fill="#d6d6d6"/>
<circle cx="344.1" cy="472.8" r="0.9" fill="#d6d6d6"/>
<circle cx="347.0" cy="470.2" r="0.9" fill="#d6d6d6"/>
<circle cx="340.1" cy="473.5" r="0.9" fill="#d6d6d6"/>
<circle cx="343.7" cy="469.8" r="0.9" fill="#d6d6d6"/>
<circle cx="345.8" cy="472.5" r="0.9" fill="#d6d6d6"/>
<circle cx="344.0" cy="468.7" r="0.9" fill="#d6d6d6"/>
<circle cx="345.9" cy="474.6" r="0.9" fill="#d6d6d6"/>
<circle cx="343.9" cy="474.7" r="0.9" fill="#d6d6d6"/>
<circle cx="342.3" cy="469.8" r="0.9" fill="#d6d6d6"/>
<circle cx="348.9" cy="469.2" r="0.9" fill="#d6d6d6"/>
<circle cx="348.1" cy="468.3" r="0.9" fill="#d6d6d6"/>
<circle cx="349.6" cy="468.3" r="0.9" fill="#d6d6d6"/>
<circle cx="349.6" cy="468.6" r="0.9" fill="#d6d6d6"/>
<circle cx="347.8" cy="467.5" r="0.9" fill="#d6d6d6"/>
<circle cx="348.9" cy="466.7" r="0.9" fill="#d6d6d6"/>
<circle cx="347.6" cy="467.0" r="0.9" fill="#d6d6d6"/>
<circle cx="348.7" cy="467.7" r="0.9" fill="#d6d6d6"/>
<text x="475.60" y="398.60" font-size="9.6" text-anchor="middle" fill="#141414">Color threshold: 0.2</text>
<rect x="432.20" y="475.78" width="9.35" height="8.02" fill="#d5d5d5" shape-rendering="crispEdges"/>
<rect x="432.20" y="468.36" width="9.35" height="8.02" fill="#cad5c9" shape-rendering="crispEdges"/>
<rect x="432.20" y="460.94" width="9.35" height="8.02" fill="#bcd2b9" shape-rendering="crispEdges"/>
<rect x="432.20" y="453.52" width="9.35" height="8.02" fill="#a9cfa5" shape-rendering="crispEdges"/>
<rect x="432.20" y="446.10" width="9.35" height="8.02" fill="#96ca8c" shape-rendering="crispEdges"/>
<rect x="432.20" y="438.68" width="9.35" height="8.02" fill="#86c370" shape-rendering="crispEdges"/>
<rect x="432.20" y="431.26" width="9.35" height="8.02" fill="#7bbc56" shape-rendering="crispEdges"/>
<rect x="432.20" y="423.84" width="9.35" height="8.02" fill="#76b843" shape-rendering="crispEdges"/>
<rect x="432.20" y="416.42" width="9.35" height="8.02" fill="#76b634" shape-rendering="crispEdges"/>
<rect x="432.20" y="409.00" width="9.35" height="8.02" fill="#77b628" shape-rendering="crispEdges"/>
<rect x="440.95" y="475.78" width="9.35" height="8.02" fill="#d7cacc" shape-rendering="crispEdges"/>
<rect x="440.95" y="468.36" width="9.35" height="8.02" fill="#cdcec4" shape-rendering="crispEdges"/>
<rect x="440.95" y="460.94" width="9.35" height="8.02" fill="#bfcfb6" shape-rendering="crispEdges"/>
<rect x="440.95" y="453.52" width="9.35" height="8.02" fill="#aecda2" shape-rendering="crispEdges"/>
<rect x="440.95" y="446.10" width="9.35" height="8.02" fill="#9bc989" shape-rendering="crispEdges"/>
<rect x="440.95" y="438.68" width="9.35" height="8.02" fill="#8bc46f" shape-rendering="crispEdges"/>
<rect x="440.95" y="431.26" width="9.35" height="8.02" fill="#7fbe56" shape-rendering="crispEdges"/>
<rect x="440.95" y="423.84" width="9.35" height="8.02" fill="#79ba42" shape-rendering="crispEdges"/>
<rect x="440.95" y="416.42" width="9.35" height="8.02" fill="#78b731" shape-rendering="crispEdges"/>
<rect x="440.95" y="409.00" width="9.35" height="8.02" fill="#78b722" shape-rendering="crispEdges"/>
<rect x="449.70" y="475.78" width="9.35" height="8.02" fill="#d8babe" shape-rendering="crispEdges"/>
<rect x="449.70" y="468.36" width="9.35" height="8.02" fill="#cfc2b8" shape-rendering="crispEdges"/>
<rect x="449.70" y="460.94" width="9.35" height="8.02" fill="#c3c7ae" shape-rendering="crispEdges"/>
<rect x="449.70" y="453.52" width="9.35" height="8.02" fill="#b3c89a" shape-rendering="crispEdges"/>
<rect x="449.70" y="446.10" width="9.35" height="8.02" fill="#a2c784" shape-rendering="crispEdges"/>
<rect x="449.70" y="438.68" width="9.35" height="8.02" fill="#92c46d" shape-rendering="crispEdges"/>
<rect x="449.70" y="431.26" width="9.35" height="8.02" fill="#86c157" shape-rendering="crispEdges"/>
<rect x="449.70" y="423.84" width="9.35" height="8.02" fill="#7fbd42" shape-rendering="crispEdges"/>
<rect x="449.70" y="416.42" width="9.35" height="8.02" fill="#7bba2f" shape-rendering="crispEdges"/>
<rect x="449.70" y="409.00" width="9.35" height="8.02" fill="#7ab91e" shape-rendering="crispEdges"/>
<rect x="458.45" y="475.78" width="9.35" height="8.02" fill="#d9a6aa" shape-rendering="crispEdges"/>
<rect x="458.45" y="468.36" width="9.35" height="8.02" fill="#d1afa5" shape-rendering="crispEdges"/>
<rect x="458.45" y="460.94" width="9.35" height="8.02" fill="#c7b79b" shape-rendering="crispEdges"/>
<rect x="458.45" y="453.52" width="9.35" height="8.02" fill="#babd8b" shape-rendering="crispEdges"/>
<rect x="458.45" y="446.10" width="9.35" height="8.02" fill="#abc179" shape-rendering="crispEdges"/>
<rect x="458.45" y="438.68" width="9.35" height="8.02" fill="#9cc369" shape-rendering="crispEdges"/>
<rect x="458.45" y="431.26" width="9.35" height="8.02" fill="#8fc357" shape-rendering="crispEdges"/>
<rect x="458.45" y="423.84" width="9.35" height="8.02" fill="#87c042" shape-rendering="crispEdges"/>
<rect x="458.45" y="416.42" width="9.35" height="8.02" fill="#82bd2d" shape-rendering="crispEdges"/>
<rect x="458.45" y="409.00" width="9.35" height="8.02" fill="#81bb1b" shape-rendering="crispEdges"/>
<rect x="467.20" y="475.78" width="9.35" height="8.02" fill="#da8c91" shape-rendering="crispEdges"/>
<rect x="467.20" y="468.36" width="9.35" height="8.02" fill="#d4968b" shape-rendering="crispEdges"/>
<rect x="467.20" y="460.94" width="9.35" height="8.02" fill="#cda182" shape-rendering="crispEdges"/>
<rect x="467.20" y="453.52" width="9.35" height="8.02" fill="#c3ac76" shape-rendering="crispEdges"/>
<rect x="467.20" y="446.10" width="9.35" height="8.02" fill="#b6b66a" shape-rendering="crispEdges"/>
<rect x="467.20" y="438.68" width="9.35" height="8.02" fill="#a8bd5f" shape-rendering="crispEdges"/>
<rect x="467.20" y="431.26" width="9.35" height="8.02" fill="#9bc354" shape-rendering="crispEdges"/>
<rect x="467.20" y="423.84" width="9.35" height="8.02" fill="#93c340" shape-rendering="crispEdges"/>
<rect x="467.20" y="416.42" width="9.35" height="8.02" fill="#8ec02b" shape-rendering="crispEdges"/>
<rect x="467.20" y="409.00" width="9.35" height="8.02" fill="#8cbf1a" shape-rendering="crispEdges"/>
<rect x="475.95" y="475.78" width="9.35" height="8.02" fill="#de6d73" shape-rendering="crispEdges"/>
<rect x="475.95" y="468.36" width="9.35" height="8.02" fill="#d9796e" shape-rendering="crispEdges"/>
<rect x="475.95" y="460.94" width="9.35" height="8.02" fill="#d48769" shape-rendering="crispEdges"/>
<rect x="475.95" y="453.52" width="9.35" height="8.02" fill="#ce9561" shape-rendering="crispEdges"/>
<rect x="475.95" y="446.10" width="9.35" height="8.02" fill="#c5a558" shape-rendering="crispEdges"/>
<rect x="475.95" y="438.68" width="9.35" height="8.02" fill="#b9b351" shape-rendering="crispEdges"/>
<rect x="475.95" y="431.26" width="9.35" height="8.02" fill="#acbf47" shape-rendering="crispEdges"/>
<rect x="475.95" y="423.84" width="9.35" height="8.02" fill="#a3c439" shape-rendering="crispEdges"/>
<rect x="475.95" y="416.42" width="9.35" height="8.02" fill="#9ec529" shape-rendering="crispEdges"/>
<rect x="475.95" y="409.00" width="9.35" height="8.02" fill="#9cc51c" shape-rendering="crispEdges"/>
<rect x="484.70" y="475.78" width="9.35" height="8.02" fill="#e14f56" shape-rendering="crispEdges"/>
<rect x="484.70" y="468.36" width="9.35" height="8.02" fill="#dd5b53" shape-rendering="crispEdges"/>
<rect x="484.70" y="460.94" width="9.35" height="8.02" fill="#da6b50" shape-rendering="crispEdges"/>
<rect x="484.70" y="453.52" width="9.35" height="8.02" fill="#d77d4c" shape-rendering="crispEdges"/>
<rect x="484.70" y="446.10" width="9.35" height="8.02" fill="#d39146" shape-rendering="crispEdges"/>
<rect x="484.70" y="438.68" width="9.35" height="8.02" fill="#c9a741" shape-rendering="crispEdges"/>
<rect x="484.70" y="431.26" width="9.35" height="8.02" fill="#beba39" shape-rendering="crispEdges"/>
<rect x="484.70" y="423.84" width="9.35" height="8.02" fill="#b5c630" shape-rendering="crispEdges"/>
<rect x="484.70" y="416.42" width="9.35" height="8.02" fill="#b0ca27" shape-rendering="crispEdges"/>
<rect x="484.70" y="409.00" width="9.35" height="8.02" fill="#aecc1f" shape-rendering="crispEdges"/>
<rect x="493.45" y="475.78" width="9.35" height="8.02" fill="#e2373d" shape-rendering="crispEdges"/>
<rect x="493.45" y="468.36" width="9.35" height="8.02" fill="#df423c" shape-rendering="crispEdges"/>
<rect x="493.45" y="460.94" width="9.35" height="8.02" fill="#dd523c" shape-rendering="crispEdges"/>
<rect x="493.45" y="453.52" width="9.35" height="8.02" fill="#dd663a" shape-rendering="crispEdges"/>
<rect x="493.45" y="446.10" width="9.35" height="8.02" fill="#db7f38" shape-rendering="crispEdges"/>
<rect x="493.45" y="438.68" width="9.35" height="8.02" fill="#d69a34" shape-rendering="crispEdges"/>
<rect x="493.45" y="431.26" width="9.35" height="8.02" fill="#ceb32e" shape-rendering="crispEdges"/>
<rect x="493.45" y="423.84" width="9.35" height="8.02" fill="#c8c729" shape-rendering="crispEdges"/>
<rect x="493.45" y="416.42" width="9.35" height="8.02" fill="#c5cf26" shape-rendering="crispEdges"/>
<rect x="493.45" y="409.00" width="9.35" height="8.02" fill="#c3d323" shape-rendering="crispEdges"/>
<rect x="502.20" y="475.78" width="9.35" height="8.02" fill="#e22429" shape-rendering="crispEdges"/>
<rect x="502.20" y="468.36" width="9.35" height="8.02" fill="#e02d29" shape-rendering="crispEdges"/>
<rect x="502.20" y="460.94" width="9.35" height="8.02" fill="#df3b2b" shape-rendering="crispEdges"/>
<rect x="502.20" y="453.52" width="9.35" height="8.02" fill="#e0522c" shape-rendering="crispEdges"/>
<rect x="502.20" y="446.10" width="9.35" height="8.02" fill="#e16e2c" shape-rendering="crispEdges"/>
<rect x="502.20" y="438.68" width="9.35" height="8.02" fill="#e18c2a" shape-rendering="crispEdges"/>
<rect x="502.20" y="431.26" width="9.35" height="8.02" fill="#dfa927" shape-rendering="crispEdges"/>
<rect x="502.20" y="423.84" width="9.35" height="8.02" fill="#ddc126" shape-rendering="crispEdges"/>
<rect x="502.20" y="416.42" width="9.35" height="8.02" fill="#dcd327" shape-rendering="crispEdges"/>
<rect x="502.20" y="409.00" width="9.35" height="8.02" fill="#dbdf28" shape-rendering="crispEdges"/>
<rect x="510.95" y="475.78" width="9.35" height="8.02" fill="#e41618" shape-rendering="crispEdges"/>
<rect x="510.95" y="468.36" width="9.35" height="8.02" fill="#e21d1a" shape-rendering="crispEdges"/>
<rect x="510.95" y="460.94" width="9.35" height="8.02" fill="#e1291e" shape-rendering="crispEdges"/>
<rect x="510.95" y="453.52" width="9.35" height="8.02" fill="#e44221" shape-rendering="crispEdges"/>
<rect x="510.95" y="446.10" width="9.35" height="8.02" fill="#e86023" shape-rendering="crispEdges"/>
<rect x="510.95" y="438.68" width="9.35" height="8.02" fill="#eb8023" shape-rendering="crispEdges"/>
<rect x="510.95" y="431.26" width="9.35" height="8.02" fill="#ee9e22" shape-rendering="crispEdges"/>
<rect x="510.95" y="423.84" width="9.35" height="8.02" fill="#f0b923" shape-rendering="crispEdges"/>
<rect x="510.95" y="416.42" width="9.35" height="8.02" fill="#f1d328" shape-rendering="crispEdges"/>
<rect x="510.95" y="409.00" width="9.35" height="8.02" fill="#f1e72c" shape-rendering="crispEdges"/>
<line x1="432.20" y1="408.50" x2="432.20" y2="484.00" stroke="#141414" stroke-width="1.1"/>
<line x1="432.20" y1="484.00" x2="520.00" y2="484.00" stroke="#141414" stroke-width="1.1"/>
<line x1="429.40" y1="412.71" x2="432.20" y2="412.71" stroke="#141414" stroke-width="0.9"/>
<text x="426.60" y="415.51" font-size="7.8" text-anchor="end" fill="#141414">10.0</text>
<line x1="429.40" y1="431.26" x2="432.20" y2="431.26" stroke="#141414" stroke-width="0.9"/>
<text x="426.60" y="434.06" font-size="7.8" text-anchor="end" fill="#141414">7.5</text>
<line x1="429.40" y1="449.81" x2="432.20" y2="449.81" stroke="#141414" stroke-width="0.9"/>
<text x="426.60" y="452.61" font-size="7.8" text-anchor="end" fill="#141414">5.0</text>
<line x1="429.40" y1="468.36" x2="432.20" y2="468.36" stroke="#141414" stroke-width="0.9"/>
<text x="426.60" y="471.16" font-size="7.8" text-anchor="end" fill="#141414">2.5</text>
<line x1="445.32" y1="484.00" x2="445.32" y2="486.80" stroke="#141414" stroke-width="0.9"/>
<text x="445.32" y="497.20" font-size="7.8" text-anchor="middle" fill="#141414">2</text>
<line x1="462.82" y1="484.00" x2="462.82" y2="486.80" stroke="#141414" stroke-width="0.9"/>
<text x="462.82" y="497.20" font-size="7.8" text-anchor="middle" fill="#141414">4</text>
<line x1="480.32" y1="484.00" x2="480.32" y2="486.80" stroke="#141414" stroke-width="0.9"/>
<text x="480.32" y="497.20" font-size="7.8" text-anchor="middle" fill="#141414">6</text>
<line x1="497.82" y1="484.00" x2="497.82" y2="486.80" stroke="#141414" stroke-width="0.9"/>
<text x="497.82" y="497.20" font-size="7.8" text-anchor="middle" fill="#141414">8</text>
<line x1="515.33" y1="484.00" x2="515.33" y2="486.80" stroke="#141414" stroke-width="0.9"/>
<text x="515.33" y="497.20" font-size="7.8" text-anchor="middle" fill="#141414">10</text>
<text x="405.60" y="442.30" font-size="8.6" text-anchor="middle" font-weight="bold" fill="#1a1a1a" textLength="12" lengthAdjust="spacingAndGlyphs" transform="rotate(-90 405.60 442.30)">ERG</text>
<text x="476.50" y="509.70" font-size="8.6" text-anchor="middle" font-weight="bold" fill="#1a1a1a" textLength="20" lengthAdjust="spacingAndGlyphs">MECOM</text>
<text x="1.30" y="539.20" font-size="11.5" font-weight="bold" fill="#000">G</text>
<text x="86.50" y="540.30" font-size="9.8" text-anchor="middle" fill="#141414">TCGA</text>
<circle cx="66.8" cy="550.8" r="0.75" fill="#d04470"/>
<circle cx="65.9" cy="553.7" r="0.75" fill="#d04470"/>
<circle cx="77.4" cy="554.2" r="0.75" fill="#d04470"/>
<circle cx="101.5" cy="549.8" r="0.75" fill="#d04470"/>
<circle cx="76.5" cy="560.8" r="0.75" fill="#d04470"/>
<circle cx="104.3" cy="561.3" r="0.75" fill="#d04470"/>
<circle cx="64.0" cy="561.9" r="0.75" fill="#d04470"/>
<circle cx="63.0" cy="567.1" r="0.75" fill="#d04470"/>
<circle cx="68.8" cy="569.0" r="0.75" fill="#d04470"/>
<circle cx="64.9" cy="570.0" r="0.75" fill="#d04470"/>
<circle cx="66.5" cy="572.9" r="0.75" fill="#d04470"/>
<circle cx="67.8" cy="573.5" r="0.75" fill="#d04470"/>
<circle cx="93.8" cy="569.6" r="0.75" fill="#d04470"/>
<circle cx="112.0" cy="572.9" r="0.75" fill="#d04470"/>
<circle cx="114.0" cy="572.9" r="0.75" fill="#d04470"/>
<circle cx="118.8" cy="573.8" r="0.75" fill="#d04470"/>
<circle cx="62.6" cy="574.8" r="0.75" fill="#d04470"/>
<circle cx="64.0" cy="577.7" r="0.75" fill="#d04470"/>
<circle cx="60.1" cy="578.7" r="0.75" fill="#d04470"/>
<circle cx="81.3" cy="577.7" r="0.75" fill="#d04470"/>
<circle cx="77.4" cy="580.0" r="0.75" fill="#d04470"/>
<circle cx="79.3" cy="582.5" r="0.75" fill="#d04470"/>
<circle cx="82.2" cy="583.5" r="0.75" fill="#d04470"/>
<circle cx="129.3" cy="577.7" r="0.75" fill="#d04470"/>
<circle cx="50.5" cy="580.6" r="0.75" fill="#d04470"/>
<circle cx="54.3" cy="584.4" r="0.75" fill="#d04470"/>
<circle cx="59.2" cy="585.4" r="0.75" fill="#d04470"/>
<circle cx="69.7" cy="584.4" r="0.75" fill="#d04470"/>
<circle cx="113.0" cy="584.4" r="0.75" fill="#d04470"/>
<circle cx="53.4" cy="587.3" r="0.75" fill="#d04470"/>
<circle cx="56.3" cy="588.3" r="0.75" fill="#d04470"/>
<circle cx="61.1" cy="588.3" r="0.75" fill="#d04470"/>
<circle cx="65.9" cy="588.3" r="0.75" fill="#d04470"/>
<circle cx="57.2" cy="590.2" r="0.75" fill="#d04470"/>
<circle cx="63.0" cy="591.2" r="0.75" fill="#d04470"/>
<circle cx="68.8" cy="589.2" r="0.75" fill="#d04470"/>
<circle cx="70.7" cy="590.2" r="0.75" fill="#d04470"/>
<circle cx="72.6" cy="588.8" r="0.75" fill="#d04470"/>
<circle cx="49.5" cy="594.0" r="0.75" fill="#d04470"/>
<circle cx="51.5" cy="595.0" r="0.75" fill="#d04470"/>
<circle cx="59.2" cy="593.1" r="0.75" fill="#d04470"/>
<circle cx="64.9" cy="594.0" r="0.75" fill="#d04470"/>
<circle cx="71.7" cy="594.0" r="0.75" fill="#d04470"/>
<circle cx="81.3" cy="594.0" r="0.75" fill="#d04470"/>
<circle cx="55.3" cy="596.9" r="0.75" fill="#d04470"/>
<circle cx="61.1" cy="596.9" r="0.75" fill="#d04470"/>
<circle cx="63.0" cy="596.0" r="0.75" fill="#d04470"/>
<circle cx="66.8" cy="597.9" r="0.75" fill="#d04470"/>
<circle cx="49.5" cy="600.8" r="0.75" fill="#d04470"/>
<circle cx="56.3" cy="599.8" r="0.75" fill="#d04470"/>
<circle cx="60.1" cy="600.8" r="0.75" fill="#d04470"/>
<circle cx="69.7" cy="599.8" r="0.75" fill="#d04470"/>
<circle cx="74.5" cy="600.8" r="0.75" fill="#d04470"/>
<circle cx="93.8" cy="601.7" r="0.75" fill="#d04470"/>
<circle cx="53.4" cy="602.7" r="0.75" fill="#d04470"/>
<circle cx="59.2" cy="603.7" r="0.75" fill="#d04470"/>
<circle cx="63.0" cy="602.7" r="0.75" fill="#d04470"/>
<circle cx="52.4" cy="606.5" r="0.75" fill="#d04470"/>
<circle cx="56.3" cy="606.5" r="0.75" fill="#d04470"/>
<circle cx="61.1" cy="606.5" r="0.75" fill="#d04470"/>
<circle cx="64.9" cy="605.6" r="0.75" fill="#d04470"/>
<circle cx="66.8" cy="604.6" r="0.75" fill="#d04470"/>
<circle cx="55.3" cy="609.4" r="0.75" fill="#d04470"/>
<circle cx="59.2" cy="608.5" r="0.75" fill="#d04470"/>
<circle cx="66.8" cy="610.4" r="0.75" fill="#d04470"/>
<circle cx="114.0" cy="608.5" r="0.75" fill="#d04470"/>
<circle cx="118.8" cy="604.6" r="0.75" fill="#d04470"/>
<circle cx="122.6" cy="609.4" r="0.75" fill="#d04470"/>
<circle cx="119.7" cy="588.3" r="0.75" fill="#d04470"/>
<circle cx="50.5" cy="628.7" r="0.75" fill="#d04470"/>
<circle cx="58.2" cy="592.1" r="0.75" fill="#d04470"/>
<circle cx="62.0" cy="594.6" r="0.75" fill="#d04470"/>
<circle cx="67.8" cy="595.4" r="0.75" fill="#d04470"/>
<circle cx="57.2" cy="598.8" r="0.75" fill="#d04470"/>
<circle cx="64.9" cy="600.8" r="0.75" fill="#d04470"/>
<circle cx="54.3" cy="593.1" r="0.75" fill="#d04470"/>
<circle cx="68.8" cy="593.1" r="0.75" fill="#d04470"/>
<circle cx="59.5" cy="589.6" r="0.75" fill="#d04470"/>
<circle cx="70.7" cy="595.4" r="0.75" fill="#d04470"/>
<circle cx="64.0" cy="598.8" r="0.75" fill="#d04470"/>
<circle cx="41.9" cy="548.8" r="0.75" fill="#c83058"/>
<circle cx="41.9" cy="552.6" r="0.75" fill="#c83058"/>
<circle cx="41.9" cy="556.4" r="0.75" fill="#c83058"/>
<circle cx="41.9" cy="560.2" r="0.75" fill="#c83058"/>
<circle cx="41.9" cy="564" r="0.75" fill="#c83058"/>
<circle cx="41.9" cy="567.8" r="0.75" fill="#c83058"/>
<circle cx="41.9" cy="571.6" r="0.75" fill="#c83058"/>
<circle cx="41.9" cy="575.4" r="0.75" fill="#c83058"/>
<circle cx="41.9" cy="579.2" r="0.75" fill="#c83058"/>
<circle cx="41.9" cy="583" r="0.75" fill="#c83058"/>
<circle cx="41.9" cy="586.8" r="0.75" fill="#c83058"/>
<circle cx="41.9" cy="590.6" r="0.75" fill="#c83058"/>
<circle cx="41.9" cy="594.4" r="0.75" fill="#c83058"/>
<circle cx="41.9" cy="612" r="0.75" fill="#c83058"/>
<circle cx="41.9" cy="615.8" r="0.75" fill="#c83058"/>
<circle cx="41.9" cy="619.6" r="0.75" fill="#c83058"/>
<circle cx="41.9" cy="623.4" r="0.75" fill="#c83058"/>
<circle cx="41.9" cy="627.2" r="0.75" fill="#c83058"/>
<circle cx="41.9" cy="630.5" r="0.75" fill="#c83058"/>
<line x1="41.80" y1="597.00" x2="131.30" y2="574.20" stroke="#c8203c" stroke-width="1.2"/>
<line x1="41.90" y1="596.50" x2="41.90" y2="609.00" stroke="#d04060" stroke-width="0.9"/>
<line x1="38.40" y1="546.00" x2="38.40" y2="631.70" stroke="#141414" stroke-width="1.1"/>
<line x1="38.40" y1="631.70" x2="134.60" y2="631.70" stroke="#141414" stroke-width="1.1"/>
<line x1="35.40" y1="618.26" x2="38.40" y2="618.26" stroke="#141414" stroke-width="0.9"/>
<text x="33.00" y="621.16" font-size="8.2" text-anchor="end" fill="#141414">2</text>
<line x1="35.40" y1="602.12" x2="38.40" y2="602.12" stroke="#141414" stroke-width="0.9"/>
<text x="33.00" y="605.02" font-size="8.2" text-anchor="end" fill="#141414">4</text>
<line x1="35.40" y1="585.98" x2="38.40" y2="585.98" stroke="#141414" stroke-width="0.9"/>
<text x="33.00" y="588.88" font-size="8.2" text-anchor="end" fill="#141414">6</text>
<line x1="35.40" y1="569.84" x2="38.40" y2="569.84" stroke="#141414" stroke-width="0.9"/>
<text x="33.00" y="572.74" font-size="8.2" text-anchor="end" fill="#141414">8</text>
<line x1="35.40" y1="553.70" x2="38.40" y2="553.70" stroke="#141414" stroke-width="0.9"/>
<text x="33.00" y="556.60" font-size="8.2" text-anchor="end" fill="#141414">10</text>
<line x1="53.30" y1="631.70" x2="53.30" y2="634.70" stroke="#141414" stroke-width="0.9"/>
<text x="53.30" y="646.30" font-size="8.2" text-anchor="middle" fill="#141414">0</text>
<line x1="81.70" y1="631.70" x2="81.70" y2="634.70" stroke="#141414" stroke-width="0.9"/>
<text x="81.70" y="646.30" font-size="8.2" text-anchor="middle" fill="#141414">5</text>
<line x1="110.10" y1="631.70" x2="110.10" y2="634.70" stroke="#141414" stroke-width="0.9"/>
<text x="110.10" y="646.30" font-size="8.2" text-anchor="middle" fill="#141414">10</text>
<text x="86.55" y="658.50" font-size="9.9" text-anchor="middle" font-weight="bold" fill="#1a1a1a" textLength="45.3" lengthAdjust="spacingAndGlyphs">LOG2_MECOM</text>
<text x="19.30" y="587.00" font-size="9.6" text-anchor="middle" font-weight="bold" fill="#1a1a1a" textLength="41.5" lengthAdjust="spacingAndGlyphs" transform="rotate(-90 19.30 587.00)">LOG2_CCND1</text>
<line x1="4.65" y1="551.00" x2="4.65" y2="581.40" stroke="#444" stroke-width="0.7"/>
<line x1="4.65" y1="601.30" x2="4.65" y2="625.00" stroke="#444" stroke-width="0.7"/>
<rect x="2.00" y="581.40" width="5.30" height="19.90" fill="#fff" stroke="#444" stroke-width="0.7"/>
<line x1="2.00" y1="591.80" x2="7.30" y2="591.80" stroke="#444" stroke-width="0.7"/>
<circle cx="4.65" cy="545.5" r="0.5" fill="#d04060"/>
<circle cx="4.65" cy="547.5" r="0.5" fill="#d04060"/>
<circle cx="4.65" cy="549.5" r="0.5" fill="#d04060"/>
<line x1="38.20" y1="665.90" x2="38.40" y2="665.90" stroke="#444" stroke-width="0.7"/>
<line x1="64.60" y1="665.90" x2="99.60" y2="665.90" stroke="#444" stroke-width="0.7"/>
<rect x="38.40" y="663.20" width="26.20" height="5.40" fill="#fff" stroke="#444" stroke-width="0.7"/>
<line x1="55.20" y1="663.20" x2="55.20" y2="668.60" stroke="#444" stroke-width="0.7"/>
<circle cx="107.7" cy="665.9" r="0.55" fill="#d04060"/>
<circle cx="110.5" cy="665.9" r="0.55" fill="#d04060"/>
<circle cx="113.5" cy="665.9" r="0.55" fill="#d04060"/>
<circle cx="117.2" cy="665.9" r="0.55" fill="#d04060"/>
<circle cx="121.0" cy="665.9" r="0.55" fill="#d04060"/>
<circle cx="125.0" cy="665.9" r="0.55" fill="#d04060"/>
<text x="83.50" y="679.60" font-size="8.3" text-anchor="middle" fill="#141414">r = 0.351, 95% CI 0.215-0.474</text>
<text x="45.20" y="688.60" font-size="8.3" fill="#141414"><tspan font-style="italic">P</tspan> value = .00000164</text>
<text x="154.70" y="539.00" font-size="11.5" font-weight="bold" fill="#000">H</text>
<text x="241.00" y="538.20" font-size="10.0" text-anchor="middle" fill="#141414">OHSU</text>
<text x="241.20" y="547.60" font-size="9.5" text-anchor="middle" fill="#141414">(3q26 rearranged)</text>
<line x1="192.30" y1="544.30" x2="192.30" y2="632.20" stroke="#141414" stroke-width="1.1"/>
<line x1="192.30" y1="632.20" x2="289.60" y2="632.20" stroke="#141414" stroke-width="1.1"/>
<line x1="189.30" y1="552.20" x2="192.30" y2="552.20" stroke="#141414" stroke-width="0.9"/>
<text x="187.00" y="555.10" font-size="8.2" text-anchor="end" fill="#141414">4</text>
<line x1="189.30" y1="566.10" x2="192.30" y2="566.10" stroke="#141414" stroke-width="0.9"/>
<text x="187.00" y="569.00" font-size="8.2" text-anchor="end" fill="#141414">3</text>
<line x1="189.30" y1="580.00" x2="192.30" y2="580.00" stroke="#141414" stroke-width="0.9"/>
<text x="187.00" y="582.90" font-size="8.2" text-anchor="end" fill="#141414">2</text>
<line x1="189.30" y1="593.90" x2="192.30" y2="593.90" stroke="#141414" stroke-width="0.9"/>
<text x="187.00" y="596.80" font-size="8.2" text-anchor="end" fill="#141414">1</text>
<line x1="189.30" y1="607.80" x2="192.30" y2="607.80" stroke="#141414" stroke-width="0.9"/>
<text x="187.00" y="610.70" font-size="8.2" text-anchor="end" fill="#141414">0</text>
<line x1="189.30" y1="621.70" x2="192.30" y2="621.70" stroke="#141414" stroke-width="0.9"/>
<text x="187.00" y="624.60" font-size="8.2" text-anchor="end" fill="#141414">−1</text>
<line x1="204.20" y1="632.20" x2="204.20" y2="635.20" stroke="#141414" stroke-width="0.9"/>
<text x="204.20" y="646.40" font-size="8.2" text-anchor="middle" fill="#141414">−5</text>
<line x1="232.60" y1="632.20" x2="232.60" y2="635.20" stroke="#141414" stroke-width="0.9"/>
<text x="232.60" y="646.40" font-size="8.2" text-anchor="middle" fill="#141414">0</text>
<line x1="261.20" y1="632.20" x2="261.20" y2="635.20" stroke="#141414" stroke-width="0.9"/>
<text x="261.20" y="646.40" font-size="8.2" text-anchor="middle" fill="#141414">5</text>
<line x1="196.70" y1="630.80" x2="286.70" y2="564.30" stroke="#c8203c" stroke-width="1.2"/>
<circle cx="284.3" cy="558" r="0.6" fill="#dd8098"/>
<circle cx="274.6" cy="565" r="0.6" fill="#dd8098"/>
<circle cx="243.5" cy="581.3" r="0.6" fill="#dd8098"/>
<circle cx="278" cy="584.7" r="0.6" fill="#dd8098"/>
<circle cx="272.9" cy="601.3" r="0.6" fill="#dd8098"/>
<circle cx="260" cy="617" r="0.6" fill="#dd8098"/>
<circle cx="196.7" cy="630" r="0.6" fill="#dd8098"/>
<text x="241.50" y="658.30" font-size="9.9" text-anchor="middle" font-weight="bold" fill="#1a1a1a" textLength="45.9" lengthAdjust="spacingAndGlyphs">LOG2_MECOM</text>
<text x="172.40" y="587.00" font-size="9.8" text-anchor="middle" font-weight="bold" fill="#1a1a1a" textLength="41.9" lengthAdjust="spacingAndGlyphs" transform="rotate(-90 172.40 587.00)">LOG2_CCND1</text>
<line x1="158.55" y1="546.50" x2="158.55" y2="557.30" stroke="#444" stroke-width="0.7"/>
<line x1="158.55" y1="599.20" x2="158.55" y2="627.40" stroke="#444" stroke-width="0.7"/>
<rect x="155.70" y="557.30" width="5.70" height="41.90" fill="#fff" stroke="#444" stroke-width="0.7"/>
<line x1="155.70" y1="571.10" x2="161.40" y2="571.10" stroke="#444" stroke-width="0.7"/>
<line x1="244.60" y1="666.00" x2="259.80" y2="666.00" stroke="#444" stroke-width="0.7"/>
<line x1="284.30" y1="666.00" x2="286.30" y2="666.00" stroke="#444" stroke-width="0.7"/>
<rect x="259.80" y="663.30" width="24.50" height="5.40" fill="#fff" stroke="#444" stroke-width="0.7"/>
<line x1="275.70" y1="663.30" x2="275.70" y2="668.70" stroke="#444" stroke-width="0.7"/>
<circle cx="196" cy="665.5" r="0.5" fill="#999"/>
<text x="230.20" y="679.50" font-size="8.3" text-anchor="middle" fill="#141414">r = 0.746, 95% CI 0.22-0.936</text>
<text x="202.20" y="688.00" font-size="8.1" fill="#141414"><tspan font-style="italic">P</tspan> value =  .0132</text>
<text x="308.60" y="539.00" font-size="11.5" font-weight="bold" fill="#000">I</text>
<text x="386.50" y="536.20" font-size="9.6" text-anchor="middle" fill="#141414">TCGA</text>
<line x1="335.00" y1="541.20" x2="335.00" y2="632.50" stroke="#141414" stroke-width="1.1"/>
<line x1="335.00" y1="632.50" x2="437.50" y2="632.50" stroke="#141414" stroke-width="1.1"/>
<line x1="332.00" y1="617.36" x2="335.00" y2="617.36" stroke="#141414" stroke-width="0.9"/>
<text x="329.50" y="620.26" font-size="8.2" text-anchor="end" fill="#141414">2</text>
<line x1="332.00" y1="600.42" x2="335.00" y2="600.42" stroke="#141414" stroke-width="0.9"/>
<text x="329.50" y="603.32" font-size="8.2" text-anchor="end" fill="#141414">4</text>
<line x1="332.00" y1="583.48" x2="335.00" y2="583.48" stroke="#141414" stroke-width="0.9"/>
<text x="329.50" y="586.38" font-size="8.2" text-anchor="end" fill="#141414">6</text>
<line x1="332.00" y1="566.54" x2="335.00" y2="566.54" stroke="#141414" stroke-width="0.9"/>
<text x="329.50" y="569.44" font-size="8.2" text-anchor="end" fill="#141414">8</text>
<line x1="332.00" y1="549.60" x2="335.00" y2="549.60" stroke="#141414" stroke-width="0.9"/>
<text x="329.50" y="552.50" font-size="8.2" text-anchor="end" fill="#141414">10</text>
<line x1="362.50" y1="632.50" x2="362.50" y2="635.50" stroke="#141414" stroke-width="0.9"/>
<line x1="409.50" y1="632.50" x2="409.50" y2="635.50" stroke="#141414" stroke-width="0.9"/>
<text x="314.50" y="586.70" font-size="9.5" text-anchor="middle" font-weight="bold" fill="#1a1a1a" textLength="41.9" lengthAdjust="spacingAndGlyphs" transform="rotate(-90 314.50 586.70)">LOG2_CCND1</text>
<line x1="362.50" y1="570.00" x2="362.50" y2="608.00" stroke="#8a8a8a" stroke-width="0.8"/>
<line x1="353.00" y1="570.00" x2="371.80" y2="570.00" stroke="#555" stroke-width="0.9"/>
<line x1="353.00" y1="608.00" x2="371.80" y2="608.00" stroke="#555" stroke-width="0.9"/>
<rect x="343.80" y="584.20" width="37.40" height="18.20" fill="#c8102e"/>
<line x1="343.80" y1="593.60" x2="381.20" y2="593.60" stroke="#5a0714" stroke-width="1.6"/>
<circle cx="362.5" cy="543.5" r="0.9" fill="#d21a44"/>
<circle cx="362.5" cy="546.0" r="0.9" fill="#d21a44"/>
<circle cx="362.5" cy="548.5" r="0.9" fill="#d21a44"/>
<circle cx="362.5" cy="551.0" r="0.9" fill="#d21a44"/>
<circle cx="362.5" cy="553.5" r="0.9" fill="#d21a44"/>
<circle cx="362.5" cy="556.0" r="0.9" fill="#d21a44"/>
<circle cx="362.5" cy="558.5" r="0.9" fill="#d21a44"/>
<circle cx="362.5" cy="561.5" r="0.9" fill="#d21a44"/>
<circle cx="362.5" cy="564.5" r="0.9" fill="#d21a44"/>
<circle cx="362.5" cy="567.5" r="0.9" fill="#d21a44"/>
<circle cx="362.5" cy="610.0" r="0.9" fill="#d21a44"/>
<circle cx="362.5" cy="612.5" r="0.9" fill="#d21a44"/>
<circle cx="362.5" cy="615.0" r="0.9" fill="#d21a44"/>
<circle cx="362.5" cy="617.5" r="0.9" fill="#d21a44"/>
<circle cx="362.5" cy="620.5" r="0.9" fill="#d21a44"/>
<circle cx="362.5" cy="623.5" r="0.9" fill="#d21a44"/>
<circle cx="362.5" cy="627.0" r="0.9" fill="#d21a44"/>
<circle cx="362.5" cy="630.5" r="0.9" fill="#d21a44"/>
<line x1="410.00" y1="561.30" x2="410.00" y2="605.80" stroke="#8a8a8a" stroke-width="0.8"/>
<line x1="402.50" y1="561.30" x2="419.50" y2="561.30" stroke="#555" stroke-width="0.9"/>
<line x1="402.50" y1="605.80" x2="419.50" y2="605.80" stroke="#555" stroke-width="0.9"/>
<rect x="391.20" y="570.50" width="37.50" height="13.30" fill="#1f4e8c"/>
<line x1="391.20" y1="574.30" x2="428.70" y2="574.30" stroke="#0a2140" stroke-width="1.6"/>
<circle cx="410" cy="545.4" r="0.6" fill="#888"/>
<circle cx="410" cy="557.0" r="0.6" fill="#888"/>
<circle cx="410" cy="607.5" r="0.6" fill="#888"/>
<text x="317.00" y="645.80" font-size="8.2" fill="#141414">MECOM</text>
<text x="362.50" y="645.80" font-size="8.2" text-anchor="middle" fill="#141414">low</text>
<text x="409.50" y="645.80" font-size="8.2" text-anchor="middle" fill="#141414">high</text>
<text x="386.10" y="657.90" font-size="9.8" text-anchor="middle" font-weight="bold" fill="#1a1a1a" textLength="21" lengthAdjust="spacingAndGlyphs">92%ile</text>
<text x="358.00" y="670.60" font-size="8.3" fill="#141414"><tspan font-style="italic">P</tspan> value = .0089</text>
</svg></body></html>
